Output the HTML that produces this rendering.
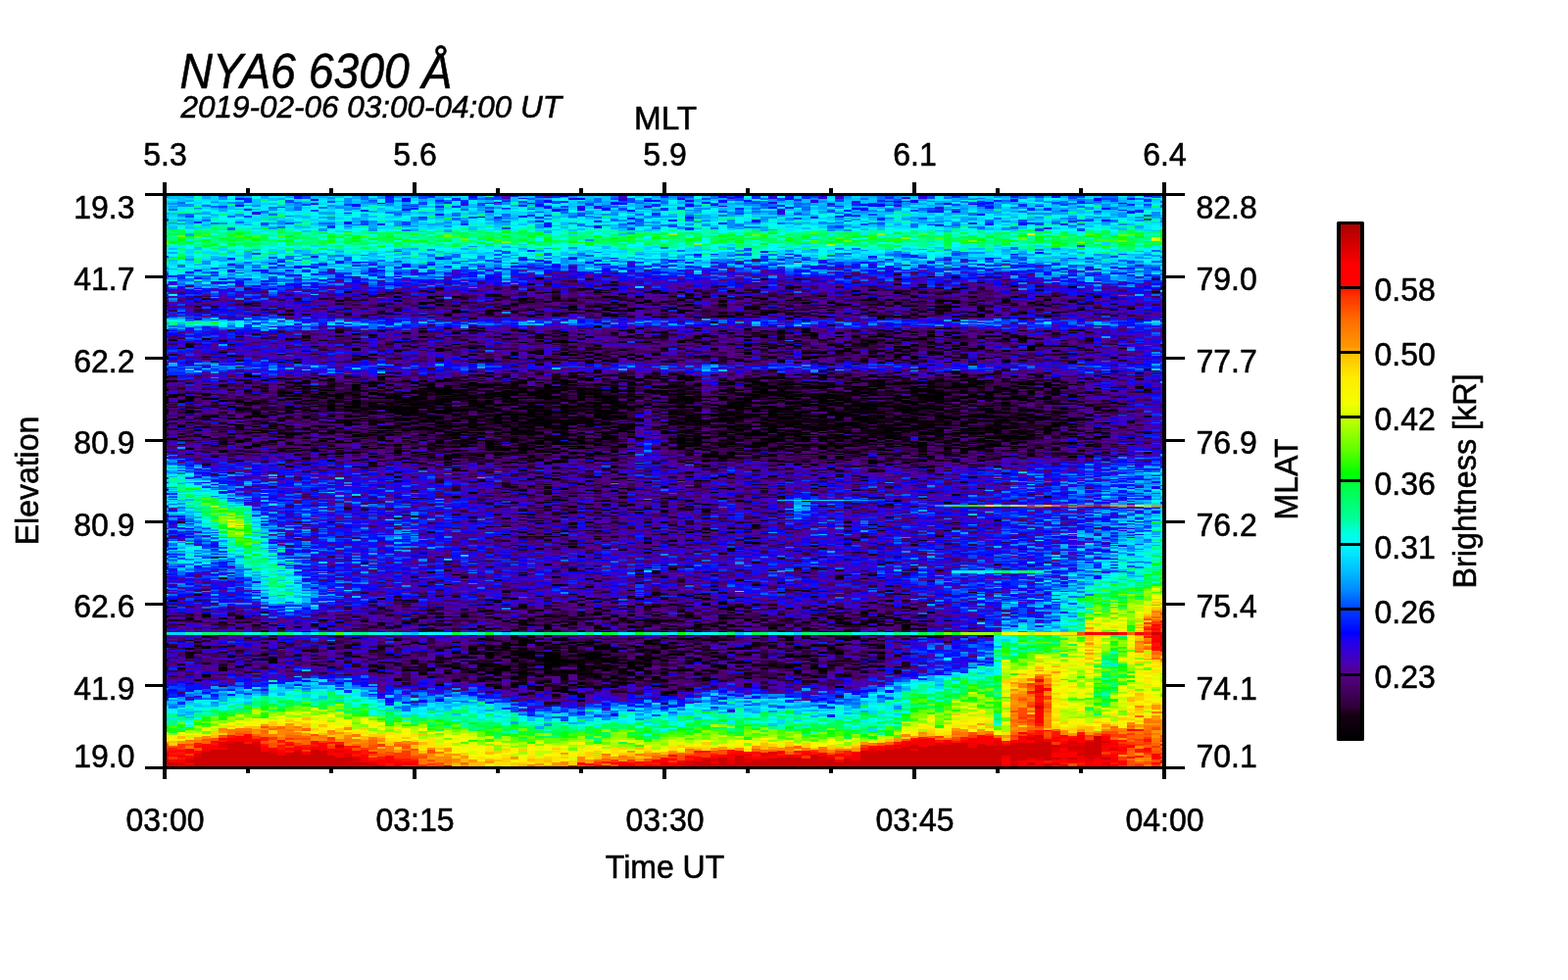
<!DOCTYPE html>
<html lang="en"><head><meta charset="utf-8"><title>NYA6 6300 Å keogram</title>
<style>
html,body{margin:0;padding:0;background:#fff;overflow:hidden}
svg{display:block}
text{font-family:"Liberation Sans",sans-serif;fill:#000;stroke:#000;stroke-width:0.55}
</style></head>
<body>
<svg width="1600" height="1000" viewBox="0 0 1600 1000" font-size="32">
<rect width="1600" height="1000" fill="#fff"/>
<defs><clipPath id="c"><rect x="170" y="200" width="1016" height="582"/></clipPath>
<linearGradient id="g" x1="0" y1="1" x2="0" y2="0"><stop offset="0.000" stop-color="#000"/><stop offset="0.050" stop-color="#180016"/><stop offset="0.060" stop-color="#2c0034"/><stop offset="0.125" stop-color="#560084"/><stop offset="0.150" stop-color="#4600b9"/><stop offset="0.190" stop-color="#20e"/><stop offset="0.205" stop-color="#00f"/><stop offset="0.250" stop-color="#003cff"/><stop offset="0.290" stop-color="#008cff"/><stop offset="0.330" stop-color="#00c4ff"/><stop offset="0.376" stop-color="#00f8ff"/><stop offset="0.400" stop-color="#00ffe1"/><stop offset="0.430" stop-color="#00ff96"/><stop offset="0.490" stop-color="#00ff46"/><stop offset="0.515" stop-color="#0f0"/><stop offset="0.560" stop-color="#60ff00"/><stop offset="0.610" stop-color="#b0ff00"/><stop offset="0.650" stop-color="#f4ff00"/><stop offset="0.700" stop-color="#ffec00"/><stop offset="0.745" stop-color="#ffc000"/><stop offset="0.760" stop-color="#ff9800"/><stop offset="0.810" stop-color="#ff6e00"/><stop offset="0.860" stop-color="#ff3000"/><stop offset="0.882" stop-color="#f00"/><stop offset="0.919" stop-color="#f00"/><stop offset="1.000" stop-color="#a80000"/></linearGradient></defs>
<g clip-path="url(#c)"><rect x="170" y="200" width="1016" height="582" fill="#2200ee"/>
<g transform="translate(167.75 200) scale(8.5 1)" fill="none" stroke-width="1" shape-rendering="crispEdges">
<path stroke="#000" d="M0 165v2m0 21v2m0 7v2m0 6v2m0 7v1m0 5v1m0 11v2m1-31v3m0 21v1m0 184v2m0 18v2m1-232v2m0 5v2m0 15v1m0 7v2m0 6v1m0 3v1m1-43v4m0 7v2m0 1v1m0 1v2m0 35v2m0 172v2m0 12v2m0 18v2m1-229v2m0 20v1m0 193v2m0 10v1m0 26v2m1-294v2m0 21v2m0 48v1m0 151v4m0 29v3m0 14v2m0 10v3m1-285v2m0 5v1m0 9v3m1-67v1m0 48v2m0 3v1m0 26v1m0 224v1m0 15v2m1-321v2m0 50v2m0 7v2m0 8v1m0 240v2m1-267v2m0 4v3m0 12v1m0 2v4m0 5v1m0 6v3m0 227v2m1-372v2m0 72v2m0 12v3m0 24v3m0 7v1m0 20v1m0 178v1m1-216v4m0 12v1m0 5v1m0 11v3m0 181v2m1-252v2m0 10v1m0 23v3m0 24v1m0 184v2m0 3v1m0 19v2m0 5v2m0 3v2m1-251v1m0 4v1m0 244v4m1-285v1m0 7v1m0 6v2m0 12v2m0 6v1m0 3v1m0 8v1m1-54v2m0 9v2m0 4v2m0 6v1m0 20v1m0 6v2m0 2v1m0 22v1m1-71v1m0 2v3m0 1v2m0 8v2m0 25v1m0 13v1m1-100v1m0 29v4m0 2v2m0 15v1m0 5v2m0 5v3m0 9v1m0 9v2m0 5v2m0 26v1m0 162v1m1-292v1m0 31v2m0 9v1m0 5v1m0 5v1m0 5v1m0 31v1m0 11v3m0 175v2m1-241v2m0 1v1m0 12v1m0 3v1m0 1v1m0 6v1m0 7v2m0 13v2m0 9v1m0 2v2m1-79v1m0 11v1m0 4v2m0 3v2m0 3v7m0 10v2m0 2v1m0 3v3m0 6v2m0 9v1m0 197v2m0 2v3m1-357v2m0 93v4m0 1v1m0 10v1m0 10v2m0 1v1m0 4v1m0 13v1m0 6v1m0 4v2m1-75v1m0 17v1m0 6v2m0 7v2m0 4v6m0 5v1m0 10v1m1-107v2m0 8v2m0 35v5m0 5v2m0 4v4m0 1v4m0 1v1m0 5v1m0 7v2m0 9v3m0 4v1m0 7v1m0 2v2m0 187v2m1-248v2m0 10v2m0 6v1m0 2v1m0 14v1m0 12v2m0 176v2m1-294v1m0 47v3m0 1v2m0 5v3m0 2v2m0 7v2m0 1v1m0 1v3m0 7v1m0 2v2m0 9v1m0 21v2m0 173v1m0 4v1m0 37v3m1-375v2m0 4v2m0 57v1m0 7v2m0 9v2m0 4v3m0 2v1m0 3v1m0 2v5m0 2v1m0 9v2m0 4v2m0 2v2m0 4v4m0 7v1m0 152v2m0 23v1m0 24v2m1-326v1m0 55v2m0 11v2m0 4v1m0 6v2m0 6v2m0 8v1m0 2v1m0 3v2m0 17v1m0 204v2m1-367v2m0 2v2m0 88v1m0 5v6m0 1v2m0 3v9m0 4v1m0 13v1m0 11v1m0 5v3m0 2v1m0 63v2m0 108v2m0 36v2m1-339v2m0 47v2m0 10v2m0 1v1m0 4v3m0 1v1m0 3v2m0 3v4m0 1v3m0 2v1m0 1v1m0 5v1m0 6v2m0 19v2m0 2v1m0 53v1m0 86v1m0 22v2m0 31v1m1-280v3m0 2v1m0 3v3m0 3v4m0 3v3m0 1v7m0 4v2m0 3v1m0 4v3m0 5v1m0 5v2m0 4v2m0 3v2m0 168v2m0 12v2m0 26v2m0 8v2m1-372v2m0 22v2m0 4v2m0 7v1m0 35v2m0 2v2m0 2v1m0 4v1m0 4v2m0 3v1m0 3v2m0 2v1m0 1v2m0 5v3m0 5v3m0 4v2m0 4v1m0 22v1m0 157v1m0 25v2m1-356v3m0 33v1m0 52v2m0 2v2m0 14v1m0 5v1m0 1v2m0 5v3m0 1v1m0 2v1m0 2v1m0 11v1m0 3v1m0 21v1m0 147v2m0 1v2m0 56v2m1-380v2m0 81v2m0 7v4m0 6v3m0 2v1m0 2v2m0 2v3m0 2v4m0 2v3m0 1v2m0 3v2m0 3v1m0 5v3m0 2v1m0 169v2m0 2v2m0 2v1m0 41v2m1-357v2m0 66v2m0 3v10m0 1v1m0 2v1m0 1v2m0 4v7m0 7v1m0 4v2m0 4v1m0 2v2m0 11v1m0 3v2m0 2v4m0 6v1m0 185v2m0 24v2m1-377v2m0 3v3m0 20v2m0 10v1m0 41v1m0 4v3m0 3v1m0 1v1m0 8v2m0 1v2m0 2v3m0 3v2m0 2v1m0 1v2m0 2v2m0 1v3m0 2v2m0 11v1m0 3v2m0 8v1m0 112v1m0 77v3m0 9v2m0 2v3m1-346v1m0 53v2m0 1v2m0 1v2m0 3v2m0 21v3m0 4v2m0 6v2m0 6v1m0 1v1m0 1v4m0 6v1m0 17v1m0 147v2m0 44v1m1-339v2m0 16v2m0 31v1m0 2v4m0 9v4m0 1v2m0 4v1m0 9v1m0 2v5m0 3v2m0 4v1m0 2v1m0 1v2m0 2v2m0 50v2m0 137v2m0 2v1m0 2v1m0 12v2m0 4v1m0 2v2m1-335v2m0 52v5m0 9v1m0 5v6m0 1v2m0 5v2m0 5v1m0 4v2m0 2v1m0 7v1m0 8v1m0 9v1m0 3v2m0 177v2m0 23v4m0 7v2m1-373v2m0 1v2m0 45v2m0 24v2m0 7v2m0 3v1m0 1v5m0 2v3m0 5v2m0 2v2m0 7v2m0 4v1m0 7v3m0 1v3m0 165v2m0 2v1m0 14v2m0 2v1m0 16v2m0 1v7m0 5v3m0 5v3m0 10v1m1-307v1m0 4v1m0 4v1m0 1v1m0 7v1m0 4v2m0 3v11m0 10v1m0 6v1m0 4v1m0 7v2m0 1v2m0 144v1m0 1v1m0 15v2m0 30v2m0 9v2m0 7v3m0 2v3m0 10v3m1-392v2m0 1v2m0 24v2m0 56v2m0 2v5m0 2v2m0 1v2m0 5v4m0 3v2m0 5v3m0 4v1m0 11v1m0 4v3m0 2v2m0 7v2m0 20v1m0 34v2m0 15v1m0 87v1m0 22v2m0 2v2m0 7v2m0 8v6m1-376v2m0 48v4m0 23v1m0 12v5m0 2v4m0 6v2m0 2v1m0 1v1m0 2v6m0 1v1m0 3v3m0 8v3m0 7v1m0 11v1m0 1v1m0 84v1m0 64v1m0 13v1m0 6v2m0 4v2m0 7v2m0 5v2m0 2v1m0 4v3m0 7v1m0 1v2m0 3v4m1-390v2m0 30v3m0 10v1m0 38v2m0 5v2m0 2v2m0 2v1m0 5v1m0 1v1m0 1v5m0 4v2m0 2v2m0 2v3m0 2v1m0 3v3m0 11v1m0 2v4m0 12v1m0 26v2m0 18v2m0 3v1m0 5v1m0 88v1m0 12v2m0 2v2m0 2v1m0 9v9m0 2v2m0 3v3m0 8v1m0 2v2m0 3v4m1-367v1m0 42v1m0 19v1m0 8v1m0 4v5m0 9v3m0 2v8m0 1v3m0 5v2m0 6v1m0 10v1m0 2v1m0 6v2m0 171v2m0 13v2m0 10v6m0 1v2m0 5v2m0 2v2m1-297v1m0 10v4m0 1v4m0 3v2m0 1v5m0 1v1m0 2v1m0 3v1m0 1v2m0 1v2m0 8v1m0 5v1m0 1v4m0 2v2m0 2v1m0 8v2m0 16v2m0 72v1m0 61v1m0 6v1m0 22v1m0 5v1m0 6v1m0 4v5m0 3v1m0 3v2m1-319v2m0 25v5m0 4v7m0 7v2m0 1v6m0 4v1m0 1v6m0 8v1m0 2v2m0 12v1m0 11v1m0 70v2m0 4v2m0 87v3m0 6v2m0 15v10m0 3v4m0 4v2m1-348v1m0 49v2m0 2v2m0 2v2m0 4v3m0 3v1m0 3v1m0 4v3m0 3v1m0 3v1m0 4v4m0 2v2m0 2v2m0 5v3m0 3v2m0 2v2m0 6v3m0 13v1m0 2v2m0 9v1m0 9v2m0 77v2m0 6v2m0 23v2m0 20v2m0 6v1m0 8v2m0 4v13m0 5v2m0 18v2m1-393v2m0 4v1m0 18v2m0 1v2m0 4v3m0 9v2m0 28v4m0 4v2m0 8v3m0 4v5m0 2v1m0 4v1m0 4v3m0 1v3m0 3v2m0 5v1m0 2v1m0 8v1m0 9v2m0 38v1m0 16v1m0 106v1m0 2v2m0 11v2m0 4v2m0 14v4m0 3v1m0 3v4m0 5v2m0 11v2m1-395v2m0 35v1m0 35v1m0 11v1m0 1v1m0 10v1m0 10v2m0 2v1m0 3v1m0 1v3m0 8v1m0 5v2m0 2v2m0 1v1m0 1v1m0 3v2m0 3v2m0 37v2m0 10v1m0 4v2m0 9v1m0 3v2m0 18v2m0 81v1m0 5v2m0 4v1m0 2v2m0 1v1m0 5v2m0 2v2m0 3v4m0 8v3m0 10v2m0 5v2m1-347v1m0 4v1m0 17v1m0 9v1m0 1v1m0 2v1m0 2v2m0 2v3m0 4v1m0 5v1m0 6v1m0 2v3m0 1v1m0 1v1m0 6v1m0 7v4m0 2v3m0 4v1m0 3v1m0 26v2m0 33v1m0 87v2m0 10v1m0 2v2m0 22v1m0 1v2m0 8v3m0 8v7m0 2v2m0 7v3m1-356v2m0 42v2m0 7v2m0 3v2m0 11v2m0 4v2m0 6v5m0 9v2m0 18v2m0 3v1m0 27v1m0 4v1m0 13v1m0 17v2m0 65v1m0 35v2m0 18v1m0 9v8m0 6v2m1-329v2m0 7v2m0 20v2m0 6v2m0 5v1m0 2v2m0 1v2m0 5v4m0 2v3m0 1v5m0 7v1m0 7v1m0 8v1m0 1v3m0 5v4m0 6v1m0 15v2m0 15v1m0 34v1m0 38v1m0 46v4m0 19v2m0 5v2m0 2v5m0 1v7m0 5v2m0 3v2m0 7v2m1-390v2m0 9v4m0 2v2m0 66v1m0 4v2m0 3v2m0 5v4m0 2v2m0 6v2m0 1v2m0 2v2m0 3v4m0 2v2m0 2v3m0 2v4m0 13v2m0 14v2m0 34v1m0 5v1m0 31v1m0 69v2m0 6v2m0 8v1m0 3v1m0 14v4m0 4v2m0 2v2m0 1v2m0 6v3m1-398v2m0 1v2m0 16v1m0 4v2m0 7v1m0 59v2m0 5v2m0 2v1m0 1v2m0 2v2m0 2v3m0 2v7m0 2v5m0 2v2m0 2v1m0 3v1m0 2v2m0 1v3m0 19v2m0 2v1m0 3v2m0 18v2m0 7v1m0 2v2m0 21v1m0 103v2m0 31v4m0 6v1m0 4v2m0 12v4m0 6v3m1-403v2m0 36v1m0 18v2m0 31v1m0 8v2m0 9v2m0 2v4m0 3v2m0 2v4m0 4v2m0 2v4m0 10v1m0 2v1m0 9v1m0 20v1m0 31v1m0 113v1m0 42v1m0 2v2m0 4v3m0 11v2m1-382v2m0 24v2m0 21v2m0 22v2m0 4v2m0 1v2m0 8v1m0 5v2m0 16v5m0 3v2m0 3v2m0 14v1m0 37v1m0 102v1m0 15v2m0 3v2m0 14v2m0 17v2m0 15v5m0 1v2m0 5v2m1-376v2m0 18v2m0 28v1m0 23v1m0 16v1m0 7v2m0 13v2m0 3v2m0 11v2m0 51v1m0 20v1m0 89v2m0 31v1m0 15v2m0 8v4m0 7v5m0 5v3m1-387v3m0 11v2m0 61v1m0 14v1m0 13v2m0 2v1m0 78v1m0 22v2m0 33v2m0 71v1m0 26v4m0 5v2m0 9v2m0 2v2m0 5v4m1-392v2m0 25v1m0 20v1m0 5v1m0 42v3m0 2v2m0 5v2m0 13v1m0 206v2m0 4v2m0 17v2m0 2v2m0 5v4m0 3v3m0 17v4m0 5v2m1-394v2m0 11v1m0 17v2m0 28v2m0 14v1m0 1v2m0 5v2m0 15v1m0 11v1m0 18v2m0 183v1m0 14v2m0 1v2m0 4v2m0 9v2m0 19v2m0 21v3m1-319v1m0 3v2m0 7v1m0 4v2m0 2v1m0 7v4m0 2v2m0 5v2m0 6v3m0 4v2m0 7v2m0 19v1m0 73v2m0 94v2m0 15v1m0 18v2m0 20v3m1-403v2m0 11v2m0 28v2m0 33v4m0 15v1m0 1v2m0 6v4m0 10v2m0 4v1m0 2v2m0 6v1m0 3v6m0 2v4m0 81v1m0 17v1m0 68v2m0 22v2m0 30v2m1-386v2m0 3v1m0 5v2m0 4v2m0 68v2m0 7v3m0 8v6m0 2v2m0 2v1m0 4v4m0 1v2m0 2v2m0 4v5m0 1v1m0 4v1m0 4v2m0 3v1m0 9v1m0 27v1m0 44v1m0 75v1m0 9v1m0 22v2m0 17v2m0 5v1m1-365v2m0 8v2m0 17v2m0 4v2m0 13v1m0 21v1m0 5v3m0 5v2m0 4v1m0 10v4m0 2v2m0 3v1m0 1v2m0 5v1m0 1v1m0 3v1m0 2v2m0 1v3m0 1v2m0 8v1m0 27v1m0 118v2m0 26v4m0 3v2m0 4v2m0 4v2m0 13v4m0 12v2m1-326v1m0 58v2m0 18v1m0 3v2m0 3v1m0 6v2m0 3v2m0 11v1m0 44v2m0 15v3m0 2v1m0 3v1m0 35v1m0 32v2m0 69v1m1-346v1m0 13v1m0 56v1m0 2v2m0 1v2m0 1v2m0 11v2m0 24v5m0 21v2m0 13v1m0 38v1m0 59v2m0 60v1m0 1v2m0 6v2m0 9v2m1-385v2m0 61v1m0 23v1m0 1v2m0 6v1m0 6v2m0 6v3m0 1v1m0 3v1m0 1v1m0 2v4m0 3v3m0 6v2m0 8v3m0 15v1m0 14v2m0 133v2m0 5v1m0 7v2m0 7v2m0 24v2m0 6v3m1-385v2m0 24v2m0 15v2m0 9v2m0 39v2m0 3v1m0 14v6m0 2v3m0 1v1m0 2v2m0 1v1m0 1v2m0 1v3m0 4v1m0 3v1m0 1v2m0 2v3m0 7v3m0 78v2m0 15v2m0 60v2m0 25v2m0 11v2m0 12v2m1-357v2m0 46v1m0 32v2m0 3v2m0 1v9m0 7v1m0 1v1m0 5v3m0 1v3m0 2v2m0 4v2m0 159v1m0 50v3m0 13v1m0 2v2m1-346v2m0 6v2m0 1v2m0 2v2m0 8v2m0 2v1m0 3v2m0 23v2m0 2v1m0 4v2m0 2v4m0 3v2m0 1v2m0 4v1m0 3v1m0 6v1m0 1v1m0 7v2m0 9v3m0 83v1m0 13v1m0 77v2m0 10v2m0 12v3m0 6v2m1-346v1m0 62v1m0 3v1m0 5v1m0 2v2m0 1v3m0 5v1m0 4v2m0 1v3m0 1v2m0 11v1m0 2v7m0 7v1m0 3v1m0 2v2m0 3v2m0 1v1m0 67v2m0 16v2m0 79v2m1-332v2m0 14v2m0 15v1m0 5v2m0 6v1m0 33v2m0 3v5m0 1v6m0 9v2m0 1v2m0 3v1m0 5v4m0 2v2m0 8v4m0 2v2m0 2v3m0 11v1m0 41v1m0 119v2m0 2v1m0 6v1m1-321v2m0 34v2m0 37v4m0 2v2m0 2v1m0 2v1m0 8v1m0 2v6m0 2v1m0 7v4m0 1v3m0 6v3m0 6v2m0 1v1m0 3v1m0 117v1m0 57v2m0 16v2m1-323v2m0 7v1m0 22v1m0 15v2m0 4v2m0 5v2m0 2v2m0 2v1m0 1v1m0 7v2m0 1v2m0 4v3m0 2v2m0 3v2m0 1v2m0 1v1m0 1v3m0 2v3m0 7v1m0 3v1m0 174v2m0 48v2m1-383v1m0 12v2m0 3v2m0 25v2m0 36v2m0 1v1m0 3v1m0 2v2m0 3v4m0 1v4m0 3v2m0 4v1m0 2v3m0 4v4m0 3v2m0 1v2m0 3v1m0 4v2m0 5v2m0 10v1m0 168v1m0 8v5m0 2v2m0 9v4m0 8v3m1-379v2m0 17v2m0 18v1m0 9v2m0 28v1m0 19v3m0 1v2m0 2v2m0 2v1m0 1v2m0 1v6m0 1v1m0 2v5m0 1v2m0 2v2m0 1v4m0 7v2m0 6v1m0 197v3m0 24v2m1-380v2m0 25v2m0 1v2m0 25v2m0 22v2m0 18v1m0 2v3m0 4v2m0 2v2m0 2v1m0 1v2m0 4v1m0 1v2m0 2v1m0 1v1m0 1v6m0 3v1m0 15v2m0 4v1m0 107v1m0 56v1m0 18v2m0 11v1m1-363v1m0 6v1m0 22v2m0 22v1m0 23v1m0 3v1m0 1v2m0 4v2m0 2v1m0 3v2m0 1v2m0 11v1m0 2v3m0 4v2m0 1v1m0 4v1m0 2v1m0 5v1m0 45v1m0 71v1m0 51v1m0 4v1m0 2v2m0 6v1m0 29v2m0 7v6m1-372v1m0 46v3m0 21v4m0 4v2m0 2v2m0 5v2m0 3v6m0 4v4m0 4v3m0 9v1m0 1v2m0 1v1m0 3v2m0 1v2m0 5v4m0 2v1m0 3v3m0 28v1m0 19v1m0 51v1m0 96v2m0 2v1m0 13v3m1-378v2m0 6v1m0 6v1m0 27v2m0 39v1m0 1v1m0 4v2m0 1v5m0 1v2m0 1v3m0 6v4m0 3v1m0 1v1m0 3v1m0 2v3m0 7v2m0 2v1m0 2v1m0 5v2m0 8v1m0 7v1m0 151v1m0 30v3m1-353v2m0 27v2m0 2v1m0 10v1m0 2v2m0 25v2m0 17v2m0 2v2m0 1v2m0 8v10m0 1v5m0 4v1m0 2v4m0 2v2m0 3v4m0 2v2m0 1v1m0 2v1m0 12v2m0 147v1m0 6v2m0 20v2m0 6v3m0 6v1m0 25v2m1-347v1m0 2v1m0 23v2m0 6v2m0 8v1m0 7v3m0 2v2m0 2v2m0 3v2m0 6v5m0 1v1m0 4v2m0 1v4m0 7v1m0 5v2m0 6v1m0 62v2m0 96v2m0 2v4m0 5v3m0 7v1m0 28v1m1-341v2m0 41v2m0 3v1m0 3v2m0 2v2m0 1v3m0 8v3m0 2v1m0 1v2m0 2v1m0 2v3m0 2v1m0 2v3m0 8v1m0 3v2m0 9v1m0 24v1m0 13v2m0 148v2m1-346v2m0 43v2m0 36v2m0 4v2m0 4v2m0 1v2m0 1v1m0 4v7m0 2v2m0 2v6m0 3v2m0 1v2m0 8v2m0 3v1m0 2v1m0 8v2m0 159v2m0 42v2m1-357v1m0 7v2m0 20v1m0 4v2m0 13v2m0 17v3m0 9v1m0 1v2m0 4v2m0 2v2m0 1v1m0 2v3m0 1v2m0 11v4m0 2v1m0 2v2m0 4v1m0 4v2m0 2v1m0 4v1m0 11v4m0 1v1m0 59v1m0 102v2m0 7v2m0 8v2m1-344v1m0 26v2m0 13v2m0 3v2m0 21v1m0 1v3m0 2v2m0 1v2m0 6v1m0 6v2m0 5v1m0 1v3m0 2v4m0 1v1m0 1v1m0 1v3m0 6v1m0 1v1m0 2v2m0 2v1m0 7v1m0 3v1m0 77v1m0 86v2m0 6v2m0 21v3m0 3v2m1-362v2m0 4v2m0 9v1m0 14v2m0 10v2m0 16v2m0 15v2m0 1v1m0 7v1m0 2v2m0 3v1m0 2v1m0 3v1m0 26v5m0 1v5m0 11v1m0 2v2m0 47v1m0 125v2m1-350v2m0 7v2m0 8v1m0 13v2m0 20v2m0 10v3m0 2v4m0 25v1m0 12v1m0 4v1m0 6v3m0 6v2m0 5v3m0 2v4m0 1v2m0 1v1m0 2v2m0 6v1m0 9v1m0 44v2m0 118v2m0 13v2m0 21v2m0 10v2m1-371v2m0 34v1m0 5v3m0 5v2m0 4v1m0 22v2m0 4v1m0 2v1m0 5v2m0 1v4m0 1v3m0 1v5m0 1v2m0 4v2m0 2v1m0 2v2m0 2v1m0 5v1m0 1v3m0 2v2m0 16v2m0 159v1m0 4v4m0 25v2m1-357v2m0 2v2m0 3v2m0 23v2m0 4v2m0 3v1m0 6v4m0 14v2m0 7v2m0 2v3m0 1v3m0 10v3m0 1v2m0 1v2m0 1v2m0 4v2m0 5v2m0 8v1m0 9v1m0 10v1m0 170v2m0 11v1m1-360v1m0 16v1m0 9v2m0 26v2m0 40v1m0 1v3m0 6v2m0 2v3m0 2v1m0 2v1m0 3v3m0 5v2m0 2v1m0 4v2m0 7v4m0 3v2m0 2v3m0 9v1m0 4v3m0 5v2m0 73v1m0 75v2m0 9v1m0 10v1m1-335v2m0 24v3m0 4v2m0 3v2m0 3v3m0 19v2m0 12v1m0 2v4m0 3v2m0 8v1m0 18v4m0 4v2m0 3v4m0 4v1m0 13v1m0 6v2m0 2v1m0 135v1m0 8v2m1-320v2m0 4v2m0 21v1m0 22v2m0 28v1m0 11v8m0 1v3m0 5v2m0 2v1m0 2v2m0 10v5m0 2v3m0 5v1m0 17v1m0 178v1m1-343v2m0 4v2m0 25v1m0 1v2m0 1v1m0 4v2m0 5v2m0 21v1m0 22v2m0 5v1m0 5v1m0 7v3m0 3v2m0 3v1m0 1v2m0 4v2m0 2v1m0 4v2m0 3v3m0 1v1m0 1v1m0 170v1m1-340v2m0 10v2m0 4v2m0 29v1m0 8v2m0 1v2m0 23v2m0 2v2m0 5v5m0 11v2m0 8v1m0 1v1m0 5v4m0 5v1m0 6v2m0 4v2m0 4v1m0 191v1m1-353v2m0 56v2m0 1v1m0 10v1m0 17v2m0 2v2m0 2v1m0 2v1m0 3v2m0 5v2m0 2v1m0 11v1m0 2v2m0 5v4m0 2v2m0 2v2m0 2v2m0 4v1m0 5v6m0 28v2m1-175v1m0 69v2m0 2v1m0 1v1m0 7v3m0 5v1m0 6v2m0 5v2m0 1v2m0 2v1m0 2v1m0 1v2m0 1v1m0 1v2m0 7v1m0 1v1m0 1v1m0 1v1m0 1v1m0 17v1m0 9v2m1-175v1m0 6v2m0 66v2m0 9v2m0 2v2m0 1v2m0 6v1m0 2v2m0 3v5m0 9v1m0 4v2m0 2v1m0 3v1m0 4v4m0 7v1m0 4v1m1-129v2m0 44v1m0 10v8m0 7v1m0 3v4m0 1v1m0 1v2m0 2v2m0 4v3m0 7v3m0 1v1m0 4v1m0 3v3m1-140v1m0 26v1m0 15v1m0 34v2m0 12v1m0 5v1m0 4v2m0 2v2m0 3v2m0 3v5m0 3v2m0 2v2m0 1v3m1-171v1m0 38v1m0 20v2m0 21v2m0 25v3m0 7v3m0 2v3m0 7v2m0 7v1m0 6v2m0 7v6m1-108v2m0 38v2m0 4v2m0 2v2m0 2v3m0 5v3m0 18v1m0 5v1m0 2v2m0 2v1m0 4v2m0 1v1m0 3v3m0 5v1m1-173v1m0 57v2m0 44v2m0 1v1m0 4v1m0 4v1m0 1v2m0 3v1m0 5v2m0 3v2m0 3v2m0 9v1m0 1v2m0 3v4m1-97v6m0 23v1m0 10v1m0 3v1m0 2v2m0 4v1m0 3v1m0 7v3m0 3v1m0 1v2m0 17v1m0 3v1m0 9v1m1-157v1m0 7v2m0 3v2m0 74v2m0 2v2m0 8v2m0 18v4m0 8v2m0 7v1m0 9v2m1-153v2m0 4v2m0 67v1m0 6v1m0 2v4m0 1v1m0 3v1m0 6v2m0 1v1m0 17v2m0 5v4m1-120v2m0 37v2m0 33v2m0 2v2m0 3v2m0 8v1m0 19v4m0 3v2m0 16v2m0 4v1m1-113v1m0 2v1m0 7v1m0 39v1m0 10v1m0 2v2m0 3v1m0 41v1m1-171v2m0 74v2m0 22v1m0 33v4m0 2v1m0 2v1m0 6v2m0 1v1m0 10v1m0 5v2m0 1v2m1-78v2m0 36v2m0 25v1m0 4v1m1-94v2m0 31v1m0 23v2m0 2v2m1-126v1m0 79v1m0 12v1m0 24v1m0 23v1m1-31v1m0 15v1m0 5v1m0 3v2m0 2v2m2-36v2m3 29v1m0 9v1m0 8v2"/>
<path stroke="#090008" d="M0 163v2m0 19v2m0 18v1m0 3v4m0 16v2m0 14v1m0 2v2m0 12v1m1-116v2m0 40v2m0 25v1m0 31v2m0 170v1m1-195v1m0 251v2m1-326v2m0 46v1m0 6v2m0 9v1m0 8v1m0 2v1m0 221v1m1-249v1m0 10v1m0 216v2m0 23v2m1-296v1m0 38v1m0 23v2m0 16v2m0 202v2m1-283v2m0 96v1m0 101v2m1-178v2m0 26v1m0 10v1m0 18v2m0 9v1m0 184v1m1-250v2m0 43v2m0 2v1m0 35v1m0 187v1m1-244v1m0 35v1m0 164v4m0 8v2m0 39v1m1-292v2m0 18v2m0 4v2m0 20v1m0 17v1m1-148v1m0 11v1m0 61v2m0 44v2m0 7v2m0 4v1m0 227v2m1-244v3m0 6v1m1-29v1m0 3v1m0 18v2m0 1v1m0 4v1m0 227v3m1-304v1m0 15v2m0 14v2m0 23v1m0 18v2m0 12v2m1-141v2m0 73v1m0 7v2m0 10v1m0 4v2m0 29v1m0 5v1m0 17v2m1-108v2m0 19v2m0 2v1m0 6v1m0 7v3m1-70v2m0 68v1m0 2v1m0 21v2m0 2v1m0 26v1m1-75v1m0 4v1m0 4v2m0 12v2m0 7v2m0 10v1m0 11v1m0 210v2m0 14v1m1-332v1m0 39v2m0 12v2m0 2v2m0 23v1m0 16v1m0 184v2m0 6v3m0 35v2m1-257v2m0 16v2m0 26v2m0 61v1m0 147v2m1-373v2m0 27v2m0 2v2m0 61v1m0 7v2m0 22v1m0 13v1m0 182v2m0 10v1m1-350v2m0 101v2m0 16v2m0 5v1m0 2v1m0 192v1m0 43v2m1-310v1m0 39v2m0 6v1m0 6v1m0 6v2m0 7v1m0 40v1m0 159v1m1-330v1m0 20v2m0 72v1m0 49v1m0 22v2m0 104v2m1-234v1m0 22v1m0 46v2m0 8v1m0 18v1m0 20v2m0 7v1m0 3v1m0 137v2m0 2v1m0 45v1m0 14v3m1-300v1m0 4v2m0 2v2m0 47v1m0 13v1m0 21v1m0 143v2m0 15v2m0 42v3m1-364v2m0 76v2m0 5v1m0 7v1m0 1v4m0 16v2m1-116v1m0 36v2m0 75v2m0 26v1m0 5v2m0 182v2m1-308v1m0 1v1m0 3v2m0 53v1m0 7v1m0 2v3m0 11v1m0 5v1m0 21v1m0 196v1m0 25v2m1-277v1m0 13v1m0 9v1m0 31v1m0 168v2m1-327v3m0 88v2m0 1v2m0 1v1m0 3v2m0 1v2m0 11v1m0 35v1m0 1v1m0 13v2m0 158v2m0 47v3m1-335v1m0 38v2m0 2v3m0 13v2m0 8v3m0 11v2m0 3v1m0 10v2m0 3v1m0 124v2m0 96v2m1-381v1m0 7v2m0 43v4m0 42v2m0 7v2m0 26v1m0 10v1m0 118v1m0 39v1m0 29v1m0 3v2m0 34v2m1-358v1m0 63v2m0 20v1m0 3v2m0 54v2m0 1v2m0 99v2m0 22v1m0 32v1m0 6v2m0 33v2m0 5v3m1-379v2m0 83v1m0 9v1m0 57v2m0 3v1m0 9v1m0 184v1m0 14v2m0 21v3m1-379v2m0 65v2m0 15v1m0 4v2m0 6v1m0 2v3m0 14v1m0 8v1m0 5v1m0 14v1m0 123v2m0 31v2m0 46v1m0 13v1m1-336v2m0 2v1m0 16v1m0 40v3m0 4v2m0 14v2m0 17v1m0 9v2m0 27v1m0 35v2m0 153v1m0 1v3m1-335v2m0 13v2m0 13v2m0 61v2m0 16v3m0 23v1m0 133v2m0 13v1m0 52v5m1-396v1m0 6v1m0 72v2m0 1v2m0 13v2m0 3v3m0 14v1m0 28v1m0 3v1m0 3v2m0 3v1m0 6v1m0 33v1m0 154v3m1-348v1m0 2v2m0 38v1m0 36v1m0 6v2m0 5v1m0 5v2m0 4v1m0 14v1m0 18v1m0 4v2m0 1v1m0 223v2m0 5v3m1-373v1m0 77v2m0 21v1m0 17v1m0 57v1m0 2v1m0 34v1m0 71v2m0 33v2m0 25v1m1-355v2m0 59v1m0 12v6m0 16v1m0 5v1m0 3v2m0 14v5m0 6v2m0 2v1m0 155v2m0 38v1m0 47v4m1-315v1m0 2v2m0 5v2m0 6v2m0 26v2m0 27v1m0 40v2m0 37v2m0 42v1m0 82v3m0 35v2m1-402v2m0 6v2m0 41v3m0 25v2m0 23v2m0 17v3m0 6v2m0 1v1m0 9v1m0 5v1m0 46v1m0 125v1m0 16v3m0 35v2m0 11v2m1-384v2m0 1v2m0 25v2m0 12v1m0 28v1m0 11v1m0 21v2m0 1v1m0 5v2m0 2v1m0 4v1m0 90v2m0 107v1m0 12v3m0 31v2m0 5v2m0 2v5m1-398v2m0 88v4m0 35v1m0 23v1m0 10v2m0 23v3m0 13v1m0 3v2m0 119v2m0 16v2m0 5v1m0 12v3m0 4v4m1-383v2m0 53v1m0 7v2m0 32v2m0 9v1m0 3v1m0 14v1m0 16v4m0 9v1m0 15v1m0 5v2m0 76v1m0 91v2m0 3v1m0 5v1m0 15v2m0 7v2m1-329v2m0 24v2m0 24v1m0 5v2m0 2v2m0 4v2m0 3v1m0 8v1m0 2v2m0 2v1m0 1v2m0 1v1m0 10v2m0 30v2m0 42v1m0 2v2m0 105v2m0 22v3m0 10v3m0 8v5m1-389v1m0 66v2m0 5v1m0 1v2m0 14v1m0 5v2m0 2v2m0 8v1m0 7v1m0 3v1m0 75v1m0 25v1m0 8v2m0 27v2m0 31v2m0 16v2m1-339v1m0 50v2m0 44v1m0 4v2m0 1v2m0 2v2m0 3v1m0 2v1m0 1v2m0 11v2m0 17v2m0 177v1m0 48v5m0 22v2m0 12v2m1-353v2m0 20v2m0 23v2m0 5v2m0 14v3m0 15v2m0 4v1m0 6v2m0 19v1m0 4v2m0 62v1m0 25v1m0 9v2m0 6v1m0 32v1m0 24v2m0 29v2m1-392v2m0 13v1m0 53v1m0 36v1m0 4v1m0 17v1m0 5v1m0 11v1m0 3v2m0 79v1m0 83v2m0 5v2m0 16v4m0 29v2m0 7v1m0 6v3m0 10v3m1-295v2m0 10v1m0 2v2m0 2v1m0 26v1m0 15v1m0 44v1m0 125v2m0 30v1m0 4v3m1-342v2m0 56v2m0 7v2m0 18v1m0 4v1m0 9v2m0 3v3m0 21v1m0 4v2m0 15v1m0 47v1m0 88v1m0 15v1m0 18v2m0 5v4m0 4v3m1-372v2m0 4v1m0 3v1m0 27v2m0 35v2m0 53v1m0 13v2m0 27v1m0 76v2m0 59v1m0 39v2m0 22v3m0 4v2m1-380v2m0 20v2m0 23v2m0 21v4m0 3v2m0 9v2m0 3v1m0 8v1m0 97v2m0 118v2m0 44v1m0 4v3m1-386v2m0 4v2m0 31v1m0 25v1m0 47v1m0 107v1m0 132v1m0 6v3m1-318v1m0 35v2m0 11v1m0 1v2m0 217v1m0 13v2m0 4v2m0 17v1m0 18v1m1-339v2m0 20v3m0 17v2m0 18v2m0 12v2m0 145v1m0 20v2m1-286v2m0 13v1m0 41v2m0 31v2m0 8v4m0 12v3m0 13v2m0 7v2m0 12v2m0 41v2m0 10v1m0 11v2m0 110v3m0 22v2m0 9v2m0 3v2m0 10v3m0 5v3m0 12v2m1-408v1m0 11v2m0 52v2m0 39v2m0 4v1m0 111v1m0 7v2m0 43v2m0 50v2m0 21v2m0 3v2m0 5v2m1-372v2m0 17v2m0 69v1m0 1v2m0 2v2m0 2v1m0 8v3m0 13v2m0 6v2m0 9v1m0 3v2m0 52v1m0 106v2m0 16v1m0 17v1m0 13v1m0 2v2m0 6v2m1-368v1m0 82v2m0 2v1m0 15v2m0 21v1m0 2v1m0 20v1m0 20v1m0 13v1m0 23v2m0 7v2m0 30v1m0 55v2m0 55v2m0 10v1m1-366v1m0 25v1m0 69v2m0 6v1m0 9v2m0 4v2m0 4v1m0 9v1m0 9v2m0 14v1m0 39v2m0 31v1m0 59v1m0 85v1m1-351v2m0 61v1m0 5v2m0 15v4m0 13v1m0 19v2m0 2v2m0 43v1m0 95v2m0 40v2m0 21v3m0 5v2m0 6v4m1-340v1m0 13v2m0 38v1m0 14v1m0 2v2m0 27v2m0 8v1m0 171v2m0 5v2m0 22v2m0 7v3m1-375v2m0 14v2m0 13v2m0 1v1m0 56v1m0 1v1m0 2v1m0 1v1m0 35v2m0 7v1m0 14v5m0 95v2m0 48v3m0 13v2m0 24v2m1-337v1m0 44v1m0 22v2m0 4v1m0 14v1m0 55v2m0 30v2m0 119v2m0 4v1m0 1v1m0 9v2m1-236v1m0 17v1m0 2v1m0 1v1m0 30v1m0 8v2m0 158v2m1-326v2m0 8v2m0 45v1m0 28v2m0 2v1m0 8v1m0 3v1m0 4v2m0 11v3m0 11v2m0 2v2m0 20v1m0 159v2m0 50v2m0 14v2m1-379v2m0 34v1m0 37v2m0 7v1m0 7v1m0 1v1m0 3v1m0 5v1m0 35v3m0 23v2m0 67v2m0 46v2m0 53v1m0 27v1m1-388v2m0 16v1m0 7v2m0 21v2m0 10v1m0 2v2m0 5v1m0 69v2m0 2v2m0 16v1m0 42v1m0 32v1m0 100v2m1-270v2m0 19v2m0 14v2m0 7v2m0 2v1m0 1v2m0 6v2m0 2v2m0 8v1m0 8v1m0 15v1m0 191v1m1-339v2m0 20v2m0 3v2m0 6v2m0 13v2m0 27v2m0 2v2m0 2v1m0 37v1m0 27v2m0 56v1m0 75v1m0 44v2m1-317v1m0 59v2m0 5v1m0 17v2m0 9v2m0 23v2m0 207v1m1-346v2m0 29v1m0 15v1m0 24v2m0 6v2m0 8v1m0 40v1m0 22v2m0 87v1m0 39v1m0 66v2m0 6v3m0 3v3m0 6v2m1-368v1m0 32v2m0 31v1m0 1v2m0 11v2m0 12v1m0 11v1m0 2v1m0 197v2m0 32v3m0 18v1m1-351v2m0 44v2m0 3v1m0 3v1m0 28v2m0 2v1m0 9v1m0 10v1m0 14v1m0 9v2m0 19v1m0 61v2m0 93v2m0 19v1m0 16v3m1-391v2m0 11v1m0 7v2m0 72v1m0 6v3m0 7v2m0 13v3m0 2v1m0 3v1m0 9v1m0 187v1m0 8v2m1-315v2m0 60v1m0 1v1m0 21v1m0 16v1m0 8v2m0 6v2m0 2v1m0 15v2m0 145v2m0 21v1m0 36v2m1-274v1m0 5v3m0 216v2m1-284v1m0 6v2m0 35v1m0 2v2m0 3v1m0 4v2m0 7v2m0 36v1m0 63v2m0 35v2m1-260v2m0 23v1m0 37v2m0 10v1m0 15v2m0 20v3m0 12v1m0 7v2m0 14v1m0 3v1m0 12v1m0 9v2m0 201v1m1-360v2m0 25v2m0 4v2m0 13v2m0 27v2m0 20v2m0 2v1m0 7v1m0 11v1m0 5v1m0 41v1m0 145v2m0 42v2m1-387v2m0 6v2m0 42v1m0 12v1m0 38v3m0 8v2m0 6v4m0 5v2m0 14v1m0 1v2m0 19v1m0 13v2m0 104v2m0 44v4m0 15v2m0 12v2m0 7v2m1-340v1m0 3v2m0 27v2m0 13v1m0 5v2m0 2v1m0 17v2m0 22v1m0 4v1m0 4v1m0 9v3m0 48v2m0 122v1m0 13v2m0 23v3m0 6v2m1-338v2m0 66v1m0 2v1m0 14v2m0 4v2m0 15v2m0 148v2m0 40v1m1-361v2m0 23v2m0 28v2m0 8v1m0 3v2m0 28v2m0 14v2m0 3v4m0 6v1m0 4v1m0 6v3m0 5v1m0 10v2m0 17v1m0 170v2m1-315v1m0 21v1m0 13v2m0 44v1m0 11v1m0 11v1m0 39v2m0 136v1m0 12v2m0 12v1m0 7v2m1-350v1m0 7v2m0 94v1m0 5v2m0 4v2m0 14v2m0 2v3m0 4v2m0 1v1m0 10v2m0 3v2m0 17v1m0 20v1m0 124v2m1-325v2m0 23v2m0 72v2m0 7v2m0 6v1m0 15v1m0 3v6m0 15v2m0 4v1m0 172v2m0 6v2m1-304v1m0 50v2m0 14v4m0 3v1m0 2v2m0 1v2m0 8v2m0 29v1m0 4v2m1-151v1m0 26v1m0 16v2m0 20v2m0 10v2m0 26v1m0 4v4m0 2v1m0 20v1m0 194v2m1-335v2m0 71v1m0 5v2m0 4v1m0 9v2m0 13v2m0 3v3m0 29v1m0 70v1m0 6v1m1-260v2m0 24v2m0 29v2m0 37v2m0 10v1m0 23v1m0 42v1m0 10v2m0 34v2m1-157v2m0 49v2m0 2v1m0 5v2m1-110v2m0 4v1m0 84v1m0 11v1m0 37v1m0 13v1m0 16v1m0 39v1m0 89v1m1-291v2m0 6v2m0 18v2m0 8v3m0 27v2m0 6v2m0 2v2m0 32v2m0 28v1m0 3v1m0 3v1m0 31v1m1-182v1m0 98v2m0 6v1m0 13v2m0 4v1m0 5v1m0 1v2m0 194v2m1-308v2m0 54v1m0 6v2m0 4v1m0 18v2m0 3v1m0 8v1m0 30v2m1-171v1m0 82v1m0 9v1m0 1v2m0 13v2m0 7v2m0 1v1m0 5v2m0 8v1m0 10v1m1-165v2m0 9v2m0 7v1m0 29v2m0 57v2m0 2v1m0 23v1m0 2v1m0 8v2m0 4v1m0 10v1m1-140v2m0 47v1m0 19v1m0 20v1m0 6v2m0 9v1m0 2v1m0 20v2m0 15v1m0 92v1m1-171v2m0 36v2m0 9v2m0 2v1m0 3v1m0 14v4m1-115v2m1 41v1m0 9v2m0 4v1m0 14v2m0 11v4m0 20v1m1-75v2m0 8v2m0 12v1m0 7v2m0 13v1m0 10v1m0 5v2m1-59v2m0 27v2m0 2v1m0 2v4m0 7v2m0 7v1m1-113v1m0 13v1m0 16v1m0 31v4m0 11v1m0 33v2m1-138v2m0 87v1m0 35v1m1-85v2m0 55v2m0 26v1m1-128v1m0 78v1m0 21v4m0 17v2m0 3v1m0 4v2m1-37v1m0 6v2m0 4v1m0 33v1m0 5v1m1-150v2m0 47v2m1 39v1m1-92v2m0 113v1m1-44v2m0 6v2m1 28v2"/>
<path stroke="#110010" d="M0 190v1m0 16v1m0 9v3m0 14v1m0 15v1m0 168v2m0 7v2m0 26v3m1-31v1m1-274v1m0 52v1m0 8v1m0 20v1m0 10v1m0 82v2m0 94v1m0 8v1m0 43v2m1-332v2m0 70v1m0 25v1m0 13v1m0 197v2m0 4v5m1-253v2m0 14v2m0 6v1m0 162v2m1-263v2m0 19v1m0 39v2m0 27v2m1-27v1m0 36v2m0 1v1m0 3v2m1-62v1m0 37v1m0 2v1m0 16v2m0 5v2m0 169v2m0 2v2m0 11v2m0 34v2m1-329v1m0 69v2m0 8v1m0 13v1m0 207v2m1-293v2m0 5v1m0 33v1m0 9v2m0 17v2m0 31v1m1-90v2m0 29v2m0 27v2m0 4v2m0 8v1m0 192v2m0 16v1m0 5v2m1-336v2m0 52v2m0 14v3m0 10v3m0 6v1m0 28v1m1-67v2m0 12v1m0 5v3m0 22v2m0 9v2m0 171v2m0 17v2m1-259v1m0 33v1m0 12v1m0 15v3m0 9v1m0 189v2m1-292v1m0 36v2m0 3v2m0 33v1m0 2v1m0 7v1m0 190v2m0 13v1m0 5v1m1-346v2m0 27v2m0 5v1m0 34v1m0 28v1m0 1v2m0 14v1m0 2v2m0 2v1m0 2v2m0 6v2m1-88v2m0 28v1m0 44v2m0 11v1m0 8v2m0 174v2m0 27v2m1-323v1m0 48v2m0 1v3m0 6v2m0 48v2m0 6v2m0 195v2m1-245v1m0 13v1m1-52v2m0 8v1m0 1v1m0 40v1m0 4v2m0 23v1m1-150v2m0 64v1m0 3v2m0 2v4m0 7v1m0 7v3m0 12v1m0 1v1m0 26v2m0 6v2m0 210v2m1-340v2m0 53v1m0 17v2m0 54v1m1-147v3m0 62v1m0 24v1m0 1v2m0 3v2m0 23v2m0 18v2m0 156v1m0 26v2m0 10v4m0 6v2m0 18v1m1-349v2m0 6v2m0 12v2m0 3v1m0 61v1m0 10v2m0 6v2m0 14v1m0 11v1m0 180v2m0 10v2m1-308v2m0 25v2m0 6v2m0 18v1m0 10v1m0 8v1m0 4v2m0 2v1m1-104v1m0 16v2m0 29v1m0 17v2m0 16v1m0 1v2m0 7v1m0 17v1m0 14v2m1-174v1m0 36v2m0 95v2m0 8v2m0 10v1m0 13v1m0 150v1m0 36v2m0 25v2m1-307v1m0 2v2m0 16v3m0 16v2m0 1v2m0 4v2m0 6v1m0 11v1m0 177v2m0 29v2m1-362v2m0 48v2m0 34v1m0 4v1m0 35v2m0 1v2m0 24v2m0 25v1m0 4v2m0 123v2m0 27v1m0 51v3m1-290v2m0 22v1m0 198v1m0 5v1m1-234v1m0 7v2m0 3v1m0 8v1m0 76v1m0 7v1m0 17v2m0 84v1m0 13v1m0 28v2m0 18v3m0 2v2m1-361v1m0 13v1m0 61v2m0 5v1m0 9v1m0 8v2m0 10v1m0 19v1m0 185v2m1-346v2m0 9v2m0 3v2m0 8v1m0 78v2m0 4v3m0 4v2m0 1v1m0 10v1m0 11v1m0 2v1m0 12v1m0 2v1m0 1v2m0 2v2m0 74v2m0 92v2m0 4v2m0 30v2m0 14v2m1-399v2m0 100v2m0 8v2m0 11v1m0 29v1m0 213v3m0 5v3m0 25v2m1-366v2m0 4v1m0 15v2m0 47v2m0 15v1m0 8v3m0 2v2m0 3v1m0 5v2m0 158v1m1-223v1m0 16v2m0 3v2m0 8v1m0 12v1m0 13v2m0 3v3m0 13v2m0 11v3m0 25v2m1-205v1m0 4v1m0 37v2m0 15v2m0 23v1m0 10v2m0 4v1m0 3v1m0 216v2m0 42v2m1-311v2m0 3v2m0 10v2m0 16v3m0 14v1m0 11v2m0 5v1m0 6v1m0 8v1m0 5v2m0 8v1m0 194v2m0 2v1m0 1v2m0 7v4m1-344v2m0 66v3m0 4v2m0 9v1m0 12v1m0 8v2m0 26v1m0 19v2m0 147v2m0 23v4m0 12v5m1-367v1m0 75v2m0 4v1m0 17v2m0 11v1m0 6v1m0 20v1m0 53v2m0 22v1m0 40v1m0 32v2m0 16v2m0 21v2m0 7v1m0 18v1m0 9v4m1-394v3m0 2v2m0 83v2m0 3v2m0 6v1m0 33v3m0 1v2m0 2v1m0 10v2m0 53v1m0 5v1m0 7v1m0 119v2m0 11v3m0 16v5m1-337v1m0 19v1m0 15v1m0 1v3m0 6v2m0 1v2m0 10v2m0 21v2m0 44v1m0 18v2m0 16v1m0 89v2m0 12v1m0 1v1m0 4v1m0 30v1m0 2v2m0 2v2m1-372v1m0 18v1m0 53v2m0 22v2m0 19v3m0 48v2m0 13v1m0 6v1m0 12v2m0 2v1m0 11v2m0 137v2m0 8v1m0 4v2m0 3v2m0 23v2m1-392v2m0 134v2m0 4v2m0 2v1m0 1v2m0 4v2m0 5v2m0 10v2m0 40v1m0 25v2m0 67v3m0 15v2m0 27v3m0 12v2m0 3v2m0 4v4m0 3v3m1-410v2m0 4v2m0 6v1m0 17v1m0 83v2m0 3v1m0 5v2m0 15v2m0 2v2m0 2v1m0 5v1m0 3v1m0 14v2m0 1v3m0 16v2m0 5v2m0 28v1m0 1v2m0 15v2m0 39v1m0 15v1m0 30v2m0 20v3m0 13v1m1-388v2m0 20v1m0 34v6m0 11v4m0 5v2m0 3v2m0 22v3m0 20v1m0 11v1m0 15v1m0 6v1m0 6v2m0 51v1m0 17v1m0 15v1m0 80v1m1-331v1m0 42v2m0 6v2m0 59v2m0 12v4m0 1v1m0 15v2m0 2v1m0 5v1m0 2v1m0 28v2m0 5v1m0 7v3m0 14v2m0 26v1m0 27v2m0 40v2m0 9v2m0 12v1m0 17v2m0 32v3m1-400v2m0 6v1m0 14v3m0 25v2m0 11v1m0 7v2m0 10v1m0 2v4m0 8v2m0 29v2m0 2v1m0 14v1m0 59v1m0 8v1m0 15v2m0 10v1m0 3v1m0 81v1m0 4v2m0 2v1m0 47v2m0 20v3m1-359v1m0 4v1m0 8v2m0 26v3m0 5v4m0 6v1m0 12v1m0 2v1m0 9v3m0 3v2m0 19v1m0 35v1m0 21v2m0 16v1m0 12v2m0 40v2m0 29v2m0 10v1m0 47v2m1-383v2m0 6v2m0 37v2m0 3v2m0 1v2m0 2v1m0 2v1m0 11v2m0 6v2m0 5v2m0 6v1m0 5v1m0 6v1m0 9v2m0 2v1m0 6v1m0 5v2m0 58v1m0 30v2m0 18v2m0 26v1m0 23v1m0 27v4m0 21v5m0 19v2m0 22v2m1-390v1m0 20v2m0 43v3m0 43v1m0 10v1m0 4v2m0 64v2m0 52v2m0 39v2m0 2v1m0 14v1m0 15v2m0 40v2m0 4v3m0 13v5m1-418v2m0 8v1m0 11v2m0 36v2m0 3v2m0 6v4m0 28v2m0 3v2m0 20v2m0 10v1m0 8v1m0 162v2m0 61v2m0 6v6m0 2v3m1-374v1m0 13v2m0 21v2m0 20v4m0 15v2m0 1v2m0 9v1m0 4v2m0 3v1m0 8v2m0 16v1m0 8v1m0 43v2m0 39v2m0 4v1m0 1v2m0 18v1m0 22v2m0 79v3m1-380v1m0 1v1m0 22v2m0 40v1m0 3v2m0 17v1m0 16v1m0 10v3m0 11v1m0 14v2m0 38v1m0 11v2m0 13v2m0 13v2m0 7v1m0 23v2m0 92v1m0 4v2m0 22v1m0 10v4m1-402v2m0 6v2m0 12v2m0 2v2m0 46v2m0 24v1m0 20v2m0 27v2m0 3v2m0 4v2m0 2v1m0 21v2m0 12v1m0 51v2m0 85v3m0 58v2m1-354v2m0 18v2m0 19v1m0 3v1m0 16v1m0 5v2m0 21v2m0 12v1m0 7v1m0 30v2m0 9v1m0 3v2m0 2v2m0 4v1m0 100v1m0 17v3m1-296v2m0 64v1m0 12v2m0 8v2m0 8v2m0 80v2m0 87v1m0 12v1m0 5v2m0 4v1m0 4v1m0 53v2m0 2v2m1-350v2m0 12v2m0 22v2m0 3v3m0 10v1m0 16v1m0 210v2m0 5v2m0 34v3m1-381v2m0 50v1m0 15v2m0 44v1m0 26v1m0 52v2m0 17v1m0 21v2m0 14v2m0 10v1m0 2v2m0 14v1m0 51v1m0 36v5m0 6v2m1-296v2m0 48v2m0 7v1m0 93v2m0 44v2m0 18v4m0 10v2m0 4v1m0 10v2m1-322v3m0 24v2m0 10v1m0 40v2m0 5v2m0 30v2m0 1v1m0 65v1m0 12v2m0 4v1m0 9v2m0 10v2m0 6v1m0 35v2m0 15v2m0 2v3m0 47v2m0 38v3m1-321v2m0 9v1m0 2v1m0 2v2m0 13v2m0 2v2m0 9v4m0 6v1m0 12v1m0 6v1m0 49v2m0 69v1m0 36v2m0 20v2m0 30v2m1-361v2m0 34v1m0 4v1m0 45v4m0 1v1m0 5v2m0 8v3m0 17v2m0 12v2m0 11v1m0 3v2m0 18v1m0 27v2m0 102v2m0 9v2m0 29v3m1-321v2m0 53v2m0 17v1m0 24v1m0 1v2m0 3v2m0 9v2m0 16v2m0 18v1m0 32v1m0 5v1m0 2v1m0 34v1m0 47v2m0 1v2m0 9v2m0 16v2m0 14v2m0 6v3m0 17v2m1-407v1m0 6v2m0 38v2m0 12v1m0 25v1m0 2v1m0 9v1m0 5v2m0 4v1m0 14v1m0 3v1m0 4v2m0 5v1m0 2v2m0 6v1m0 2v2m0 174v1m0 3v1m1-333v2m0 46v2m0 56v1m0 23v2m0 6v2m0 13v2m0 17v2m0 3v1m0 10v1m0 28v2m0 84v2m0 8v1m0 20v2m0 3v2m0 2v2m0 15v2m1-342v2m0 4v2m0 2v1m0 14v2m0 33v2m0 20v1m0 24v2m0 11v1m0 8v2m0 7v1m0 38v1m0 97v2m0 50v2m0 2v2m0 37v2m1-386v1m0 1v3m0 5v2m0 75v1m0 11v2m0 9v2m0 2v1m0 1v2m0 18v2m0 9v2m0 41v1m0 9v2m0 118v2m0 4v1m0 5v2m0 10v2m0 27v2m1-286v5m0 5v2m0 13v1m0 5v1m0 1v1m0 6v2m0 7v1m0 3v1m0 4v1m0 8v2m0 72v2m0 21v2m0 46v2m0 19v2m0 7v1m0 25v2m0 5v2m1-332v2m0 11v1m0 10v2m0 19v2m0 8v2m0 19v3m0 1v2m0 4v2m0 22v2m0 5v1m0 2v2m0 46v2m0 79v2m0 25v2m0 10v1m0 11v6m0 26v2m0 14v2m1-378v2m0 3v1m0 3v1m0 28v2m0 2v2m0 28v2m0 24v1m0 23v1m0 10v1m0 43v1m0 19v2m0 29v1m0 50v1m0 25v2m0 10v1m0 6v2m0 21v2m0 23v4m0 7v2m1-404v2m0 6v2m0 7v2m0 25v1m0 38v2m0 5v1m0 5v2m0 1v2m0 10v1m0 17v2m0 4v2m0 19v1m0 17v1m0 24v1m0 33v1m0 8v2m0 77v2m0 37v5m0 17v2m1-395v2m0 98v1m0 17v4m0 1v1m0 1v2m0 5v2m0 17v1m0 13v2m0 3v1m0 7v2m0 74v1m0 5v1m0 103v2m0 28v2m0 1v2m1-376v2m0 7v2m0 20v1m0 45v1m0 24v1m0 22v2m0 11v2m0 4v1m0 13v1m0 3v2m0 4v1m0 9v2m0 20v1m0 130v2m0 6v2m0 28v5m0 10v2m1-350v1m0 37v4m0 3v1m0 6v1m0 22v1m0 3v2m0 4v2m0 16v2m0 4v1m0 2v3m0 15v2m0 18v1m0 12v1m0 14v2m0 120v4m0 23v2m0 8v2m1-389v2m0 5v1m0 10v1m0 4v1m0 22v2m0 5v1m0 11v1m0 32v1m0 10v2m0 10v2m0 2v1m0 9v2m0 60v1m0 130v1m0 55v2m1-395v2m0 6v2m0 53v2m0 76v1m0 15v1m0 5v3m0 187v2m1-333v1m0 12v1m0 17v1m0 3v2m0 59v3m0 5v2m0 22v1m0 18v1m0 1v2m0 1v2m0 3v1m0 47v1m0 90v2m0 15v2m0 24v1m0 4v2m0 35v2m1-346v3m0 8v1m0 4v2m0 2v2m0 3v2m0 11v2m0 20v2m0 1v2m0 10v2m0 19v2m0 12v1m0 30v1m0 94v2m0 76v3m0 13v3m0 18v3m1-378v1m0 26v2m0 22v2m0 6v2m0 6v2m0 27v1m0 6v2m0 7v2m0 1v2m0 8v1m0 5v1m0 3v1m0 24v1m0 7v1m0 3v1m0 111v1m0 16v2m0 36v2m0 21v2m0 3v2m1-369v1m0 25v2m0 15v2m0 12v2m0 2v1m0 3v1m0 5v2m0 24v1m0 1v2m0 8v1m0 6v1m0 4v1m0 46v1m0 140v1m0 1v2m0 14v2m0 10v2m1-308v2m0 5v2m0 32v2m0 4v2m0 4v1m0 30v4m0 7v2m0 16v1m0 1v2m0 15v1m0 1v1m0 100v4m0 29v2m0 3v1m0 7v2m0 15v3m0 10v2m0 22v1m1-378v2m0 36v1m0 4v1m0 11v1m0 36v3m0 15v2m0 2v1m0 14v2m0 13v1m0 11v1m0 69v2m0 113v2m0 3v2m0 30v3m1-391v2m0 10v1m0 23v1m0 13v2m0 6v1m0 37v2m0 2v1m0 17v1m0 6v1m0 15v2m0 1v1m0 9v2m0 5v2m0 87v2m0 11v1m0 63v1m0 8v2m0 13v2m0 29v2m1-385v2m0 14v2m0 67v1m0 53v4m0 7v2m0 1v1m0 5v2m0 26v2m0 102v1m0 35v2m0 6v2m0 17v2m0 1v2m0 26v3m1-382v2m0 11v2m0 38v1m0 3v1m0 24v7m0 4v1m0 16v1m0 7v4m0 7v1m0 5v3m0 26v1m0 43v1m0 100v2m0 6v2m0 55v2m1-359v4m0 20v2m0 51v1m0 6v2m0 6v2m0 21v4m0 2v1m0 26v2m0 7v1m0 57v1m0 37v2m0 12v1m0 43v2m0 18v1m1-295v1m0 31v2m0 22v1m0 6v1m0 4v2m0 4v2m0 7v1m0 6v2m0 3v3m0 10v1m0 5v2m0 39v2m0 11v2m0 83v2m0 15v2m0 3v1m1-356v2m0 110v2m0 19v2m0 4v1m0 24v1m0 29v1m0 132v1m0 25v2m0 13v1m0 37v3m1-388v1m0 4v2m0 16v2m0 12v2m0 46v1m0 9v1m0 30v2m0 4v1m0 5v2m0 22v2m0 13v1m0 5v1m0 167v2m1-350v1m0 3v2m0 29v2m0 1v1m0 15v2m0 9v4m0 29v2m0 14v1m0 20v1m0 49v1m0 66v2m0 23v2m0 34v1m0 24v2m1-351v2m0 70v1m0 21v1m0 6v2m0 13v2m0 7v2m0 11v1m0 25v4m0 1v1m0 46v1m0 127v1m1-355v1m0 29v1m0 75v2m0 2v2m0 1v2m0 4v3m0 7v2m0 2v1m0 15v2m0 6v1m0 3v1m0 205v2m1-358v2m0 13v2m0 7v4m0 29v1m0 36v1m0 10v2m0 8v1m0 5v3m0 6v1m0 2v1m0 14v2m0 4v2m0 12v2m0 7v1m0 75v2m1-250v2m0 14v2m0 18v2m0 27v1m0 5v1m0 24v1m0 5v1m0 17v2m0 29v1m0 4v1m0 57v2m1-192v2m0 2v2m0 16v2m0 18v2m0 1v1m0 31v2m0 8v1m0 11v1m0 17v1m0 3v1m0 5v2m0 3v1m0 1v1m0 8v1m0 4v2m0 61v1m1-213v2m0 38v1m0 1v2m0 16v2m0 9v2m0 1v1m0 16v1m0 16v2m0 8v2m0 13v2m1-101v2m0 11v2m0 15v3m0 2v2m0 16v2m0 3v2m0 7v2m0 5v2m0 7v1m0 9v2m1-162v1m0 18v1m0 8v2m0 26v2m0 9v2m0 8v2m0 25v1m0 12v1m0 31v2m0 8v2m0 1v2m0 23v1m0 3v1m0 151v2m1-322v2m0 6v1m0 18v2m0 17v1m0 7v1m0 15v2m0 7v1m0 16v3m0 24v1m0 5v2m0 13v2m1-77v2m0 12v4m0 9v1m0 12v2m0 10v1m0 3v2m0 7v1m0 16v1m0 5v1m0 61v2m1-225v2m0 2v1m0 27v2m0 16v2m0 8v1m0 18v1m0 26v2m0 3v1m0 8v1m0 2v2m0 33v2m1-172v2m0 51v1m0 64v2m0 6v1m0 2v2m0 7v2m0 20v1m0 9v1m0 7v1m1-137v1m0 4v3m0 2v1m0 9v1m0 31v2m0 4v2m0 6v1m0 1v1m0 14v1m0 11v1m0 9v2m0 11v2m1-149v2m0 34v2m0 42v2m0 8v1m0 2v2m0 4v2m0 21v2m0 13v2m0 7v1m0 4v2m0 116v1m1-283v2m0 10v1m0 74v4m0 21v1m0 7v1m0 2v3m0 3v1m0 18v1m1-122v2m0 13v2m0 61v2m0 17v2m0 1v1m0 19v1m1-142v2m0 7v1m0 28v1m0 12v2m0 31v1m0 9v1m0 4v1m0 2v1m0 12v1m0 2v1m0 7v2m0 29v2m1-142v1m0 45v2m0 23v2m0 26v1m0 34v1m1-146v2m0 51v1m0 47v2m0 9v1m0 18v2m1-139v2m0 6v2m0 25v2m0 16v2m0 53v2m0 2v1m0 49v1m1-118v3m0 37v2m0 12v2m0 45v2m0 1v1m0 2v3m0 8v3m1-166v2m0 137v1m0 14v1m0 2v1m0 3v2m1-144v1m0 63v1m1-75v1m0 10v2m0 72v1m0 2v2m0 10v2m0 5v3m0 33v1m0 11v1m1-114v1m0 2v1m0 6v1m0 100v1m1-34v2m0 14v2m0 5v1m1-74v2m0 14v1m1-21v2m0 19v2m1-102v2m1-5v1"/>
<path stroke="#210024" d="M0 107v1m0 28v2m0 83v2m0 215v1m0 20v2m1-300v2m0 20v2m0 17v1m0 25v1m0 2v2m0 4v2m0 220v2m1-316v1m0 49v2m0 24v1m0 11v1m0 6v1m0 2v1m0 1v1m0 7v1m0 178v2m0 20v1m0 6v1m1-312v1m0 39v2m0 52v2m0 180v2m0 2v1m0 66v1m1-386v2m0 1v2m0 84v1m0 24v2m0 4v1m0 11v2m0 166v1m0 51v2m1-362v2m0 86v1m0 4v1m0 16v1m0 11v1m0 34v1m0 191v2m1-343v2m0 1v1m0 5v1m0 80v1m0 11v2m0 48v2m0 149v1m0 21v1m0 3v1m1-295v2m0 39v1m0 27v2m0 8v1m0 11v1m0 7v4m0 139v2m0 45v2m0 21v2m0 16v4m1-330v1m0 56v2m0 2v1m0 32v1m0 6v2m0 14v1m0 1v2m0 153v4m0 8v1m0 30v2m1-330v1m0 2v1m0 18v2m0 23v2m0 18v1m0 51v2m0 173v2m0 27v2m0 4v1m1-283v2m0 11v2m0 16v2m0 10v1m0 18v2m0 9v2m0 215v3m0 5v2m1-376v2m0 89v1m0 5v2m0 7v2m0 45v1m0 163v1m0 3v1m0 35v2m1-355v2m0 27v2m0 45v3m0 3v2m0 8v2m0 1v2m0 6v1m0 2v1m0 4v1m0 9v2m0 32v2m0 175v1m0 7v2m0 24v2m1-333v1m0 58v1m0 2v1m0 3v2m0 13v2m0 3v1m0 2v2m0 4v1m0 7v1m0 4v1m0 178v2m0 9v2m1-345v2m0 13v2m0 95v2m0 8v2m0 10v2m0 16v2m0 14v2m0 163v1m1-272v1m0 18v1m0 6v2m0 4v1m0 17v1m0 6v4m0 32v2m0 194v3m0 11v1m1-367v2m0 39v2m0 39v1m0 5v2m0 26v1m0 16v2m0 20v2m0 12v1m1-167v1m0 12v2m0 22v2m0 47v1m0 4v1m0 4v2m0 11v1m0 2v1m0 22v1m0 30v2m0 60v1m1-175v1m0 41v1m0 6v3m0 9v1m0 12v1m0 4v2m0 12v1m0 1v2m0 180v2m0 7v2m0 15v2m0 2v2m0 2v1m1-369v2m0 9v1m0 40v2m0 36v1m0 8v2m0 5v1m0 3v2m0 8v1m0 13v1m0 18v1m0 228v2m1-299v2m0 4v3m0 53v1m0 24v2m0 160v2m1-246v1m0 12v2m0 9v2m0 10v1m0 9v2m0 2v1m0 4v1m0 9v3m0 187v2m0 20v2m1-370v4m0 7v2m0 86v2m0 6v1m0 34v2m0 1v1m0 69v2m0 147v1m0 6v3m1-371v1m0 58v2m0 17v2m0 4v1m0 8v3m0 2v1m0 1v1m0 18v1m0 206v1m0 8v1m0 35v4m1-376v2m0 58v2m0 42v4m0 2v1m0 3v5m0 28v2m0 7v1m0 14v2m0 41v2m0 83v2m1-305v2m0 18v1m0 21v1m0 53v2m0 17v1m0 10v1m0 8v1m0 7v1m0 6v1m0 22v1m0 38v1m0 111v2m0 11v2m0 24v2m0 6v2m1-365v2m0 8v2m0 77v2m0 21v2m0 5v2m0 24v1m0 11v2m0 170v1m0 23v2m0 11v2m0 1v2m1-382v1m0 10v2m0 39v2m0 57v2m0 2v1m0 27v2m0 7v1m0 3v1m0 28v2m0 49v1m0 87v2m0 15v3m0 33v2m0 9v2m1-374v4m0 47v2m0 13v2m0 17v3m0 6v1m0 2v3m0 17v3m0 2v2m0 5v1m0 13v2m0 31v2m0 116v2m0 40v2m0 17v3m0 6v2m1-335v1m0 10v2m0 53v1m0 1v2m0 21v2m0 11v1m0 3v1m0 159v2m0 1v1m0 63v3m0 13v3m1-352v2m0 4v2m0 69v1m0 5v1m0 4v1m0 29v1m0 3v1m0 1v2m0 115v2m0 23v2m0 27v1m0 4v1m1-352v2m0 41v1m0 51v1m0 16v1m0 17v2m0 18v1m0 26v1m0 34v1m0 55v1m0 32v2m0 9v1m0 19v2m0 13v2m0 32v9m1-297v2m0 9v2m0 10v1m0 8v1m0 17v2m0 14v2m0 7v2m0 127v2m0 45v2m1-335v2m0 35v2m0 6v1m0 14v2m0 18v1m0 15v2m0 8v1m0 14v2m0 3v1m0 2v2m0 5v1m0 1v2m0 7v1m0 1v2m0 2v1m0 7v2m0 20v3m0 126v2m0 15v2m0 35v2m1-323v2m0 60v1m0 15v1m0 11v1m0 2v2m0 4v2m0 2v1m0 21v1m0 103v2m0 100v3m1-343v1m0 44v1m0 12v1m0 3v1m0 5v2m0 13v2m0 24v2m0 8v1m0 4v1m0 20v1m0 9v3m0 23v2m0 81v3m0 23v1m0 7v2m0 2v2m0 12v2m0 17v2m1-376v2m0 47v2m0 38v1m0 10v1m0 3v1m0 6v2m0 3v4m0 13v3m0 4v1m0 6v1m0 7v2m0 5v2m0 91v1m0 121v2m0 1v3m0 4v2m1-369v2m0 7v2m0 4v2m0 12v1m0 28v2m0 10v2m0 4v2m0 5v1m0 7v2m0 20v2m0 4v1m0 5v1m0 16v4m0 61v2m0 28v1m0 11v1m0 59v2m0 29v1m1-307v2m0 26v1m0 1v1m0 9v2m0 6v1m0 14v1m0 1v2m0 3v3m0 3v3m0 2v1m0 26v1m0 13v1m0 18v1m0 13v1m0 24v2m0 77v1m0 2v1m0 22v1m0 13v3m0 13v2m1-374v2m0 18v2m0 15v1m0 22v1m0 6v2m0 21v1m0 37v2m0 1v2m0 13v1m0 22v2m0 9v2m0 8v1m0 13v2m0 47v1m0 61v2m0 32v2m0 22v3m0 5v3m0 14v2m0 4v2m1-413v2m0 47v2m0 23v1m0 16v2m0 29v1m0 31v2m0 1v2m0 9v1m0 10v1m0 10v1m0 2v1m0 10v1m0 51v1m0 15v1m0 24v2m0 20v1m0 26v2m0 11v2m0 9v5m0 29v2m1-398v2m0 42v1m0 16v2m0 29v1m0 37v1m0 12v6m0 4v2m0 35v1m0 1v1m0 2v1m0 53v2m0 49v1m0 31v1m1-340v1m0 9v2m0 12v1m0 16v2m0 7v2m0 50v2m0 22v1m0 12v2m0 9v2m0 16v2m0 20v1m0 8v1m0 10v1m0 36v1m0 52v1m0 36v1m0 30v1m0 15v2m1-383v2m0 8v2m0 10v1m0 89v1m0 9v2m0 2v2m0 10v3m0 25v1m0 62v1m0 29v1m0 2v2m0 22v1m0 2v1m0 15v1m0 16v2m0 19v2m0 3v1m0 27v3m0 5v1m0 10v3m0 13v1m1-406v1m0 18v1m0 15v2m0 2v2m0 21v1m0 28v2m0 47v3m0 3v1m0 4v2m0 2v1m0 16v2m0 37v2m0 7v1m0 6v2m0 14v1m0 74v4m0 4v1m0 45v2m0 10v2m0 11v3m0 2v3m1-411v2m0 80v3m0 26v1m0 10v2m0 1v1m0 16v1m0 2v1m0 26v1m0 6v2m0 4v1m0 7v1m0 20v1m0 5v1m0 19v2m0 8v2m0 9v1m0 48v1m0 14v1m0 13v2m0 4v3m0 5v1m0 14v2m0 7v3m0 9v2m0 5v2m1-407v2m0 117v2m0 2v2m0 3v1m0 19v1m0 4v2m0 8v3m0 4v1m0 3v2m0 35v2m0 8v1m0 47v1m0 50v2m0 2v1m0 12v2m0 3v2m0 26v1m0 28v2m0 8v3m0 15v3m1-418v2m0 3v2m0 29v2m0 3v2m0 2v2m0 34v2m0 4v2m0 17v3m0 2v1m0 10v1m0 2v1m0 11v2m0 26v1m0 10v2m0 24v1m0 18v4m0 56v2m0 43v2m0 29v2m0 4v2m0 33v5m0 12v3m1-413v2m0 12v2m0 33v2m0 26v2m0 8v1m0 7v1m0 4v1m0 15v1m0 36v1m0 8v2m0 7v1m0 5v2m0 2v1m0 19v1m0 8v1m0 2v2m0 112v1m0 27v1m0 7v3m0 22v4m1-412v2m0 16v2m0 12v2m0 28v1m0 33v1m0 17v1m0 10v1m0 5v1m0 2v1m0 26v1m0 15v1m0 28v2m0 135v2m0 46v2m1-384v2m0 18v1m0 52v1m0 10v2m0 34v3m0 1v2m0 2v2m0 10v1m0 17v1m0 11v1m0 31v1m0 21v1m0 62v1m0 17v1m0 24v2m0 20v2m0 14v4m0 3v3m0 16v2m1-407v2m0 25v3m0 42v2m0 33v2m0 5v1m0 13v2m0 36v1m0 2v1m0 14v1m0 3v1m0 7v1m0 5v2m0 15v1m0 14v2m0 17v1m0 3v1m0 84v2m0 4v1m0 4v2m0 14v2m0 3v2m0 15v2m0 19v6m1-407v2m0 12v3m0 1v1m0 20v1m0 25v1m0 4v1m0 27v2m0 11v2m0 26v1m0 1v3m0 30v1m0 24v1m0 16v1m0 10v2m0 10v1m0 50v1m0 24v2m0 18v2m0 11v2m0 6v1m0 26v2m0 12v2m1-404v2m0 18v2m0 46v2m0 11v1m0 10v2m0 17v2m0 32v1m0 14v2m0 22v1m0 128v2m0 6v2m0 13v1m0 5v1m0 54v2m0 9v4m1-398v2m0 3v2m0 30v2m0 18v1m0 3v3m0 19v1m0 3v2m0 29v2m0 3v1m0 23v2m0 4v2m0 18v1m0 2v1m0 38v1m0 6v1m0 5v2m0 76v2m0 1v3m0 3v1m0 34v2m0 26v2m0 13v2m0 5v3m1-404v4m0 5v2m0 3v2m0 3v1m0 57v4m0 10v1m0 2v1m0 3v4m0 17v2m0 6v1m0 45v2m0 30v1m0 6v1m0 9v1m0 7v2m0 112v1m0 21v2m0 8v1m0 8v1m0 2v1m0 2v2m0 2v2m0 5v2m1-401v2m0 14v2m0 20v1m0 48v2m0 2v1m0 2v2m0 3v2m0 2v3m0 7v1m0 6v1m0 16v1m0 9v1m0 4v1m0 3v2m0 26v1m0 7v1m0 40v1m0 14v1m0 54v2m0 32v2m0 6v2m0 11v2m0 7v2m1-331v2m0 56v1m0 3v2m0 18v2m0 20v1m0 6v1m0 15v1m0 15v1m0 34v1m0 58v2m0 2v2m0 1v2m0 4v2m0 20v2m0 32v2m0 9v2m0 10v2m0 18v2m1-356v1m0 4v2m0 35v1m0 4v1m0 1v5m0 15v2m0 24v1m0 45v2m0 68v1m0 1v1m0 55v2m0 9v4m0 11v4m0 26v4m0 7v1m0 18v2m0 7v1m1-406v2m0 10v2m0 30v2m0 38v3m0 22v1m0 1v2m0 13v1m0 2v2m0 8v2m0 18v2m0 13v2m0 83v1m0 58v2m0 13v2m0 14v1m0 6v2m0 38v3m1-375v3m0 15v2m0 2v2m0 11v2m0 59v1m0 45v1m0 4v1m0 7v1m0 34v2m0 73v1m0 30v1m0 58v3m0 8v2m0 27v2m1-409v1m0 30v1m0 38v1m0 4v1m0 4v2m0 9v1m0 1v4m0 16v2m0 24v2m0 1v1m0 33v2m0 5v2m0 47v2m0 11v2m0 44v2m0 38v2m0 22v2m0 31v1m1-344v2m0 10v1m0 14v1m0 8v2m0 2v2m0 14v1m0 4v3m0 9v2m0 3v1m0 10v1m0 17v1m0 74v1m0 54v2m0 23v2m0 22v1m0 1v3m0 34v3m0 18v3m1-402v2m0 3v2m0 29v1m0 13v1m0 5v1m0 24v1m0 9v2m0 4v2m0 11v1m0 8v2m0 8v1m0 28v3m0 53v2m0 13v3m0 81v1m0 8v2m0 20v3m0 55v2m1-411v2m0 9v1m0 27v2m0 28v2m0 28v1m0 6v2m0 3v1m0 6v2m0 80v3m0 21v1m0 21v2m0 19v2m0 25v1m0 11v1m0 21v1m0 4v1m0 2v1m0 9v3m0 17v2m0 3v2m0 17v2m1-389v2m0 17v1m0 6v1m0 15v2m0 6v2m0 12v1m0 1v2m0 38v1m0 20v1m0 9v1m0 26v1m0 15v1m0 36v1m0 12v2m0 118v1m0 10v2m0 6v2m1-377v2m0 49v2m0 54v3m0 10v1m0 20v2m0 4v2m0 4v2m0 6v2m0 14v2m0 7v2m0 75v1m0 30v2m0 47v3m0 13v2m0 33v2m1-368v2m0 28v1m0 14v5m0 16v2m0 4v2m0 22v1m0 3v1m0 9v1m0 8v1m0 8v1m0 1v2m0 17v1m0 6v2m0 66v1m0 31v1m0 27v2m0 7v1m0 25v1m0 2v1m0 7v2m0 16v2m0 2v2m0 20v2m1-393v2m0 14v1m0 68v1m0 20v1m0 14v2m0 13v2m0 2v2m0 4v1m0 33v2m0 2v2m0 14v1m0 7v1m0 13v1m0 116v2m0 2v2m0 4v2m1-356v2m0 4v2m0 12v2m0 39v1m0 31v1m0 8v1m0 7v1m0 21v1m0 5v1m0 3v2m0 4v1m0 3v1m0 3v2m0 12v1m0 36v2m0 25v2m0 16v2m0 64v2m0 5v1m0 14v2m0 27v2m0 14v2m1-390v2m0 86v1m0 20v1m0 29v1m0 10v2m0 12v2m0 5v2m0 50v2m0 28v2m0 2v2m0 111v2m0 15v2m0 15v3m1-405v2m0 21v2m0 18v4m0 11v2m0 30v1m0 5v1m0 4v1m0 2v1m0 32v1m0 12v1m0 10v1m0 7v1m0 17v1m0 22v2m0 18v1m0 11v1m0 33v2m0 90v2m0 18v3m1-372v2m0 77v1m0 26v2m0 5v2m0 28v1m0 10v1m0 17v1m0 5v1m0 5v3m0 51v1m0 7v1m0 34v1m0 38v2m0 18v3m0 8v5m0 18v2m0 3v3m0 2v3m1-402v2m0 10v2m0 35v4m0 5v2m0 2v1m0 13v2m0 10v2m0 16v1m0 22v2m0 11v2m0 11v1m0 2v1m0 18v2m0 43v2m0 91v2m0 2v2m0 14v2m0 22v2m0 12v2m1-335v2m0 15v2m0 29v2m0 2v2m0 14v2m0 4v1m0 8v1m0 7v3m0 18v2m0 24v1m0 8v1m0 9v1m0 8v2m0 49v1m0 10v2m0 23v2m0 30v2m0 4v2m0 13v2m0 3v2m0 7v2m0 14v3m1-389v2m0 19v2m0 42v1m0 3v2m0 2v1m0 20v3m0 5v1m0 27v1m0 1v2m0 13v1m0 2v1m0 2v1m0 5v2m0 11v2m0 2v1m0 9v2m0 3v2m0 117v2m0 17v1m0 9v5m0 59v1m1-390v2m0 2v1m0 5v1m0 27v2m0 9v2m0 13v2m0 15v1m0 7v4m0 14v2m0 1v1m0 11v2m0 5v1m0 11v1m0 8v1m0 1v4m0 111v1m0 6v2m0 50v2m0 29v2m1-349v2m0 3v2m0 28v2m0 5v2m0 4v2m0 28v1m0 2v1m0 4v1m0 23v2m0 1v1m0 13v1m0 14v1m0 10v1m0 171v1m0 1v2m0 4v2m0 14v2m0 10v2m0 16v3m1-390v2m0 12v2m0 32v1m0 58v1m0 16v4m0 10v1m0 8v2m0 35v1m0 12v2m0 102v2m0 8v1m0 14v1m0 7v2m1-280v2m0 27v2m0 3v2m0 13v1m0 14v1m0 25v1m0 34v1m0 70v2m0 20v1m0 31v1m0 9v1m0 1v4m0 28v1m0 31v3m1-380v2m0 57v2m0 24v2m0 11v1m0 19v2m0 9v1m0 3v1m0 8v1m0 7v2m0 14v2m0 13v1m0 35v1m0 77v1m0 14v1m0 2v1m0 10v2m0 6v2m0 2v2m0 13v4m0 7v2m0 4v3m1-391v2m0 15v1m0 40v2m0 9v2m0 4v3m0 31v2m0 15v2m0 21v1m0 10v2m0 27v1m0 9v1m0 89v2m0 46v2m0 7v2m0 4v2m0 31v3m0 8v3m1-372v2m0 73v2m0 9v1m0 13v1m0 5v1m0 2v1m0 8v2m0 11v1m0 7v3m0 3v1m0 11v1m0 64v2m0 6v2m0 70v1m0 3v1m0 12v2m0 2v1m0 6v2m0 20v4m1-387v1m0 48v2m0 5v1m0 7v2m0 53v2m0 6v2m0 4v2m0 6v2m0 20v1m0 1v1m0 9v1m0 49v2m0 123v2m0 2v3m0 2v2m0 25v2m0 5v1m1-334v2m0 13v1m0 1v2m0 2v1m0 28v2m0 7v2m0 22v2m0 2v1m0 8v2m0 7v1m0 15v1m0 4v2m0 68v2m0 1v2m0 33v1m0 32v1m0 2v2m0 8v2m0 2v2m0 38v2m0 2v2m1-368v2m0 38v2m0 4v2m0 1v1m0 96v1m0 21v2m0 20v1m0 6v2m0 30v1m0 14v1m0 10v2m0 30v2m0 2v1m0 27v1m0 1v1m0 28v2m0 2v1m1-358v5m0 25v1m0 16v1m0 45v2m0 20v2m0 6v1m0 22v1m0 7v1m0 18v2m0 33v2m0 38v1m0 4v1m0 42v2m0 4v1m0 16v2m0 10v1m0 4v1m0 3v2m0 8v2m0 8v3m0 5v1m0 7v2m1-384v1m0 15v2m0 41v1m0 20v1m0 18v3m0 4v1m0 4v2m0 4v2m0 1v1m0 1v1m0 2v1m0 41v3m0 25v2m0 34v1m0 40v2m0 22v2m0 18v2m0 6v2m1-331v2m0 22v1m0 14v2m0 28v2m0 12v2m0 4v2m0 2v1m0 19v1m0 13v1m0 26v4m0 8v2m0 3v1m0 100v1m0 36v1m0 21v2m0 33v1m0 20v2m1-389v2m0 47v2m0 36v1m0 2v4m0 2v1m0 7v2m0 29v1m0 9v1m0 3v1m0 1v1m0 134v1m0 1v1m0 27v2m0 9v1m0 10v2m0 7v3m0 29v6m1-387v2m0 57v1m0 34v2m0 16v2m0 12v1m0 2v2m0 27v2m0 14v3m0 5v1m0 51v1m0 93v1m0 6v2m0 14v1m1-347v1m0 3v1m0 39v2m0 22v3m0 5v2m0 43v2m0 23v2m0 2v1m0 14v3m0 34v1m0 150v1m1-316v2m0 11v2m0 9v2m0 9v1m0 49v3m0 13v1m0 1v1m0 26v1m0 12v2m0 20v1m0 89v2m0 39v2m1-345v1m0 8v2m0 4v1m0 8v2m0 35v2m0 2v2m0 28v2m0 2v2m0 1v2m0 37v2m0 13v1m0 8v1m0 19v1m0 7v2m0 75v1m0 20v2m0 34v1m1-308v2m0 52v1m0 22v2m0 10v1m0 6v3m0 11v2m0 18v1m0 9v1m0 4v1m0 3v1m0 1v1m0 2v2m0 1v1m0 9v1m0 2v1m0 73v2m0 91v2m0 5v2m1-358v1m0 39v1m0 19v2m0 28v1m0 7v2m0 6v3m0 5v2m0 4v1m0 1v1m0 1v2m0 9v1m0 2v1m0 7v2m0 17v2m0 73v2m1-251v2m0 26v2m0 6v1m0 16v3m0 17v1m0 22v2m0 9v2m0 17v3m0 17v1m0 16v2m0 11v2m0 5v2m0 176v1m1-354v3m0 10v2m0 10v2m0 33v2m0 12v2m0 26v3m0 18v1m0 19v1m0 3v2m0 13v1m0 184v3m1-353v2m0 10v1m0 4v2m0 36v1m0 46v3m0 16v2m0 13v1m0 3v2m0 3v2m0 2v1m0 15v2m0 8v1m0 179v1m1-332v1m0 27v1m0 65v2m0 14v1m0 3v2m0 17v1m0 9v1m0 1v1m0 4v2m1-187v1m0 62v2m0 30v2m0 13v1m0 32v2m0 15v1m0 8v1m0 13v2m0 20v1m0 86v2m1-273v2m0 3v1m0 37v2m0 12v1m0 14v3m0 8v2m0 9v1m0 9v1m0 33v2m0 15v2m0 21v2m1-175v2m0 9v2m0 31v2m0 47v2m0 18v2m0 13v1m0 4v2m0 4v2m1-130v1m0 3v2m0 22v2m0 2v1m0 9v2m0 55v1m0 4v2m0 7v4m0 2v1m1-75v1m0 16v1m0 2v1m0 9v1m0 7v1m0 18v1m0 1v1m0 7v5m0 4v2m1-152v2m0 28v2m0 22v2m0 6v1m0 8v2m0 23v2m0 8v2m0 34v3m0 11v1m0 6v2m1-104v2m0 57v2m0 30v1m0 4v1m0 9v1m0 47v2m0 65v1m1-253v2m0 17v2m0 19v2m0 23v2m0 20v3m0 11v3m0 19v2m0 17v2m1-124v1m0 5v1m0 45v2m0 4v1m0 11v1m0 6v1m0 2v2m0 6v2m0 9v2m0 2v1m0 18v2m1-160v2m0 10v1m0 18v2m0 23v1m0 49v2m0 20v1m0 19v1m1-141v2m0 51v1m0 19v1m0 13v2m0 14v1m0 4v1m0 3v2m0 4v1m0 1v1m0 4v2m0 2v1m0 2v4m0 11v1m1-152v2m0 27v2m0 4v2m0 14v1m0 24v1m0 17v1m0 8v1m0 9v1m0 28v1m1-132v1m0 38v1m0 19v1m0 9v1m0 9v2m0 11v1m0 18v1m0 16v1m0 3v3m0 1v1m1-76v1m0 26v2m0 51v2m0 5v2m1-167v2m0 46v1m0 26v2m0 5v2m1-20v2m0 26v1m0 39v2m0 9v1m0 1v1m0 1v1m1-130v2m0 86v1m0 9v2m0 17v1m0 11v1m1-52v2m0 32v1m0 6v2m1-43v2m0 39v2m1-158v2m0 109v1m1-73v1m0 27v2"/>
<path stroke="#340044" d="M0 111v2m0 2v1m0 79v2m0 4v1m0 24v1m0 10v2m0 3v2m0 9v1m0 95v1m0 89v2m0 31v3m0 6v4m0 22v3m1-394v2m0 32v2m0 45v1m0 12v1m0 1v2m0 47v1m0 154v1m0 20v1m0 19v2m0 12v1m0 12v2m0 3v2m1-329v1m0 25v2m0 28v3m0 15v1m0 188v1m0 20v2m0 35v2m1-374v1m0 87v2m0 10v2m0 17v1m0 2v1m0 2v2m0 1v3m0 8v1m0 177v2m0 3v2m0 50v1m0 2v1m1-387v2m0 3v2m0 8v2m0 31v2m0 50v1m0 1v1m0 6v1m0 18v2m0 17v1m0 1v1m0 16v1m0 178v1m0 3v2m0 7v2m0 8v2m1-370v1m0 51v1m0 40v2m0 25v1m0 9v3m0 18v2m0 2v1m0 11v1m0 2v2m0 127v2m0 18v2m1-318v2m0 41v1m0 12v1m0 34v2m0 13v2m0 15v2m0 5v3m0 3v1m0 10v1m0 6v1m0 23v2m0 164v4m0 6v2m0 5v2m1-304v2m0 23v1m0 12v2m0 1v2m0 14v2m0 13v1m0 2v1m0 14v2m0 8v1m0 103v1m0 69v2m0 48v1m0 10v2m1-365v2m0 53v2m0 39v1m0 4v2m0 8v1m0 12v1m0 2v3m0 153v2m0 43v1m0 17v2m1-374v2m0 52v1m0 28v2m0 9v2m0 5v2m0 7v2m0 26v1m0 7v1m0 12v1m0 195v2m1-373v2m0 15v2m0 76v1m0 16v2m0 6v2m0 4v1m0 19v1m0 189v2m0 3v1m1-191v1m0 5v2m0 186v2m0 11v2m0 31v2m1-349v1m0 61v2m0 10v2m0 14v1m0 9v1m0 14v2m0 6v1m0 189v2m0 12v2m0 12v2m1-366v1m0 2v2m0 23v2m0 60v3m0 10v2m0 1v2m0 20v2m0 36v1m0 14v2m0 164v3m0 1v2m1-354v2m0 21v3m0 48v1m0 7v2m0 18v1m0 26v1m0 4v1m0 17v1m0 18v2m0 155v2m1-344v2m0 45v1m0 6v1m0 28v1m0 7v1m0 4v3m0 9v1m0 22v1m0 4v1m0 2v2m0 6v1m0 10v2m0 10v2m0 43v1m0 40v2m0 94v1m0 27v2m1-376v2m0 89v1m0 14v1m0 2v1m0 7v1m0 4v2m0 23v1m0 12v1m0 21v2m0 42v2m0 15v2m0 116v1m0 4v3m1-358v1m0 32v1m0 33v2m0 16v1m0 2v1m0 14v2m0 5v1m0 7v1m0 9v1m0 3v1m0 12v3m0 39v1m1-125v2m0 1v1m0 22v2m0 1v1m0 13v4m0 11v1m0 11v1m0 21v1m0 3v1m0 2v1m0 19v2m0 126v2m0 29v2m0 15v3m1-367v2m0 83v1m0 2v1m0 11v2m0 30v2m0 3v1m0 2v4m0 1v1m0 168v2m0 20v2m0 6v2m1-354v3m0 41v1m0 9v1m0 41v2m0 5v2m0 13v2m0 12v1m0 7v1m0 9v1m0 3v1m0 8v1m0 28v1m0 71v2m0 50v2m0 11v1m0 15v2m1-335v2m0 17v2m0 12v1m0 20v1m0 20v1m0 1v2m0 3v4m0 14v1m0 6v2m0 14v2m0 31v1m0 17v1m0 137v2m0 1v2m0 21v4m0 9v2m0 14v2m1-349v2m0 12v4m0 15v2m0 12v2m0 1v2m0 5v2m0 2v4m0 4v1m0 8v1m0 24v2m0 16v1m0 169v2m0 5v1m0 17v2m0 4v1m1-356v1m0 7v2m0 40v1m0 54v1m0 9v1m0 3v2m0 4v1m0 2v2m0 4v2m0 21v2m0 9v1m0 35v2m0 41v1m0 105v2m0 4v2m1-349v2m0 7v2m0 24v2m0 2v1m0 32v2m0 20v1m0 4v2m0 17v1m0 4v1m0 19v2m0 12v1m0 6v1m0 5v1m0 33v1m0 10v1m0 12v1m0 88v2m0 4v1m0 2v4m0 2v2m0 22v2m1-361v1m0 1v1m0 40v2m0 10v2m0 40v2m0 15v2m0 15v1m0 2v3m0 7v1m0 2v1m0 17v1m0 3v1m0 26v2m0 109v2m0 3v2m1-324v2m0 20v1m0 21v2m0 10v2m0 3v2m0 24v2m0 4v1m0 5v1m0 7v2m0 16v2m0 14v2m0 20v2m0 45v2m0 81v1m0 29v3m0 17v2m0 18v9m1-374v2m0 12v2m0 33v2m0 10v2m0 3v2m0 21v2m0 17v2m0 29v1m0 1v1m0 12v1m0 15v1m0 3v2m0 2v1m0 11v1m0 29v2m0 128v1m0 19v3m1-316v1m0 5v2m0 7v2m0 17v1m0 3v2m0 42v2m0 23v1m0 18v1m0 24v2m0 30v1m0 105v1m0 15v3m0 35v2m1-397v1m0 4v2m0 91v1m0 37v2m0 8v2m0 5v1m0 1v1m0 12v1m0 77v1m0 67v2m0 13v1m0 35v1m0 17v8m1-393v1m0 8v2m0 36v2m0 26v1m0 50v2m0 15v2m0 5v2m0 12v1m0 1v1m0 6v1m0 10v2m0 105v1m0 25v1m0 15v1m0 28v3m1-320v2m0 8v1m0 10v1m0 15v2m0 34v1m0 10v4m0 4v4m0 2v1m0 1v2m0 15v3m0 54v1m0 84v1m0 15v2m0 7v1m0 15v2m0 16v5m0 31v3m1-373v2m0 10v2m0 1v1m0 8v1m0 19v2m0 4v2m0 22v3m0 42v2m0 7v1m0 9v2m0 38v1m0 4v2m0 17v2m0 82v1m0 1v3m0 28v7m0 2v2m1-366v2m0 15v1m0 7v1m0 5v1m0 38v2m0 55v2m0 23v1m0 5v1m0 4v2m0 1v2m0 3v2m0 7v2m0 11v2m0 33v1m0 68v2m0 7v2m0 4v1m0 13v2m0 4v2m0 5v2m0 11v2m0 11v2m0 6v2m0 10v2m0 7v3m1-380v1m0 14v1m0 15v1m0 59v1m0 7v1m0 13v2m0 11v2m0 10v1m0 2v2m0 120v2m0 55v2m0 4v1m0 34v3m1-357v1m0 3v2m0 12v2m0 5v3m0 7v2m0 2v2m0 26v1m0 2v4m0 1v2m0 24v2m0 11v1m0 6v1m0 35v2m0 6v1m0 2v1m0 8v2m0 10v1m0 30v1m0 37v2m0 50v1m0 14v1m1-344v2m0 6v2m0 12v1m0 44v1m0 41v3m0 11v1m0 4v1m0 5v2m0 9v2m0 8v1m0 6v1m0 1v1m0 54v3m0 63v2m0 4v1m0 21v1m0 9v2m0 7v1m0 7v2m0 24v2m0 9v2m0 9v2m0 2v2m1-399v2m0 3v2m0 5v2m0 1v2m0 25v1m0 19v2m0 24v2m0 16v1m0 39v1m0 2v1m0 19v1m0 4v2m0 14v1m0 5v1m0 59v1m0 53v1m0 10v1m0 6v2m0 2v2m0 23v2m0 39v3m1-385v2m0 3v1m0 2v3m0 27v1m0 3v2m0 13v1m0 14v1m0 23v1m0 8v1m0 4v1m0 4v1m0 33v2m0 8v1m0 37v2m0 96v2m0 12v2m0 30v2m0 20v1m1-366v2m0 31v2m0 10v2m0 50v1m0 5v2m0 6v2m0 2v2m0 7v2m0 7v2m0 3v1m0 29v3m0 28v1m0 38v2m0 74v2m0 20v4m0 22v2m0 7v1m0 12v2m1-387v2m0 11v2m0 26v1m0 18v1m0 35v2m0 26v1m0 20v1m0 60v2m0 7v1m0 12v1m0 4v1m0 4v1m0 3v2m0 30v1m0 39v3m0 6v1m1-329v2m0 49v2m0 25v1m0 4v1m0 1v1m0 24v2m0 8v2m0 2v2m0 6v4m0 3v2m0 16v1m0 2v2m0 40v2m0 2v1m0 5v2m0 17v2m0 93v1m0 16v1m0 16v4m0 9v2m0 10v4m0 8v3m1-411v2m0 17v2m0 20v2m0 19v2m0 16v2m0 13v1m0 42v1m0 1v1m0 10v1m0 11v1m0 1v1m0 9v1m0 3v1m0 11v1m0 13v1m0 25v1m0 16v1m0 29v1m0 47v2m0 9v2m0 9v1m0 4v2m0 5v3m0 13v2m0 5v3m0 25v2m0 8v2m1-416v2m0 14v2m0 3v2m0 18v1m0 16v1m0 7v2m0 2v2m0 12v1m0 8v2m0 6v2m0 1v1m0 23v2m0 15v3m0 2v2m0 17v2m0 11v3m0 5v1m0 10v1m0 33v1m0 13v2m0 51v1m0 25v2m0 8v2m0 3v1m0 15v2m0 11v2m1-381v2m0 10v2m0 30v2m0 11v2m0 25v2m0 9v1m0 15v1m0 3v2m0 16v1m0 26v1m0 7v2m0 5v1m0 5v2m0 5v2m0 14v1m0 8v2m0 97v1m0 5v1m0 22v2m0 9v3m0 3v1m0 9v3m0 20v2m1-380v2m0 60v3m0 7v2m0 27v2m0 29v2m0 8v1m0 15v4m0 13v2m0 10v2m0 6v3m0 19v1m0 108v2m0 25v5m1-377v2m0 22v3m0 31v2m0 16v1m0 3v2m0 14v1m0 4v1m0 2v1m0 22v1m0 23v2m0 10v2m0 4v2m0 7v2m0 17v2m0 35v1m0 97v3m0 13v2m0 15v1m0 4v2m0 33v2m0 25v2m1-426v2m0 2v2m0 11v2m0 4v2m0 16v1m0 2v1m0 4v1m0 6v1m0 64v2m0 4v1m0 1v1m0 7v2m0 38v1m0 24v1m0 9v2m0 10v1m0 21v1m0 16v1m0 55v2m0 2v1m0 11v2m0 18v1m0 11v1m0 18v3m0 13v2m0 12v2m1-404v2m0 32v4m0 3v2m0 1v1m0 32v1m0 69v1m0 7v1m0 14v1m0 9v4m0 15v2m0 18v1m0 20v2m0 17v2m0 5v2m0 2v1m0 28v2m0 13v3m0 3v4m0 31v5m1-376v4m0 13v2m0 82v1m0 9v4m0 4v2m0 36v2m0 22v1m0 3v1m0 2v3m0 13v1m0 14v1m0 7v2m0 56v2m0 20v1m0 40v2m0 10v2m0 15v3m0 6v2m0 13v2m0 4v3m1-400v1m0 4v2m0 6v1m0 20v1m0 20v2m0 1v2m0 21v1m0 51v4m0 3v2m0 13v1m0 2v1m0 5v1m0 3v1m0 11v4m0 15v2m0 18v2m0 34v2m0 60v1m1-298v2m0 25v2m0 10v1m0 17v2m0 11v1m0 9v1m0 2v4m0 6v1m0 2v1m0 2v1m0 1v2m0 10v2m0 21v2m0 10v1m0 9v4m0 37v1m0 1v2m0 17v2m0 16v1m0 1v2m0 87v1m0 39v2m0 11v3m1-417v2m0 6v2m0 2v2m0 11v2m0 5v2m0 26v1m0 17v2m0 16v1m0 7v1m0 13v1m0 17v2m0 10v2m0 10v1m0 12v2m0 40v2m0 10v3m0 44v1m0 76v1m0 20v1m0 21v2m0 16v2m1-424v2m0 46v2m0 18v1m0 5v1m0 4v3m0 1v1m0 4v1m0 18v2m0 5v1m0 3v2m0 28v1m0 19v1m0 2v2m0 1v2m0 2v1m0 4v2m0 31v1m0 10v1m0 29v1m0 4v2m0 42v1m0 2v2m0 37v1m0 15v2m0 16v4m0 2v2m1-360v1m0 11v2m0 32v2m0 42v2m0 30v2m0 30v1m0 1v1m0 5v1m0 44v1m0 9v2m0 1v1m0 19v1m0 85v2m0 4v2m0 23v2m0 7v2m0 5v5m1-296v1m0 12v1m0 10v2m0 26v1m0 3v1m0 2v1m0 13v3m0 3v1m0 40v2m0 40v1m0 62v1m0 15v2m0 5v2m0 2v2m0 8v1m0 1v2m0 8v2m0 2v2m0 1v2m0 13v2m1-336v2m0 10v1m0 11v3m0 38v6m0 3v2m0 8v1m0 25v1m0 28v1m0 5v1m0 36v2m0 7v2m0 21v1m0 56v1m0 4v2m0 27v2m0 44v2m1-409v1m0 42v2m0 51v5m0 10v1m0 5v4m0 29v2m0 22v1m0 5v1m0 111v1m0 37v2m0 10v2m0 1v2m0 32v2m0 19v2m0 5v3m1-351v1m0 42v4m0 73v1m0 20v2m0 15v2m0 7v1m0 3v2m0 5v2m0 2v1m0 52v1m0 29v2m0 18v2m0 43v4m0 5v3m1-392v2m0 4v1m0 30v1m0 5v1m0 6v2m0 29v2m0 11v1m0 15v2m0 3v1m0 5v1m0 18v1m0 21v2m0 16v2m0 16v1m0 4v2m0 6v1m0 22v1m0 2v1m0 41v2m0 24v1m0 29v2m0 13v2m0 1v2m0 13v3m0 7v2m1-342v2m0 42v1m0 15v2m0 4v2m0 11v2m0 9v1m0 14v2m0 2v1m0 19v2m0 27v1m0 5v2m0 2v2m0 7v1m0 1v2m0 11v1m0 14v2m0 74v2m0 6v4m0 29v3m0 2v2m0 19v3m1-393v4m0 3v1m0 5v1m0 2v2m0 12v2m0 15v2m0 11v2m0 28v2m0 2v1m0 35v2m0 6v3m0 59v2m0 20v1m0 10v1m0 37v2m0 33v2m0 16v2m0 2v2m0 15v2m0 4v3m0 14v1m0 2v3m0 11v3m0 5v1m0 3v2m0 3v2m1-407v2m0 10v1m0 47v2m0 15v2m0 42v2m0 8v1m0 2v2m0 29v2m0 12v2m0 26v1m0 1v1m0 7v1m0 7v1m0 16v1m0 44v2m0 2v1m0 2v1m0 17v2m0 2v3m0 7v2m0 8v2m0 7v1m0 27v2m0 7v3m0 2v3m1-381v1m0 9v2m0 9v2m0 27v4m0 32v1m0 17v2m0 1v1m0 14v4m0 8v1m0 3v1m0 7v1m0 24v1m0 23v1m0 10v1m0 16v1m0 19v2m0 2v1m0 4v2m0 30v1m0 8v1m0 38v2m0 7v3m0 16v2m0 18v2m1-377v2m0 7v1m0 32v2m0 29v1m0 7v1m0 12v1m0 23v1m0 3v1m0 1v1m0 23v1m0 2v1m0 5v3m0 14v4m0 8v1m0 50v1m0 58v1m0 21v2m0 15v4m0 9v1m0 27v3m1-396v2m0 13v2m0 1v6m0 42v2m0 25v1m0 20v3m0 17v1m0 15v1m0 3v1m0 2v1m0 9v2m0 2v1m0 51v3m0 9v1m0 76v1m0 14v1m0 10v2m0 10v2m0 9v1m0 2v3m0 21v3m0 6v2m1-404v2m0 14v2m0 44v2m0 4v2m0 40v1m0 35v1m0 1v2m0 35v2m0 25v2m0 5v2m0 3v2m0 2v1m0 69v2m0 23v2m0 4v3m0 28v2m0 10v2m0 7v2m0 21v3m1-411v2m0 20v2m0 44v2m0 9v2m0 13v1m0 45v1m0 26v1m0 2v2m0 9v2m0 54v2m0 1v2m0 19v1m0 79v2m0 12v2m0 18v2m1-370v2m0 36v1m0 6v2m0 20v1m0 15v2m0 19v5m0 10v1m0 36v1m0 1v5m0 8v2m0 21v1m0 124v2m0 4v1m0 4v2m0 20v2m0 36v2m0 2v3m1-393v2m0 18v2m0 27v2m0 33v1m0 6v1m0 11v1m0 25v2m0 11v2m0 1v1m0 10v1m0 2v1m0 8v2m0 4v2m0 29v1m0 30v2m0 20v1m0 20v2m0 30v1m0 20v2m1-338v1m0 9v2m0 27v4m0 43v2m0 9v2m0 18v1m0 2v2m0 1v1m0 5v2m0 2v2m0 7v1m0 7v2m0 2v2m0 7v2m0 24v2m0 10v1m0 4v1m0 24v1m0 2v2m0 4v2m0 3v1m0 13v1m0 29v1m0 33v1m0 68v1m1-385v2m0 2v2m0 4v2m0 33v2m0 14v2m0 12v2m0 29v1m0 13v3m0 16v2m0 2v2m0 6v1m0 3v2m0 27v2m0 5v2m0 56v1m0 38v2m0 23v1m0 2v1m0 6v4m0 27v2m0 28v2m1-389v1m0 4v1m0 29v2m0 9v2m0 7v2m0 4v4m0 12v2m0 7v1m0 16v1m0 32v2m0 17v1m0 57v2m0 5v1m0 24v1m0 14v2m0 52v1m0 3v2m0 29v2m0 9v4m0 7v4m0 5v7m1-391v2m0 40v2m0 1v2m0 1v1m0 31v2m0 6v2m0 2v2m0 11v2m0 2v1m0 18v1m0 24v1m0 15v1m0 5v1m0 12v1m0 16v2m0 20v2m0 2v1m0 20v1m0 4v2m0 42v1m0 11v1m0 17v2m0 2v2m0 6v2m0 22v2m0 13v2m0 5v3m0 7v2m1-410v1m0 11v2m0 6v2m0 2v2m0 19v2m0 10v4m0 15v1m0 38v1m0 15v1m0 37v2m0 2v1m0 31v2m0 2v1m0 2v2m0 13v1m0 15v2m0 5v1m0 14v1m0 67v2m0 11v1m0 38v2m0 15v3m1-400v1m0 21v2m0 2v1m0 26v1m0 39v1m0 8v2m0 46v2m0 11v1m0 62v1m0 17v2m0 2v1m0 10v1m0 6v1m0 73v2m0 4v4m0 16v3m0 18v3m1-369v1m0 17v2m0 49v1m0 4v1m0 10v1m0 3v1m0 2v1m0 28v2m0 23v3m0 4v4m0 16v1m0 13v1m0 36v1m0 94v2m0 2v1m0 4v2m0 20v3m0 2v2m0 15v2m1-406v2m0 11v1m0 4v2m0 7v2m0 35v2m0 11v1m0 20v5m0 10v1m0 1v2m0 16v2m0 3v1m0 8v2m0 36v1m0 3v1m0 91v2m0 21v2m0 46v2m0 28v2m0 3v2m0 24v2m1-398v2m0 9v4m0 36v1m0 4v2m0 32v2m0 5v2m0 15v2m0 33v1m0 5v1m0 9v2m0 7v1m0 3v2m0 56v1m0 15v2m0 5v2m0 38v2m0 41v2m0 18v2m0 37v1m1-355v2m0 112v1m0 1v1m0 3v2m0 1v1m0 10v1m0 7v1m0 46v1m0 41v2m0 33v2m0 17v2m1-329v2m0 3v1m0 37v2m0 6v2m0 22v2m0 2v1m0 15v1m0 12v2m0 8v1m0 7v1m0 9v1m0 5v2m0 6v3m0 36v1m0 130v1m0 27v2m0 11v1m0 8v2m0 5v2m0 8v2m0 2v3m1-403v2m0 13v1m0 13v1m0 55v2m0 2v1m0 5v1m0 77v2m0 2v2m0 9v1m0 17v2m0 40v2m0 44v1m0 14v1m0 9v1m0 1v2m0 6v2m0 20v2m0 11v2m0 5v6m0 1v2m0 32v3m1-431v2m0 15v2m0 5v3m0 29v1m0 12v1m0 15v2m0 12v2m0 4v3m0 3v1m0 42v1m0 12v2m0 1v2m0 14v2m0 5v2m0 5v1m0 30v2m0 56v2m0 14v2m0 35v2m0 38v2m0 10v3m0 2v2m0 4v2m1-383v2m0 38v2m0 7v2m0 12v2m0 7v2m0 10v1m0 53v1m0 14v2m0 4v1m0 2v1m0 23v1m0 2v1m0 9v2m0 14v1m0 37v1m0 43v2m0 27v1m0 9v1m0 25v2m0 11v1m1-372v3m0 28v2m0 2v2m0 8v2m0 6v1m0 7v1m0 14v1m0 23v2m0 46v1m0 2v2m0 44v2m0 7v1m0 47v2m0 20v2m0 35v2m0 14v2m0 11v2m0 5v2m0 4v3m0 22v3m1-400v2m0 5v2m0 6v2m0 5v1m0 2v1m0 19v1m0 3v2m0 1v3m0 6v3m0 5v1m0 60v1m0 13v2m0 13v2m0 1v2m0 1v1m0 9v2m0 52v2m0 24v2m0 10v1m0 24v2m0 44v1m0 39v2m0 6v1m1-391v1m0 5v1m0 6v2m0 17v2m0 16v2m0 8v2m0 2v2m0 10v3m0 15v1m0 19v1m0 15v1m0 9v1m0 3v1m0 12v1m0 18v1m0 7v1m0 44v1m0 98v2m0 1v1m0 15v1m0 13v2m0 22v2m1-380v2m0 26v2m0 15v3m0 37v1m0 7v3m0 5v2m0 7v1m0 2v2m0 6v2m0 2v1m0 3v2m0 5v2m0 18v1m0 13v1m0 27v1m0 7v2m0 13v2m0 87v3m0 15v2m0 6v1m0 15v1m0 40v1m1-342v2m0 1v2m0 3v1m0 11v1m0 1v2m0 22v3m0 5v2m0 7v2m0 23v1m0 21v1m0 10v2m0 6v1m0 120v2m0 50v2m0 4v1m1-358v2m0 17v2m0 2v1m0 46v2m0 23v2m0 39v2m0 6v3m0 6v2m0 2v2m0 1v4m0 23v1m0 99v2m0 15v2m0 14v1m0 7v2m0 8v1m0 20v1m1-339v1m0 4v2m0 8v1m0 12v2m0 56v1m0 2v1m0 5v1m0 18v1m0 6v4m0 15v2m0 10v2m0 6v1m0 36v2m0 34v2m0 23v1m0 69v2m1-345v1m0 3v2m0 37v3m0 2v3m0 45v2m0 9v2m0 6v1m0 4v2m0 1v2m0 15v1m0 17v1m0 17v1m0 9v2m0 5v1m0 7v1m0 58v2m0 48v2m0 2v1m0 10v2m0 6v1m0 5v2m1-347v2m0 21v2m0 21v2m0 9v2m0 61v1m0 2v1m0 15v1m0 12v1m0 2v1m0 23v1m0 4v2m0 3v2m0 21v1m0 37v2m1-253v2m0 11v2m0 34v1m0 18v2m0 24v1m0 4v2m0 14v2m0 5v2m0 13v2m0 13v2m0 9v1m0 27v1m0 38v2m0 116v1m1-350v2m0 42v1m0 43v2m0 4v4m0 16v1m0 2v2m0 38v1m0 15v2m0 158v1m1-334v2m0 20v2m0 14v2m0 11v2m0 11v2m0 6v1m0 20v1m0 8v1m0 2v1m0 13v2m0 7v1m0 5v2m0 19v1m0 9v2m0 26v1m0 9v1m0 13v1m0 21v1m0 108v1m1-344v2m0 4v1m0 15v2m0 9v1m0 10v2m0 8v4m0 67v2m0 22v1m0 12v1m0 34v1m1-190v1m0 9v2m0 16v2m0 43v2m0 11v2m0 9v2m0 4v1m0 6v1m0 6v1m0 8v1m0 15v1m0 3v1m0 82v2m0 15v2m0 83v2m0 10v2m1-362v2m0 67v2m0 21v2m0 15v1m0 17v1m0 24v1m0 8v1m0 13v2m0 4v2m0 165v1m0 4v2m1-365v2m0 12v2m0 5v2m0 8v1m0 44v2m0 29v1m0 1v4m0 16v1m0 10v1m0 43v2m0 6v1m0 64v1m1-231v2m0 27v1m0 15v1m0 4v1m0 22v1m0 1v2m0 15v2m0 7v1m0 1v1m0 1v5m0 3v2m0 39v2m0 139v1m1-316v2m0 2v1m0 20v2m0 50v1m0 26v1m0 21v1m0 6v3m0 7v2m0 4v4m0 12v1m0 22v1m0 15v2m0 58v1m0 26v1m1-263v2m0 9v1m0 31v2m0 28v2m0 2v2m0 14v2m0 4v2m0 8v1m0 1v2m0 19v1m0 5v1m0 3v2m0 48v2m0 114v1m1-327v4m0 60v1m0 3v2m0 51v1m0 9v1m0 5v1m0 11v1m0 2v1m0 10v1m0 16v1m1-182v1m0 10v2m0 12v2m0 34v2m0 31v2m0 9v1m0 5v1m0 16v1m0 24v2m0 7v1m0 10v1m0 31v1m1-197v2m0 28v1m0 10v2m0 38v1m0 22v3m0 1v1m0 4v1m0 7v1m0 11v1m0 2v2m0 2v1m0 3v2m0 11v2m1-165v3m0 15v2m0 39v2m0 3v2m0 16v1m0 17v2m0 4v1m0 14v2m0 5v2m0 1v1m0 18v4m0 7v2m1-166v2m0 8v1m0 3v2m0 27v2m0 23v1m0 39v1m0 7v1m0 9v2m0 2v2m0 5v2m0 9v1m0 2v2m0 13v2m0 5v2m0 29v1m1-204v2m0 8v2m0 39v2m0 5v2m0 7v2m0 22v2m0 7v1m0 3v5m0 10v1m0 7v1m0 25v3m0 5v1m0 4v1m0 2v1m1-154v1m0 80v3m0 34v1m0 1v2m0 29v1m0 1v1m1-165v2m0 49v2m0 24v1m0 8v3m0 1v2m0 32v1m0 4v2m0 15v1m1-153v2m0 6v2m0 40v2m0 81v1m0 9v1m0 55v1m1-187v2m0 18v1m0 7v1m0 12v2m0 27v1m0 4v2m0 12v3m0 9v2m0 9v1m0 7v1m0 5v2m1-133v1m0 6v2m0 9v1m0 24v2m0 33v1m0 16v2m0 8v3m0 5v2m0 10v2m0 5v1m0 3v2m0 7v1m1-106v2m0 55v2m0 8v2m0 4v2m0 12v1m0 20v2m1-145v2m0 31v1m0 36v2m0 9v2m0 19v1m0 7v1m0 32v1m0 1v1m1-146v2m0 83v1m0 1v2m0 63v1m1-140v2m0 56v2m0 22v1m0 37v1m1-39v2m0 3v1m0 34v1m1-138v2"/>
<path stroke="#40005a" d="M0 103v2m0 110v2m0 6v1m0 1v1m0 5v1m0 3v2m0 21v1m0 91v1m0 37v2m0 42v4m0 27v2m0 14v2m1-368v1m0 28v2m0 50v1m0 23v1m0 4v2m0 21v1m0 2v1m0 5v1m0 91v1m0 88v1m0 1v2m0 21v2m0 2v1m1-368v1m0 98v1m0 3v1m0 2v1m0 2v1m0 6v2m0 8v1m0 2v2m0 30v1m0 150v2m0 40v2m0 13v3m0 36v2m1-417v2m0 11v2m0 62v2m0 43v2m0 19v1m0 183v2m0 53v2m1-292v2m0 1v1m0 12v2m0 8v2m0 3v2m0 8v2m0 175v2m0 37v2m0 14v2m0 4v2m0 10v4m1-368v2m0 3v4m0 33v1m0 10v1m0 40v2m0 17v1m0 23v2m0 10v2m0 133v1m0 16v2m0 17v2m0 2v2m0 9v4m0 17v3m0 22v3m1-336v1m0 79v2m0 3v2m0 11v2m0 13v1m0 144v2m0 13v2m0 2v2m0 31v3m1-325v1m0 10v2m0 36v2m0 7v1m0 9v2m0 7v1m0 13v1m0 3v2m0 197v2m0 24v2m0 5v3m1-360v1m0 6v2m0 58v2m0 1v2m0 5v2m0 5v2m0 4v2m0 10v1m0 29v2m0 8v2m0 1v2m0 168v2m0 19v2m0 6v1m1-355v2m0 38v2m0 2v1m0 27v2m0 11v2m0 3v2m0 8v1m0 19v1m0 12v3m0 13v1m0 167v2m0 1v2m0 28v1m0 15v2m0 9v2m0 3v2m0 5v1m1-392v2m0 9v2m0 85v2m0 24v2m0 2v2m0 3v1m0 5v2m0 18v2m0 31v2m0 134v2m0 11v1m0 6v2m0 8v2m0 5v3m1-365v2m0 1v1m0 38v1m0 6v2m0 5v1m0 25v3m0 11v2m0 8v1m0 14v1m0 2v1m0 1v2m0 2v1m0 18v1m0 2v2m0 35v1m0 144v6m0 2v1m0 31v2m0 5v3m1-394v2m0 2v2m0 45v1m0 36v1m0 8v1m0 8v1m0 2v1m0 7v1m0 14v1m0 13v2m0 2v1m0 8v1m0 8v1m0 203v3m1-368v2m0 6v2m0 2v2m0 22v2m0 3v2m0 20v1m0 27v1m0 4v2m0 1v2m0 19v1m0 27v1m0 6v1m0 22v2m0 6v1m0 140v2m1-224v2m0 2v3m0 16v1m0 1v4m0 23v2m0 77v1m0 118v2m0 4v7m1-354v2m0 4v2m0 29v1m0 4v2m0 40v1m0 7v1m0 2v1m0 8v1m0 27v1m0 65v2m0 28v1m0 83v1m0 28v2m0 4v1m0 18v2m1-344v1m0 10v2m0 34v1m0 23v1m0 12v2m0 3v1m0 12v1m0 1v2m0 21v2m0 15v1m0 14v2m0 9v2m0 121v2m0 11v1m0 8v1m0 2v2m0 15v2m1-341v2m0 47v1m0 18v1m0 6v2m0 7v2m0 6v2m0 18v1m0 4v1m0 4v1m0 8v2m0 9v1m0 25v2m0 42v2m0 101v3m0 4v3m0 22v2m1-373v2m0 21v1m0 2v2m0 7v2m0 4v1m0 26v1m0 10v1m0 6v2m0 27v1m0 2v1m0 4v1m0 14v2m0 1v1m0 11v2m0 39v2m0 5v2m0 22v3m0 28v2m0 59v1m0 23v1m0 4v2m0 9v1m1-339v2m0 18v3m0 6v2m0 5v2m0 36v3m0 10v2m0 7v1m0 1v2m0 4v1m0 23v2m0 4v2m0 10v2m0 111v1m0 41v2m0 27v2m0 4v4m0 1v2m1-383v2m0 5v2m0 19v2m0 13v2m0 4v2m0 5v2m0 50v1m0 50v1m0 54v1m0 70v1m0 4v1m0 58v2m0 3v1m0 6v2m1-337v1m0 3v2m0 20v2m0 2v2m0 2v2m0 26v1m0 34v1m0 17v1m0 17v1m0 13v2m0 4v2m0 3v2m0 3v2m0 1v2m0 25v1m0 23v2m0 9v2m0 110v4m0 17v2m0 6v1m1-380v2m0 11v1m0 14v1m0 4v4m0 48v2m0 9v2m0 14v2m0 3v2m0 24v1m0 4v2m0 1v1m0 25v1m0 29v2m0 2v1m0 50v1m0 19v1m0 15v2m0 6v2m0 3v1m0 9v3m0 10v2m0 9v2m1-349v2m0 5v1m0 22v2m0 25v1m0 22v2m0 37v1m0 19v2m0 3v1m0 13v2m0 136v2m0 22v2m0 8v2m0 3v2m0 23v2m1-380v2m0 7v2m0 37v1m0 1v2m0 51v2m0 2v2m0 4v2m0 36v2m0 4v1m0 2v1m0 9v2m0 52v2m0 73v1m0 31v2m0 8v1m0 7v2m0 9v2m0 23v2m1-364v1m0 11v1m0 63v1m0 10v1m0 7v1m0 10v1m0 15v2m0 1v2m0 1v1m0 7v1m0 3v2m0 82v2m0 4v1m0 38v2m0 63v1m0 12v2m0 5v3m0 8v1m0 3v2m1-332v4m0 49v2m0 1v1m0 3v2m0 83v1m0 31v1m0 19v1m0 49v1m0 4v2m0 17v2m0 16v2m0 12v2m0 31v1m1-336v4m0 43v1m0 28v1m0 18v1m0 7v1m0 2v1m0 13v1m0 45v1m0 73v1m0 5v1m0 22v1m0 4v1m0 8v2m0 9v2m0 4v2m0 26v3m1-387v1m0 62v1m0 63v2m0 5v1m0 11v1m0 1v2m0 10v1m0 9v2m0 17v1m0 9v1m0 40v1m0 76v4m0 10v4m0 6v1m0 20v1m0 5v3m1-369v4m0 16v1m0 30v1m0 36v2m0 2v2m0 1v4m0 37v2m0 6v2m0 19v1m0 2v1m0 44v2m0 10v1m0 93v1m0 3v2m0 6v1m0 2v1m0 11v2m0 1v2m0 2v2m0 17v2m0 1v2m0 2v3m0 5v2m1-366v2m0 32v1m0 6v2m0 3v1m0 12v4m0 11v3m0 27v1m0 7v2m0 4v3m0 5v2m0 5v2m0 25v1m0 19v2m0 56v1m0 8v1m0 18v1m0 4v1m0 11v2m0 30v2m0 15v2m0 60v2m1-412v1m0 59v1m0 17v1m0 2v2m0 2v1m0 3v2m0 58v1m0 1v1m0 10v1m0 1v1m0 4v1m0 4v1m0 2v1m0 44v2m0 16v1m0 14v1m0 23v1m0 19v2m0 13v1m0 6v2m0 46v3m1-362v2m0 3v2m0 19v2m0 15v1m0 19v1m0 4v1m0 2v2m0 16v1m0 26v2m0 1v2m0 10v2m0 20v1m0 101v4m0 3v2m0 16v3m0 31v2m0 3v2m0 10v1m0 14v2m0 1v2m0 21v3m1-352v2m0 9v2m0 34v1m0 4v1m0 23v1m0 57v1m0 4v2m0 5v2m0 18v1m0 1v2m0 83v1m0 24v1m0 70v2m0 7v2m1-408v1m0 10v1m0 3v7m0 3v1m0 2v2m0 56v2m0 13v2m0 30v2m0 2v2m0 30v1m0 3v1m0 6v1m0 2v1m0 1v2m0 4v2m0 4v1m0 18v2m0 30v1m0 13v1m0 26v2m0 31v2m0 27v1m0 5v2m0 9v2m1-356v2m0 19v1m0 35v2m0 4v1m0 12v2m0 1v2m0 11v1m0 28v1m0 10v2m0 16v1m0 3v1m0 12v2m0 10v1m0 11v1m0 36v2m0 18v2m0 18v2m0 31v2m0 5v2m0 12v1m0 4v2m0 1v4m0 5v1m0 23v3m0 17v6m0 8v1m1-403v2m0 42v1m0 11v1m0 33v2m0 37v1m0 40v1m0 2v2m0 5v1m0 3v1m0 6v2m0 57v1m0 10v2m0 22v1m0 5v1m0 39v3m0 4v2m0 8v2m0 31v1m0 6v2m1-386v2m0 8v2m0 3v2m0 8v1m0 14v2m0 43v2m0 9v1m0 19v2m0 32v1m0 29v2m0 10v2m0 51v1m0 4v2m0 23v1m0 20v1m0 13v2m0 17v1m0 2v2m0 20v2m0 24v1m0 3v3m1-403v2m0 21v2m0 51v2m0 1v1m0 29v2m0 3v1m0 5v1m0 32v1m0 3v1m0 5v4m0 1v2m0 22v1m0 25v4m0 17v1m0 45v1m0 14v3m0 11v1m0 9v2m0 16v2m0 10v2m0 17v2m0 27v2m1-329v4m0 23v2m0 48v1m0 20v2m0 1v1m0 21v1m0 26v1m0 5v1m0 10v1m0 30v2m0 1v2m0 6v3m0 25v2m0 32v2m0 2v2m0 15v2m1-364v2m0 9v2m0 6v2m0 1v2m0 10v1m0 12v2m0 10v2m0 28v2m0 4v2m0 5v1m0 3v2m0 8v2m0 5v1m0 4v2m0 13v2m0 7v1m0 20v1m0 4v2m0 2v1m0 1v1m0 15v2m0 8v2m0 68v1m0 8v2m0 46v1m0 5v2m0 10v2m0 2v2m0 8v1m0 7v4m0 22v3m1-385v1m0 6v2m0 20v1m0 4v2m0 17v4m0 8v2m0 10v2m0 5v1m0 13v1m0 5v2m0 23v1m0 17v1m0 7v2m0 10v2m0 50v2m0 23v2m0 10v1m0 6v2m0 17v1m0 2v2m0 6v2m0 3v1m0 13v2m0 8v4m0 14v2m0 13v1m0 16v2m0 12v2m1-401v2m0 38v2m0 6v2m0 1v2m0 15v2m0 9v2m0 6v1m0 30v1m0 33v2m0 1v1m0 3v2m0 14v1m0 1v2m0 7v1m0 19v2m0 8v1m0 16v1m0 12v2m0 11v2m0 8v2m0 3v1m0 25v4m0 21v1m0 12v2m0 16v1m0 5v1m0 18v2m0 1v1m0 2v3m1-380v2m0 2v2m0 41v1m0 22v4m0 8v1m0 14v2m0 9v2m0 24v1m0 18v1m0 1v2m0 9v1m0 21v1m0 41v1m0 11v2m0 72v2m0 17v1m0 1v2m1-340v2m0 2v2m0 47v3m0 4v2m0 26v2m0 49v2m0 10v1m0 17v1m0 6v1m0 4v1m0 7v1m0 4v2m0 3v1m0 1v2m0 9v1m0 14v3m0 2v1m0 6v4m0 28v2m0 32v1m0 3v4m0 6v2m0 6v1m0 3v1m0 32v3m0 4v2m0 10v3m1-410v1m0 22v3m0 2v1m0 9v2m0 24v3m0 3v2m0 34v4m0 40v2m0 7v2m0 11v2m0 29v1m0 7v1m0 1v2m0 6v1m0 13v3m0 5v2m0 13v2m0 5v1m0 5v1m0 10v1m0 32v1m0 20v1m0 12v1m0 49v2m0 5v3m1-403v2m0 8v2m0 15v2m0 17v2m0 48v1m0 79v2m0 23v1m0 15v1m0 9v1m0 9v3m0 2v2m0 4v2m0 11v2m0 57v2m0 20v2m0 8v2m0 62v2m1-416v2m0 19v2m0 43v2m0 1v4m0 93v1m0 30v1m0 39v1m0 22v2m0 4v1m0 47v2m0 16v2m0 5v2m0 7v2m1-357v2m0 1v2m0 13v2m0 16v2m0 16v1m0 13v1m0 18v1m0 11v1m0 13v2m0 53v1m0 6v2m0 9v1m0 24v1m0 4v2m0 7v1m0 1v3m0 5v1m0 13v2m0 1v1m0 18v1m0 6v1m0 13v1m0 36v2m0 9v1m0 16v2m0 9v2m0 2v3m0 37v1m1-402v2m0 41v1m0 2v2m0 10v3m0 5v2m0 26v1m0 6v1m0 2v2m0 42v1m0 10v1m0 1v1m0 5v2m0 11v1m0 17v2m0 5v1m0 15v2m0 33v1m0 2v1m0 2v1m0 14v1m0 58v1m0 4v2m0 8v2m0 16v2m0 46v1m1-408v1m0 27v1m0 13v3m0 5v1m0 5v2m0 1v1m0 5v1m0 19v1m0 1v1m0 14v2m0 10v2m0 31v1m0 18v1m0 67v1m0 11v2m0 2v1m0 15v1m0 2v2m0 37v1m0 2v2m0 9v2m0 2v2m0 5v1m0 4v2m0 4v4m0 4v4m0 31v2m0 23v2m1-423v2m0 2v2m0 5v2m0 3v1m0 3v2m0 1v2m0 11v2m0 16v1m0 20v1m0 8v2m0 10v2m0 52v2m0 5v2m0 1v1m0 15v1m0 1v1m0 22v1m0 6v1m0 9v1m0 45v1m0 23v1m0 9v2m0 16v2m0 2v2m0 8v3m0 17v1m0 1v2m0 11v2m0 12v2m0 15v2m1-391v2m0 35v1m0 4v1m0 15v2m0 66v1m0 10v2m0 11v1m0 1v2m0 14v2m0 14v1m0 7v2m0 3v1m0 6v2m0 13v3m0 8v3m0 5v2m0 10v1m0 25v1m0 19v2m0 1v2m0 16v2m0 13v1m0 18v2m0 25v2m0 11v4m0 5v1m1-405v1m0 2v4m0 4v1m0 28v2m0 13v2m0 7v2m0 23v2m0 20v2m0 3v1m0 16v1m0 22v2m0 7v1m0 13v1m0 12v1m0 7v2m0 4v1m0 8v2m0 29v1m0 70v2m0 15v2m0 10v1m0 2v2m0 3v2m0 19v2m0 11v3m1-414v1m0 17v1m0 2v1m0 55v2m0 7v1m0 23v1m0 64v2m0 11v1m0 5v1m0 31v1m0 1v1m0 3v3m0 9v1m0 4v1m0 11v1m0 3v1m0 2v1m0 10v2m0 46v1m0 12v1m0 27v4m0 1v2m0 13v2m0 25v2m1-394v2m0 33v1m0 18v1m0 5v2m0 65v2m0 11v4m0 12v2m0 11v2m0 23v2m0 26v1m0 11v1m0 2v1m0 38v2m0 6v1m0 52v3m0 10v2m0 6v2m0 4v2m0 35v3m1-407v2m0 4v2m0 18v1m0 25v1m0 6v4m0 16v2m0 3v2m0 4v1m0 23v2m0 17v1m0 10v1m0 1v1m0 24v1m0 8v1m0 4v1m0 3v1m0 8v2m0 8v2m0 8v1m0 17v1m0 28v1m0 27v1m0 61v2m0 11v2m0 26v2m1-407v1m0 5v2m0 7v2m0 52v2m0 43v1m0 7v2m0 17v1m0 51v2m0 7v1m0 12v2m0 4v2m0 16v1m0 29v2m0 75v4m0 8v1m0 39v3m0 7v2m0 5v2m0 6v1m1-438v1m0 15v2m0 17v2m0 2v3m0 16v2m0 2v2m0 7v2m0 2v2m0 7v2m0 6v1m0 27v2m0 8v2m0 3v1m0 3v1m0 9v2m0 21v2m0 34v2m0 3v1m0 55v1m0 14v1m0 8v2m0 3v1m0 28v1m0 44v2m0 9v4m0 34v1m1-351v2m0 6v2m0 9v2m0 11v2m0 17v1m0 13v3m0 2v2m0 3v2m0 8v1m0 18v1m0 4v2m0 37v1m0 6v2m0 6v1m0 10v1m0 3v2m0 1v1m0 23v1m0 40v1m0 4v2m0 1v4m0 4v2m0 27v2m0 28v3m0 3v3m0 7v3m0 25v2m1-411v1m0 15v2m0 17v1m0 24v4m0 5v2m0 38v1m0 7v2m0 6v1m0 5v1m0 12v3m0 126v1m0 18v2m0 20v2m0 25v1m0 2v2m0 4v2m0 12v2m0 16v1m0 6v2m1-395v4m0 1v2m0 13v1m0 21v1m0 1v1m0 20v1m0 19v2m0 1v1m0 40v1m0 6v2m0 19v1m0 8v1m0 1v3m0 14v1m0 48v3m0 48v1m0 26v1m0 10v2m0 39v2m0 31v1m1-403v2m0 12v2m0 18v2m0 24v2m0 4v3m0 97v3m0 5v1m0 33v2m0 2v1m0 3v1m0 4v2m0 5v1m0 34v2m0 11v3m0 5v3m0 16v1m0 38v2m0 12v2m0 2v1m0 20v2m0 23v2m0 3v2m1-415v2m0 27v2m0 22v2m0 2v2m0 6v2m0 2v1m0 30v2m0 50v1m0 12v2m0 7v2m0 22v1m0 6v1m0 15v1m0 25v2m0 30v1m0 43v1m0 16v2m0 2v1m0 2v2m0 22v2m0 23v1m0 11v3m1-402v2m0 10v1m0 6v2m0 25v2m0 5v2m0 15v2m0 14v1m0 8v2m0 13v1m0 9v2m0 34v1m0 9v2m0 14v1m0 6v1m0 10v2m0 4v1m0 18v2m0 7v1m0 20v2m0 12v1m0 1v2m0 10v2m0 3v1m0 3v1m0 2v1m0 4v1m0 20v2m0 6v1m0 59v1m0 8v3m1-405v2m0 7v1m0 53v1m0 53v1m0 34v2m0 41v2m0 5v2m0 18v1m0 13v1m0 16v3m0 21v1m0 33v2m0 11v2m0 2v3m0 5v2m0 9v2m0 2v1m0 21v6m0 10v2m0 8v2m0 5v2m1-407v2m0 7v2m0 6v8m0 29v2m0 61v2m0 2v1m0 6v2m0 31v2m0 7v2m0 6v1m0 1v1m0 28v1m0 26v1m0 6v1m0 20v1m0 21v2m0 26v2m0 28v2m0 4v2m0 32v3m0 18v2m1-400v2m0 3v1m0 29v1m0 6v1m0 4v2m0 9v2m0 45v1m0 26v3m0 18v1m0 1v2m0 2v1m0 10v1m0 5v1m0 14v2m0 4v1m0 23v2m0 15v1m0 2v2m0 37v1m0 3v2m0 4v1m0 27v2m0 19v1m0 4v2m0 12v2m0 28v2m1-353v2m0 50v2m0 38v1m0 40v1m0 22v1m0 9v2m0 22v2m0 4v1m0 17v2m0 10v1m0 16v1m0 1v2m0 17v2m0 9v1m0 53v2m0 9v3m0 6v2m1-404v2m0 20v2m0 37v1m0 13v1m0 10v2m0 13v2m0 65v1m0 12v1m0 2v1m0 12v1m0 10v2m0 5v2m0 7v1m0 5v1m0 43v1m0 65v2m0 1v1m0 4v1m0 14v2m0 16v2m0 6v2m0 8v3m1-397v2m0 21v2m0 3v1m0 9v2m0 25v1m0 31v2m0 8v1m0 38v1m0 10v2m0 16v1m0 5v2m0 2v1m0 14v1m0 3v2m0 14v2m0 9v1m0 1v3m0 21v1m0 31v4m0 31v2m0 8v4m0 38v2m0 6v3m0 4v2m1-422v3m0 21v2m0 11v2m0 15v2m0 13v2m0 12v1m0 12v3m0 6v1m0 44v1m0 14v1m0 52v1m0 21v2m0 9v2m0 29v1m0 78v4m0 10v2m0 2v2m0 25v1m0 2v2m0 5v2m1-383v2m0 5v2m0 1v1m0 1v3m0 26v1m0 4v2m0 14v2m0 9v1m0 5v2m0 3v1m0 24v1m0 11v2m0 14v1m0 8v2m0 9v2m0 6v1m0 8v1m0 29v2m0 7v2m0 4v1m0 3v1m0 13v2m0 78v1m0 28v1m0 4v2m0 3v1m0 3v1m0 2v1m1-365v1m0 10v2m0 11v2m0 9v1m0 2v2m0 1v2m0 41v2m0 69v3m0 5v1m0 4v2m0 3v1m0 8v1m0 7v2m0 99v1m0 8v2m0 18v2m0 8v2m0 18v1m0 7v2m0 28v2m0 15v2m1-419v2m0 8v2m0 2v2m0 2v1m0 2v2m0 7v1m0 39v1m0 3v1m0 1v2m0 43v1m0 32v1m0 25v1m0 2v1m0 42v2m0 21v1m0 20v1m0 54v1m0 13v1m0 4v2m0 2v2m0 3v2m0 25v2m0 14v2m0 5v1m1-383v3m0 25v2m0 6v3m0 3v2m0 3v2m0 3v1m0 5v2m0 15v2m0 29v1m0 34v2m0 7v1m0 7v1m0 3v2m0 8v1m0 5v1m0 2v2m0 11v2m0 21v2m0 77v2m0 4v2m0 43v2m0 17v2m0 20v2m0 3v2m1-406v1m0 10v2m0 3v2m0 35v1m0 37v3m0 8v1m0 66v4m0 28v2m0 36v1m0 21v1m0 23v2m0 4v1m0 12v1m0 4v2m0 45v2m0 26v1m1-386v2m0 13v1m0 2v2m0 25v1m0 2v3m0 6v2m0 26v2m0 9v1m0 47v2m0 10v1m0 13v1m0 73v1m0 17v1m0 2v1m0 2v2m0 28v1m0 27v1m0 16v2m0 6v2m0 10v2m0 2v2m0 16v4m0 6v3m1-407v2m0 3v4m0 4v2m0 2v2m0 48v1m0 54v1m0 12v2m0 36v2m0 3v2m0 19v1m0 27v1m0 67v2m0 2v1m0 2v1m0 15v2m0 5v2m0 15v2m0 2v1m0 37v2m0 11v6m1-390v2m0 3v2m0 18v2m0 11v2m0 13v1m0 2v1m0 5v2m0 100v1m0 8v1m0 1v1m0 26v2m0 6v3m0 11v1m0 75v1m0 38v4m0 6v2m0 1v4m0 19v4m0 10v1m0 6v4m1-382v2m0 37v1m0 50v1m0 59v1m0 21v1m0 9v1m0 16v2m0 2v2m0 74v2m0 10v2m0 28v1m0 56v2m1-395v4m0 7v2m0 9v2m0 1v1m0 35v4m0 12v1m0 8v2m0 8v1m0 10v1m0 5v3m0 12v1m0 27v2m0 9v1m0 50v1m0 65v1m0 20v2m0 28v1m0 8v2m0 7v2m0 36v5m1-396v2m0 8v2m0 45v5m0 11v1m0 8v2m0 25v2m0 50v1m0 1v1m0 64v2m0 31v1m0 36v2m0 2v2m0 26v2m0 67v2m1-424v3m0 31v3m0 25v1m0 5v3m0 31v2m0 21v3m0 32v2m0 5v2m0 18v1m0 21v2m0 6v1m0 19v1m0 5v2m0 20v1m0 3v2m0 14v2m0 25v2m0 2v2m0 17v1m0 14v2m0 1v2m0 6v1m0 16v2m0 17v2m0 11v4m1-402v2m0 14v2m0 8v1m0 17v1m0 50v2m0 14v1m0 2v1m0 37v1m0 21v2m0 4v1m0 27v2m0 17v2m0 26v1m0 46v2m0 4v1m1-309v1m0 2v1m0 40v2m0 1v1m0 13v1m0 24v2m0 68v2m0 10v3m0 36v1m0 3v1m0 7v1m0 33v1m0 12v2m0 85v1m0 8v2m0 4v1m0 25v2m1-402v1m0 9v2m0 8v2m0 7v1m0 35v1m0 8v1m0 44v2m0 43v2m0 1v1m0 9v1m0 13v2m0 9v1m0 4v2m0 10v1m0 67v1m0 19v1m0 19v2m0 28v1m0 11v2m0 40v2m1-406v1m0 15v1m0 11v2m0 17v1m0 7v2m0 8v2m0 2v4m0 17v2m0 9v2m0 9v1m0 52v2m0 1v1m0 3v1m0 6v2m0 13v1m0 3v2m0 6v1m0 38v1m0 8v1m0 7v1m0 2v1m0 2v1m0 47v2m0 4v1m0 4v2m0 24v1m0 5v2m0 13v1m1-372v1m0 5v2m0 2v3m0 89v2m0 21v2m0 7v2m0 9v1m0 15v1m0 3v2m0 24v1m0 7v1m0 2v1m0 34v1m0 5v2m0 17v1m0 62v2m0 12v1m0 7v2m1-337v4m0 45v2m0 2v1m0 16v2m0 18v2m0 13v1m0 9v1m0 2v1m0 31v1m0 18v1m0 45v1m0 2v1m0 25v1m0 62v2m0 32v2m0 31v2m1-406v2m0 17v1m0 20v2m0 3v2m0 11v2m0 5v1m0 11v2m0 4v2m0 14v2m0 5v2m0 7v2m0 38v1m0 24v2m0 3v3m0 10v1m0 1v1m0 64v2m0 63v2m0 18v2m0 5v2m0 10v1m0 19v2m1-373v2m0 13v7m0 20v2m0 11v2m0 4v2m0 3v1m0 17v1m0 15v1m0 43v1m0 31v1m0 1v3m0 18v2m0 44v1m0 67v2m0 66v2m1-383v1m0 6v4m0 2v2m0 24v2m0 4v1m0 5v2m0 9v1m0 6v2m0 19v3m0 37v4m0 22v2m0 4v1m0 4v3m0 4v2m0 3v1m0 62v1m0 74v2m0 17v2m0 6v2m1-338v2m0 16v2m0 39v1m0 21v1m0 71v2m0 5v2m0 7v2m0 27v2m0 20v1m0 20v2m0 22v1m0 58v2m0 10v2m0 5v2m1-362v2m0 12v1m0 2v3m0 12v2m0 1v1m0 16v1m0 7v3m0 3v2m0 43v2m0 5v2m0 10v2m0 10v1m0 6v1m0 8v2m0 1v2m0 43v3m0 19v2m0 11v1m0 23v1m0 28v1m0 25v1m0 30v3m0 3v4m0 2v1m1-347v2m0 45v2m0 2v1m0 47v2m0 25v1m0 2v1m0 4v2m0 16v1m0 18v1m0 9v1m0 12v1m0 3v1m0 7v1m0 30v1m0 6v1m0 7v2m0 7v1m0 5v2m0 1v1m0 33v1m0 25v1m0 12v1m0 3v2m1-344v1m0 30v2m0 6v2m0 11v1m0 46v2m0 13v2m0 47v1m0 29v2m0 59v1m0 83v2m1-344v2m0 39v4m0 35v1m0 12v2m0 12v1m0 20v2m0 29v2m0 2v2m0 10v1m0 43v1m0 2v2m0 14v2m0 4v2m0 8v2m0 53v2m1-333v2m0 12v3m0 4v1m0 5v2m0 7v1m0 74v1m0 16v4m0 6v2m0 9v3m0 18v1m0 49v1m0 1v1m0 5v2m0 69v1m1-292v1m0 8v2m0 4v2m0 29v2m0 9v2m0 20v1m0 17v1m0 7v4m0 16v1m0 11v1m0 29v1m0 4v1m0 1v2m0 6v1m0 38v1m0 46v2m1-282v2m0 24v2m0 1v2m0 27v2m0 22v1m0 22v1m0 5v4m0 55v2m0 8v3m0 4v1m0 6v2m0 26v2m0 33v2m1-221v2m0 23v4m0 4v2m0 39v3m0 1v1m0 14v1m0 9v1m0 93v1m1-235v1m0 32v2m0 37v2m0 32v1m0 23v2m0 4v2m0 2v2m0 71v1m0 54v2m0 37v2m1-281v1m0 4v3m0 1v2m0 66v1m0 3v1m0 11v3m0 6v2m0 2v1m0 30v1m0 12v1m0 3v2m0 3v1m0 63v2m0 12v2m1-234v1m0 49v2m0 22v1m0 10v1m0 17v2m0 3v2m0 15v2m0 10v2m0 4v3m0 8v1m1-150v2m0 37v2m0 8v4m0 10v2m0 19v2m0 5v4m0 5v1m0 5v1m0 6v3m0 3v1m0 2v2m0 8v2m0 10v2m0 1v1m0 31v1m0 41v1m1-198v2m0 11v2m0 25v2m0 5v2m0 7v2m0 16v1m0 16v1m0 26v2m0 32v2m0 18v2m0 19v1m1-237v1m0 79v1m0 15v1m0 10v2m0 10v2m0 21v4m0 30v1m0 89v2m1-260v2m0 17v1m0 37v1m0 19v2m0 2v2m0 20v1m0 27v1m0 7v3m0 12v1m0 6v2m0 60v2m0 4v1m0 2v1m0 29v1m1-224v2m0 7v1m0 28v2m0 15v2m0 18v1m0 4v1m0 5v1m0 9v1m0 2v1m0 1v1m0 17v1m0 3v1m0 3v1m0 2v1m1-130v4m0 11v2m0 2v1m0 5v2m0 24v1m0 7v3m0 3v2m0 9v2m0 33v2m0 2v2m1-147v2m0 6v1m0 64v1m0 18v2m0 19v1m0 9v1m0 3v2m0 12v1m0 1v2m0 7v3m1-152v1m0 114v1m0 15v2m0 7v1m0 78v2m1-219v1m0 40v2m0 25v1m0 7v1m0 25v1m0 25v1m0 10v1m1-152v1m0 32v1m0 23v1m0 55v2m0 11v1m0 3v1m1-145v2m0 22v2m0 40v1m0 25v2m0 14v2m0 16v1m0 12v1m0 2v1m0 5v2m0 14v2m1-119v2m0 4v2m0 65v1m0 23v1m0 3v1m0 18v1m1-153v2m0 10v1m0 95v3m0 6v3m0 4v1m1-119v1m0 2v2m0 74v2m0 53v2m0 17v2m1-176v2m0 5v2m0 74v1m0 1v2m0 6v2m0 10v2m0 39v1m0 15v2m1-106v1m0 59v2m0 1v1m0 2v1m0 6v1m0 7v1m0 5v2m0 3v1m0 14v1"/>
<path stroke="#4c0070" d="M0 108v2m0 8v2m0 31v2m0 2v2m0 36v2m0 7v1m0 36v3m0 7v1m0 1v2m0 2v1m0 145v2m0 19v2m0 6v2m0 45v2m1-334v1m0 21v1m0 17v3m0 7v2m0 14v1m0 2v1m0 1v2m0 1v2m0 12v2m0 8v1m0 12v2m0 138v2m0 27v3m0 18v1m0 3v2m0 1v2m0 15v1m0 4v4m0 12v2m1-388v2m0 5v1m0 26v1m0 23v1m0 28v3m0 3v3m0 21v2m0 6v1m0 1v1m0 31v3m0 4v2m0 141v2m0 2v1m0 7v2m0 22v2m0 6v1m0 6v2m0 23v2m1-380v2m0 34v2m0 37v2m0 5v1m0 32v1m0 14v2m0 3v2m0 2v3m0 2v1m0 7v2m0 142v2m0 31v2m0 6v2m0 12v1m0 8v1m0 13v2m1-324v2m0 31v1m0 8v3m0 14v1m0 4v2m0 3v1m0 8v1m0 21v4m0 1v2m0 116v2m0 28v2m0 8v2m0 6v1m0 6v1m1-283v2m0 20v4m0 22v2m0 2v2m0 3v2m0 1v1m0 9v2m0 17v1m0 5v2m0 1v1m0 6v1m0 132v1m0 18v2m0 20v2m0 30v5m0 7v1m1-333v1m0 39v2m0 25v1m0 14v2m0 23v1m0 165v1m0 22v2m0 12v2m0 10v5m0 9v2m0 2v2m1-388v1m0 74v2m0 42v2m0 3v2m0 12v3m0 10v2m0 151v1m0 1v1m0 57v2m0 5v1m0 15v1m1-387v2m0 2v2m0 45v2m0 5v1m0 31v1m0 6v2m0 35v1m0 182v2m0 8v2m0 4v1m0 4v2m0 15v3m0 12v3m1-371v2m0 32v1m0 22v1m0 77v2m0 1v2m0 10v1m0 2v2m0 25v2m0 121v2m0 7v1m0 11v2m0 5v1m0 4v2m0 15v2m0 4v2m1-331v1m0 12v2m0 41v1m0 9v1m0 3v2m0 11v3m0 3v1m0 11v1m0 5v1m0 13v1m0 5v2m0 1v2m0 2v2m0 5v2m0 138v2m0 4v1m0 12v2m0 6v2m0 12v2m1-365v2m0 21v1m0 23v1m0 19v2m0 26v2m0 2v3m0 2v1m0 4v1m0 7v1m0 27v2m0 18v1m0 3v1m0 1v2m0 30v2m0 118v2m0 4v1m0 3v2m0 1v2m0 12v2m0 15v2m0 10v3m1-340v1m0 82v1m0 11v1m0 34v1m0 14v1m0 5v2m0 3v1m0 121v2m0 9v2m0 8v2m0 5v2m0 29v3m1-318v1m0 27v1m0 1v2m0 5v2m0 10v1m0 15v1m0 27v2m0 225v2m1-370v1m0 33v1m0 2v1m0 42v1m0 17v2m0 12v1m0 4v1m0 24v2m0 10v2m0 26v1m0 40v1m0 119v2m0 5v2m0 10v2m1-339v4m0 11v1m0 27v2m0 5v1m0 3v1m0 36v1m0 2v2m0 14v2m0 4v2m0 12v1m0 3v1m0 52v2m0 11v1m0 5v2m0 102v2m0 18v2m0 18v3m1-397v1m0 42v1m0 23v1m0 23v1m0 19v1m0 12v2m0 4v2m0 8v2m0 15v2m0 8v1m0 48v2m0 117v2m0 22v4m0 18v2m0 9v2m1-392v2m0 12v2m0 28v2m0 4v1m0 14v2m0 23v1m0 20v1m0 2v1m0 17v2m0 3v1m0 5v2m0 2v2m0 16v1m0 168v2m0 13v1m0 21v2m0 6v3m0 9v2m0 1v2m1-385v2m0 7v1m0 27v2m0 12v3m0 3v2m0 23v2m0 4v1m0 1v1m0 17v2m0 16v1m0 10v1m0 4v1m0 14v1m0 12v2m0 67v2m0 136v3m1-389v2m0 40v2m0 4v1m0 17v2m0 20v1m0 2v2m0 25v1m0 1v1m0 6v1m0 7v1m0 24v2m0 5v1m0 42v1m0 29v1m0 88v3m0 23v2m0 2v2m0 17v2m0 10v2m1-384v1m0 4v1m0 28v1m0 7v1m0 5v2m0 6v2m0 20v2m0 19v1m0 26v2m0 3v1m0 11v1m0 6v1m0 3v1m0 26v2m0 31v1m0 107v1m0 21v1m0 25v4m0 5v3m1-403v2m0 24v1m0 35v1m0 26v2m0 12v2m0 21v2m0 11v4m0 4v2m0 11v2m0 8v2m0 1v1m0 91v1m0 10v1m0 8v2m0 18v2m0 26v2m0 4v1m0 11v4m0 11v2m0 4v2m0 6v1m0 4v1m0 7v2m1-373v2m0 2v2m0 10v2m0 21v2m0 6v2m0 6v2m0 2v2m0 40v1m0 11v1m0 22v2m0 26v1m0 18v2m0 11v1m0 9v2m0 13v1m0 41v1m0 24v2m0 28v1m0 2v2m0 4v2m0 5v2m0 7v1m0 2v1m0 18v2m1-392v2m0 12v2m0 14v2m0 8v2m0 45v2m0 15v1m0 2v1m0 1v1m0 31v1m0 14v2m0 23v1m0 15v2m0 96v2m0 5v2m0 58v1m1-342v2m0 6v2m0 7v1m0 20v2m0 2v1m0 2v1m0 10v1m0 24v2m0 8v1m0 5v2m0 23v2m0 1v1m0 1v2m0 1v3m0 14v2m0 12v1m0 16v1m0 23v1m0 11v1m0 104v1m0 5v2m0 14v2m0 2v1m0 17v2m0 11v2m1-378v2m0 5v1m0 7v3m0 64v1m0 37v2m0 24v2m0 8v2m0 6v2m0 9v2m0 9v1m0 19v1m0 38v1m0 20v1m0 13v1m0 22v2m0 26v2m0 5v4m0 4v2m0 20v1m0 4v1m0 9v3m1-403v2m0 9v2m0 16v2m0 38v2m0 25v2m0 39v2m0 30v1m0 28v1m0 42v1m0 24v2m0 77v2m0 6v1m0 6v3m0 1v2m0 4v2m0 30v3m0 2v2m1-394v2m0 38v1m0 2v2m0 21v4m0 4v2m0 10v1m0 2v2m0 2v3m0 54v2m0 4v1m0 1v2m0 2v3m0 4v1m0 20v2m0 12v2m0 6v1m0 13v2m0 44v2m0 8v1m0 34v2m0 4v2m0 51v3m1-375v1m0 4v4m0 28v1m0 27v1m0 8v1m0 7v2m0 4v1m0 46v1m0 5v1m0 4v2m0 21v1m0 108v2m0 25v1m0 15v1m0 4v4m0 7v2m0 15v2m0 21v3m1-391v1m0 10v4m0 4v2m0 26v2m0 7v2m0 10v2m0 2v2m0 3v2m0 10v3m0 6v1m0 6v1m0 25v1m0 28v1m0 9v1m0 19v2m0 157v1m0 14v2m0 2v1m0 12v2m1-382v1m0 9v2m0 2v2m0 8v2m0 22v2m0 23v2m0 32v2m0 39v1m0 14v1m0 4v1m0 6v1m0 7v1m0 37v2m0 14v2m0 28v2m0 37v1m0 8v2m0 10v2m0 5v2m0 17v1m0 2v2m0 14v6m0 9v1m0 9v7m0 10v3m1-422v2m0 12v1m0 10v2m0 23v2m0 7v1m0 3v1m0 9v2m0 1v2m0 1v1m0 2v1m0 44v2m0 31v1m0 2v1m0 8v1m0 12v2m0 16v1m0 19v2m0 44v1m0 6v2m0 67v2m0 12v2m1-358v2m0 24v1m0 19v2m0 4v1m0 97v1m0 1v1m0 29v2m0 4v2m0 9v1m0 29v1m0 30v2m0 59v2m0 2v1m0 5v1m0 6v2m0 11v2m0 11v2m0 17v2m1-378v2m0 12v2m0 5v2m0 56v1m0 2v2m0 7v2m0 72v1m0 13v1m0 22v1m0 14v1m0 4v1m0 7v1m0 72v4m0 10v1m0 26v1m0 9v2m0 2v2m0 17v1m0 16v2m1-412v2m0 27v2m0 8v1m0 22v2m0 1v1m0 4v2m0 2v2m0 21v1m0 75v2m0 3v1m0 35v3m0 16v1m0 37v2m0 3v3m0 2v4m0 14v1m0 32v1m0 5v2m0 18v1m0 6v2m0 5v2m0 18v2m0 3v2m0 5v7m0 6v3m1-408v2m0 8v1m0 2v2m0 2v3m0 31v2m0 4v1m0 2v2m0 99v1m0 3v1m0 7v1m0 49v3m0 14v1m0 6v3m0 8v3m0 18v2m0 19v2m0 19v2m0 5v2m0 4v1m0 7v3m0 11v3m0 1v1m0 15v2m0 11v2m0 13v1m0 3v2m1-400v2m0 6v1m0 11v2m0 13v2m0 1v2m0 4v3m0 33v2m0 8v1m0 33v2m0 10v1m0 18v1m0 8v2m0 4v2m0 8v1m0 18v2m0 27v1m0 4v1m0 5v1m0 2v1m0 14v1m0 59v1m0 21v1m0 4v2m0 6v6m0 38v3m1-388v1m0 2v4m0 11v1m0 14v2m0 69v2m0 17v1m0 18v3m0 20v1m0 2v1m0 18v2m0 4v1m0 1v2m0 8v2m0 21v1m0 5v1m0 18v1m0 6v1m0 19v2m0 19v2m0 6v2m0 2v2m0 19v2m0 15v2m0 21v3m1-398v2m0 10v2m0 26v1m0 11v2m0 6v2m0 3v2m0 13v1m0 1v2m0 9v2m0 63v1m0 2v1m0 1v2m0 6v1m0 6v1m0 3v1m0 4v1m0 1v1m0 14v3m0 20v1m0 4v1m0 2v1m0 21v2m0 10v2m0 36v1m0 11v2m0 10v2m0 4v1m0 37v2m0 12v2m1-396v2m0 21v2m0 26v1m0 39v1m0 4v2m0 7v2m0 68v2m0 15v2m0 10v1m0 24v2m0 18v1m0 18v1m0 9v1m0 18v2m0 11v1m0 13v1m0 15v2m0 23v2m0 38v2m1-380v4m0 3v1m0 6v1m0 13v2m0 5v3m0 3v2m0 2v2m0 7v1m0 37v2m0 28v1m0 5v2m0 12v1m0 7v2m0 9v2m0 13v1m0 5v1m0 3v4m0 10v2m0 3v1m0 3v4m0 1v2m0 19v3m0 43v2m0 17v1m0 9v1m0 8v1m0 4v3m0 4v2m1-358v2m0 5v2m0 14v2m0 19v1m0 13v2m0 17v2m0 94v1m0 3v1m0 2v3m0 1v3m0 8v3m0 7v1m0 24v1m0 7v1m0 42v1m0 18v2m0 1v2m0 41v4m0 6v4m0 21v3m0 33v2m1-405v2m0 6v2m0 3v2m0 20v2m0 9v2m0 2v2m0 45v2m0 8v2m0 83v1m0 4v1m0 6v1m0 2v2m0 20v1m0 26v1m0 1v2m0 66v2m0 5v1m0 18v2m0 33v2m1-352v2m0 28v1m0 37v1m0 60v3m0 9v1m0 1v1m0 6v1m0 1v2m0 13v1m0 50v2m0 30v3m0 18v1m0 96v3m1-404v2m0 19v2m0 1v2m0 8v1m0 2v2m0 5v3m0 23v3m0 79v1m0 8v2m0 43v3m0 22v1m0 10v2m0 5v4m0 3v2m0 13v1m0 11v4m0 111v3m1-420v1m0 2v2m0 14v2m0 1v2m0 18v1m0 17v2m0 29v2m0 3v2m0 72v2m0 10v1m0 14v1m0 2v1m0 2v1m0 11v1m0 7v1m0 1v1m0 6v3m0 26v1m0 1v1m0 5v2m0 2v1m0 7v1m0 21v1m0 3v1m0 24v4m0 2v2m0 3v2m0 2v1m0 6v5m0 13v1m0 21v1m0 18v1m0 5v2m1-434v2m0 14v1m0 7v2m0 15v2m0 17v2m0 23v1m0 11v1m0 1v3m0 5v1m0 2v2m0 49v2m0 28v1m0 28v1m0 7v1m0 3v1m0 12v2m0 11v2m0 10v1m0 10v1m0 1v1m0 25v1m0 8v4m0 29v1m0 22v2m0 46v4m1-423v2m0 57v1m0 3v1m0 7v1m0 17v2m0 4v1m0 24v2m0 59v2m0 31v1m0 29v2m0 5v3m0 12v1m0 7v2m0 3v4m0 6v1m0 5v1m0 6v2m0 6v2m0 22v2m0 5v2m0 11v2m0 7v4m1-372v2m0 2v3m0 1v1m0 8v2m0 12v1m0 8v2m0 45v2m0 10v2m0 3v2m0 44v1m0 54v1m0 21v2m0 11v2m0 28v2m0 2v1m0 21v2m0 13v4m0 18v2m0 5v3m0 1v2m0 12v2m0 8v5m0 12v2m0 46v2m0 2v2m1-432v2m0 2v3m0 8v5m0 4v2m0 28v2m0 5v1m0 6v1m0 14v1m0 8v1m0 9v2m0 35v2m0 9v2m0 2v2m0 1v1m0 4v1m0 13v1m0 29v2m0 6v4m0 2v1m0 19v2m0 1v1m0 11v2m0 25v1m0 40v2m0 3v1m0 6v2m0 2v6m0 15v2m0 11v1m1-368v2m0 9v2m0 1v3m0 3v2m0 8v2m0 31v2m0 12v1m0 13v2m0 5v3m0 72v1m0 6v1m0 9v1m0 10v2m0 12v2m0 1v1m0 12v1m0 28v1m0 46v1m0 9v1m0 15v1m0 11v5m0 16v1m0 59v3m1-433v2m0 17v2m0 8v1m0 4v1m0 18v2m0 12v1m0 4v1m0 6v1m0 57v1m0 15v1m0 5v2m0 19v1m0 26v2m0 1v2m0 17v1m0 10v1m0 2v2m0 4v1m0 13v1m0 3v1m0 2v1m0 19v1m0 8v1m0 36v4m0 34v1m1-375v2m0 52v2m0 8v1m0 3v1m0 2v3m0 21v2m0 62v2m0 30v2m0 11v3m0 2v2m0 7v2m0 7v4m0 39v3m0 2v1m0 87v2m0 43v2m1-407v1m0 27v2m0 16v6m0 40v1m0 2v2m0 8v1m0 43v2m0 29v1m0 16v1m0 5v1m0 44v1m0 12v2m0 44v2m0 9v2m0 11v2m0 2v2m0 7v2m0 3v2m0 13v2m0 30v2m1-351v3m0 4v1m0 2v2m0 1v2m0 8v2m0 18v1m0 49v2m0 12v1m0 18v2m0 14v1m0 7v2m0 6v1m0 39v4m0 33v1m0 18v2m0 30v1m0 9v2m0 19v1m0 53v3m1-421v2m0 18v1m0 35v2m0 7v1m0 4v2m0 29v2m0 54v2m0 11v2m0 17v1m0 10v2m0 8v1m0 4v1m0 5v2m0 27v1m0 6v2m0 10v2m0 29v1m0 7v3m0 4v3m0 3v1m0 6v1m0 9v3m0 20v1m0 2v2m0 23v1m0 1v2m0 27v2m1-417v2m0 12v6m0 7v1m0 24v2m0 3v2m0 10v2m0 111v2m0 3v1m0 10v2m0 17v2m0 9v2m0 2v1m0 9v1m0 4v1m0 6v2m0 7v2m0 14v2m0 14v2m0 1v1m0 2v2m0 1v1m0 2v1m0 1v2m0 31v2m0 9v4m0 17v5m0 10v2m0 18v1m1-416v1m0 17v2m0 42v2m0 4v2m0 10v2m0 24v1m0 25v1m0 37v1m0 18v1m0 29v1m0 6v1m0 3v2m0 21v2m0 10v2m0 1v2m0 4v2m0 3v2m0 3v2m0 40v2m0 7v2m0 21v1m0 5v2m0 41v2m1-404v2m0 14v1m0 8v2m0 16v1m0 20v1m0 4v3m0 3v3m0 2v2m0 7v1m0 43v1m0 4v2m0 3v2m0 5v1m0 19v1m0 10v1m0 12v1m0 17v3m0 23v1m0 9v2m0 13v2m0 13v2m0 21v2m0 14v2m0 4v2m0 7v1m0 2v1m0 13v1m0 38v3m1-382v1m0 16v4m0 10v2m0 33v2m0 17v2m0 7v1m0 33v1m0 47v1m0 18v2m0 27v1m0 5v1m0 10v1m0 6v1m0 15v2m0 52v3m0 2v2m0 2v2m0 10v2m0 2v2m0 3v2m0 8v1m0 40v2m1-400v1m0 5v2m0 10v1m0 26v2m0 2v2m0 28v2m0 24v2m0 13v2m0 13v1m0 4v3m0 11v2m0 2v2m0 4v2m0 10v3m0 24v2m0 1v1m0 31v1m0 4v4m0 11v1m0 2v1m0 2v2m0 16v2m0 15v1m0 4v1m0 4v2m0 5v2m0 3v2m0 1v2m0 2v1m0 31v3m0 14v2m1-339v2m0 2v4m0 13v2m0 10v1m0 35v1m0 46v5m0 24v1m0 29v2m0 1v3m0 7v1m0 17v2m0 6v1m0 7v2m0 24v5m0 10v1m0 4v1m0 6v3m0 8v1m0 13v2m0 27v2m0 11v2m0 2v2m0 3v1m0 5v3m1-419v2m0 24v1m0 11v1m0 17v2m0 3v2m0 15v1m0 5v2m0 8v2m0 8v1m0 53v1m0 31v1m0 17v2m0 9v2m0 1v1m0 9v2m0 70v2m0 13v3m0 5v2m0 18v2m0 21v2m0 13v3m0 16v2m0 3v6m1-386v2m0 27v2m0 9v1m0 12v1m0 3v2m0 17v2m0 22v1m0 53v2m0 1v2m0 1v1m0 10v2m0 7v2m0 5v1m0 5v1m0 2v1m0 11v1m0 26v2m0 2v1m0 34v2m0 10v1m0 3v2m0 11v1m0 4v2m0 33v2m0 2v2m0 4v2m0 20v2m0 4v3m1-356v1m0 8v2m0 31v1m0 75v1m0 9v2m0 27v2m0 4v1m0 5v1m0 16v2m0 4v1m0 23v2m0 49v1m0 17v2m0 18v4m0 9v2m0 18v6m0 11v2m1-394v1m0 8v2m0 31v2m0 20v2m0 21v2m0 6v2m0 1v2m0 2v1m0 17v1m0 11v3m0 13v2m0 30v2m0 10v1m0 3v1m0 1v1m0 34v1m0 3v2m0 5v1m0 6v1m0 2v2m0 5v2m0 2v2m0 14v1m0 54v1m0 8v1m0 4v2m0 1v2m0 22v2m1-404v1m0 14v1m0 6v1m0 2v2m0 4v1m0 2v1m0 23v4m0 4v2m0 2v2m0 8v4m0 23v1m0 7v2m0 1v2m0 3v2m0 2v1m0 3v2m0 19v2m0 4v2m0 8v4m0 4v1m0 15v1m0 2v1m0 1v1m0 5v2m0 32v2m0 10v2m0 14v2m0 3v2m0 2v1m0 10v1m0 43v1m0 13v2m0 6v1m0 2v2m0 36v2m0 15v2m1-405v2m0 12v2m0 2v1m0 11v3m0 6v2m0 4v2m0 3v2m0 8v1m0 15v1m0 17v1m0 14v1m0 1v1m0 3v2m0 1v1m0 6v3m0 19v1m0 13v2m0 42v1m0 27v1m0 1v3m0 7v1m0 6v2m0 24v1m0 4v2m0 25v2m0 10v1m0 9v1m0 6v2m0 57v9m1-419v2m0 30v1m0 4v2m0 1v2m0 2v2m0 13v1m0 14v2m0 3v2m0 2v2m0 9v2m0 2v1m0 4v2m0 2v1m0 2v2m0 57v1m0 25v1m0 3v2m0 1v1m0 9v2m0 3v2m0 20v1m0 31v1m0 3v3m0 14v1m0 14v1m0 27v1m0 6v1m0 8v1m0 7v2m0 2v1m0 3v2m0 17v2m0 2v2m1-381v2m0 22v2m0 16v2m0 2v2m0 5v4m0 7v1m0 7v3m0 5v2m0 19v1m0 10v1m0 7v1m0 55v1m0 17v1m0 9v2m0 57v1m0 7v2m0 32v2m0 13v1m0 48v3m0 9v2m1-378v2m0 27v1m0 3v1m0 18v2m0 2v1m0 8v1m0 8v1m0 2v2m0 3v2m0 7v2m0 16v2m0 20v1m0 8v2m0 27v1m0 10v1m0 9v2m0 20v3m0 67v1m0 50v1m0 2v2m0 13v1m0 5v2m0 5v2m1-374v2m0 8v2m0 6v1m0 5v1m0 31v2m0 31v3m0 7v1m0 2v2m0 28v1m0 18v2m0 14v1m0 19v1m0 5v1m0 14v1m0 21v1m0 7v3m0 10v2m0 6v1m0 74v1m0 31v2m0 13v1m0 21v1m0 3v2m0 2v4m1-415v1m0 19v2m0 44v2m0 3v1m0 2v1m0 14v2m0 46v1m0 5v1m0 41v4m0 6v2m0 15v1m0 1v1m0 10v1m0 17v2m0 4v1m0 10v1m0 3v1m0 6v2m0 1v1m0 2v2m0 14v2m0 9v2m0 25v2m0 15v2m0 8v2m0 2v2m0 1v2m0 24v2m0 6v1m0 11v3m0 3v2m1-354v1m0 19v2m0 29v2m0 13v2m0 58v2m0 7v1m0 8v1m0 2v1m0 4v1m0 2v1m0 42v2m0 34v2m0 8v2m0 5v1m0 11v1m0 54v2m0 6v2m0 19v1m0 11v2m1-353v2m0 5v1m0 49v4m0 36v1m0 12v2m0 1v2m0 8v2m0 4v1m0 25v3m0 2v1m0 21v4m0 68v1m0 9v2m0 8v1m0 12v2m0 11v2m0 2v3m0 2v1m0 4v2m0 14v3m0 3v2m1-410v2m0 3v2m0 9v2m0 2v4m0 4v1m0 17v1m0 79v1m0 27v2m0 28v1m0 61v1m0 2v1m0 15v1m0 5v1m0 1v2m0 13v3m0 10v2m0 14v2m0 14v1m0 8v2m0 32v3m0 4v2m0 20v3m1-423v1m0 20v2m0 4v2m0 3v2m0 13v1m0 3v1m0 17v2m0 80v1m0 32v2m0 3v1m0 23v2m0 4v2m0 53v2m0 28v1m0 11v4m0 7v1m0 22v1m0 5v2m0 2v2m0 19v2m0 5v2m0 16v2m0 22v2m0 3v3m1-414v2m0 11v2m0 16v2m0 74v1m0 6v2m0 8v2m0 27v1m0 7v1m0 11v1m0 1v2m0 14v2m0 3v2m0 10v1m0 3v1m0 26v1m0 47v1m0 16v1m0 9v1m0 11v2m0 5v1m0 6v3m0 20v2m0 22v2m1-396v2m0 49v2m0 9v2m0 19v1m0 58v1m0 17v1m0 6v1m0 9v2m0 5v4m0 23v1m0 4v2m0 27v2m0 35v1m0 11v1m0 4v2m0 28v1m0 12v1m0 7v4m0 27v3m1-371v2m0 13v2m0 6v1m0 13v1m0 18v2m0 11v1m0 32v2m0 41v2m0 7v2m0 6v2m0 14v2m0 8v1m0 14v1m0 94v2m0 32v2m0 11v2m0 2v2m0 12v2m1-363v1m0 2v1m0 11v2m0 31v2m0 4v1m0 6v2m0 6v2m0 17v1m0 51v1m0 21v1m0 2v3m0 7v1m0 23v1m0 88v2m0 5v2m0 5v2m0 14v1m0 5v2m0 7v2m0 9v1m0 6v4m0 18v2m0 26v4m1-397v2m0 6v2m0 3v1m0 2v1m0 13v2m0 5v2m0 34v2m0 5v1m0 7v1m0 55v1m0 56v1m0 27v1m0 39v2m0 22v2m0 12v2m0 26v2m0 15v2m1-366v2m0 25v2m0 3v1m0 7v2m0 1v2m0 2v2m0 2v2m0 6v1m0 34v1m0 36v2m0 43v2m0 6v2m0 17v1m0 16v1m0 73v1m0 3v2m0 7v1m0 23v4m0 10v2m0 20v1m0 2v4m0 14v3m1-409v2m0 23v3m0 2v2m0 15v4m0 11v2m0 15v2m0 3v7m0 15v2m0 6v3m0 43v2m0 17v2m0 26v1m0 1v2m0 2v1m0 62v1m0 67v3m0 2v1m0 35v1m0 2v2m0 5v2m0 10v5m1-402v1m0 9v2m0 4v2m0 9v1m0 10v2m0 52v2m0 1v2m0 6v4m0 61v2m0 5v1m0 4v2m0 1v1m0 1v2m0 6v3m0 10v2m0 19v1m0 5v2m0 1v1m0 6v1m0 8v1m0 34v2m0 13v1m0 12v2m0 36v2m0 20v2m0 3v1m0 2v2m0 6v2m1-398v3m0 27v1m0 7v1m0 74v1m0 8v2m0 27v1m0 80v2m0 74v2m0 4v1m0 2v1m0 16v2m0 2v2m0 2v2m0 19v2m0 8v2m0 12v1m0 6v2m0 5v2m1-367v2m0 13v1m0 11v1m0 5v1m0 15v2m0 11v1m0 16v2m0 9v2m0 6v1m0 48v2m0 1v2m0 26v2m0 38v1m0 6v1m0 20v2m0 44v1m0 9v2m0 2v2m0 6v1m0 7v2m0 14v1m0 5v3m0 13v1m0 12v3m1-396v1m0 10v2m0 8v1m0 32v2m0 11v2m0 19v1m0 61v1m0 17v1m0 22v1m0 23v1m0 4v1m0 47v2m0 15v1m0 37v2m0 4v2m0 10v3m0 22v2m0 4v4m1-388v3m0 24v1m0 2v2m0 24v2m0 2v1m0 12v2m0 26v2m0 7v1m0 25v1m0 26v1m0 25v1m0 8v2m0 18v1m0 3v2m0 63v2m0 12v2m0 10v2m0 21v2m0 13v5m0 10v1m0 14v1m0 2v2m1-371v2m0 16v2m0 18v4m0 5v1m0 58v1m0 62v1m0 2v2m0 4v2m0 8v2m0 18v2m0 17v4m0 1v1m0 7v1m0 2v1m0 4v2m0 14v1m0 55v2m0 23v2m1-369v2m0 2v2m0 12v2m0 5v1m0 4v2m0 2v2m0 22v1m0 21v1m0 101v1m0 11v1m0 19v1m0 3v2m0 47v2m0 9v1m0 4v2m0 7v1m0 6v2m0 2v2m0 49v1m0 16v2m0 27v3m1-400v2m0 21v2m0 14v1m0 13v2m0 2v2m0 14v1m0 9v2m0 11v1m0 102v3m0 31v1m0 27v1m0 31v2m0 39v2m0 1v2m0 1v3m0 14v2m0 4v2m0 22v2m0 12v3m1-390v2m0 20v3m0 15v1m0 73v1m0 33v1m0 11v1m0 1v2m0 1v1m0 10v2m0 4v1m0 39v2m0 45v1m0 4v1m0 7v1m0 42v1m0 5v2m0 8v2m0 3v1m1-342v2m0 30v2m0 14v1m0 29v1m0 72v1m0 5v2m0 25v1m0 47v1m0 4v1m0 1v4m0 39v2m0 5v1m0 27v2m0 2v1m0 28v2m1-308v1m0 5v1m0 8v2m0 4v1m0 19v1m0 35v1m0 18v1m0 47v2m0 25v1m0 14v2m0 25v2m0 56v2m0 5v1m0 3v2m1-313v2m0 18v2m0 48v2m0 47v1m0 4v1m0 11v1m0 5v1m0 29v1m0 2v2m0 28v1m0 7v2m0 23v1m0 14v1m0 2v1m0 5v1m0 35v1m0 8v1m1-315v4m0 64v1m0 1v2m0 32v2m0 3v2m0 23v2m0 3v2m0 14v1m0 31v2m0 5v1m0 2v2m0 30v2m0 26v1m0 5v1m0 1v2m0 2v1m0 4v1m0 74v1m1-371v1m0 3v2m0 12v2m0 4v2m0 21v1m0 13v2m0 2v2m0 9v2m0 55v1m0 24v2m0 13v2m0 2v1m0 3v1m0 1v1m0 11v1m0 35v1m0 50v4m0 8v2m0 53v2m0 30v2m0 4v1m1-377v4m0 1v2m0 30v6m0 15v2m0 4v2m0 2v2m0 12v1m0 103v1m0 8v2m0 26v1m0 12v2m0 3v1m0 77v1m1-321v1m0 2v2m0 13v1m0 34v2m0 3v1m0 3v1m0 1v2m0 46v1m0 20v1m0 10v2m0 32v1m0 9v1m0 38v1m0 51v1m0 28v2m1-310v3m0 12v1m0 5v2m0 1v2m0 33v2m0 3v2m0 22v3m0 14v2m0 3v2m0 59v3m0 21v2m0 73v1m0 10v1m0 40v1m1-335v2m0 11v1m0 2v2m0 17v2m0 10v1m0 17v2m0 6v2m0 2v3m0 15v3m0 16v1m0 2v2m0 46v3m0 7v2m0 15v1m0 13v1m0 118v1m0 10v2m0 2v2m1-330v2m0 6v3m0 48v3m0 7v3m0 2v2m0 4v3m0 5v3m0 19v1m0 29v1m0 19v1m0 3v1m0 7v3m0 4v2m0 15v1m1-162v2m0 31v1m0 10v5m0 11v1m0 3v2m0 59v2m0 4v2m0 2v2m0 1v1m0 1v1m0 1v1m0 17v1m0 35v1m0 39v1m0 11v2m0 26v1m1-331v2m0 6v3m0 23v3m0 2v1m0 19v2m0 24v1m0 3v2m0 8v1m0 4v2m0 21v1m0 44v1m0 47v1m0 19v1m0 17v1m0 13v2m1-250v4m0 5v1m0 1v1m0 21v2m0 16v2m0 30v1m0 3v1m0 67v2m0 3v1m0 40v1m0 2v2m0 12v1m1-230v2m0 13v4m0 5v2m0 6v1m0 43v1m0 27v1m0 19v1m0 4v1m0 22v2m0 3v3m0 4v2m0 9v1m0 11v2m0 1v2m1-193v2m0 18v2m0 10v2m0 11v2m0 21v1m0 11v1m0 2v2m0 28v1m0 8v2m0 33v2m0 10v2m1-163v1m0 4v2m0 7v5m0 3v2m0 1v1m0 23v2m0 10v1m0 1v1m0 6v2m0 26v2m0 27v1m1-112v1m0 2v1m0 32v2m0 4v2m0 7v2m0 18v2m0 2v2m0 18v1m0 4v2m0 1v1m0 2v4m0 35v1m0 16v1m1-182v2m0 6v1m0 15v1m0 29v2m0 46v2m0 19v2m0 9v1m0 21v1m1-148v1m0 16v2m0 16v2m0 16v2m0 4v2m0 24v1m0 24v2m0 13v1m0 3v2m0 27v1m0 3v1m1-164v2m0 4v2m0 9v2m0 1v2m0 9v2m0 13v1m0 14v1m0 31v2m0 6v1m0 2v4m0 7v2m0 28v1m0 120v1m1-278v2m0 4v1m0 37v4m0 14v1m0 10v2m0 42v1m0 5v2m0 7v1m0 27v3m0 3v1m0 3v1m1-172v2m0 55v2m0 17v1m0 2v1m0 10v1m0 11v1m0 11v2m0 4v2m0 15v1m0 3v1m0 15v2m0 3v1m0 5v1m0 9v2m1-138v4m0 4v2m0 12v2m0 50v2m0 3v1m0 5v2m0 17v2m0 1v2m0 10v1m0 72v1m1-228v2m0 45v2m0 10v1m0 2v2m0 6v2m0 12v2m0 17v2m0 6v2m0 1v2m0 8v2m0 7v4m0 12v2m1-129v1m0 1v2m0 33v2m0 32v2m0 14v2m0 15v1m0 9v4m0 13v2m0 8v2m0 5v1m1-104v1m0 14v2m0 22v2m0 14v2m0 5v1m0 4v1m0 12v1m0 16v2m1-108v2m0 7v1m0 44v2m0 12v1m0 22v2m1-155v1m0 10v2m0 7v2m0 19v2m0 73v2m0 20v1m0 4v2m0 3v1m0 2v2m0 3v1"/>
<path stroke="#550089" d="M0 105v2m0 42v2m0 18v2m0 15v2m0 15v1m0 8v2m0 32v1m0 92v1m0 63v2m0 4v1m0 33v2m0 1v4m1-353v2m0 9v2m0 2v1m0 77v2m0 14v2m0 17v2m0 12v2m0 9v1m0 67v2m0 109v3m1-329v2m0 17v1m0 15v1m0 26v2m0 38v2m0 24v1m0 7v1m0 1v1m0 2v1m0 2v2m0 1v1m0 80v1m0 18v2m0 47v2m0 34v2m0 2v4m0 29v3m0 12v3m1-376v2m0 47v1m0 18v2m0 33v1m0 6v3m0 8v1m0 199v1m0 45v2m0 9v2m1-380v1m0 41v4m0 27v3m0 2v3m0 8v1m0 13v2m0 38v3m0 125v2m0 7v1m0 29v3m0 2v4m0 10v1m0 9v1m0 13v3m0 18v2m1-390v2m0 6v2m0 12v2m0 41v1m0 1v2m0 11v1m0 9v2m0 7v2m0 9v2m0 25v1m0 3v3m0 6v1m0 149v1m0 22v1m0 12v2m0 40v5m1-329v2m0 9v1m0 20v1m0 13v2m0 17v4m0 3v1m0 5v1m0 7v1m0 4v1m0 14v4m0 15v1m0 162v2m0 11v2m0 23v5m0 4v2m1-387v1m0 1v2m0 14v2m0 83v1m0 10v2m0 8v1m0 4v2m0 23v1m0 6v1m0 2v1m0 112v1m0 20v2m0 15v2m0 11v1m0 16v4m0 4v2m0 30v3m1-345v1m0 6v2m0 25v2m0 19v1m0 7v2m0 7v4m0 2v1m0 2v2m0 4v2m0 8v1m0 6v1m0 15v1m0 4v1m0 119v1m0 13v2m0 27v2m0 5v2m0 2v3m0 16v1m0 6v2m0 5v3m0 10v6m1-407v2m0 26v2m0 45v1m0 17v2m0 14v2m0 11v2m0 7v4m0 5v2m0 19v3m0 13v1m0 10v3m0 13v1m0 111v1m0 13v2m0 19v2m0 3v3m0 9v2m0 24v3m1-395v1m0 137v1m0 14v1m0 4v2m0 5v1m0 8v1m0 7v2m0 11v2m0 9v2m0 1v1m0 10v2m0 121v2m0 34v2m0 8v3m1-369v2m0 33v1m0 10v1m0 52v2m0 9v2m0 8v1m0 3v1m0 5v1m0 2v2m0 6v2m0 6v1m0 4v2m0 14v2m0 147v2m0 22v1m0 6v2m0 11v2m0 12v3m1-400v1m0 14v2m0 41v2m0 6v2m0 40v1m0 14v2m0 6v1m0 14v1m0 2v2m0 1v2m0 5v1m0 3v2m0 1v1m0 18v1m0 6v1m0 141v1m0 10v2m0 14v3m0 2v3m0 19v2m1-380v1m0 13v1m0 32v2m0 9v1m0 28v2m0 1v2m0 4v1m0 24v1m0 10v1m0 9v1m0 7v2m0 6v4m0 8v1m0 53v1m0 14v1m0 88v2m0 8v4m0 2v1m0 2v2m0 37v2m1-394v2m0 14v1m0 23v1m0 5v1m0 5v1m0 12v1m0 17v2m0 4v2m0 3v2m0 23v2m0 2v2m0 22v1m0 2v2m0 24v2m0 57v1m0 16v2m0 76v6m0 8v2m0 12v1m0 18v2m0 4v4m1-392v2m0 8v1m0 8v2m0 6v2m0 18v1m0 28v2m0 11v2m0 23v1m0 18v1m0 27v1m0 20v2m0 87v1m0 65v1m0 5v4m0 31v2m0 3v2m0 2v2m0 2v2m0 3v1m1-374v1m0 19v2m0 18v3m0 7v1m0 5v2m0 19v1m0 2v1m0 9v1m0 12v2m0 7v1m0 5v1m0 8v1m0 2v3m0 4v2m0 1v1m0 31v1m0 7v2m0 28v2m0 115v1m0 42v2m1-353v1m0 13v2m0 27v2m0 50v1m0 15v1m0 2v2m0 3v2m0 7v1m0 42v1m0 30v1m0 8v2m0 8v1m0 9v2m0 56v1m0 10v2m0 9v1m0 16v2m0 7v1m0 3v3m1-384v1m0 7v2m0 2v2m0 6v2m0 19v2m0 7v2m0 19v2m0 18v1m0 28v1m0 12v2m0 4v1m0 8v1m0 35v2m0 3v1m0 3v2m0 20v2m0 15v1m0 103v2m0 14v2m0 19v1m0 8v3m1-376v2m0 5v2m0 1v2m0 18v1m0 7v2m0 39v1m0 5v2m0 46v2m0 35v1m0 9v1m0 8v1m0 3v1m0 4v2m0 50v1m0 12v1m0 35v1m0 9v2m0 27v1m0 16v2m0 2v4m0 13v1m1-407v2m0 29v4m0 45v1m0 10v1m0 4v2m0 62v1m0 8v1m0 4v1m0 8v1m0 13v1m0 4v1m0 7v1m0 21v1m0 3v2m0 4v2m0 23v1m0 11v2m0 13v1m0 4v2m0 25v1m0 24v1m0 2v1m0 2v1m0 34v3m1-363v1m0 8v2m0 2v2m0 17v2m0 2v1m0 10v2m0 6v2m0 2v1m0 16v2m0 9v2m0 24v1m0 20v2m0 9v2m0 9v1m0 3v2m0 58v2m0 1v1m0 3v1m0 49v1m0 26v1m0 12v2m0 17v2m0 17v2m1-373v2m0 85v2m0 6v2m0 1v1m0 44v1m0 11v1m0 1v2m0 2v3m0 9v2m0 1v2m0 24v1m0 13v3m0 4v1m0 31v2m0 6v2m0 65v2m0 14v2m0 46v2m1-393v1m0 7v1m0 12v2m0 24v3m0 8v2m0 13v1m0 98v2m0 3v1m0 4v2m0 48v1m0 30v1m0 74v2m0 19v1m0 16v2m0 8v2m0 3v3m1-397v2m0 16v1m0 7v2m0 31v2m0 9v1m0 17v2m0 24v2m0 28v1m0 2v1m0 22v2m0 23v2m0 15v1m0 6v2m0 9v1m0 23v1m0 72v1m0 5v2m0 8v2m0 17v3m0 4v2m0 5v2m0 2v2m0 11v3m1-383v5m0 6v2m0 18v2m0 25v2m0 3v2m0 16v2m0 15v2m0 80v2m0 38v2m0 45v2m0 10v2m0 8v2m0 8v1m0 31v2m0 9v2m0 20v2m0 24v3m1-399v1m0 4v1m0 2v1m0 39v4m0 13v2m0 92v6m0 4v2m0 1v4m0 43v2m0 18v1m0 15v2m0 5v1m0 14v1m0 30v1m0 20v2m0 22v2m0 44v3m0 1v3m1-402v1m0 3v2m0 6v2m0 5v2m0 22v2m0 33v2m0 2v2m0 13v1m0 21v1m0 8v3m0 14v1m0 12v1m0 5v2m0 35v1m0 5v1m0 47v1m0 31v2m0 1v1m0 2v2m0 16v2m0 15v2m0 9v2m0 13v1m0 30v2m1-396v2m0 41v3m0 3v2m0 5v1m0 9v2m0 5v2m0 8v1m0 7v2m0 60v2m0 16v1m0 4v1m0 12v1m0 17v2m0 6v1m0 12v1m0 14v2m0 60v2m0 16v7m0 30v2m0 18v2m0 11v5m1-355v2m0 4v1m0 10v2m0 17v1m0 74v1m0 6v2m0 8v1m0 7v4m0 6v1m0 42v2m0 31v2m0 13v2m0 19v2m0 2v1m0 3v2m0 15v1m0 3v2m0 13v2m0 14v2m0 9v2m0 27v1m1-405v2m0 4v2m0 8v2m0 18v2m0 7v2m0 2v2m0 16v1m0 19v2m0 4v3m0 62v1m0 34v2m0 5v2m0 2v1m0 75v4m0 1v2m0 49v2m0 11v2m0 15v3m0 18v2m0 7v3m0 11v2m1-405v2m0 2v2m0 18v2m0 12v1m0 5v1m0 2v2m0 3v2m0 2v1m0 3v5m0 94v2m0 11v2m0 13v1m0 12v1m0 38v1m0 50v1m0 3v2m0 8v2m0 30v1m0 35v2m0 17v5m1-389v2m0 3v2m0 40v2m0 10v4m0 81v1m0 11v1m0 10v2m0 23v1m0 29v1m0 34v2m0 3v3m0 20v1m0 36v2m0 9v2m0 7v2m0 21v2m0 1v1m1-377v2m0 24v2m0 16v2m0 8v1m0 1v2m0 4v2m0 32v2m0 46v2m0 27v2m0 14v2m0 10v1m0 6v1m0 25v2m0 33v2m0 2v2m0 42v2m0 8v1m0 14v3m0 14v2m1-361v2m0 37v2m0 24v2m0 16v1m0 9v1m0 58v1m0 35v2m0 16v1m0 4v1m0 1v3m0 26v1m0 5v2m0 16v2m0 22v1m0 10v2m0 18v3m0 4v4m0 10v2m0 13v2m0 6v2m0 4v3m1-379v1m0 5v4m0 18v2m0 12v1m0 33v2m0 12v1m0 30v2m0 16v1m0 49v2m0 2v1m0 15v1m0 9v1m0 39v1m0 30v4m0 1v2m0 9v1m0 23v2m0 23v1m0 2v1m1-361v2m0 19v3m0 46v3m0 3v2m0 14v2m0 29v1m0 54v1m0 9v1m0 9v1m0 6v2m0 26v2m0 8v1m0 2v1m0 10v1m0 9v2m0 35v3m0 4v1m0 7v1m0 3v1m0 20v3m0 9v1m0 7v4m0 17v3m0 17v5m1-400v1m0 46v1m0 75v1m0 34v1m0 20v3m0 5v2m0 12v1m0 5v1m0 32v1m0 3v1m0 40v2m0 33v4m0 54v2m1-406v1m0 19v2m0 4v2m0 1v1m0 14v2m0 22v2m0 2v2m0 29v1m0 2v2m0 3v1m0 1v1m0 12v1m0 30v1m0 37v1m0 5v2m0 9v1m0 1v1m0 4v1m0 20v2m0 27v1m0 25v1m0 4v1m0 1v2m0 5v1m0 8v2m0 12v1m0 2v2m0 20v2m0 3v2m0 6v2m0 22v3m1-382v1m0 3v2m0 13v2m0 13v1m0 12v2m0 3v1m0 98v2m0 3v2m0 17v2m0 2v1m0 6v1m0 25v2m0 4v2m0 27v1m0 4v1m0 13v2m0 29v2m0 7v2m0 23v2m0 5v2m0 35v1m1-384v1m0 14v2m0 9v2m0 28v2m0 6v1m0 15v2m0 26v1m0 82v1m0 9v2m0 1v1m0 13v1m0 8v1m0 11v2m0 4v1m0 11v2m0 8v2m0 17v1m0 9v1m0 6v1m0 48v2m0 20v3m0 32v2m1-400v1m0 2v2m0 1v2m0 6v4m0 13v1m0 9v2m0 22v2m0 2v2m0 17v1m0 35v1m0 36v2m0 12v1m0 18v1m0 16v3m0 8v1m0 3v1m0 2v1m0 3v2m0 12v2m0 8v2m0 8v1m0 52v2m0 8v2m0 3v3m0 13v1m0 28v2m0 13v2m0 7v3m0 8v3m1-429v1m0 8v2m0 22v1m0 7v1m0 1v2m0 12v2m0 7v1m0 19v1m0 15v1m0 83v1m0 2v1m0 32v1m0 16v1m0 4v3m0 6v2m0 1v1m0 12v1m0 2v1m0 8v1m0 1v1m0 13v2m0 7v2m0 7v1m0 9v1m0 17v1m0 11v2m0 64v2m1-421v1m0 8v2m0 18v2m0 4v2m0 4v2m0 24v2m0 2v1m0 8v2m0 20v2m0 99v1m0 8v1m0 11v2m0 1v1m0 14v2m0 1v2m0 1v4m0 1v1m0 40v1m0 21v1m0 4v2m0 4v2m0 10v2m0 6v2m0 12v1m1-344v2m0 43v2m0 31v2m0 26v1m0 72v1m0 2v2m0 16v1m0 18v1m0 13v2m0 16v1m0 2v1m0 50v1m0 5v2m0 27v1m0 17v2m0 51v2m1-414v2m0 2v1m0 11v1m0 5v1m0 13v1m0 25v2m0 22v1m0 67v1m0 30v1m0 14v1m0 7v4m0 2v1m0 1v1m0 10v1m0 4v1m0 8v2m0 2v2m0 21v2m0 8v2m0 11v2m0 8v3m0 15v2m0 85v2m1-425v2m0 20v2m0 3v1m0 4v1m0 6v2m0 2v1m0 6v4m0 6v2m0 8v2m0 114v1m0 8v2m0 13v1m0 1v1m0 9v2m0 2v1m0 5v1m0 20v1m0 20v1m0 6v2m0 12v1m0 28v2m0 13v2m0 21v2m0 43v2m0 5v1m1-421v2m0 7v2m0 20v4m0 20v2m0 16v1m0 17v1m0 9v3m0 73v2m0 9v1m0 8v1m0 5v2m0 2v1m0 1v2m0 6v1m0 5v1m0 3v2m0 10v1m0 11v2m0 8v3m0 1v1m0 22v1m0 7v2m0 15v2m0 2v2m0 23v2m0 69v4m0 12v2m0 5v3m1-428v1m0 10v2m0 1v2m0 11v2m0 10v1m0 40v2m0 8v1m0 31v2m0 45v2m0 41v1m0 64v2m0 13v3m0 17v2m0 5v1m0 33v2m0 37v3m0 16v1m1-430v2m0 3v1m0 60v2m0 12v2m0 23v1m0 3v1m0 100v1m0 4v2m0 22v3m0 2v2m0 12v1m0 3v1m0 10v2m0 2v2m0 26v1m0 14v2m0 1v1m0 21v4m0 2v2m0 20v1m0 37v2m0 5v6m1-397v2m0 13v2m0 3v2m0 3v1m0 13v1m0 5v2m0 29v1m0 59v1m0 6v1m0 18v2m0 3v1m0 3v2m0 2v1m0 22v2m0 2v1m0 7v1m0 21v2m0 13v1m0 2v3m0 10v2m0 24v2m0 5v2m0 1v1m0 2v1m0 10v2m0 93v2m1-426v2m0 13v2m0 49v3m0 11v1m0 27v2m0 84v1m0 13v1m0 14v2m0 2v1m0 4v1m0 3v1m0 27v1m0 4v2m0 5v1m0 1v2m0 5v4m0 2v1m0 14v1m0 1v1m0 10v1m0 8v1m0 3v1m0 2v2m0 2v2m0 17v5m0 5v1m0 58v2m0 3v2m1-414v2m0 16v4m0 2v2m0 9v4m0 3v1m0 23v2m0 19v3m0 76v2m0 3v1m0 35v1m0 3v1m0 8v1m0 8v2m0 13v2m0 4v2m0 1v1m0 4v2m0 13v2m0 12v3m0 12v1m0 2v2m0 20v2m0 4v3m0 8v2m0 5v1m1-354v2m0 46v2m0 4v2m0 17v3m0 92v2m0 15v1m0 2v5m0 2v1m0 5v1m0 31v2m0 11v2m0 1v2m0 3v1m0 21v2m0 2v2m0 7v2m0 10v3m0 10v2m0 1v2m0 10v1m1-343v1m0 25v1m0 14v2m0 5v2m0 17v2m0 7v2m0 13v2m0 1v1m0 3v1m0 52v1m0 33v1m0 2v1m0 4v1m0 3v3m0 5v1m0 13v1m0 24v1m0 10v2m0 6v2m0 14v2m0 36v1m0 12v2m0 5v2m0 5v2m0 18v1m1-363v1m0 25v2m0 25v2m0 4v1m0 10v1m0 8v2m0 2v1m0 35v2m0 10v1m0 31v1m0 17v1m0 3v1m0 11v2m0 5v2m0 6v2m0 17v2m0 7v2m0 1v1m0 4v1m0 7v2m0 26v2m0 50v2m0 10v2m0 5v1m0 63v2m0 4v3m1-426v1m0 27v3m0 12v3m0 4v2m0 3v1m0 101v2m0 2v2m0 2v2m0 9v3m0 3v1m0 13v1m0 14v1m0 3v1m0 3v1m0 11v1m0 8v2m0 8v1m0 1v2m0 17v2m0 4v2m0 3v1m0 4v2m0 34v2m0 1v2m0 2v1m0 4v1m0 29v3m0 4v2m1-354v2m0 9v2m0 31v2m0 4v2m0 3v2m0 13v2m0 7v2m0 17v2m0 31v1m0 12v1m0 4v1m0 2v1m0 25v2m0 4v3m0 3v1m0 2v1m0 31v2m0 11v1m0 29v2m0 29v1m0 11v2m0 4v1m0 26v2m0 12v1m1-368v3m0 13v1m0 5v2m0 17v2m0 10v3m0 20v1m0 9v1m0 19v1m0 11v1m0 3v1m0 3v2m0 41v1m0 14v1m0 10v1m0 11v1m0 5v2m0 10v1m0 18v2m0 8v1m0 6v1m0 2v2m0 7v1m0 24v1m0 51v2m0 39v2m1-404v2m0 11v2m0 1v2m0 7v2m0 31v2m0 2v2m0 2v2m0 5v2m0 5v1m0 4v2m0 14v2m0 10v2m0 27v2m0 5v1m0 21v1m0 25v1m0 47v3m0 6v1m0 10v2m0 14v1m0 18v2m0 31v1m0 15v2m0 38v4m0 5v2m1-385v2m0 43v2m0 7v2m0 30v2m0 4v1m0 52v1m0 8v2m0 2v1m0 2v1m0 6v2m0 10v2m0 135v2m0 11v2m0 11v2m0 40v1m0 11v3m1-414v3m0 26v2m0 36v1m0 57v1m0 53v4m0 4v1m0 23v1m0 2v1m0 5v2m0 1v2m0 8v3m0 2v2m0 30v1m0 10v1m0 9v1m0 3v2m0 15v3m0 3v1m0 4v2m0 7v2m0 2v2m0 7v2m0 7v2m0 2v2m0 2v2m0 14v1m0 5v2m0 3v3m0 13v2m1-406v1m0 20v2m0 35v2m0 13v2m0 3v4m0 98v2m0 2v2m0 6v1m0 1v4m0 4v1m0 16v1m0 29v2m0 4v3m0 2v1m0 12v2m0 18v2m0 11v4m0 8v1m0 14v2m0 10v2m0 22v3m0 14v2m0 28v2m1-421v2m0 24v1m0 2v2m0 4v2m0 24v2m0 7v1m0 15v2m0 4v2m0 115v1m0 16v1m0 6v1m0 2v1m0 15v1m0 20v2m0 4v1m0 4v1m0 11v1m0 16v1m0 8v3m0 71v2m1-394v2m0 4v1m0 25v1m0 14v1m0 25v2m0 11v2m0 7v2m0 73v2m0 13v2m0 4v2m0 21v3m0 13v2m0 4v1m0 18v2m0 47v2m0 19v1m0 5v2m0 42v3m0 34v2m1-427v1m0 25v2m0 1v1m0 2v1m0 20v4m0 20v2m0 1v1m0 22v2m0 2v2m0 5v1m0 1v1m0 4v1m0 5v1m0 1v2m0 6v2m0 7v2m0 11v1m0 3v2m0 15v2m0 10v2m0 23v1m0 3v1m0 5v1m0 3v3m0 19v2m0 9v2m0 17v2m0 9v1m0 7v1m0 9v3m0 5v3m0 10v2m0 13v2m0 4v2m1-328v2m0 25v2m0 16v2m0 36v1m0 15v2m0 80v2m0 5v1m0 39v1m0 5v2m0 14v1m0 57v2m0 2v2m0 6v2m0 10v1m0 2v2m0 19v1m1-392v1m0 69v2m0 4v1m0 5v1m0 1v2m0 17v1m0 4v2m0 6v1m0 107v1m0 85v1m0 13v2m0 2v1m0 35v2m0 15v2m0 5v1m1-387v2m0 7v2m0 8v2m0 24v1m0 12v2m0 10v1m0 3v1m0 4v2m0 2v7m0 4v2m0 8v1m0 5v3m0 30v1m0 74v2m0 5v2m0 28v1m0 50v1m0 6v1m0 37v1m0 7v2m0 18v2m0 21v1m1-396v2m0 10v2m0 10v2m0 4v2m0 47v2m0 8v1m0 4v2m0 4v3m0 9v2m0 55v1m0 12v2m0 8v1m0 8v2m0 10v1m0 4v2m0 6v2m0 3v4m0 27v1m0 8v2m0 21v2m0 29v2m0 5v2m0 4v2m0 10v2m0 3v1m0 2v2m0 21v2m0 6v3m0 7v2m0 9v3m0 3v3m1-423v4m0 9v2m0 4v1m0 3v1m0 2v2m0 14v1m0 41v1m0 2v1m0 12v2m0 2v1m0 81v2m0 10v2m0 11v2m0 5v1m0 3v1m0 5v2m0 22v1m0 77v1m0 25v2m0 7v1m0 7v2m0 18v2m0 22v2m1-389v2m0 25v2m0 16v2m0 3v1m0 4v1m0 44v2m0 11v1m0 14v2m0 25v1m0 6v1m0 6v2m0 22v1m0 7v2m0 18v3m0 9v2m0 1v2m0 4v1m0 37v1m0 4v1m0 11v2m0 3v2m0 11v2m0 8v1m0 3v2m0 2v2m0 9v3m0 16v2m0 2v2m0 5v2m1-409v4m0 7v2m0 47v2m0 23v1m0 7v2m0 17v2m0 24v1m0 57v1m0 12v2m0 3v2m0 5v2m0 23v1m0 10v1m0 2v1m0 11v1m0 12v2m0 8v1m0 5v1m0 10v2m0 21v2m0 8v1m0 13v2m0 24v2m1-383v2m0 24v2m0 54v2m0 5v2m0 106v2m0 16v1m0 2v1m0 22v1m0 11v1m0 1v2m0 19v1m0 39v2m0 16v2m0 17v2m0 28v1m1-351v2m0 5v4m0 4v2m0 2v1m0 55v1m0 49v1m0 34v1m0 8v2m0 6v2m0 24v2m0 6v2m0 4v2m0 15v4m0 4v1m0 4v1m0 17v1m0 1v1m0 1v1m0 23v1m0 45v1m0 52v3m1-381v2m0 13v2m0 10v1m0 27v1m0 86v1m0 11v2m0 9v1m0 5v2m0 4v2m0 9v3m0 29v1m0 3v2m0 24v2m0 20v1m0 23v2m0 13v2m0 36v2m0 8v2m1-377v2m0 9v1m0 18v2m0 3v2m0 11v1m0 8v2m0 9v2m0 163v3m0 2v5m0 5v1m0 6v3m0 5v1m0 18v2m0 48v2m0 2v2m0 51v3m1-402v2m0 44v2m0 7v2m0 10v1m0 92v3m0 9v1m0 1v2m0 1v3m0 5v2m0 7v1m0 43v1m0 9v1m0 5v1m0 7v1m0 64v2m0 27v2m0 16v2m0 8v3m0 6v1m0 5v1m0 12v3m1-399v2m0 5v2m0 12v2m0 9v2m0 16v1m0 13v1m0 16v1m0 19v1m0 23v2m0 4v1m0 1v1m0 7v2m0 13v1m0 9v2m0 59v1m0 5v2m0 13v2m0 20v2m0 1v3m0 27v1m0 19v2m0 4v2m0 6v2m0 37v2m0 12v3m1-421v1m0 14v1m0 3v4m0 4v2m0 22v1m0 5v1m0 4v2m0 4v2m0 7v1m0 1v2m0 51v2m0 18v1m0 29v1m0 26v2m0 8v1m0 36v1m0 1v1m0 2v1m0 7v2m0 17v1m0 8v1m0 6v1m0 12v1m0 56v3m0 5v2m1-387v2m0 5v2m0 30v1m0 8v2m0 4v2m0 2v2m0 9v1m0 9v2m0 8v2m0 10v1m0 9v1m0 71v1m0 1v1m0 9v2m0 4v1m0 1v1m0 34v1m0 14v2m0 6v1m0 11v3m0 14v3m0 32v2m0 8v2m0 5v1m0 57v3m1-415v3m0 14v2m0 2v1m0 6v1m0 16v2m0 15v2m0 5v1m0 3v2m0 7v2m0 15v2m0 4v1m0 17v2m0 44v1m0 19v1m0 10v1m0 2v3m0 13v1m0 28v1m0 52v2m0 28v1m0 8v1m0 3v1m0 62v4m1-406v2m0 41v1m0 76v2m0 29v1m0 26v2m0 12v1m0 11v1m0 10v2m0 9v1m0 16v2m0 2v1m0 34v1m0 3v2m0 40v1m0 2v5m0 40v2m0 2v2m0 18v2m0 19v2m1-416v2m0 6v2m0 24v2m0 58v2m0 88v2m0 1v3m0 20v1m0 7v1m0 13v1m0 1v1m0 1v1m0 3v1m0 3v1m0 15v2m0 5v1m0 9v1m0 34v1m0 17v1m0 8v1m0 3v1m0 24v2m0 24v1m0 13v2m0 5v2m1-423v2m0 12v2m0 26v2m0 5v2m0 6v2m0 4v2m0 16v2m0 2v1m0 16v1m0 94v1m0 75v8m0 6v3m0 22v2m0 21v1m0 1v2m0 74v4m1-381v2m0 48v2m0 18v2m0 87v1m0 2v1m0 42v1m0 5v1m0 4v2m0 16v2m0 9v1m0 6v3m0 22v2m0 14v1m0 1v2m0 16v1m0 20v2m0 36v3m0 5v4m1-410v1m0 7v4m0 15v2m0 11v2m0 13v1m0 10v2m0 26v1m0 2v1m0 67v2m0 22v1m0 3v4m0 42v4m0 10v1m0 9v2m0 37v1m0 10v1m0 19v2m0 15v1m0 4v1m0 6v2m0 23v2m0 10v3m1-404v1m0 11v2m0 2v2m0 8v2m0 36v1m0 24v2m0 83v1m0 16v2m0 4v1m0 2v2m0 46v2m0 8v1m0 5v2m0 5v2m0 50v2m0 4v1m0 18v2m0 13v1m0 4v2m0 20v4m1-403v1m0 4v1m0 9v2m0 8v2m0 6v1m0 12v2m0 15v1m0 112v1m0 16v2m0 14v3m0 3v1m0 6v1m0 20v2m0 3v2m0 2v2m0 3v1m0 67v2m0 12v1m0 26v1m0 6v1m0 4v6m0 10v1m0 5v2m1-348v2m0 9v1m0 21v2m0 13v3m0 81v4m0 10v1m0 22v3m0 52v2m0 6v1m0 7v2m0 19v1m0 5v2m0 6v4m0 17v2m0 24v1m0 6v2m1-374v1m0 9v2m0 42v2m0 17v1m0 22v1m0 59v2m0 2v1m0 16v2m0 14v3m0 14v1m0 32v3m0 29v1m0 32v2m0 5v2m0 8v2m0 2v2m0 3v2m0 14v2m0 2v2m0 37v2m1-365v2m0 20v2m0 34v1m0 72v1m0 21v1m0 25v1m0 5v1m0 29v1m0 11v2m0 15v1m0 2v2m0 4v2m0 3v1m0 14v1m0 5v2m1-322v1m0 14v2m0 15v2m0 11v1m0 8v1m0 19v1m0 30v2m0 60v1m0 9v1m0 15v1m0 13v1m0 12v2m0 6v1m0 2v1m0 28v1m0 14v2m0 50v2m0 1v2m0 9v2m0 14v2m0 8v2m1-352v2m0 44v2m0 14v1m0 95v1m0 11v4m0 2v1m0 2v1m0 1v1m0 12v1m0 6v1m0 13v2m0 19v1m0 2v1m0 15v1m0 3v2m0 43v1m0 25v2m0 6v2m0 1v2m0 20v2m1-386v2m0 4v1m0 2v1m0 38v2m0 48v2m0 8v2m0 54v2m0 31v2m0 1v1m0 3v2m0 4v3m0 4v1m0 7v1m0 4v1m0 16v1m0 13v2m0 7v1m0 19v2m0 1v2m0 4v1m0 9v3m0 33v1m0 22v1m0 7v4m0 2v2m1-366v2m0 5v1m0 1v2m0 2v1m0 56v2m0 2v1m0 15v2m0 26v2m0 34v1m0 12v2m0 11v2m0 7v1m0 21v1m0 13v1m0 2v1m0 5v1m0 9v2m0 8v1m0 95v2m0 3v1m1-382v2m0 31v2m0 4v2m0 30v2m0 2v1m0 11v1m0 13v4m0 18v2m0 11v2m0 16v1m0 35v1m0 12v2m0 4v3m0 37v1m0 20v1m0 17v1m0 13v2m0 22v2m0 4v2m0 12v1m0 20v2m0 13v2m1-361v3m0 8v2m0 14v2m0 6v2m0 7v2m0 4v6m0 6v2m0 27v2m0 71v1m0 6v1m0 9v1m0 2v1m0 26v1m0 1v1m0 25v1m0 3v1m0 48v1m0 39v1m0 4v2m0 19v2m1-323v1m0 21v1m0 20v2m0 31v1m0 60v2m0 21v1m0 3v1m0 26v3m0 10v1m0 13v1m0 2v2m0 21v1m0 52v1m0 9v2m1-342v2m0 13v2m0 4v2m0 4v4m0 20v2m0 9v1m0 11v2m0 3v2m0 3v1m0 70v1m0 24v1m0 6v1m0 8v1m0 3v2m0 9v1m0 3v2m0 6v2m0 12v1m0 2v2m0 7v2m0 10v2m0 90v2m1-345v1m0 40v2m0 5v2m0 13v2m0 88v2m0 81v2m0 2v1m0 45v2m0 53v2m1-358v1m0 5v2m0 14v1m0 7v1m0 34v2m0 102v2m0 4v2m0 7v1m0 3v1m0 21v2m0 12v1m0 6v2m0 8v1m1-237v2m0 5v2m0 43v2m0 121v1m0 30v1m0 9v1m0 2v1m0 45v2m0 7v1m1-272v2m0 7v2m0 1v4m0 23v2m0 1v4m0 23v1m0 19v2m0 25v1m0 1v1m0 15v1m0 22v1m0 24v2m0 28v1m0 125v1m1-309v2m0 14v2m0 4v1m0 9v2m0 11v2m0 14v1m0 23v4m0 56v1m0 15v2m0 33v2m0 8v2m0 59v2m0 29v2m1-339v2m0 46v1m0 4v1m0 1v3m0 2v2m0 15v2m0 10v4m0 19v2m0 50v1m0 15v1m0 77v1m0 60v2m1-308v2m0 12v2m0 27v1m0 12v1m0 6v1m0 15v1m0 37v2m0 53v2m0 16v1m0 92v1m1-287v1m0 5v4m0 8v3m0 37v2m0 6v4m0 23v2m0 62v2m0 43v1m0 20v2m0 20v2m0 7v1m0 11v1m0 7v2m1-219v2m0 23v2m0 29v1m0 45v4m0 5v1m0 66v1m1-232v2m0 21v1m0 13v1m0 5v1m0 2v4m0 23v1m0 2v1m0 10v2m0 3v2m0 45v1m0 16v1m0 3v1m0 11v1m0 6v1m0 41v1m0 12v2m0 31v2m1-281v1m0 13v1m0 13v1m0 56v1m0 19v1m0 13v1m0 27v2m0 3v1m0 7v2m0 4v1m0 8v1m0 5v2m0 23v1m0 25v1m0 1v1m1-213v1m0 14v2m0 7v1m0 18v2m0 6v2m0 27v1m0 10v1m0 1v2m0 4v2m0 6v2m0 6v1m0 9v3m0 1v1m0 4v2m0 5v1m0 3v1m0 74v2m1-259v2m0 12v2m0 16v2m0 7v2m0 25v2m0 13v2m0 3v2m0 13v2m0 6v2m0 35v2m0 3v4m0 29v1m0 5v1m0 3v1m1-181v2m0 27v1m0 25v1m0 1v3m0 36v2m0 12v2m0 20v1m0 3v2m0 10v1m0 17v2m0 7v1m0 6v2m0 9v1m1-188v2m0 2v2m0 51v2m0 46v3m0 12v1m0 21v1m0 1v2m0 1v2m0 1v3m0 2v2m0 5v2m0 2v2m0 15v1m0 58v1m0 31v1m1-272v2m0 1v2m0 2v1m0 8v2m0 7v2m0 54v1m0 9v3m0 6v2m0 9v1m0 6v2m0 30v1m0 8v1m0 2v2m1-160v1m0 19v1m0 11v2m0 22v2m0 2v1m0 15v2m0 13v3m0 1v1m0 19v1m0 17v2m0 2v1m0 11v1m0 21v1m1-124v1m0 8v2m0 2v2m0 3v2m0 14v1m0 2v2m0 7v1m0 3v2m0 3v1m0 3v1m0 5v2m0 3v1m0 1v2m0 5v3m0 15v1m1-104v1m0 42v2m0 33v1m0 2v1m0 2v1m0 19v1m0 5v2m1-137v2m0 3v2m0 8v2m0 19v1m0 37v1m0 21v1m0 46v1m1-164v2m0 36v1m0 2v2m0 22v2m0 24v2m0 31v1m0 28v1"/>
<path stroke="#4900af" d="M0 122v2m0 23v2m0 9v1m0 21v2m0 9v2m0 6v2m0 23v1m0 20v1m0 11v1m0 5v2m0 59v1m0 50v2m0 16v2m0 41v1m0 17v2m0 14v2m0 17v2m0 8v1m1-398v2m0 16v2m0 30v1m0 11v1m0 33v2m0 21v1m0 7v2m0 10v2m0 10v1m0 11v2m0 68v2m0 44v1m0 9v1m0 12v2m0 36v2m0 5v1m0 46v2m1-402v2m0 42v1m0 12v2m0 5v2m0 28v2m0 19v1m0 17v1m0 30v4m0 125v2m0 38v3m0 6v1m0 9v2m0 25v2m0 8v2m0 5v3m1-379v2m0 3v2m0 15v2m0 18v2m0 37v2m0 39v1m0 15v2m0 3v1m0 10v1m0 134v1m0 37v2m0 10v2m0 20v2m0 32v3m1-390v1m0 37v2m0 31v2m0 1v1m0 22v2m0 11v1m0 5v2m0 4v1m0 5v1m0 1v3m0 4v1m0 1v1m0 91v1m0 35v2m0 27v2m0 23v2m0 34v2m0 3v2m0 2v3m0 2v3m1-403v1m0 43v2m0 1v1m0 29v2m0 7v1m0 16v1m0 20v1m0 20v1m0 3v1m0 7v1m0 24v1m0 126v1m0 27v2m0 9v2m0 6v2m0 2v4m0 10v2m0 13v1m0 12v3m1-406v2m0 12v2m0 25v2m0 15v2m0 27v2m0 20v1m0 12v2m0 28v1m0 2v1m0 1v1m0 18v1m0 2v2m0 6v1m0 100v2m0 38v2m0 5v2m0 2v2m0 18v2m0 16v2m0 22v1m0 2v2m1-399v3m0 34v2m0 4v2m0 16v1m0 5v2m0 20v2m0 6v2m0 11v2m0 49v2m0 5v2m0 3v2m0 149v1m0 37v2m0 20v3m0 6v3m1-393v2m0 36v1m0 5v1m0 46v1m0 9v1m0 24v2m0 22v1m0 24v2m0 12v1m0 124v1m0 10v2m0 18v3m0 32v3m1-388v2m0 13v1m0 8v1m0 33v2m0 17v2m0 8v1m0 15v2m0 24v2m0 15v1m0 11v1m0 7v2m0 152v1m0 5v1m0 25v2m1-355v2m0 21v3m0 19v3m0 1v2m0 7v2m0 2v2m0 1v2m0 7v2m0 3v2m0 13v2m0 41v2m0 16v1m0 30v2m0 116v2m0 13v1m0 22v2m0 2v1m0 3v2m0 40v2m1-345v2m0 9v2m0 27v2m0 18v1m0 55v1m0 48v1m0 109v2m0 36v2m1-363v2m0 2v1m0 16v2m0 24v2m0 4v1m0 49v1m0 2v1m0 27v1m0 29v2m0 14v1m0 44v1m0 109v1m0 2v1m0 12v1m0 2v2m0 28v1m1-336v2m0 1v1m0 3v2m0 2v2m0 4v2m0 17v1m0 23v1m0 4v2m0 14v2m0 29v1m0 10v1m0 14v1m0 1v2m0 30v1m0 104v2m0 12v2m0 1v2m0 24v2m0 10v1m0 7v2m1-381v2m0 6v2m0 3v1m0 4v1m0 20v2m0 13v2m0 7v1m0 18v1m0 13v2m0 24v1m0 12v1m0 7v3m0 8v1m0 26v4m0 4v2m0 3v2m0 4v1m0 12v1m0 32v2m0 97v1m0 17v3m0 6v2m1-380v1m0 2v4m0 40v2m0 6v2m0 3v4m0 10v2m0 26v1m0 56v1m0 24v2m0 12v1m0 41v1m0 89v2m0 1v2m0 25v2m0 1v2m1-384v1m0 17v2m0 8v2m0 9v3m0 17v2m0 5v1m0 29v2m0 1v2m0 47v2m0 31v1m0 5v2m0 1v1m0 3v1m0 3v2m0 40v1m0 14v1m0 29v1m0 76v2m1-353v1m0 4v3m0 13v1m0 57v2m0 16v1m0 41v1m0 44v1m0 21v2m0 6v1m0 27v1m0 96v1m0 5v1m0 8v2m0 18v5m1-349v2m0 15v2m0 18v2m0 20v1m0 28v1m0 33v2m0 13v2m0 1v2m0 2v2m0 21v1m0 33v2m0 7v2m0 1v1m0 33v1m0 7v1m0 92v2m0 13v2m1-390v2m0 7v2m0 11v1m0 12v1m0 6v2m0 6v2m0 6v2m0 6v3m0 59v1m0 16v2m0 28v1m0 1v2m0 9v1m0 2v1m0 39v1m0 10v1m0 41v1m0 6v1m0 39v1m0 11v1m0 29v1m0 6v2m0 1v2m1-383v1m0 9v2m0 5v2m0 6v1m0 10v2m0 1v1m0 4v1m0 79v1m0 1v2m0 31v1m0 21v1m0 26v1m0 3v1m0 7v1m0 6v2m0 42v2m0 12v1m0 36v3m0 2v1m0 4v1m0 30v3m0 26v1m1-391v2m0 55v2m0 2v2m0 3v4m0 12v2m0 32v1m0 14v1m0 12v1m0 35v1m0 11v2m0 27v3m0 34v2m0 33v1m0 11v1m0 19v1m0 12v2m0 29v5m1-388v2m0 9v2m0 15v1m0 7v2m0 13v1m0 15v2m0 2v1m0 29v1m0 67v1m0 3v2m0 2v1m0 4v1m0 15v1m0 15v1m0 18v1m0 16v1m0 48v2m0 8v2m0 44v1m0 16v3m0 16v2m1-385v2m0 9v1m0 8v2m0 27v1m0 32v2m0 52v2m0 18v4m0 13v1m0 14v2m0 34v1m0 5v2m0 35v2m0 19v2m0 17v1m0 13v3m0 3v2m0 8v2m0 2v2m0 6v1m0 4v2m0 19v1m0 9v1m0 10v2m1-405v1m0 2v2m0 11v1m0 5v1m0 20v1m0 3v1m0 15v5m0 23v2m0 64v1m0 16v1m0 6v2m0 11v1m0 6v1m0 10v1m0 24v1m0 8v1m0 13v2m0 5v2m0 19v1m0 7v1m0 19v2m0 74v2m1-371v2m0 44v1m0 34v2m0 59v1m0 30v1m0 10v2m0 30v2m0 3v1m0 8v1m0 23v1m0 1v1m0 5v1m0 2v1m0 25v1m0 23v2m0 2v1m0 17v2m0 2v2m1-349v1m0 30v2m0 19v2m0 35v1m0 20v2m0 5v1m0 52v1m0 2v3m0 3v1m0 4v1m0 6v1m0 10v1m0 2v1m0 27v2m0 45v1m0 16v2m0 1v1m0 3v3m0 2v2m0 8v1m0 2v1m0 2v2m0 7v2m0 29v2m0 16v2m0 2v3m1-394v1m0 12v2m0 5v1m0 9v2m0 3v2m0 1v2m0 12v1m0 68v1m0 19v2m0 9v1m0 19v1m0 4v1m0 17v1m0 3v1m0 4v1m0 15v1m0 15v1m0 14v1m0 73v2m0 13v2m0 10v1m0 4v2m0 27v2m0 4v3m1-399v2m0 17v1m0 2v2m0 21v1m0 6v2m0 15v1m0 21v2m0 56v2m0 70v1m0 40v2m0 71v2m0 4v1m0 4v1m0 1v2m0 6v2m0 22v2m0 15v2m1-414v2m0 24v2m0 6v2m0 39v2m0 6v3m0 33v1m0 25v1m0 13v2m0 15v2m0 15v1m0 36v1m0 2v1m0 9v1m0 9v2m0 38v1m0 3v2m0 4v2m0 4v1m0 5v1m0 40v2m0 3v1m0 2v2m0 2v2m0 17v1m0 28v2m1-390v4m0 6v2m0 9v2m0 2v2m0 16v2m0 18v1m0 15v2m0 48v1m0 16v1m0 7v1m0 20v1m0 1v1m0 29v1m0 40v1m0 19v2m0 11v6m0 15v4m0 1v2m0 16v2m1-334v2m0 9v2m0 13v2m0 39v2m0 119v2m0 11v1m0 4v1m0 45v1m0 18v2m0 3v2m0 17v1m0 15v2m0 5v1m0 7v2m0 11v2m0 5v2m0 4v4m0 10v2m1-367v1m0 16v2m0 7v1m0 14v2m0 23v1m0 10v2m0 36v1m0 48v1m0 6v1m0 6v1m0 25v1m0 4v1m0 2v1m0 3v3m0 5v2m0 13v3m0 12v1m0 14v1m0 15v1m0 14v1m0 2v1m0 52v1m0 3v3m0 2v1m0 12v2m1-400v2m0 14v2m0 11v2m0 7v1m0 48v1m0 105v4m0 13v1m0 26v2m0 2v2m0 6v1m0 18v2m0 6v2m0 58v1m0 29v1m0 28v5m0 5v2m1-392v1m0 13v2m0 26v2m0 2v1m0 11v2m0 2v2m0 18v2m0 98v1m0 24v1m0 9v2m0 65v1m0 14v1m0 6v2m0 4v2m0 8v1m0 5v2m0 2v2m1-314v1m0 3v2m0 7v2m0 4v2m0 9v1m0 11v1m0 14v1m0 29v2m0 82v1m0 52v2m0 1v1m0 20v2m0 27v2m0 2v2m0 9v2m0 32v2m0 24v2m0 20v2m1-413v2m0 34v2m0 12v2m0 1v1m0 9v2m0 8v2m0 9v1m0 2v2m0 7v1m0 75v2m0 15v2m0 21v1m0 2v1m0 17v2m0 11v2m0 4v2m0 25v1m0 9v2m0 6v2m0 1v1m0 11v1m0 4v1m0 1v2m0 1v1m0 7v2m0 1v2m0 23v2m0 19v1m1-373v1m0 12v1m0 4v1m0 34v2m0 16v1m0 6v1m0 15v1m0 89v3m0 15v1m0 41v1m0 9v2m0 7v1m0 2v2m0 8v2m0 9v2m0 6v2m0 1v2m0 4v1m0 15v1m0 26v2m0 14v2m0 15v2m0 16v1m1-375v1m0 22v1m0 11v1m0 8v1m0 4v1m0 132v1m0 20v2m0 3v2m0 18v2m0 9v2m0 10v2m0 13v1m0 13v2m0 6v2m0 40v2m0 2v1m0 11v2m0 32v4m1-367v1m0 5v2m0 4v2m0 1v4m0 7v2m0 24v1m0 112v3m0 34v1m0 14v2m0 24v2m0 3v1m0 8v2m0 15v2m0 9v2m0 15v2m0 2v2m1-276v2m0 10v1m0 2v1m0 2v2m0 90v1m0 1v2m0 16v1m0 13v2m0 25v1m0 3v2m0 2v1m0 1v1m0 13v2m0 13v1m0 45v2m0 52v2m0 26v2m1-505v3m0 107v1m0 24v2m0 6v2m0 5v1m0 2v2m0 127v1m0 18v1m0 6v2m0 14v1m0 5v1m0 13v1m0 8v4m0 5v1m0 16v2m0 4v2m0 13v2m0 16v1m0 27v1m0 1v1m0 55v3m1-425v1m0 13v4m0 2v2m0 46v1m0 19v1m0 4v1m0 5v2m0 90v2m0 12v1m0 2v1m0 2v1m0 7v1m0 6v3m0 7v2m0 1v1m0 9v1m0 7v1m0 9v1m0 1v2m0 2v1m0 1v2m0 9v1m0 13v2m0 2v1m0 27v2m0 10v1m0 17v2m0 60v3m1-434v2m0 46v1m0 22v3m0 6v2m0 2v4m0 9v2m0 2v2m0 114v2m0 22v3m0 22v1m0 2v2m0 21v1m0 15v1m0 6v2m0 20v1m0 11v2m0 23v1m0 51v6m0 16v3m1-454v2m0 4v5m0 14v4m0 60v1m0 22v1m0 4v5m0 85v1m0 13v2m0 4v2m0 1v1m0 26v2m0 12v1m0 2v1m0 26v1m0 9v2m0 1v3m0 21v1m0 15v2m0 29v2m0 31v2m0 3v2m0 7v2m1-420v2m0 9v1m0 4v2m0 21v1m0 11v1m0 16v1m0 19v2m0 36v1m0 71v1m0 5v1m0 6v1m0 6v2m0 13v1m0 10v1m0 5v2m0 42v1m0 33v1m0 25v2m0 11v2m0 43v2m0 13v2m1-515v2m0 91v2m0 4v2m0 8v1m0 45v2m0 12v2m0 6v1m0 6v2m0 76v1m0 13v1m0 3v2m0 40v2m0 2v2m0 15v1m0 12v1m0 2v1m0 1v1m0 10v2m0 9v1m0 5v2m0 1v2m0 7v1m0 4v1m0 43v2m0 62v2m1-428v1m0 38v2m0 6v1m0 16v1m0 1v1m0 1v2m0 109v2m0 4v1m0 5v1m0 11v2m0 2v1m0 17v2m0 2v2m0 25v1m0 1v1m0 2v1m0 18v1m0 6v2m0 1v2m0 59v2m0 8v1m0 4v3m0 37v3m1-365v2m0 24v1m0 16v1m0 87v1m0 11v2m0 3v2m0 6v1m0 17v1m0 5v1m0 40v1m0 8v2m0 6v1m0 12v1m0 8v2m0 20v1m0 25v1m0 66v3m0 2v2m1-436v2m0 37v1m0 6v2m0 6v2m0 7v2m0 17v1m0 5v1m0 92v1m0 11v3m0 15v1m0 17v2m0 17v1m0 3v2m0 28v4m0 3v2m0 4v1m0 2v1m0 12v1m0 6v2m0 3v3m1-312v2m0 31v1m0 12v2m0 4v1m0 24v2m0 103v2m0 5v2m0 15v1m0 1v2m0 2v1m0 12v1m0 24v2m0 36v2m0 21v2m0 8v2m0 34v2m1-372v2m0 19v2m0 5v2m0 27v1m0 8v2m0 27v2m0 64v2m0 2v1m0 9v1m0 18v1m0 3v3m0 31v2m0 10v1m0 7v1m0 10v1m0 5v1m0 3v1m0 2v1m0 17v2m0 28v2m0 7v1m0 97v3m0 2v3m1-429v2m0 16v2m0 5v2m0 143v1m0 11v1m0 3v2m0 11v1m0 4v1m0 23v1m0 14v2m0 5v2m0 37v2m0 6v2m0 6v2m0 4v1m0 7v1m0 6v2m0 99v2m1-421v1m0 10v2m0 24v1m0 8v4m0 30v4m0 79v2m0 36v2m0 3v2m0 1v1m0 2v1m0 2v1m0 8v2m0 4v3m0 1v1m0 3v2m0 2v1m0 14v1m0 14v2m0 2v1m0 18v1m0 16v2m0 16v1m0 15v1m0 4v2m0 54v2m1-425v4m0 15v2m0 16v2m0 24v2m0 24v1m0 14v2m0 103v1m0 7v1m0 9v2m0 7v1m0 6v2m0 12v1m0 5v2m0 8v2m0 3v1m0 3v2m0 13v1m0 5v2m0 1v2m0 10v1m0 102v2m1-417v1m0 19v2m0 12v1m0 16v3m0 11v2m0 11v2m0 11v2m0 15v2m0 3v1m0 30v1m0 29v2m0 11v2m0 15v1m0 2v1m0 14v1m0 16v2m0 12v2m0 6v3m0 11v1m0 1v1m0 3v2m0 4v1m0 4v1m0 6v2m0 3v1m0 9v2m0 4v1m0 11v2m0 5v1m0 17v1m0 11v1m0 54v2m1-425v2m0 6v2m0 4v2m0 21v2m0 4v2m0 20v2m0 13v3m0 83v1m0 18v1m0 8v1m0 5v1m0 28v2m0 8v1m0 22v3m0 2v1m0 25v2m0 23v2m0 21v2m0 59v2m1-376v4m0 3v2m0 49v2m0 3v1m0 2v4m0 14v2m0 34v5m0 1v2m0 13v1m0 22v2m0 10v2m0 8v1m0 3v1m0 2v1m0 2v2m0 1v1m0 11v1m0 5v1m0 21v1m0 31v1m0 2v1m0 27v1m0 1v1m0 4v2m0 1v1m0 5v1m0 13v2m0 7v2m0 7v2m0 34v2m1-418v1m0 12v2m0 3v2m0 29v1m0 4v2m0 10v2m0 25v2m0 36v2m0 3v1m0 23v1m0 3v1m0 24v1m0 3v1m0 18v1m0 2v2m0 8v3m0 8v1m0 15v2m0 3v1m0 3v1m0 10v1m0 30v2m0 5v1m0 30v1m0 1v1m0 10v2m1-357v1m0 2v1m0 11v2m0 10v2m0 21v3m0 29v1m0 66v1m0 5v1m0 1v2m0 1v3m0 5v2m0 37v1m0 14v2m0 8v2m0 3v2m0 4v2m0 22v2m0 4v2m0 4v2m0 2v2m0 9v1m0 126v2m1-436v1m0 14v2m0 15v1m0 9v1m0 14v1m0 4v3m0 29v2m0 2v1m0 6v1m0 26v2m0 26v1m0 51v1m0 13v1m0 2v2m0 2v1m0 12v2m0 16v1m0 37v1m0 8v2m0 29v2m1-333v2m0 4v2m0 3v2m0 9v1m0 29v1m0 2v2m0 17v1m0 3v2m0 15v2m0 7v2m0 54v1m0 9v2m0 14v1m0 4v1m0 6v1m0 2v1m0 7v1m0 3v1m0 7v1m0 8v1m0 23v2m0 1v2m0 5v2m0 4v2m0 29v2m0 12v2m0 40v1m1-359v2m0 4v2m0 6v1m0 2v2m0 8v1m0 25v2m0 20v2m0 104v3m0 19v1m0 9v2m0 3v1m0 12v1m0 8v2m0 2v1m0 3v2m0 2v3m0 9v1m0 3v2m0 1v1m0 5v2m0 3v1m0 2v1m0 5v2m0 9v1m0 17v1m0 43v2m0 9v2m0 51v3m1-436v2m0 8v2m0 4v2m0 2v2m0 6v2m0 2v1m0 25v1m0 5v1m0 25v3m0 33v1m0 71v6m0 9v3m0 51v1m0 12v2m0 24v2m0 4v2m0 45v2m0 30v2m0 20v2m0 5v2m1-401v1m0 16v2m0 10v1m0 10v2m0 12v1m0 2v2m0 4v2m0 6v1m0 3v1m0 38v1m0 47v2m0 49v2m0 3v1m0 3v1m0 9v1m0 1v1m0 2v2m0 2v2m0 4v1m0 1v1m0 12v2m0 8v1m0 14v1m0 4v2m0 4v1m0 2v1m0 5v1m0 1v1m0 11v2m0 42v2m0 12v2m0 30v3m1-426v4m0 37v2m0 27v1m0 38v1m0 23v3m0 58v4m0 21v2m0 1v2m0 36v1m0 39v2m0 21v1m0 68v3m1-340v1m0 23v2m0 13v2m0 2v1m0 2v2m0 7v1m0 24v1m0 69v1m0 1v2m0 6v1m0 7v1m0 3v1m0 7v2m0 12v1m0 10v1m0 9v2m0 10v1m0 2v2m0 36v2m0 2v1m0 17v2m0 24v2m0 2v2m1-385v3m0 66v2m0 4v2m0 126v2m0 5v1m0 4v1m0 6v1m0 1v2m0 2v2m0 8v1m0 2v1m0 15v2m0 4v1m0 15v1m0 8v2m0 2v4m0 5v2m0 45v1m0 37v2m0 8v4m0 20v4m1-402v2m0 6v2m0 2v1m0 2v2m0 18v1m0 42v1m0 92v1m0 17v1m0 16v1m0 3v1m0 2v1m0 26v2m0 3v1m0 25v1m0 2v3m0 1v2m0 5v1m0 4v2m0 7v6m0 39v2m0 10v1m0 21v3m0 3v2m0 9v2m0 5v3m1-439v2m0 12v1m0 54v1m0 5v1m0 2v4m0 2v1m0 18v2m0 108v1m0 12v3m0 22v1m0 2v2m0 14v2m0 7v2m0 5v1m0 10v1m0 7v2m0 5v1m0 27v1m0 17v2m0 30v2m0 37v3m1-392v2m0 18v1m0 43v1m0 113v1m0 20v1m0 2v2m0 5v2m0 8v1m0 18v2m0 12v2m0 2v2m0 1v1m0 3v2m0 3v2m0 10v1m0 3v1m0 12v1m0 2v2m0 5v1m0 2v1m0 19v2m0 25v2m0 40v2m1-436v2m0 10v1m0 6v1m0 31v1m0 1v2m0 31v1m0 8v1m0 106v1m0 9v1m0 4v1m0 4v1m0 5v2m0 16v2m0 24v1m0 3v1m0 11v1m0 20v2m0 8v1m0 30v1m0 14v1m0 30v3m0 26v2m1-410v2m0 5v2m0 17v2m0 8v1m0 154v1m0 11v2m0 6v1m0 10v1m0 3v2m0 12v1m0 10v2m0 5v1m0 47v2m0 5v3m0 14v2m0 3v2m0 16v2m1-347v2m0 17v1m0 4v1m0 13v2m0 20v3m0 22v1m0 80v1m0 21v1m0 6v2m0 6v2m0 5v1m0 1v2m0 1v3m0 3v1m0 4v1m0 8v1m0 8v1m0 27v4m0 32v2m0 9v1m0 9v1m0 25v2m0 10v1m0 6v2m0 11v3m0 14v3m1-424v5m0 4v2m0 2v4m0 13v1m0 41v1m0 5v1m0 6v2m0 95v1m0 24v2m0 9v1m0 20v1m0 31v2m0 16v1m0 6v2m0 7v1m0 1v1m0 1v1m0 32v2m0 49v3m0 20v6m1-379v2m0 53v2m0 82v2m0 9v1m0 13v1m0 6v2m0 4v2m0 40v2m0 25v1m0 36v2m0 32v1m0 5v2m0 24v2m1-383v2m0 9v2m0 14v1m0 15v1m0 22v2m0 17v1m0 7v2m0 97v1m0 5v1m0 3v1m0 2v2m0 2v1m0 1v2m0 4v1m0 24v1m0 13v2m0 20v2m0 45v2m0 3v3m0 10v2m0 19v1m0 9v2m0 24v2m0 22v1m1-432v1m0 14v1m0 8v1m0 9v2m0 35v1m0 7v1m0 5v2m0 4v1m0 2v1m0 119v2m0 1v2m0 38v2m0 1v3m0 13v1m0 8v1m0 16v1m0 10v2m0 6v1m0 6v2m0 2v2m0 27v1m0 60v2m1-388v2m0 10v4m0 15v2m0 20v1m0 10v2m0 2v2m0 11v1m0 19v1m0 55v3m0 7v2m0 4v2m0 3v1m0 43v1m0 2v1m0 13v2m0 7v1m0 52v2m0 27v2m0 5v1m0 5v1m0 13v1m0 26v2m1-420v1m0 7v4m0 9v1m0 10v2m0 2v1m0 13v2m0 4v4m0 24v1m0 113v2m0 8v1m0 12v1m0 5v2m0 6v1m0 15v1m0 17v1m0 42v2m0 5v1m0 4v4m0 5v2m0 16v2m0 34v2m1-402v1m0 1v2m0 1v2m0 18v2m0 4v1m0 6v1m0 55v2m0 2v1m0 17v2m0 35v2m0 55v1m0 8v2m0 12v2m0 4v1m0 20v2m0 7v1m0 1v1m0 5v1m0 7v1m0 20v1m0 2v2m0 3v1m0 3v2m0 6v1m0 6v2m0 8v2m0 51v1m0 19v5m0 12v3m1-402v1m0 10v1m0 23v1m0 122v1m0 22v1m0 9v1m0 11v1m0 27v1m0 21v1m0 4v2m0 18v2m0 6v3m0 8v1m0 36v2m1-371v2m0 27v2m0 6v2m0 4v3m0 23v2m0 9v2m0 11v1m0 78v1m0 45v2m0 4v3m0 25v2m0 1v2m0 6v2m0 10v2m0 26v2m0 6v2m0 6v2m0 25v4m0 25v2m0 12v2m0 31v1m1-399v1m0 13v1m0 12v2m0 154v1m0 1v2m0 16v1m0 28v2m0 1v2m0 3v1m0 11v1m0 20v2m0 9v2m0 8v1m0 10v2m0 2v1m0 8v1m0 11v1m0 29v2m0 4v1m0 1v2m0 4v3m0 23v2m1-416v1m0 1v2m0 3v1m0 6v2m0 4v2m0 9v2m0 45v1m0 13v1m0 103v3m0 5v1m0 9v1m0 5v2m0 23v3m0 54v2m0 2v2m0 8v2m0 1v1m0 7v2m0 3v1m0 30v3m0 13v2m0 25v2m0 9v3m1-416v1m0 11v2m0 24v2m0 8v2m0 4v2m0 26v2m0 11v2m0 26v1m0 73v4m0 5v1m0 1v1m0 57v1m0 25v1m0 26v1m0 13v2m0 20v4m0 18v2m0 3v2m0 12v2m1-371v2m0 46v2m0 11v2m0 92v1m0 5v3m0 10v1m0 7v2m0 5v1m0 21v2m0 2v1m0 6v1m0 10v2m0 7v1m0 14v2m0 25v2m0 13v1m0 2v2m0 2v1m0 66v3m1-483v1m0 91v1m0 4v1m0 4v1m0 46v1m0 18v2m0 108v1m0 16v1m0 18v2m0 1v3m0 8v2m0 26v2m0 26v1m0 3v1m0 7v1m0 40v2m0 4v2m0 12v2m0 29v2m1-404v2m0 19v1m0 5v2m0 48v1m0 13v1m0 83v1m0 3v1m0 8v2m0 9v3m0 6v1m0 1v3m0 12v2m0 1v1m0 76v1m0 4v2m0 9v2m0 15v1m0 46v2m0 10v3m1-421v1m0 23v2m0 7v2m0 10v2m0 18v2m0 14v2m0 11v1m0 10v2m0 25v2m0 71v1m0 5v2m0 8v1m0 6v3m0 7v1m0 2v2m0 3v1m0 3v2m0 14v1m0 9v1m0 13v2m0 4v1m0 9v2m0 33v1m0 41v1m0 9v2m0 20v2m1-400v2m0 16v2m0 42v2m0 16v1m0 18v2m0 93v1m0 3v3m0 6v1m0 1v1m0 11v1m0 17v2m0 10v1m0 9v1m0 5v1m0 57v2m1-339v2m0 23v1m0 23v2m0 2v1m0 29v2m0 20v2m0 2v2m0 6v1m0 94v1m0 21v2m0 11v2m0 7v1m0 6v2m0 50v2m0 40v1m0 14v2m0 8v2m0 27v1m1-407v2m0 18v2m0 61v1m0 150v1m0 15v1m0 8v1m0 22v2m0 62v1m0 40v5m1-390v2m0 40v3m0 10v1m0 25v2m0 4v2m0 4v2m0 100v6m0 4v1m0 7v1m0 10v1m0 7v2m0 3v1m0 41v2m0 9v1m0 1v2m0 21v2m0 1v2m0 8v2m0 31v2m0 15v3m1-374v3m0 16v2m0 14v1m0 11v2m0 5v1m0 10v2m0 2v2m0 2v1m0 7v2m0 8v2m0 86v1m0 6v2m0 31v2m0 7v2m0 9v1m0 33v1m0 13v4m0 54v3m0 3v1m1-331v2m0 20v2m0 23v1m0 11v1m0 106v1m0 1v1m0 6v2m0 9v1m0 5v1m0 28v2m0 18v2m0 6v2m0 5v1m0 10v1m0 11v1m0 8v3m0 25v4m0 8v2m1-353v2m0 8v2m0 4v2m0 10v2m0 16v1m0 32v1m0 61v1m0 7v1m0 10v1m0 19v2m0 5v1m0 14v1m0 33v1m0 2v2m0 3v2m0 7v1m0 45v2m0 39v1m0 14v2m0 18v2m1-370v3m0 17v2m0 20v1m0 78v2m0 49v1m0 8v1m0 13v1m0 3v1m0 13v1m0 38v1m0 41v2m0 2v2m0 34v2m0 37v2m1-361v1m0 15v2m0 53v2m0 5v2m0 20v2m0 17v1m0 18v1m0 24v2m0 3v3m0 12v1m0 4v1m0 23v1m0 10v2m0 1v1m0 7v2m0 7v1m0 48v1m0 37v2m0 1v2m1-367v1m0 11v2m0 1v2m0 2v1m0 14v1m0 13v2m0 8v2m0 4v2m0 7v2m0 10v1m0 2v1m0 1v1m0 12v2m0 4v2m0 83v1m0 26v2m0 13v3m0 4v3m0 1v2m0 26v2m0 9v1m0 13v1m0 10v1m0 1v2m0 14v1m0 2v1m0 9v2m0 3v2m1-341v2m0 7v2m0 6v2m0 36v3m0 7v2m0 4v2m0 4v1m0 8v3m0 3v2m0 83v1m0 15v1m0 4v1m0 14v3m0 8v2m0 54v1m0 12v1m0 41v1m0 17v2m0 1v2m0 1v1m1-375v2m0 10v4m0 15v2m0 10v2m0 5v2m0 17v1m0 23v1m0 9v2m0 10v2m0 81v2m0 5v2m0 9v1m0 1v2m0 7v1m0 18v2m0 11v1m0 25v1m0 29v4m0 1v2m0 11v3m0 19v1m0 3v1m1-344v2m0 62v2m0 4v1m0 4v1m0 4v2m0 87v1m0 38v1m0 9v1m0 27v1m0 32v2m0 2v1m0 53v1m1-343v2m0 10v2m0 21v1m0 5v1m0 33v2m0 1v2m0 22v2m0 70v1m0 5v1m0 11v1m0 1v1m0 8v4m0 14v1m0 32v1m0 70v2m0 7v2m1-321v1m0 5v1m0 4v2m0 15v1m0 12v2m0 8v2m0 1v2m0 15v2m0 8v2m0 1v2m0 86v1m0 2v1m0 4v2m0 12v2m0 37v2m0 8v1m0 7v3m0 11v1m0 27v1m1-318v2m0 26v2m0 18v2m0 53v2m0 17v2m0 8v2m0 17v1m0 45v1m0 2v1m0 19v1m0 10v1m0 36v2m0 14v1m0 4v2m1-273v2m0 45v1m0 2v2m0 3v2m0 13v2m0 10v1m0 13v2m0 26v2m0 14v1m0 16v2m0 17v1m0 4v2m0 16v1m0 3v1m0 2v1m0 19v2m0 1v2m1-230v1m0 39v2m0 2v1m0 12v3m0 26v2m0 1v2m0 86v4m0 19v2m0 3v1m0 57v1m0 21v1m0 12v2m1-299v2m0 15v2m0 29v2m0 15v2m0 14v1m0 8v2m0 2v2m0 36v1m0 11v2m0 1v2m0 8v3m0 19v1m0 10v2m0 5v3m0 29v2m0 3v2m0 6v1m0 9v1m0 44v1m1-280v2m0 8v2m0 13v2m0 6v2m0 20v2m0 12v4m0 13v2m0 16v2m0 115v2m0 6v1m0 6v1m0 3v1m0 15v2m1-291v2m0 43v4m0 8v2m0 5v2m0 16v3m0 2v2m0 37v2m0 10v2m0 8v1m0 7v1m0 46v1m0 10v1m0 2v1m0 26v1m0 34v1m1-281v1m0 36v2m0 7v1m0 14v2m0 13v3m0 21v2m0 4v2m0 1v1m0 3v1m0 3v5m0 9v2m0 9v1m0 2v2m0 11v1m0 27v2m0 33v1m0 9v2m0 2v2m0 37v2m0 2v1m1-206v2m0 14v1m0 29v2m0 48v1m0 27v1m0 5v1m0 9v1m0 56v2m1-243v3m0 5v2m0 2v3m0 7v2m0 18v1m0 9v1m0 2v2m0 22v1m0 4v1m0 2v1m0 1v1m0 4v2m0 6v2m0 21v2m0 5v1m0 10v1m0 2v2m0 49v1m0 35v1m0 15v1m0 3v1m1-241v4m0 16v2m0 1v2m0 3v2m0 8v4m0 2v1m0 5v1m0 7v2m0 6v2m0 5v2m0 8v1m0 23v2m0 10v1m1-144v2m0 28v1m0 9v1m0 14v2m0 3v1m0 4v2m0 3v2m0 1v1m0 9v2m0 11v1m0 8v1m0 25v1m0 3v1m0 11v1m0 13v1m0 1v1m1-141v2m0 2v1m0 65v1m0 14v1m0 39v2m0 11v1m0 10v2m0 53v1m0 13v1m1-253v2m0 7v2m0 12v2m0 5v2m0 1v2m0 2v2m0 19v4m0 78v1m0 3v1m0 12v1m0 9v1m0 5v2m0 22v1m0 16v2m0 18v1m0 15v1m1-246v4m0 11v1m0 4v2m0 12v2m0 1v2m0 15v2m0 7v2m0 27v2m0 3v2m0 30v3m0 13v1m0 1v4m0 15v2m1-137v2m0 17v2m0 6v2m0 3v2m0 55v2m0 10v2m0 5v2m0 6v2m0 1v2m0 3v1m1-153v2m0 16v3m0 2v2m0 5v2m0 17v2m0 2v4m0 7v1m0 12v2m0 13v2m0 38v1m0 2v1m0 9v2m0 18v3"/>
<path stroke="#3a00cb" d="M0 110v1m0 2v2m0 24v2m0 42v1m0 43v1m0 26v1m0 1v1m0 2v2m0 6v1m0 83v1m0 1v2m0 19v1m0 46v1m0 15v1m0 3v2m0 2v1m0 19v3m0 23v2m0 3v3m1-410v2m0 4v2m0 62v2m0 7v2m0 22v2m0 14v2m0 12v1m0 12v2m0 7v2m0 12v2m0 86v1m0 45v2m0 26v2m0 12v2m0 27v2m0 3v2m0 2v3m0 4v2m0 5v3m0 4v3m0 15v1m1-417v1m0 12v2m0 33v1m0 3v2m0 2v2m0 31v2m0 30v1m0 37v2m0 92v2m0 84v1m0 21v2m0 12v2m0 7v2m1-374v2m0 9v1m0 17v2m0 35v1m0 15v1m0 5v2m0 32v1m0 16v1m0 13v1m0 5v1m0 134v2m0 19v2m0 12v1m0 2v2m0 6v2m0 15v1m1-356v3m0 37v1m0 2v2m0 6v2m0 4v2m0 4v1m0 39v2m0 33v2m0 1v1m0 2v1m0 8v1m0 8v2m0 5v2m0 6v1m0 55v2m0 64v2m0 9v1m0 2v2m0 12v2m0 12v1m0 32v3m1-331v1m0 6v1m0 58v1m0 7v1m0 8v2m0 22v2m0 4v1m0 114v4m0 18v1m0 35v2m0 19v4m0 28v3m1-409v2m0 6v1m0 10v1m0 2v2m0 32v2m0 3v2m0 11v1m0 32v1m0 46v1m0 32v2m0 12v1m0 102v2m0 44v1m0 5v3m1-348v2m0 7v2m0 9v1m0 17v1m0 25v1m0 20v4m0 12v2m0 25v1m0 168v2m0 6v2m0 17v2m0 4v1m0 3v1m0 8v4m0 25v2m1-379v2m0 63v1m0 6v2m0 9v2m0 10v1m0 9v1m0 39v1m0 17v1m0 28v1m0 90v2m0 5v2m0 70v2m0 40v2m1-398v2m0 8v2m0 39v4m0 3v2m0 27v2m0 7v2m0 77v1m0 12v1m0 2v2m0 5v1m0 2v2m0 88v2m0 4v2m0 1v2m0 32v3m0 11v1m0 19v2m0 5v2m0 3v1m1-370v2m0 34v2m0 2v1m0 4v2m0 2v1m0 42v1m0 76v1m0 140v2m0 2v1m0 14v2m0 10v2m0 20v1m0 12v1m1-391v1m0 18v2m0 18v2m0 5v2m0 3v1m0 3v2m0 4v2m0 4v2m0 9v4m0 86v1m0 17v1m0 27v4m0 85v1m0 11v4m0 11v1m0 24v5m0 3v2m0 6v2m0 2v2m1-370v2m0 2v1m0 6v1m0 22v1m0 2v1m0 5v3m0 9v1m0 2v1m0 11v1m0 4v4m0 4v2m0 81v2m0 3v1m0 2v1m0 27v1m0 122v3m0 40v2m0 12v2m1-382v4m0 21v1m0 24v1m0 3v1m0 27v1m0 34v1m0 43v2m0 45v2m0 8v1m0 95v1m0 18v1m0 13v3m0 32v2m1-390v3m0 2v2m0 42v1m0 1v3m0 23v2m0 103v1m0 36v1m0 19v2m0 86v1m0 16v2m0 2v2m0 35v2m0 2v2m1-383v1m0 112v1m0 6v1m0 32v4m0 6v2m0 14v1m0 8v2m0 28v1m0 3v2m0 7v2m0 15v1m0 4v2m0 70v1m0 6v1m0 2v1m0 4v1m0 10v2m0 29v1m1-398v2m0 3v2m0 8v2m0 2v2m0 39v3m0 18v2m0 10v1m0 25v1m0 24v1m0 27v1m0 47v1m0 60v1m0 48v1m0 11v2m0 4v2m0 4v2m0 7v2m1-342v2m0 28v2m0 5v2m0 6v5m0 2v2m0 6v1m0 3v2m0 92v3m0 65v1m0 15v2m0 73v2m0 4v3m0 3v1m0 10v2m0 29v1m1-392v2m0 2v1m0 8v1m0 9v2m0 23v1m0 4v2m0 34v1m0 10v1m0 22v1m0 20v2m0 51v1m0 35v1m0 17v1m0 2v2m0 4v1m0 10v1m0 7v2m0 36v2m0 6v4m0 13v2m0 14v1m0 9v2m1-374v2m0 6v2m0 14v2m0 18v2m0 8v2m0 2v1m0 69v2m0 3v1m0 44v1m0 30v1m0 2v2m0 17v1m0 26v1m0 5v1m0 6v2m0 21v1m0 17v1m0 15v2m0 12v2m0 7v2m0 2v4m1-362v2m0 3v2m0 53v3m0 66v1m0 23v1m0 1v1m0 17v2m0 1v2m0 11v1m0 8v1m0 2v1m0 7v2m0 4v1m0 64v2m0 11v1m0 14v2m0 30v1m0 8v2m0 2v2m0 12v2m0 3v2m1-378v2m0 3v4m0 3v1m0 2v2m0 8v1m0 7v1m0 36v2m0 17v2m0 4v2m0 63v1m0 33v1m0 9v2m0 9v1m0 1v1m0 49v2m0 11v2m0 13v1m0 6v1m0 14v2m0 9v2m0 3v2m0 46v2m0 19v3m1-393v2m0 37v2m0 8v1m0 15v2m0 11v2m0 57v2m0 39v1m0 2v1m0 58v1m0 20v1m0 5v2m0 29v2m0 6v2m0 2v1m0 1v2m0 27v1m0 7v2m1-335v1m0 4v2m0 4v2m0 7v2m0 13v2m0 6v2m0 92v2m0 36v2m0 3v2m0 4v1m0 9v1m0 4v1m0 2v2m0 9v1m0 4v2m0 6v3m0 10v2m0 5v1m0 42v2m0 4v1m0 9v1m0 7v2m0 31v4m0 7v3m1-393v2m0 16v1m0 43v2m0 30v2m0 86v2m0 2v1m0 24v1m0 5v2m0 3v2m0 24v1m0 45v1m0 17v2m0 4v2m0 5v2m0 16v1m0 25v1m0 9v1m0 12v3m1-405v2m0 23v1m0 22v2m0 24v2m0 33v2m0 76v1m0 2v1m0 27v1m0 19v1m0 4v2m0 15v1m0 5v2m0 46v3m0 1v2m0 14v1m0 6v2m0 3v1m0 6v2m0 2v2m0 24v2m0 15v2m0 13v6m1-405v2m0 3v2m0 16v2m0 6v2m0 18v2m0 89v2m0 4v1m0 11v2m0 24v2m0 1v2m0 4v2m0 4v1m0 10v1m0 22v2m0 2v4m0 4v1m0 1v2m0 16v1m0 4v2m0 6v2m0 7v3m0 3v3m0 2v1m0 8v4m0 46v1m0 27v1m0 27v3m1-346v3m0 130v4m0 16v2m0 12v1m0 5v1m0 7v2m0 21v1m0 1v3m0 6v1m0 2v2m0 3v2m0 13v1m0 2v2m0 15v1m0 12v2m0 2v2m0 9v1m0 14v2m0 7v3m0 17v2m1-386v2m0 16v1m0 24v1m0 2v2m0 18v2m0 2v1m0 18v2m0 76v2m0 114v2m0 4v1m0 87v2m0 8v2m0 4v1m1-413v2m0 11v2m0 17v2m0 35v1m0 19v4m0 15v2m0 53v1m0 16v2m0 8v1m0 6v3m0 12v2m0 16v2m0 13v3m0 26v3m0 1v1m0 18v2m0 2v4m0 29v1m0 40v2m1-391v5m0 21v1m0 1v2m0 37v1m0 2v2m0 4v2m0 8v1m0 2v3m0 93v1m0 15v2m0 1v2m0 17v2m0 9v1m0 4v2m0 22v2m0 15v2m0 12v2m0 29v1m0 1v2m0 81v2m0 3v2m1-366v2m0 123v2m0 6v2m0 7v1m0 14v2m0 4v1m0 1v2m0 22v2m0 12v1m0 10v2m0 1v1m0 2v2m0 1v1m0 11v1m0 11v2m0 10v2m0 12v2m0 12v1m0 37v1m0 10v1m1-374v2m0 8v3m0 15v2m0 37v2m0 1v5m0 4v4m0 16v1m0 88v1m0 1v2m0 8v3m0 3v2m0 24v1m0 13v2m0 27v2m0 19v2m0 14v2m0 3v1m0 9v1m0 49v1m0 12v2m0 13v8m0 2v3m1-408v1m0 34v2m0 4v1m0 2v1m0 42v1m0 30v1m0 55v2m0 40v1m0 5v1m0 43v1m0 10v1m0 12v1m0 4v2m0 49v2m0 4v2m0 52v3m1-426v2m0 9v2m0 29v3m0 11v2m0 2v1m0 8v1m0 14v2m0 111v2m0 7v1m0 52v2m0 7v1m0 18v1m0 14v1m0 9v2m0 14v2m0 9v1m0 29v3m0 12v2m0 27v2m1-422v5m0 90v2m0 5v2m0 69v1m0 19v1m0 5v1m0 11v1m0 2v2m0 1v1m0 29v2m0 2v1m0 21v1m0 8v1m0 21v3m0 19v2m0 7v1m0 5v1m0 2v3m0 5v2m0 22v1m0 31v2m1-477v2m0 87v2m0 31v1m0 8v2m0 15v2m0 12v2m0 109v2m0 4v1m0 1v1m0 2v1m0 5v2m0 1v2m0 27v1m0 13v1m0 1v1m0 30v1m0 15v1m0 4v2m0 10v2m0 5v1m0 2v1m0 31v2m0 18v2m0 26v2m1-361v2m0 17v1m0 3v2m0 2v1m0 11v2m0 74v2m0 14v2m0 32v1m0 4v1m0 2v3m0 7v1m0 1v1m0 14v1m0 18v1m0 10v2m0 27v4m0 3v1m0 38v2m0 1v2m0 29v2m0 17v2m1-480v1m0 70v1m0 9v1m0 1v2m0 9v1m0 7v4m0 5v2m0 10v2m0 24v1m0 113v1m0 7v1m0 3v2m0 20v1m0 13v1m0 3v2m0 2v3m0 4v2m0 1v1m0 13v1m0 8v1m0 4v4m0 4v1m0 11v1m0 26v2m0 21v2m0 54v3m1-417v1m0 5v2m0 7v2m0 17v2m0 60v1m0 85v3m0 2v1m0 10v1m0 3v1m0 11v1m0 5v2m0 18v2m0 6v2m0 12v2m0 8v1m0 22v1m0 7v2m0 9v3m0 36v2m0 43v2m0 13v2m1-499v1m0 117v1m0 10v2m0 4v2m0 14v2m0 8v1m0 10v2m0 108v2m0 44v1m0 23v2m0 4v2m0 2v2m0 3v2m0 4v2m0 20v4m0 2v1m0 7v3m0 1v2m0 5v2m0 10v2m1-352v1m0 42v2m0 5v2m0 9v1m0 9v2m0 15v2m0 8v1m0 100v1m0 12v1m0 33v1m0 13v1m0 15v2m0 24v2m0 16v1m0 22v2m0 60v3m1-428v1m0 35v1m0 18v1m0 8v1m0 51v2m0 79v2m0 12v2m0 10v2m0 29v2m0 5v2m0 7v1m0 4v1m0 1v1m0 31v1m0 13v4m0 2v2m0 5v2m0 2v2m0 6v3m0 3v2m1-343v2m0 13v2m0 28v2m0 7v1m0 3v2m0 1v2m0 21v1m0 2v2m0 5v1m0 2v2m0 91v1m0 30v1m0 6v1m0 2v2m0 9v1m0 13v2m0 7v1m0 9v1m0 7v2m0 4v1m0 2v2m0 7v1m0 23v1m0 103v2m1-427v4m0 2v2m0 24v4m0 3v3m0 14v2m0 10v2m0 13v1m0 117v1m0 5v1m0 16v1m0 2v3m0 11v1m0 12v2m0 30v2m0 3v2m0 12v4m0 5v2m0 1v3m0 3v2m0 7v1m0 25v2m0 75v3m1-435v2m0 42v2m0 4v2m0 24v2m0 19v1m0 85v3m0 1v2m0 58v1m0 4v1m0 10v2m0 1v1m0 2v2m0 7v1m0 7v1m0 1v2m0 31v2m0 4v4m0 101v3m1-407v2m0 6v2m0 25v2m0 6v4m0 8v1m0 102v2m0 13v3m0 54v1m0 1v1m0 14v1m0 2v2m0 11v2m0 5v2m0 14v4m0 18v2m0 37v2m0 44v3m1-383v1m0 62v2m0 19v1m0 4v1m0 23v2m0 12v1m0 18v1m0 17v1m0 26v2m0 29v2m0 2v1m0 30v1m0 16v4m0 2v4m1-334v2m0 12v1m0 36v2m0 2v2m0 27v1m0 6v1m0 8v2m0 92v2m0 3v1m0 7v1m0 6v2m0 30v2m0 4v3m0 26v2m0 32v2m0 2v1m0 13v2m0 6v1m0 97v4m1-448v1m0 45v2m0 12v2m0 10v2m0 106v1m0 13v3m0 8v1m0 4v1m0 28v1m0 22v1m0 4v1m0 7v2m0 19v2m0 13v4m0 9v2m0 11v1m0 38v2m0 44v2m0 5v2m1-424v1m0 4v2m0 11v2m0 13v1m0 32v2m0 6v2m0 14v1m0 4v3m0 109v3m0 20v2m0 11v2m0 5v2m0 7v1m0 38v1m0 8v2m0 15v2m0 34v2m0 56v1m1-363v2m0 2v2m0 23v1m0 17v1m0 76v1m0 26v1m0 9v1m0 2v2m0 24v1m0 6v1m0 3v3m0 5v2m0 10v1m0 18v2m0 13v4m0 11v2m0 24v2m0 9v4m0 13v2m0 39v3m1-361v1m0 3v2m0 116v1m0 15v1m0 2v1m0 87v1m0 2v1m0 14v1m0 4v4m0 9v1m0 22v2m0 19v1m0 52v3m0 5v2m1-430v1m0 36v2m0 25v3m0 120v1m0 2v1m0 4v2m0 40v2m0 5v1m0 29v2m0 5v2m0 127v2m0 8v5m0 11v3m1-433v2m0 4v1m0 32v1m0 42v2m0 120v1m0 16v2m0 5v2m0 39v2m0 16v2m0 11v2m0 7v1m0 6v2m0 29v2m0 15v2m0 52v3m1-513v3m0 94v2m0 20v1m0 7v2m0 21v2m0 17v2m0 4v1m0 11v1m0 4v1m0 71v2m0 13v4m0 14v1m0 7v1m0 11v2m0 11v1m0 20v3m0 9v1m0 1v3m0 2v1m0 4v2m0 3v2m0 1v1m0 6v1m0 3v1m0 5v1m0 13v2m0 6v2m0 24v2m0 13v2m0 35v2m1-433v2m0 6v3m0 4v2m0 14v2m0 25v2m0 46v2m0 80v1m0 1v1m0 10v2m0 2v2m0 26v2m0 24v1m0 27v1m0 7v1m0 5v2m0 16v1m0 4v2m0 4v2m0 10v2m0 2v1m0 25v2m0 2v2m0 51v5m0 1v2m1-426v1m0 3v2m0 11v2m0 13v2m0 6v1m0 15v5m0 5v2m0 5v1m0 18v2m0 58v1m0 2v1m0 15v2m0 8v1m0 3v6m0 19v1m0 17v1m0 20v1m0 1v1m0 2v1m0 4v2m0 10v2m0 132v2m0 14v1m1-419v2m0 2v1m0 2v1m0 21v2m0 15v1m0 45v2m0 38v1m0 4v1m0 12v1m0 5v2m0 21v1m0 26v2m0 12v2m0 16v1m0 1v2m0 50v4m0 7v1m0 10v1m0 47v2m0 63v2m1-430v1m0 34v2m0 52v2m0 4v1m0 30v1m0 32v1m0 17v2m0 1v1m0 4v3m0 21v1m0 1v1m0 5v2m0 3v2m0 7v2m0 15v2m0 1v2m0 11v4m0 4v1m0 15v1m0 1v2m0 12v1m0 6v2m0 19v2m0 32v2m1-365v2m0 2v1m0 2v2m0 6v2m0 9v2m0 12v2m0 3v2m0 53v1m0 31v1m0 10v2m0 19v1m0 6v1m0 21v1m0 9v4m0 1v1m0 33v3m0 1v1m0 2v2m0 14v2m0 7v1m0 40v2m0 1v2m0 16v1m1-326v2m0 13v2m0 32v2m0 4v1m0 7v2m0 14v1m0 63v1m0 25v1m0 9v2m0 18v1m0 24v1m0 37v2m0 9v1m0 18v3m0 9v1m0 6v1m1-318v2m0 28v2m0 1v2m0 49v2m0 99v1m0 4v1m0 16v2m0 25v2m0 1v1m0 15v2m0 9v2m0 6v1m0 5v1m0 103v2m1-399v2m0 77v2m0 146v4m0 2v1m0 14v2m0 4v2m0 5v2m0 23v1m0 17v1m0 11v5m0 4v1m0 16v1m0 5v1m0 9v2m0 7v2m0 5v2m0 27v4m0 24v1m0 9v2m1-431v2m0 20v2m0 22v1m0 2v1m0 37v1m0 96v2m0 15v1m0 13v1m0 14v2m0 18v2m0 13v1m0 6v1m0 7v2m0 13v1m0 3v1m0 6v2m0 7v3m0 6v2m0 1v2m0 74v2m0 23v2m1-442v1m0 2v2m0 12v4m0 14v2m0 26v2m0 4v2m0 15v1m0 35v2m0 78v1m0 11v1m0 3v2m0 9v1m0 31v1m0 15v1m0 3v2m0 9v2m0 7v1m0 11v1m0 33v2m0 6v2m1-361v2m0 9v2m0 40v2m0 160v1m0 13v1m0 4v1m0 4v1m0 13v2m0 6v1m0 18v2m0 7v1m0 8v2m0 2v1m0 31v3m0 19v1m0 31v2m0 29v2m1-482v1m0 59v2m0 16v2m0 3v1m0 3v2m0 42v2m0 13v1m0 23v1m0 2v2m0 86v1m0 6v2m0 9v1m0 1v2m0 19v2m0 13v1m0 19v5m0 6v2m0 2v1m0 12v1m0 14v3m0 13v1m0 52v2m0 35v2m1-419v2m0 56v2m0 7v1m0 26v1m0 102v1m0 18v2m0 12v1m0 7v1m0 3v4m0 1v1m0 6v2m0 79v1m0 42v2m0 15v1m1-397v2m0 16v2m0 2v2m0 12v2m0 44v1m0 38v1m0 73v1m0 1v1m0 4v3m0 7v2m0 6v2m0 19v1m0 8v1m0 1v2m0 3v1m0 21v1m0 6v2m0 13v1m0 3v2m0 8v2m0 5v1m1-291v2m0 15v2m0 4v2m0 20v1m0 18v2m0 81v1m0 14v2m0 48v2m0 7v1m0 5v1m0 17v1m0 40v2m0 43v2m0 5v3m0 4v2m0 23v2m0 25v2m1-416v2m0 5v1m0 43v2m0 2v2m0 9v1m0 16v2m0 93v2m0 2v2m0 47v3m0 30v2m0 1v1m0 2v2m0 4v2m0 5v2m0 35v2m0 34v2m0 12v2m1-386v2m0 9v2m0 30v2m0 9v2m0 47v1m0 95v1m0 1v4m0 21v1m0 2v2m0 1v1m0 14v1m0 45v1m0 8v4m0 15v1m0 7v1m0 5v2m0 89v3m1-422v2m0 15v2m0 19v2m0 116v1m0 52v1m0 6v2m0 25v1m0 6v1m0 12v2m0 1v2m0 8v1m0 21v2m0 6v3m0 6v2m0 8v1m0 10v1m0 3v2m0 66v4m0 9v1m1-436v2m0 2v1m0 14v1m0 13v2m0 63v2m0 6v1m0 96v2m0 3v1m0 10v2m0 33v2m0 32v4m0 1v2m0 11v1m0 10v1m0 6v2m0 15v1m0 2v2m0 11v1m0 26v2m0 43v3m1-418v1m0 27v2m0 41v1m0 4v2m0 5v1m0 9v2m0 3v1m0 69v1m0 18v2m0 1v1m0 7v1m0 10v2m0 15v2m0 38v1m0 9v3m0 25v1m0 21v3m0 11v2m0 74v2m0 2v2m1-426v2m0 79v3m0 5v2m0 3v1m0 16v1m0 82v4m0 3v1m0 10v1m0 10v1m0 30v3m0 17v1m0 31v2m0 5v1m0 18v1m0 3v2m0 20v2m0 8v2m1-380v1m0 15v1m0 81v2m0 117v1m0 1v3m0 2v1m0 10v1m0 27v1m0 6v1m0 3v2m0 33v1m0 1v1m0 2v2m0 10v1m0 14v2m0 37v2m1-365v2m0 14v2m0 18v2m0 29v1m0 4v2m0 12v1m0 35v1m0 76v2m0 12v2m0 8v1m0 9v1m0 9v5m0 5v1m0 8v2m0 94v2m0 6v1m0 41v2m1-416v2m0 4v4m0 35v1m0 59v2m0 83v1m0 3v2m0 1v2m0 7v1m0 9v1m0 3v2m0 3v1m0 20v4m0 6v1m0 1v2m0 23v2m0 1v1m0 13v2m0 5v1m0 9v1m0 49v1m0 27v3m0 11v3m0 4v4m1-414v3m0 2v1m0 5v2m0 2v2m0 15v2m0 2v2m0 32v1m0 113v1m0 11v1m0 4v1m0 11v2m0 4v1m0 13v1m0 2v2m0 13v1m0 1v1m0 1v2m0 8v1m0 6v1m0 7v2m0 12v2m0 7v2m0 5v2m0 38v2m0 15v2m0 11v3m1-472v3m0 79v2m0 37v2m0 7v2m0 16v2m0 122v1m0 20v2m0 3v2m0 15v1m0 2v1m0 6v1m0 1v1m0 5v1m0 6v2m0 5v3m0 3v2m0 2v2m0 3v2m0 34v2m0 22v3m0 59v3m0 11v2m1-396v1m0 21v1m0 17v2m0 32v2m0 105v4m0 13v2m0 12v1m0 2v1m0 8v2m0 8v2m0 21v2m0 10v1m0 4v2m0 1v1m0 16v2m0 15v2m0 52v2m1-384v1m0 3v2m0 17v2m0 4v3m0 149v1m0 2v1m0 7v1m0 12v2m0 8v1m0 51v2m0 22v1m0 2v2m0 5v1m0 16v1m0 2v1m0 9v2m0 14v2m0 23v2m0 36v3m0 2v3m1-387v1m0 12v2m0 23v1m0 14v2m0 5v1m0 44v1m0 59v2m0 18v1m0 5v2m0 54v1m0 6v2m0 2v4m0 27v1m0 4v1m0 29v2m0 5v2m0 31v2m0 12v2m1-410v1m0 80v2m0 2v1m0 5v1m0 106v3m0 5v2m0 5v1m0 1v1m0 5v1m0 6v4m0 3v3m0 20v1m0 25v2m0 31v2m0 5v2m0 22v2m0 52v2m1-415v2m0 11v1m0 12v2m0 29v2m0 124v1m0 28v1m0 8v2m0 2v2m0 1v2m0 12v1m0 41v2m0 30v3m0 2v4m0 28v1m1-357v2m0 12v2m0 25v2m0 16v2m0 10v2m0 31v2m0 97v1m0 3v2m0 11v2m0 3v1m0 6v3m0 16v1m0 16v1m0 25v1m0 8v4m0 6v2m0 43v2m0 26v2m0 5v3m0 4v3m0 10v1m0 3v2m1-484v2m0 70v2m0 17v1m0 13v2m0 36v1m0 28v1m0 92v1m0 2v2m0 66v1m0 4v1m0 28v2m0 26v2m0 39v1m1-371v1m0 46v2m0 36v1m0 20v1m0 108v5m0 29v1m0 17v1m0 1v1m0 7v1m0 35v2m0 8v1m0 22v2m0 4v2m0 33v1m0 7v2m1-385v3m0 39v2m0 6v1m0 39v1m0 97v1m0 1v1m0 21v3m0 4v2m0 14v1m0 3v3m0 8v2m0 9v1m0 16v1m0 3v2m0 32v1m0 18v2m0 4v2m0 5v1m0 15v2m0 15v1m1-388v6m0 43v2m0 25v1m0 9v1m0 1v1m0 94v1m0 16v3m0 5v1m0 23v1m0 2v1m0 12v1m0 15v2m0 2v1m0 4v2m0 44v2m0 6v1m0 9v1m0 13v1m0 19v2m0 11v1m1-363v2m0 5v2m0 2v1m0 52v2m0 2v6m0 109v2m0 2v2m0 9v2m0 1v1m0 3v1m0 8v1m0 5v2m0 48v2m0 2v2m0 8v2m0 7v4m0 26v2m0 22v3m0 20v3m1-468v2m0 110v1m0 15v2m0 3v2m0 1v2m0 18v2m0 117v1m0 18v1m0 1v3m0 10v2m0 3v2m0 52v2m0 4v2m0 36v2m0 4v2m0 7v1m0 36v3m0 2v2m0 2v2m1-422v2m0 35v2m0 25v1m0 36v1m0 1v2m0 5v2m0 111v1m0 18v2m0 18v1m0 3v1m0 11v2m0 3v1m0 8v2m0 13v2m0 8v1m0 36v1m0 2v2m0 2v2m1-341v2m0 12v1m0 13v2m0 33v1m0 116v2m0 9v1m0 2v1m0 12v3m0 2v1m0 11v3m0 9v2m0 3v1m0 6v1m0 32v2m0 12v1m0 8v1m0 43v3m0 3v2m0 6v2m0 26v1m1-400v2m0 6v2m0 26v2m0 13v1m0 30v1m0 15v2m0 101v5m0 28v2m0 57v1m0 73v2m0 9v2m1-379v2m0 41v1m0 6v1m0 30v3m0 16v2m0 92v1m0 8v1m0 8v2m0 4v2m0 31v2m0 14v1m0 6v1m0 48v2m0 8v1m0 5v2m0 5v2m0 4v1m0 11v2m0 7v1m1-368v2m0 3v3m0 37v1m0 4v2m0 10v2m0 11v2m0 100v1m0 37v3m0 1v1m0 1v1m0 31v1m0 11v2m0 5v2m0 9v2m0 6v2m0 53v1m0 16v2m1-296v2m0 19v1m0 96v1m0 7v1m0 7v2m0 3v1m0 38v2m0 3v1m0 10v1m0 22v5m0 13v1m0 3v1m0 27v1m0 29v4m0 17v2m1-382v2m0 2v2m0 9v1m0 4v2m0 3v3m0 9v1m0 5v2m0 29v1m0 2v2m0 104v1m0 4v1m0 5v2m0 8v2m0 5v2m0 21v1m0 11v2m0 10v1m0 9v2m0 17v1m0 30v2m0 24v2m1-360v2m0 52v2m0 3v2m0 41v2m0 88v3m0 19v1m0 11v1m0 44v1m0 9v2m1-246v2m0 1v1m0 19v2m0 1v1m0 6v1m0 8v1m0 106v1m0 5v1m0 5v2m0 8v1m0 49v2m0 8v2m0 26v1m1-284v2m0 30v2m0 7v2m0 17v2m0 8v2m0 115v1m0 20v1m0 10v1m0 18v1m0 10v1m0 6v1m0 14v1m1-281v2m0 17v1m0 50v1m0 18v1m0 97v1m0 11v1m0 35v1m0 26v2m0 10v2m0 8v1m0 3v3m0 27v2m1-318v4m0 155v1m0 17v1m0 11v2m0 5v2m0 8v1m0 28v1m0 35v1m0 1v1m0 22v2m0 48v1m0 3v3m1-337v1m0 46v2m0 2v2m0 5v2m0 10v2m0 4v2m0 84v1m0 6v2m0 11v1m0 7v1m0 7v1m0 19v1m0 6v2m0 6v2m0 90v2m1-343v4m0 8v1m0 11v2m0 23v2m0 4v1m0 132v1m0 15v1m0 20v2m0 16v1m0 12v1m0 8v1m0 8v1m1-256v2m0 15v2m0 7v2m0 6v1m0 7v3m0 31v1m0 34v2m0 81v2m0 3v2m0 39v1m0 17v2m0 27v2m1-316v3m0 25v2m0 8v2m0 67v1m0 64v2m0 9v2m0 10v1m0 7v2m0 14v2m0 5v1m0 21v1m0 30v2m0 24v2m1-292v2m0 8v1m0 6v1m0 10v2m0 8v2m0 8v2m0 12v2m0 22v2m0 9v2m0 28v2m0 24v2m0 11v1m0 10v3m0 2v1m0 14v2m0 35v1m0 1v2m0 25v2m1-264v6m0 21v3m0 4v1m0 7v2m0 7v2m0 39v1m0 13v2m0 26v1m0 5v1m0 17v1m0 8v1m0 27v2m0 32v1m0 43v2m1-269v2m0 38v3m0 1v1m0 13v2m0 9v4m0 20v1m0 13v1m0 1v2m0 25v1m0 8v2m0 56v1m0 22v1m0 4v1m0 27v1m0 22v1m1-288v1m0 2v4m0 9v2m0 14v1m0 8v2m0 19v1m0 2v2m0 5v2m0 3v1m0 8v1m0 25v2m0 28v2m0 12v1m0 30v1m0 9v2m1-197v2m0 11v2m0 2v2m0 10v1m0 38v2m0 24v2m0 55v1m0 20v2m0 43v2m0 14v1m0 22v1m1-344v1m0 79v2m0 18v3m0 7v2m0 2v2m0 3v1m0 13v2m0 18v1m0 8v3m0 1v1m0 10v3m0 29v1m0 9v2m0 3v3m0 13v1m0 20v1m0 14v1m0 17v1m0 39v1m1-245v2m0 9v2m0 30v2m0 2v2m0 7v1m0 12v2m0 19v1m0 16v1m0 16v2m0 2v3m0 23v1m0 6v3m0 2v1m0 3v1m0 1v1m0 19v1m0 28v1m1-249v2m0 35v2m0 41v1m0 5v2m0 9v2m0 6v1m0 67v2m0 2v1m0 13v1m0 4v1m0 5v2m0 2v1m0 32v1m1-212v1m0 38v2m0 8v2m0 8v2m0 5v2m0 37v2m0 5v2m0 1v1m0 25v1m0 4v1m0 12v2m0 7v1m0 22v1m1-191v1m0 4v2m0 1v2m0 13v2m0 19v2m0 45v4m0 4v2m0 13v1m0 14v3m0 13v1m0 5v1m0 2v1m0 2v1m0 4v2m0 16v1m1-169v2m0 14v2m0 3v1m0 1v2m0 57v2m0 3v2m0 2v6m0 1v2m0 6v2m0 9v1m0 3v1m0 19v1m0 16v1m0 2v1"/>
<path stroke="#2900e3" d="M0 90v2m0 2v4m0 40v1m0 22v1m0 168v2m0 12v2m0 18v2m0 17v1m0 21v1m0 10v2m0 34v2m0 14v2m0 5v2m0 16v3m1-409v2m0 21v2m0 2v2m0 32v2m0 3v2m0 45v2m0 49v2m0 1v1m0 71v2m0 9v2m0 4v2m0 43v2m0 12v1m0 12v1m0 1v1m0 4v3m0 22v2m0 17v2m1-375v2m0 54v2m0 20v1m0 86v1m0 132v4m0 17v2m0 45v2m1-364v2m0 10v2m0 61v1m0 2v1m0 26v2m0 18v1m0 9v1m0 28v2m0 84v2m0 41v1m0 22v3m0 4v2m0 2v2m0 11v2m0 20v2m0 18v2m0 2v2m0 9v3m0 1v2m0 3v3m1-410v2m0 22v1m0 21v3m0 31v2m0 7v1m0 4v2m0 192v1m0 12v2m0 6v1m0 7v1m0 2v1m0 21v2m0 8v2m0 28v3m0 29v2m1-400v1m0 34v2m0 4v1m0 4v2m0 19v1m0 6v2m0 5v2m0 71v2m0 2v2m0 12v2m0 6v1m0 53v2m0 44v2m0 14v2m0 90v3m1-416v1m0 31v2m0 20v1m0 14v2m0 8v1m0 16v2m0 4v2m0 7v2m0 4v2m0 2v2m0 17v1m0 25v1m0 13v2m0 3v1m0 4v2m0 1v1m0 13v1m0 62v2m0 22v1m0 12v4m0 7v1m0 2v2m0 1v2m0 8v1m0 5v2m0 10v2m0 16v2m0 4v3m0 12v2m0 5v2m1-392v4m0 11v4m0 26v4m0 11v1m0 10v2m0 4v1m0 24v1m0 12v1m0 55v2m0 11v2m0 104v2m0 6v2m0 3v1m0 13v1m0 14v2m0 24v2m0 13v1m0 24v1m1-425v2m0 4v3m0 18v2m0 14v1m0 12v2m0 45v1m0 6v2m0 7v1m0 24v1m0 27v1m0 13v2m0 9v1m0 2v1m0 6v3m0 2v1m0 1v1m0 3v2m0 3v1m0 9v1m0 76v1m0 15v2m0 14v4m0 25v2m1-352v1m0 6v2m0 25v2m0 10v2m0 3v1m0 7v1m0 9v1m0 10v2m0 10v2m0 11v1m0 68v1m0 2v1m0 3v5m0 7v1m0 14v2m0 113v2m0 2v2m0 27v1m0 10v2m0 15v3m0 13v2m1-385v2m0 30v3m0 4v1m0 38v2m0 8v2m0 57v1m0 7v1m0 18v1m0 131v2m0 11v1m0 37v3m0 13v2m0 5v2m0 6v5m1-484v3m0 84v2m0 9v2m0 36v1m0 15v1m0 36v1m0 41v2m0 27v2m0 10v1m0 6v1m0 12v2m0 16v1m0 97v2m1-337v2m0 17v2m0 3v2m0 43v3m0 8v1m0 2v1m0 4v2m0 56v1m0 39v2m0 1v1m0 7v2m0 8v3m0 122v3m0 62v2m0 4v3m0 8v2m1-353v1m0 10v1m0 21v1m0 55v1m0 4v2m0 20v1m0 10v2m0 24v2m0 5v1m0 37v2m0 75v2m0 29v4m0 15v3m1-369v2m0 20v2m0 7v4m0 10v2m0 19v2m0 2v2m0 81v2m0 3v2m0 7v2m0 25v2m0 11v1m0 4v1m0 23v1m0 100v2m0 29v2m1-401v2m0 16v2m0 2v1m0 9v2m0 29v2m0 3v2m0 23v2m0 92v1m0 27v2m0 3v1m0 1v1m0 3v2m0 15v1m0 10v2m0 12v2m0 1v2m0 26v1m0 51v1m0 19v1m0 19v2m0 20v3m1-380v2m0 1v4m0 10v2m0 12v1m0 14v4m0 34v1m0 39v1m0 21v1m0 18v1m0 2v1m0 22v2m0 47v2m0 10v1m0 8v2m0 52v2m0 8v2m0 8v2m0 12v2m0 12v3m1-390v1m0 21v2m0 6v2m0 4v2m0 29v2m0 7v2m0 113v2m0 6v2m0 6v1m0 3v1m0 1v1m0 50v1m0 24v2m0 9v2m0 38v2m0 5v1m1-433v2m0 52v2m0 27v2m0 3v2m0 22v2m0 6v2m0 4v1m0 33v1m0 2v2m0 5v1m0 96v2m0 8v2m0 2v2m0 24v1m0 27v2m0 4v1m0 1v2m0 13v2m0 17v2m0 4v2m0 37v2m0 13v1m0 12v1m0 24v2m1-392v2m0 14v1m0 11v2m0 1v2m0 6v2m0 4v1m0 33v1m0 4v5m0 1v1m0 72v1m0 27v3m0 1v1m0 6v1m0 2v2m0 14v1m0 4v2m0 15v3m0 12v1m0 2v1m0 3v1m0 4v3m0 5v1m0 1v1m0 2v2m0 26v1m0 8v1m0 6v3m0 2v1m0 60v1m1-412v2m0 2v2m0 4v2m0 1v2m0 9v2m0 14v3m0 15v2m0 10v2m0 19v2m0 14v2m0 99v1m0 13v2m0 5v1m0 11v1m0 7v2m0 1v1m0 4v1m0 6v2m0 18v2m0 29v2m0 26v2m0 2v2m0 48v3m1-394v2m0 50v2m0 34v1m0 101v1m0 8v2m0 14v1m0 7v1m0 34v3m0 23v2m0 6v2m0 12v1m0 45v2m0 6v2m0 5v2m0 35v2m1-373v1m0 56v4m0 104v2m0 1v3m0 12v1m0 34v2m0 8v2m0 8v2m0 9v1m0 12v7m0 5v2m0 3v1m0 17v1m0 72v3m1-397v2m0 1v2m0 10v2m0 71v1m0 95v2m0 6v2m0 16v2m0 8v2m0 7v1m0 42v2m0 6v1m0 5v2m0 14v2m0 52v2m0 37v2m0 3v1m1-394v2m0 3v1m0 6v2m0 6v2m0 14v1m0 27v2m0 15v1m0 104v2m0 14v1m0 22v1m0 9v1m0 11v2m0 5v1m0 4v1m0 7v2m0 2v2m0 11v3m0 34v2m0 38v4m0 3v2m1-397v2m0 54v2m0 11v3m0 4v2m0 3v4m0 2v2m0 12v3m0 1v2m0 5v2m0 71v1m0 14v2m0 6v1m0 10v1m0 7v1m0 23v1m0 11v2m0 4v2m0 3v1m0 13v2m0 4v1m0 32v2m0 4v2m0 17v2m0 30v2m0 6v2m1-370v2m0 48v2m0 23v1m0 4v2m0 17v2m0 99v1m0 14v2m0 24v3m0 21v1m0 142v1m0 8v3m1-402v2m0 14v1m0 9v2m0 19v2m0 18v2m0 86v1m0 15v1m0 3v2m0 26v1m0 7v2m0 17v2m0 21v1m0 6v2m0 2v1m0 8v1m0 2v2m0 5v2m0 12v2m0 73v3m0 8v2m1-378v1m0 2v1m0 12v1m0 29v1m0 11v1m0 5v2m0 87v3m0 3v4m0 12v2m0 1v2m0 20v2m0 25v1m0 18v4m0 7v1m0 2v2m0 13v1m0 1v2m0 1v1m0 4v1m0 20v2m0 46v2m1-381v1m0 1v2m0 26v1m0 9v2m0 9v1m0 31v2m0 4v1m0 75v1m0 23v1m0 9v1m0 6v2m0 6v2m0 4v1m0 15v2m0 21v1m0 13v1m0 5v2m0 36v2m0 48v2m0 43v4m1-416v2m0 22v2m0 68v2m0 84v2m0 14v1m0 6v1m0 7v3m0 11v2m0 21v1m0 4v1m0 31v1m0 1v1m0 4v2m0 56v2m0 4v2m0 9v4m0 39v3m1-412v2m0 59v2m0 13v2m0 6v2m0 110v1m0 5v1m0 2v1m0 2v1m0 1v1m0 31v1m0 11v1m0 4v1m0 3v1m0 36v2m0 11v1m0 6v2m0 9v1m0 28v2m0 43v2m1-416v2m0 25v1m0 24v1m0 12v2m0 20v1m0 6v2m0 112v1m0 8v1m0 4v2m0 28v3m0 4v2m0 5v2m0 13v1m0 32v2m0 7v2m0 1v3m0 19v1m0 15v1m0 28v1m1-388v2m0 16v1m0 3v1m0 4v2m0 41v2m0 21v1m0 78v2m0 28v2m0 13v1m0 2v1m0 8v1m0 24v1m0 5v2m0 7v3m0 14v2m0 7v1m0 22v2m0 1v2m0 17v2m0 32v3m0 35v2m1-427v2m0 15v2m0 2v2m0 49v1m0 24v1m0 6v2m0 105v2m0 6v1m0 16v1m0 6v2m0 2v1m0 5v1m0 1v1m0 9v2m0 8v2m0 19v1m0 2v1m0 10v2m0 12v5m0 38v2m0 17v2m0 43v2m1-431v4m0 4v2m0 3v1m0 38v2m0 15v2m0 12v1m0 127v1m0 12v2m0 3v1m0 3v2m0 23v1m0 11v1m0 13v1m0 25v3m0 64v2m0 39v2m1-421v2m0 12v2m0 24v2m0 124v1m0 38v2m0 17v2m0 2v1m0 1v2m0 24v1m0 5v1m0 8v1m0 2v4m0 11v2m0 10v2m0 18v1m0 11v1m0 52v2m1-373v2m0 2v2m0 6v2m0 7v2m0 9v2m0 47v2m0 112v2m0 2v1m0 3v2m0 20v2m0 4v1m0 3v2m0 2v1m0 1v1m0 26v4m0 23v1m0 15v1m0 37v2m1-359v1m0 3v2m0 1v1m0 4v2m0 40v2m0 105v2m0 32v1m0 12v2m0 7v2m0 16v2m0 4v1m0 18v1m0 4v2m0 10v1m0 11v1m0 18v2m0 22v2m0 14v2m1-429v1m0 67v2m0 10v2m0 9v2m0 34v2m0 16v1m0 24v1m0 111v2m0 5v2m0 17v2m0 6v1m0 18v1m0 3v2m0 27v1m0 21v2m0 3v2m0 97v2m0 4v3m1-431v2m0 4v2m0 11v2m0 27v3m0 4v1m0 35v2m0 124v2m0 14v2m0 8v1m0 8v1m0 30v2m0 23v2m0 4v2m0 13v1m0 1v2m0 99v2m1-439v1m0 50v2m0 124v1m0 70v1m0 4v1m0 13v2m0 40v2m0 4v1m1-303v2m0 40v1m0 151v2m0 12v1m0 32v1m0 15v1m0 22v1m0 12v1m0 8v2m0 8v1m0 7v1m0 4v2m0 13v1m0 81v2m0 7v2m1-418v2m0 28v1m0 19v2m0 127v1m0 84v1m0 12v2m0 7v2m0 2v2m0 3v2m0 8v2m0 4v2m0 100v1m0 3v2m1-369v1m0 18v2m0 118v1m0 41v1m0 32v1m0 2v1m0 28v1m0 8v1m0 31v1m0 2v1m1-369v1m0 18v2m0 24v1m0 15v1m0 10v1m0 26v1m0 2v2m0 186v1m0 10v1m0 5v2m0 4v2m0 7v3m0 6v2m0 4v3m0 54v2m0 9v3m1-414v1m0 27v2m0 16v1m0 32v2m0 8v2m0 13v2m0 7v2m0 99v1m0 48v2m0 2v1m0 32v1m0 1v2m0 2v1m0 21v1m0 19v1m0 95v2m1-435v2m0 35v2m0 5v2m0 5v2m0 2v1m0 166v2m0 42v1m0 4v1m0 15v1m0 2v2m0 16v1m1-292v2m0 13v2m0 58v2m0 122v2m0 25v1m0 14v1m0 20v2m0 24v2m0 20v1m0 109v2m1-516v2m0 87v2m0 29v2m0 47v2m0 4v2m0 96v2m0 10v2m0 226v4m0 2v2m1-513v2m0 1v2m0 67v2m0 68v1m0 123v2m0 37v2m0 9v1m0 10v1m0 7v1m0 16v4m0 3v3m0 18v3m0 8v2m0 99v3m1-417v2m0 88v2m0 112v1m0 27v2m0 57v1m0 1v2m0 5v1m0 17v1m1-397v3m0 66v2m0 1v4m0 59v2m0 28v2m0 8v2m0 48v1m0 43v2m0 46v2m0 33v2m0 6v1m0 9v1m0 1v2m0 35v1m0 89v2m1-442v1m0 7v4m0 6v2m0 3v4m0 181v1m0 7v1m0 19v1m0 51v1m0 16v1m0 8v2m0 8v3m0 9v2m0 104v4m1-426v1m0 7v1m0 34v1m0 15v1m0 2v2m0 28v1m0 117v1m0 2v2m0 11v2m0 39v1m0 12v2m0 3v2m0 7v1m0 2v1m0 2v1m0 5v2m0 3v1m0 3v1m0 1v2m0 4v1m0 12v2m0 14v2m0 15v2m0 53v3m1-434v2m0 11v2m0 26v2m0 6v2m0 2v1m0 206v2m0 40v1m0 7v2m1-327v2m0 17v2m0 3v3m0 155v2m0 13v1m0 14v2m0 4v1m0 9v1m0 17v1m0 10v2m0 6v2m0 10v2m0 13v2m0 61v1m0 90v4m1-439v2m0 10v2m0 40v2m0 18v1m0 17v2m0 4v3m0 45v2m0 5v1m0 12v2m0 55v1m0 14v2m0 8v1m0 3v1m0 1v1m0 10v2m0 15v2m0 2v3m0 7v1m0 17v2m0 6v2m0 2v1m0 3v1m0 22v1m1-422v2m0 59v2m0 3v2m0 17v2m0 25v1m0 38v1m0 9v2m0 5v1m0 50v2m0 4v1m0 8v2m0 3v1m0 6v1m0 9v4m0 12v1m0 10v2m0 2v1m0 29v2m0 38v1m0 30v1m0 1v2m0 2v2m0 94v3m0 1v3m1-421v2m0 6v2m0 9v1m0 18v2m0 14v2m0 83v2m0 36v1m0 1v2m0 8v1m0 6v4m0 24v1m0 51v2m0 10v2m0 23v1m0 10v1m0 1v1m0 90v3m0 2v3m0 4v2m1-356v1m0 18v2m0 39v1m0 43v1m0 6v1m0 14v1m0 42v1m0 11v2m0 18v2m0 5v1m0 1v2m0 6v2m0 9v2m0 1v1m0 2v2m0 56v3m0 54v1m1-425v2m0 35v1m0 2v1m0 24v1m0 17v3m0 106v2m0 8v1m0 8v2m0 16v2m0 27v2m0 13v1m0 2v2m0 5v2m0 1v2m1-373v2m0 91v1m0 29v2m0 6v2m0 2v3m0 4v1m0 133v2m0 1v1m0 50v2m0 29v1m0 49v2m0 91v2m1-504v2m0 79v2m0 44v2m0 3v2m0 1v2m0 172v1m0 12v1m0 18v3m0 5v2m0 5v1m0 5v2m0 3v2m0 1v2m0 30v1m0 100v2m1-437v2m0 6v1m0 5v1m0 15v2m0 17v2m0 34v1m0 14v1m0 8v2m0 97v2m0 4v2m0 17v1m0 37v2m0 5v2m0 14v1m0 7v2m0 5v1m0 5v1m0 28v2m0 14v2m0 24v1m0 44v2m1-422v3m0 4v2m0 16v1m0 43v4m0 33v2m0 112v1m0 6v1m0 5v2m0 12v2m0 59v1m0 3v1m0 22v2m0 36v1m0 47v2m1-439v2m0 17v4m0 9v2m0 32v2m0 32v2m0 16v1m0 86v2m0 21v1m0 7v2m0 6v2m0 5v1m0 15v1m0 2v2m0 23v2m0 15v2m0 7v1m0 10v2m0 13v2m0 59v1m0 21v2m1-327v1m0 102v1m0 11v1m0 11v1m0 4v2m0 8v2m0 7v2m0 14v2m0 12v1m0 2v1m0 3v2m0 15v2m0 6v3m0 11v2m0 9v1m0 47v1m1-458v2m0 78v2m0 23v2m0 18v2m0 2v2m0 40v1m0 105v1m0 23v1m0 15v1m0 32v2m0 10v1m0 5v1m0 7v1m0 11v1m0 77v3m0 16v2m0 11v3m0 22v3m1-441v2m0 28v2m0 14v1m0 20v2m0 25v2m0 104v2m0 14v1m0 19v1m0 45v1m0 18v2m0 12v2m0 19v1m0 25v1m0 55v3m0 2v2m1-440v2m0 12v2m0 37v2m0 50v2m0 104v2m0 26v1m0 6v1m0 2v2m0 50v2m0 4v2m0 8v2m0 1v1m0 2v2m0 15v2m0 44v1m0 35v2m0 7v3m1-359v1m0 140v1m0 7v2m0 5v2m0 10v1m0 19v1m0 16v2m0 14v2m0 3v1m0 2v1m0 10v2m0 10v2m0 2v2m0 41v2m0 51v3m1-347v1m0 21v2m0 94v1m0 13v2m0 31v2m0 6v1m0 21v3m0 13v2m0 6v1m0 3v3m0 9v2m0 7v2m0 9v1m0 15v2m0 27v1m1-455v3m0 3v2m0 67v4m0 13v2m0 49v1m0 4v2m0 26v1m0 133v1m0 3v1m0 6v1m0 15v1m0 4v1m0 11v1m0 3v3m0 2v3m0 44v1m0 33v2m0 3v2m0 2v2m1-442v6m0 58v2m0 5v2m0 214v2m0 3v1m0 13v2m0 10v2m0 11v2m0 11v1m0 6v1m0 6v2m0 36v1m0 2v1m0 7v1m0 86v1m1-337v2m0 102v1m0 59v2m0 20v1m0 1v2m0 4v2m0 8v1m0 17v2m0 21v2m0 29v2m0 43v2m0 5v1m1-376v2m0 33v2m0 19v2m0 93v1m0 14v2m0 14v1m0 23v1m0 2v1m0 19v3m0 5v1m0 1v2m0 5v1m0 4v1m0 22v2m0 1v1m0 1v2m0 3v2m0 15v2m0 2v2m1-342v2m0 8v1m0 25v1m0 7v1m0 53v2m0 91v2m0 67v1m0 1v1m0 15v1m0 4v2m0 20v1m0 6v1m0 8v1m0 11v2m0 5v2m0 70v1m0 5v3m1-506v3m0 75v2m0 4v1m0 6v2m0 12v2m0 170v1m0 8v1m0 8v1m0 16v1m0 4v1m0 4v2m0 43v1m0 42v4m1-418v3m0 65v1m0 1v4m0 7v2m0 47v2m0 48v2m0 132v2m0 1v2m0 5v3m0 1v1m0 19v1m0 3v2m0 9v1m0 8v4m0 12v2m0 1v1m0 1v2m0 29v1m0 6v2m0 34v2m0 34v2m0 2v2m1-502v2m0 64v1m0 9v2m0 10v2m0 40v2m0 2v2m0 12v1m0 22v2m0 3v1m0 99v2m0 27v2m0 1v1m0 11v2m0 18v2m0 1v4m0 11v1m0 1v2m0 20v1m0 14v1m0 7v1m0 21v2m0 6v1m0 61v1m1-416v1m0 5v2m0 35v1m0 37v2m0 110v2m0 5v1m0 12v1m0 2v2m0 16v1m0 6v1m0 12v1m0 26v4m0 4v1m0 4v1m0 11v1m1-272v2m0 2v1m0 41v1m0 102v1m0 3v2m0 27v1m0 13v1m0 19v1m0 25v1m0 9v2m0 2v1m0 41v1m0 25v1m0 42v2m0 3v3m0 6v2m1-502v2m0 65v2m0 60v2m0 38v3m0 129v2m0 25v1m0 2v2m0 4v2m0 15v1m0 16v2m0 8v2m0 2v1m0 15v2m0 8v2m0 2v1m1-294v1m0 29v2m0 17v2m0 113v2m0 18v1m0 4v2m0 4v1m0 14v1m0 2v1m0 2v1m0 16v3m0 17v2m0 13v2m0 4v1m0 4v1m0 13v2m0 8v2m0 23v1m1-387v2m0 15v2m0 88v1m0 85v2m0 12v1m0 22v1m0 4v2m0 5v2m0 32v1m0 6v2m0 1v2m0 17v3m0 1v1m0 1v4m0 23v1m0 1v1m1-326v1m0 41v1m0 5v1m0 45v2m0 1v1m0 106v1m0 2v1m0 26v1m0 1v2m0 3v2m0 6v1m0 5v1m0 7v2m0 30v2m0 24v1m0 2v1m0 89v3m1-429v2m0 7v2m0 52v2m0 32v2m0 104v2m0 32v2m0 18v2m0 10v1m0 7v2m0 2v1m0 27v2m0 3v1m0 3v1m0 3v1m0 4v2m0 45v1m0 12v1m1-326v1m0 2v2m0 39v1m0 162v2m0 9v1m0 5v1m0 2v2m0 2v2m0 8v2m0 32v1m0 4v1m0 9v3m0 26v2m0 18v2m1-474v2m0 87v2m0 21v2m0 34v2m0 19v4m0 110v1m0 1v1m0 39v1m0 7v2m0 4v1m0 1v2m0 50v2m0 20v2m0 50v3m1-386v2m0 85v2m0 5v1m0 109v1m0 17v1m0 6v2m0 8v1m0 10v1m0 3v1m0 4v1m0 15v2m0 4v1m0 42v1m0 7v1m0 38v6m0 12v3m0 13v3m1-493v3m0 67v4m0 20v1m0 6v2m0 23v2m0 1v1m0 2v1m0 38v1m0 10v2m0 4v1m0 99v2m0 22v1m0 16v2m0 5v2m0 15v2m0 19v1m0 37v2m0 45v2m0 19v3m1-358v3m0 38v2m0 5v1m0 8v1m0 101v1m0 1v1m0 21v1m0 3v1m0 18v3m0 6v2m0 5v1m0 3v1m0 14v1m0 5v3m0 7v2m0 2v2m0 53v1m0 5v2m0 30v2m0 6v2m1-403v2m0 4v1m0 60v2m0 18v2m0 5v2m0 111v2m0 2v4m0 2v2m0 12v1m0 11v1m0 18v2m0 16v2m0 5v1m0 30v2m0 25v2m0 22v1m1-361v1m0 33v4m0 133v1m0 6v1m0 26v1m0 1v2m0 7v1m0 27v2m0 25v1m0 19v2m0 2v2m0 2v1m0 1v1m0 15v2m0 6v1m0 3v1m0 38v2m0 11v2m1-404v2m0 44v2m0 2v2m0 4v2m0 9v2m0 27v2m0 103v1m0 6v2m0 3v1m0 12v1m0 7v1m0 7v1m0 28v1m0 4v1m0 31v2m0 12v2m0 22v3m0 7v1m0 25v3m0 12v2m0 5v3m1-410v2m0 22v2m0 22v2m0 169v1m0 2v2m0 5v1m0 7v1m0 19v1m0 6v1m0 1v1m0 3v2m0 4v3m0 8v4m0 9v1m0 17v1m0 4v1m0 16v1m0 13v2m0 1v1m0 6v3m0 34v9m1-473v1m0 271v1m0 3v1m0 46v1m0 52v1m0 22v1m0 2v1m0 4v2m0 14v2m0 30v2m0 16v1m1-413v2m0 48v1m0 30v2m0 20v1m0 114v3m0 7v1m0 10v1m0 5v3m0 12v1m0 30v1m0 8v1m0 7v1m0 2v1m0 3v1m0 7v2m0 30v1m0 4v1m0 7v1m0 12v2m0 2v1m1-369v2m0 19v1m0 18v1m0 5v2m0 144v1m0 24v1m0 11v1m0 10v3m0 8v2m0 9v2m0 19v1m0 13v1m0 10v1m0 3v1m0 4v2m0 11v2m0 8v1m1-330v1m0 16v2m0 8v1m0 155v2m0 1v1m0 57v2m0 5v1m0 12v2m0 10v1m0 10v2m0 9v2m0 17v2m0 7v1m0 4v2m0 3v2m0 7v1m1-364v2m0 10v2m0 3v1m0 26v1m0 50v2m0 80v1m0 16v1m0 30v1m0 16v1m0 13v1m0 20v2m0 4v3m0 5v1m0 1v1m0 8v1m0 18v2m1-399v3m0 91v1m0 18v1m0 13v3m0 2v2m0 2v1m0 41v2m0 84v1m0 6v1m0 4v1m0 9v1m0 30v2m0 31v1m0 21v2m0 4v1m0 1v1m0 15v2m1-303v2m0 70v2m0 2v3m0 115v1m0 1v1m0 8v1m0 12v1m0 55v1m0 3v1m0 2v2m0 2v1m0 1v2m0 2v2m0 11v1m1-320v4m0 10v2m0 3v2m0 12v2m0 11v1m0 3v1m0 135v1m0 25v2m0 12v2m0 1v1m0 11v2m0 24v1m0 24v2m0 12v2m0 4v1m0 12v2m0 2v4m0 3v4m1-330v2m0 6v1m0 25v2m0 12v1m0 16v2m0 10v4m0 102v1m0 4v1m0 17v3m0 17v2m0 4v3m0 6v1m0 8v2m0 1v1m0 29v2m0 13v2m0 34v2m1-397v2m0 60v2m0 31v1m0 20v2m0 22v2m0 101v1m0 24v2m0 10v1m0 22v2m0 20v2m0 9v1m0 5v1m0 13v1m0 15v1m0 14v2m1-328v2m0 1v1m0 23v1m0 14v1m0 14v2m0 2v1m0 15v1m0 10v2m0 95v1m0 28v1m0 5v2m0 8v1m0 52v2m1-283v4m0 39v1m0 3v2m0 27v1m0 3v2m0 25v2m0 72v2m0 1v2m0 17v2m0 6v1m0 5v1m0 3v2m0 59v2m0 12v1m0 1v1m1-369v2m0 57v4m0 8v1m0 14v2m0 10v1m0 1v1m0 50v1m0 8v1m0 85v1m0 43v1m0 2v1m0 6v1m0 6v1m0 6v3m0 9v3m0 9v2m0 12v1m1-267v2m0 17v1m0 11v4m0 21v2m0 11v2m0 1v3m0 67v1m0 27v2m0 36v1m0 16v3m0 9v1m0 3v1m1-281v3m0 86v1m0 7v2m0 104v1m0 5v1m0 43v2m1-248v2m0 79v2m0 8v1m0 4v1m0 15v2m0 64v1m0 3v1m0 11v2m0 4v2m0 9v2m0 14v1m0 2v1m0 51v2m1-228v2m0 33v2m0 10v1m0 11v2m0 32v1m0 11v1m0 33v1m0 35v1m0 13v1m0 24v1m0 33v2m1-261v2m0 3v1m0 9v1m0 4v1m0 14v2m0 8v2m0 3v1m0 12v1m0 4v2m0 34v1m0 3v1m0 4v1m0 19v1m0 6v1m0 16v4m0 25v1m0 8v1m0 4v2m0 37v1m1-291v2m0 15v1m0 19v2m0 2v1m0 23v2m0 4v1m0 9v1m0 10v1m0 15v1m0 19v2m0 3v2m0 17v1m0 3v2m0 34v1m0 16v1m0 22v1m0 3v2m1-207v2m0 4v2m0 6v2m0 8v1m0 22v2m0 20v2m0 13v2m0 2v2m0 12v2m0 20v1m0 26v3m0 56v2m0 23v1m1-251v2m0 7v2m0 4v1m0 30v2m0 1v2m0 12v2m0 8v1m0 19v1m0 7v2m0 11v3m0 5v1m0 2v2m0 26v1m0 11v1m0 4v1m0 10v1m0 32v1m0 14v1m0 3v2m1-225v2m0 9v3m0 2v1m0 16v2m0 15v1m0 3v4m0 2v1m0 7v1m0 22v1m0 18v1m0 20v2m0 33v1m0 2v1m0 4v2m0 31v2m1-196v2m0 34v2m0 2v2m0 14v3m0 13v3m0 27v2m0 1v2m0 2v1m0 10v2m0 6v1m0 6v1m0 3v1m0 2v2m0 8v2m0 12v1m0 17v1m1-180v2m0 3v1m0 3v1m0 30v2m0 22v1m0 4v1m0 9v2m0 22v2m0 5v1m0 9v1m0 4v1m0 1v1m0 4v1m0 4v1m0 12v2m0 1v2m0 1v1"/>
<path stroke="#0b00f9" d="M0 143v2m0 8v2m0 161v2m0 8v2m0 4v1m0 23v2m0 20v3m0 4v2m0 11v1m0 11v2m0 2v2m0 2v1m0 5v2m0 59v2m0 13v2m1-365v1m0 2v2m0 2v1m0 20v2m0 7v1m0 85v1m0 1v2m0 69v2m0 55v1m0 7v2m0 10v2m0 28v2m0 2v2m0 57v3m1-407v2m0 6v1m0 10v2m0 21v2m0 1v1m0 19v1m0 72v1m0 29v1m0 58v1m0 2v1m0 8v2m0 5v3m0 55v1m0 2v4m0 6v2m0 25v3m0 9v1m0 39v2m0 11v3m1-434v2m0 16v2m0 2v1m0 2v2m0 20v1m0 17v2m0 20v2m0 4v2m0 12v1m0 25v1m0 57v2m0 69v1m0 2v1m0 1v1m0 41v2m0 7v2m0 9v2m0 81v3m1-409v2m0 9v1m0 3v2m0 6v1m0 14v2m0 24v2m0 5v2m0 26v1m0 54v1m0 35v1m0 8v2m0 93v2m0 24v1m0 10v1m0 29v1m0 27v2m0 29v1m1-385v1m0 31v1m0 22v1m0 13v2m0 25v2m0 34v1m0 23v2m0 2v1m0 2v2m0 122v2m0 5v4m0 7v2m0 59v3m1-374v1m0 1v1m0 22v2m0 18v2m0 2v2m0 28v2m0 90v1m0 4v2m0 64v1m0 3v1m0 25v1m0 13v1m0 92v2m1-380v4m0 5v2m0 23v2m0 9v2m0 131v1m0 7v2m0 96v2m0 12v2m0 6v2m0 32v2m0 4v2m1-311v2m0 11v1m0 2v2m0 46v2m0 73v1m0 95v1m0 5v2m0 2v2m0 9v2m0 11v2m0 15v1m0 32v1m0 15v3m1-402v2m0 11v1m0 36v2m0 4v2m0 5v2m0 19v1m0 113v2m0 165v2m1-336v2m0 33v2m0 11v2m0 11v1m0 105v2m0 10v1m0 108v1m0 20v2m0 26v4m0 32v3m1-404v2m0 1v1m0 1v1m0 39v2m0 15v1m0 19v1m0 8v1m0 2v2m0 12v2m0 73v2m0 2v2m0 1v4m0 7v1m0 100v2m0 9v1m0 14v1m0 7v1m0 22v2m0 31v2m1-410v2m0 41v2m0 2v1m0 18v2m0 22v2m0 6v1m0 92v3m0 13v1m0 11v1m0 22v2m0 1v1m0 4v1m0 6v1m0 157v2m1-398v2m0 40v4m0 28v2m0 17v2m0 73v2m0 10v2m0 17v1m0 13v2m0 12v1m0 9v1m0 9v1m0 11v1m0 65v2m0 44v1m0 17v3m1-420v2m0 30v2m0 58v2m0 6v2m0 5v2m0 12v1m0 95v1m0 4v2m0 4v1m0 6v2m0 7v2m0 15v2m0 15v1m0 6v1m0 12v2m0 52v2m0 2v1m0 2v2m0 25v2m1-365v2m0 13v1m0 27v2m0 34v2m0 9v2m0 30v2m0 66v2m0 1v1m0 1v1m0 7v2m0 9v1m0 6v1m0 10v2m0 1v1m0 2v1m0 19v1m0 12v2m0 6v2m0 85v1m0 19v3m1-398v2m0 7v5m0 14v2m0 21v1m0 16v2m0 28v2m0 2v1m0 85v1m0 6v3m0 9v1m0 49v2m0 3v1m0 3v2m0 69v2m0 14v2m0 27v3m0 19v2m1-378v2m0 2v1m0 12v1m0 27v2m0 2v1m0 113v2m0 14v1m0 5v1m0 21v2m0 4v1m0 10v2m0 28v2m0 13v1m0 12v2m0 28v2m0 5v1m0 66v2m1-404v2m0 7v1m0 21v2m0 29v1m0 11v1m0 94v1m0 11v1m0 24v1m0 7v2m0 12v1m0 33v1m0 4v1m0 21v2m0 5v1m0 6v1m0 3v2m0 86v1m1-328v2m0 107v1m0 4v1m0 6v2m0 6v1m0 20v2m0 105v2m1-296v2m0 33v2m0 8v2m0 109v1m0 45v1m0 7v3m0 17v2m0 5v1m0 16v1m0 1v1m0 2v1m0 5v1m0 2v3m0 41v3m0 44v3m0 3v4m1-392v2m0 76v2m0 94v3m0 13v1m0 16v2m0 2v1m0 22v1m0 23v1m0 16v3m0 17v2m0 10v1m0 3v1m0 1v2m0 2v1m0 78v2m1-416v2m0 33v1m0 22v1m0 12v1m0 2v1m0 19v1m0 93v1m0 16v1m0 33v2m0 12v4m0 4v1m0 2v1m0 6v2m0 13v2m0 54v1m0 11v2m0 32v2m0 7v2m1-411v2m0 14v3m0 5v1m0 5v2m0 22v2m0 34v2m0 9v1m0 2v1m0 3v2m0 2v2m0 58v1m0 45v1m0 4v2m0 22v1m0 6v2m0 7v1m0 14v1m0 3v2m0 36v1m0 2v1m0 2v2m0 12v2m0 11v2m0 23v2m0 9v2m1-373v1m0 44v1m0 35v4m0 15v2m0 89v2m0 16v1m0 28v2m0 5v1m0 15v1m0 10v1m0 1v1m0 9v2m0 24v2m0 15v2m0 6v2m0 26v2m0 28v2m0 5v1m0 3v2m0 2v5m1-425v2m0 19v2m0 1v1m0 46v1m0 134v3m0 9v2m0 4v4m0 2v1m0 3v2m0 10v2m0 43v1m0 32v2m0 9v2m0 87v1m1-494v1m0 74v2m0 21v2m0 17v2m0 2v1m0 4v2m0 1v1m0 22v1m0 9v2m0 81v1m0 35v3m0 3v2m0 4v2m0 1v1m0 1v1m0 14v1m0 2v2m0 20v1m0 3v3m0 7v2m0 3v1m0 26v1m0 91v2m0 23v2m1-420v1m0 4v3m0 7v2m0 14v1m0 3v2m0 1v2m0 27v1m0 15v2m0 96v1m0 7v1m0 22v1m0 22v2m0 6v1m0 3v1m0 7v1m0 6v3m0 4v5m0 14v2m0 25v2m0 53v1m0 4v2m0 47v3m1-439v2m0 10v2m0 12v1m0 22v2m0 11v2m0 31v1m0 118v1m0 5v1m0 4v4m0 4v2m0 10v3m0 6v1m0 23v1m0 14v2m0 3v2m0 10v1m0 15v4m0 36v1m0 2v1m0 19v2m1-467v4m0 63v4m0 10v2m0 3v1m0 8v1m0 17v2m0 47v2m0 114v2m0 8v2m0 2v1m0 2v2m0 22v2m0 19v1m0 1v1m0 10v2m0 13v2m0 4v1m0 2v3m0 2v2m0 15v2m0 4v3m0 5v1m0 10v2m0 9v2m0 60v2m1-421v1m0 4v2m0 9v1m0 73v2m0 125v1m0 12v1m0 1v2m0 7v1m0 8v2m0 28v1m0 5v2m0 7v1m0 32v2m0 14v2m0 73v2m1-429v2m0 13v2m0 86v3m0 4v1m0 122v2m0 18v2m0 8v1m0 8v1m0 7v1m0 9v2m0 1v1m0 3v1m0 9v2m0 9v2m0 17v2m0 9v2m0 41v2m0 31v3m0 15v3m1-430v2m0 6v2m0 31v1m0 5v1m0 12v1m0 29v1m0 116v1m0 31v1m0 28v1m0 4v1m0 18v2m0 6v1m0 10v1m0 6v1m1-273v1m0 2v2m0 8v1m0 17v1m0 4v2m0 6v2m0 116v2m0 4v1m0 1v1m0 14v2m0 7v1m0 5v2m0 2v2m0 4v2m0 1v5m0 8v1m0 19v2m0 16v2m0 50v2m0 49v3m0 10v3m1-430v4m0 42v2m0 7v1m0 26v7m0 129v2m0 24v1m0 18v1m0 9v1m0 18v1m0 6v1m0 14v1m0 16v1m0 25v2m1-338v2m0 20v1m0 30v1m0 4v2m0 5v2m0 120v1m0 22v2m0 8v2m0 31v2m0 5v1m0 6v1m0 14v1m1-302v2m0 5v2m0 216v1m0 1v2m0 10v1m0 14v2m0 7v1m0 13v1m0 12v2m0 26v1m0 42v1m1-450v2m0 84v2m0 43v2m0 23v2m0 13v4m0 99v2m0 32v2m0 7v2m0 15v1m0 8v1m0 32v1m0 15v3m0 9v1m0 3v2m0 96v2m1-419v1m0 24v1m0 12v1m0 149v1m0 4v1m0 28v2m0 20v2m0 22v4m0 23v2m0 16v1m0 52v2m0 43v2m0 7v3m1-432v6m0 17v2m0 21v2m0 19v1m0 5v2m0 15v3m0 2v2m0 99v1m0 16v2m0 27v1m0 1v2m0 7v2m0 32v2m0 10v2m0 32v2m0 101v2m1-497v2m0 50v2m0 7v2m0 4v4m0 83v2m0 109v1m0 14v1m0 43v1m0 10v2m0 18v1m0 8v2m0 2v1m0 7v2m0 10v1m0 95v3m1-411v1m0 74v4m0 109v1m0 5v1m0 27v2m0 22v1m0 19v1m0 2v3m0 6v1m0 16v1m0 22v2m1-346v1m0 54v2m0 5v1m0 10v1m0 26v2m0 115v2m0 12v1m0 45v1m0 5v1m0 6v1m0 22v2m0 42v2m1-351v2m0 3v2m0 4v2m0 185v2m0 12v1m0 13v2m0 7v2m0 35v1m0 6v2m0 8v2m0 1v2m0 2v2m0 1v1m0 2v1m0 3v1m0 14v2m1-395v1m0 75v2m0 49v1m0 32v1m0 154v2m0 32v4m0 5v1m0 23v1m0 25v2m0 80v2m0 15v3m0 6v3m1-453v1m0 8v1m0 300v2m0 8v2m0 12v1m0 100v3m1-507v3m0 68v4m0 6v2m0 87v2m0 101v1m0 5v1m0 2v1m0 54v2m0 26v1m0 7v1m0 6v2m0 8v2m0 18v2m0 31v1m0 57v2m1-494v3m0 53v4m0 8v1m0 2v2m0 3v4m0 62v1m0 142v1m0 12v2m0 23v2m0 29v1m0 4v1m0 7v2m0 16v2m1-400v1m0 90v2m0 5v1m0 26v2m0 9v2m0 147v1m0 48v1m0 4v2m0 36v1m0 8v2m0 14v2m1-342v3m0 7v2m0 2v2m0 2v4m0 85v2m0 123v1m0 34v1m0 53v2m0 127v2m1-512v2m0 8v1m0 64v4m0 7v2m0 36v4m0 3v2m0 40v1m0 102v2m0 7v1m0 21v2m0 7v1m0 15v1m0 3v2m0 6v1m0 4v2m0 13v1m0 5v1m0 2v1m0 7v3m0 9v1m0 2v1m0 113v2m1-447v2m0 21v4m0 77v2m0 96v2m0 65v1m0 33v2m0 11v2m0 16v2m0 2v1m1-376v3m0 32v2m0 9v1m0 4v1m0 45v2m0 170v1m0 48v1m0 17v3m0 15v1m0 32v2m1-345v3m0 119v1m0 74v2m0 40v1m0 5v1m0 21v2m0 23v1m0 4v2m0 25v2m0 37v1m0 64v2m0 13v3m1-514v3m0 106v1m0 17v1m0 38v2m0 208v1m0 11v1m0 2v2m0 3v1m0 17v2m0 106v3m1-528v2m0 73v1m0 7v1m0 4v4m0 30v2m0 6v2m0 186v2m0 1v1m0 12v1m1-311v2m0 46v2m0 231v1m0 1v1m0 18v1m0 35v1m0 39v1m0 102v5m0 6v2m1-435v2m0 6v1m0 5v2m0 23v1m0 4v1m0 91v2m0 29v1m0 2v1m0 3v1m0 15v1m0 9v1m0 10v2m0 25v2m0 19v1m0 30v2m0 2v1m0 2v2m0 27v2m0 5v1m1-416v2m0 75v2m0 42v2m0 66v2m0 46v2m0 21v2m0 85v1m0 32v2m0 1v2m0 17v2m0 4v2m0 16v1m0 18v2m1-374v3m0 1v1m0 1v2m0 4v1m0 159v1m0 14v1m0 11v2m0 1v2m0 96v1m0 18v1m0 14v1m0 101v2m1-438v2m0 17v2m0 172v2m0 10v2m0 8v1m0 1v2m0 28v1m0 32v2m0 11v1m0 2v1m0 2v2m0 20v2m1-335v1m0 4v2m0 53v1m0 164v2m0 5v1m0 2v2m0 8v1m0 176v2m0 21v2m1-437v2m0 2v1m0 6v2m0 41v2m0 11v2m0 163v1m0 21v1m0 8v2m0 21v1m0 10v1m0 9v2m0 24v2m0 103v2m1-507v3m0 10v2m0 48v2m0 22v2m0 29v1m0 34v1m0 17v2m0 106v2m0 25v1m0 12v2m0 21v1m0 25v2m0 31v2m0 8v2m0 88v3m1-429v3m0 5v2m0 38v2m0 144v1m0 75v1m0 24v3m0 94v2m1-346v2m0 154v2m0 6v1m0 57v2m0 22v2m0 5v1m0 4v2m0 7v2m1-324v1m0 1v1m0 11v2m0 83v1m0 13v2m0 1v2m0 103v2m0 31v2m0 15v2m0 5v1m0 12v1m0 6v1m0 6v2m0 8v2m0 2v2m0 97v3m1-497v2m0 92v2m0 187v2m0 58v1m0 10v2m0 18v1m0 18v1m0 14v2m0 1v2m0 5v2m0 84v3m0 4v3m1-437v2m0 49v2m0 174v2m0 13v2m0 14v2m0 31v1m0 1v1m0 21v2m0 13v1m0 100v2m1-510v2m0 88v4m0 30v2m0 7v2m0 43v2m0 12v1m0 141v1m0 7v2m0 14v2m0 36v1m0 52v2m0 50v3m1-417v2m0 10v2m0 47v2m0 120v2m0 13v2m0 5v1m0 1v2m0 40v1m0 4v1m0 4v2m0 8v1m0 3v2m0 2v1m0 3v1m0 12v1m0 27v2m0 3v2m0 57v2m0 37v3m1-491v3m0 46v2m0 10v2m0 194v1m0 3v2m0 5v1m0 13v1m0 6v1m0 8v2m0 32v1m0 4v2m0 2v2m0 22v1m0 14v1m0 7v1m0 5v1m0 82v2m1-447v2m0 36v1m0 33v1m0 46v1m0 84v2m0 12v2m0 53v1m0 3v1m0 8v2m0 27v1m0 19v1m0 4v1m0 106v2m1-421v2m0 2v2m0 41v2m0 163v1m0 18v2m0 1v2m0 21v1m0 24v2m0 55v2m0 43v2m1-395v1m0 22v2m0 23v4m0 157v2m0 39v1m0 15v2m0 9v2m0 26v1m0 9v4m0 4v2m0 10v1m1-409v2m0 81v1m0 10v2m0 3v1m0 30v2m0 3v2m0 36v2m0 110v1m0 17v1m0 1v2m0 8v2m0 1v1m0 16v2m0 28v1m0 17v3m0 8v2m0 30v2m0 60v2m0 5v2m0 5v2m1-430v2m0 2v2m0 4v2m0 38v1m0 11v2m0 21v2m0 10v1m0 110v2m0 14v1m0 33v1m0 24v2m0 13v1m0 21v1m0 15v2m0 43v2m0 22v2m0 11v3m1-421v2m0 46v1m0 9v1m0 43v2m0 115v1m0 12v2m0 18v1m0 2v1m0 1v2m0 15v1m0 1v2m0 7v1m0 20v1m0 8v2m0 6v2m0 5v4m0 15v2m0 73v1m1-480v2m0 48v2m0 97v2m0 146v1m0 5v2m0 5v1m0 15v2m0 13v2m0 8v1m0 2v2m0 15v3m0 7v2m0 6v1m0 12v3m0 88v2m1-430v2m0 41v1m0 2v2m0 6v1m0 31v3m0 2v1m0 108v1m0 5v1m0 12v1m0 28v2m0 7v1m0 11v2m0 7v1m0 43v1m0 13v1m0 89v3m1-380v2m0 159v1m0 37v4m0 18v1m0 14v4m0 4v2m0 22v1m0 117v2m1-453v3m0 14v2m0 10v2m0 89v2m0 98v1m0 4v2m0 10v1m0 3v2m0 16v1m0 20v2m0 3v1m0 4v2m0 6v2m0 32v1m0 8v2m0 78v2m1-410v2m0 4v2m0 2v2m0 2v1m0 70v2m0 3v2m0 116v2m0 12v1m0 8v1m0 28v2m0 3v1m0 2v3m0 2v2m0 45v1m0 3v2m0 85v2m1-484v2m0 84v2m0 28v1m0 1v2m0 38v1m0 111v2m0 13v1m0 20v1m0 7v1m0 7v1m0 6v1m0 18v2m0 4v2m0 3v2m0 10v2m0 8v2m0 17v1m0 32v2m0 58v4m1-501v2m0 57v2m0 13v1m0 47v1m0 7v2m0 148v2m0 6v1m0 7v2m0 6v2m0 10v1m0 44v2m0 33v2m0 4v2m0 35v2m0 25v2m0 28v3m1-446v2m0 12v2m0 24v2m0 6v1m0 16v2m0 214v1m0 51v2m0 30v2m0 44v2m1-466v3m0 62v2m0 16v3m0 82v2m0 112v1m0 20v2m0 36v1m0 6v4m0 3v1m0 2v3m0 2v1m0 1v2m0 11v1m0 3v1m0 90v2m1-407v2m0 51v4m0 22v2m0 123v1m0 40v1m0 16v3m0 2v1m0 3v1m0 7v2m0 18v1m0 8v1m0 6v2m0 91v1m0 19v3m1-433v2m0 99v3m0 80v2m0 21v1m0 13v2m0 9v2m0 4v2m0 6v1m0 2v1m0 16v1m0 2v2m0 14v2m0 6v1m0 1v2m0 20v2m0 2v1m0 19v2m0 1v2m1-336v2m0 41v1m0 2v2m0 160v1m0 20v3m0 1v3m0 3v1m0 8v1m0 19v1m0 18v1m0 3v1m0 5v1m0 5v3m0 6v1m0 58v2m0 14v2m0 14v3m1-486v3m0 283v3m0 7v2m0 34v1m0 12v2m0 33v2m0 10v1m0 2v2m0 9v1m0 41v2m0 18v2m0 12v4m1-399v1m0 81v2m0 121v1m0 5v2m0 29v1m0 1v1m0 20v1m0 5v1m0 7v2m0 10v1m0 17v2m0 29v1m1-366v3m0 16v1m0 42v2m0 38v2m0 121v2m0 7v2m0 1v1m0 12v2m0 3v2m0 5v2m0 4v2m0 6v1m0 2v2m0 8v2m0 2v2m0 24v1m0 2v1m0 7v1m0 13v2m0 31v2m0 19v2m1-437v2m0 57v2m0 1v1m0 35v4m0 7v1m0 173v2m0 2v1m0 5v1m0 1v1m0 7v1m0 2v1m0 1v1m0 13v3m0 16v2m0 34v2m0 6v1m0 26v2m0 10v2m0 31v3m1-482v2m0 79v1m0 31v1m0 4v1m0 7v1m0 185v2m0 2v2m0 8v1m0 35v2m0 3v1m0 7v1m0 9v1m0 2v1m0 11v2m0 5v2m0 15v2m0 55v1m1-474v2m0 56v1m0 6v2m0 2v2m0 60v1m0 25v2m0 2v1m0 102v1m0 26v2m0 20v1m0 28v2m0 3v2m0 31v1m0 12v2m0 9v1m0 4v2m0 11v1m0 14v2m0 5v3m1-371v2m0 42v2m0 35v3m0 3v1m0 106v3m0 11v1m0 4v2m0 3v2m0 7v5m0 1v2m0 3v2m0 2v2m0 15v1m0 13v2m0 1v1m0 14v1m0 1v2m0 4v2m0 3v1m0 11v2m0 6v4m0 10v2m0 9v2m0 28v2m1-399v2m0 8v2m0 81v2m0 2v1m0 6v1m0 99v2m0 3v1m0 5v1m0 3v1m0 8v1m0 1v2m0 5v1m0 6v2m0 2v2m0 10v2m0 29v2m0 9v1m0 59v2m0 2v1m0 15v2m0 16v2m1-389v2m0 83v1m0 1v2m0 2v1m0 147v2m0 6v1m0 7v1m0 54v2m0 7v1m0 7v2m0 7v1m0 4v2m0 14v2m0 33v1m1-473v2m0 20v2m0 146v1m0 6v2m0 105v2m0 9v2m0 15v1m0 10v1m0 5v1m0 29v3m0 33v2m0 11v2m0 16v1m0 9v2m1-362v1m0 3v5m0 42v1m0 19v1m0 20v2m0 114v1m0 16v1m0 2v1m0 1v1m0 4v2m0 10v1m0 3v2m0 16v4m0 8v1m0 57v2m1-357v1m0 30v2m0 71v2m0 125v1m0 8v1m0 3v2m0 2v1m0 2v2m0 13v1m0 16v1m0 5v1m0 39v2m0 10v1m1-336v2m0 2v3m0 1v1m0 6v4m0 33v2m0 48v2m0 88v1m0 1v1m0 16v2m0 17v1m0 13v2m0 5v1m0 5v2m0 6v2m0 10v1m0 2v1m0 1v1m0 51v3m0 16v1m0 2v2m0 8v2m1-364v2m0 4v2m0 20v1m0 21v3m0 159v3m0 14v1m0 6v3m0 10v1m0 12v1m0 8v2m0 1v2m0 5v3m0 13v3m0 24v2m0 8v1m0 1v1m0 4v1m0 1v1m1-316v2m0 13v2m0 152v1m0 3v3m0 13v1m0 6v1m0 1v2m0 1v2m0 4v1m0 52v1m0 2v2m0 33v3m0 18v1m1-335v2m0 69v2m0 112v2m0 6v1m0 47v3m0 19v2m0 3v1m0 16v2m0 7v2m0 39v2m1-347v2m0 32v1m0 152v1m0 17v3m0 11v1m0 9v1m0 17v2m0 13v3m0 6v2m0 17v1m0 35v2m0 10v2m1-331v2m0 35v2m0 17v2m0 22v2m0 13v2m0 90v2m0 2v1m0 3v1m0 4v2m0 2v3m0 23v2m0 8v1m0 18v1m0 4v1m0 1v1m0 19v1m0 7v3m0 2v1m0 23v1m1-330v2m0 2v2m0 5v2m0 17v1m0 24v1m0 133v2m0 1v2m0 10v1m0 16v3m0 21v2m0 18v2m0 4v2m0 39v2m0 28v2m1-332v2m0 25v2m0 9v2m0 21v2m0 5v2m0 42v2m0 22v1m0 18v2m0 3v2m0 25v2m0 13v1m0 13v1m0 18v1m0 3v2m0 12v2m0 8v2m0 17v1m0 2v1m1-293v2m0 5v2m0 2v2m0 25v3m0 7v1m0 129v2m0 9v2m0 7v1m0 29v2m0 13v2m0 26v1m0 5v1m0 5v2m1-284v2m0 11v4m0 63v1m0 8v2m0 92v2m0 4v1m0 13v1m0 10v1m0 19v1m0 5v3m0 6v1m0 22v2m1-360v3m0 94v2m0 7v2m0 7v2m0 4v1m0 2v2m0 16v4m0 23v2m0 11v1m0 40v2m0 8v1m0 33v1m0 7v1m0 7v2m0 8v2m0 8v1m0 6v2m0 2v3m0 41v1m0 7v2m0 19v2m1-367v2m0 74v2m0 30v1m0 8v2m0 18v1m0 30v1m0 77v1m0 11v1m0 29v2m0 2v2m0 10v3m0 8v2m0 13v2m0 5v2m0 6v2m1-299v2m0 28v1m0 2v2m0 7v1m0 28v1m0 28v2m0 6v2m0 26v2m0 16v2m0 2v2m0 46v1m0 10v1m0 36v1m0 49v1m0 2v1m1-302v2m0 9v1m0 7v2m0 5v2m0 26v1m0 13v2m0 30v2m0 16v2m0 17v1m0 35v1m0 12v1m0 4v3m0 16v1m0 1v2m0 4v2m0 9v2m0 9v1m0 15v2m0 2v1m0 17v2m1-265v2m0 29v2m0 5v2m0 6v1m0 28v1m0 2v2m0 3v2m0 7v1m0 19v1m0 2v1m0 3v1m0 31v2m0 15v1m0 26v1m0 5v2m0 7v1m1-195v1m0 38v1m0 5v2m0 7v1m0 2v1m0 4v1m0 7v1m0 70v2m0 13v1m0 8v2m0 69v1m1-260v1m0 4v4m0 2v1m0 11v1m0 13v1m0 2v2m0 34v2m0 4v1m0 2v2m0 5v1m0 12v4m0 6v2m0 24v1m0 31v1m0 11v1m0 6v2m0 38v1m1-230v2m0 2v2m0 19v4m0 14v2m0 29v3m0 17v1m0 3v1m0 8v2m0 4v1m0 6v2m0 25v1m0 31v2m0 27v2m0 23v2m1-236v2m0 2v2m0 65v1m0 3v2m0 7v1m0 27v1m0 14v1m0 32v1m0 1v1m0 10v2m0 3v1m0 8v3"/>
<path stroke="#0012ff" d="M0 141v2m0 19v1m0 8v2m0 2v4m0 51v1m0 68v2m0 2v2m0 20v1m0 3v1m0 25v1m0 10v1m0 25v1m0 33v2m0 22v2m0 35v2m0 15v3m0 3v3m1-432v2m0 56v1m0 15v2m0 110v1m0 52v2m0 9v2m0 8v2m0 5v2m0 15v1m0 14v1m0 1v1m0 2v2m0 21v2m0 4v1m0 83v2m0 6v2m1-416v1m0 20v2m0 43v2m0 9v2m0 5v1m0 3v1m0 1v2m0 85v2m0 3v1m0 52v1m0 2v1m0 90v4m0 37v3m1-359v1m0 12v2m0 13v2m0 21v1m0 8v2m0 99v1m0 6v2m0 58v1m0 49v2m0 5v2m0 6v2m0 15v2m0 33v2m0 4v2m0 41v3m1-428v2m0 27v2m0 13v1m0 5v2m0 13v2m0 26v2m0 182v1m0 3v1m0 53v2m0 86v5m1-409v1m0 1v2m0 8v2m0 25v2m0 3v1m0 2v1m0 14v2m0 106v1m0 111v1m0 13v2m0 3v1m0 110v2m1-406v1m0 1v1m0 12v2m0 18v2m0 7v2m0 28v1m0 53v2m0 37v1m0 83v3m0 19v1m0 22v2m0 108v3m1-427v1m0 2v3m0 24v1m0 67v2m0 89v1m0 2v2m0 4v1m0 1v2m0 4v3m0 80v3m0 1v2m0 16v1m0 5v1m0 4v2m0 89v2m1-412v2m0 13v2m0 4v2m0 7v6m0 15v2m0 5v2m0 2v2m0 39v1m0 84v1m0 25v1m0 6v1m0 63v2m0 30v2m0 10v2m0 48v2m0 35v2m0 3v2m1-508v2m0 5v2m0 75v2m0 27v4m0 62v1m0 109v2m0 96v2m0 6v1m0 3v1m0 2v3m0 3v1m0 81v3m1-411v2m0 10v2m0 37v3m0 31v3m0 7v1m0 94v1m0 28v3m0 4v1m0 1v1m0 93v1m0 4v2m0 5v1m0 48v1m0 32v3m1-428v2m0 18v1m0 6v1m0 26v2m0 3v1m0 7v1m0 33v1m0 114v1m0 2v1m0 3v2m0 10v2m0 7v2m0 86v1m0 3v1m0 6v1m0 80v2m1-415v2m0 7v1m0 60v2m0 12v2m0 14v1m0 70v2m0 30v1m0 10v3m0 1v2m0 3v1m0 2v2m0 9v1m0 85v2m0 86v2m1-431v2m0 2v2m0 28v2m0 53v1m0 20v3m0 96v2m0 19v1m0 1v2m0 7v2m0 14v1m0 28v1m0 63v1m0 4v2m0 8v1m0 62v2m1-428v2m0 6v1m0 12v2m0 26v1m0 21v1m0 20v1m0 5v1m0 1v2m0 108v3m0 4v1m0 12v1m0 6v1m0 21v1m0 2v3m0 101v2m0 51v2m0 2v5m1-407v1m0 64v2m0 12v1m0 119v2m0 2v1m0 19v1m0 3v1m0 12v1m0 30v1m0 2v1m0 11v1m0 50v2m0 16v2m0 5v2m1-455v3m0 68v3m0 56v1m0 56v1m0 112v1m0 4v1m0 10v1m0 4v1m0 5v1m0 13v1m0 3v1m0 5v1m0 6v1m0 2v3m0 8v1m0 10v2m0 38v2m0 45v2m0 19v4m0 3v2m1-429v2m0 40v1m0 12v2m0 51v1m0 95v1m0 6v1m0 5v2m0 7v1m0 12v1m0 17v2m0 17v1m0 30v1m0 7v2m0 63v2m0 3v2m1-455v2m0 67v2m0 5v2m0 7v2m0 13v2m0 7v2m0 64v2m0 91v1m0 8v1m0 16v1m0 3v4m0 17v2m0 8v1m0 4v1m0 6v2m0 11v1m0 3v2m0 4v2m0 53v1m0 9v1m1-364v2m0 14v2m0 2v1m0 39v2m0 139v2m0 1v1m0 27v1m0 12v3m0 5v1m0 1v1m0 5v1m0 2v2m0 10v3m0 6v2m0 15v1m0 6v1m0 2v2m0 3v1m0 6v4m0 41v2m0 19v2m0 29v3m1-368v2m0 37v1m0 5v2m0 2v2m0 95v2m0 8v1m0 11v1m0 10v2m0 5v1m0 28v3m0 1v3m0 16v3m0 3v1m0 10v2m0 15v2m0 5v2m0 5v2m0 38v2m1-387v3m0 13v1m0 30v2m0 178v2m0 3v2m0 21v2m0 9v1m0 8v2m0 10v1m0 2v2m0 23v1m0 5v1m0 18v1m1-381v3m0 59v2m0 5v2m0 19v1m0 16v2m0 24v2m0 112v2m0 9v2m0 3v1m0 7v3m0 7v1m0 36v2m0 4v1m0 10v1m0 2v2m0 6v1m0 9v1m0 1v3m0 14v1m0 12v1m0 41v1m0 20v2m0 10v3m0 2v2m1-488v3m0 73v2m0 5v1m0 80v2m0 101v1m0 8v2m0 3v1m0 2v1m0 4v2m0 3v2m0 4v1m0 12v1m0 1v1m0 7v2m0 4v2m0 15v2m0 3v2m0 7v1m0 12v3m0 14v2m0 13v3m0 2v1m0 71v4m0 2v3m1-485v2m0 51v1m0 99v2m0 85v1m0 19v2m0 13v3m0 7v2m0 8v2m0 12v3m0 9v2m0 17v1m0 6v1m0 3v2m0 2v1m0 30v2m0 4v1m0 6v2m0 79v2m1-416v2m0 11v2m0 81v5m0 116v1m0 21v1m0 25v3m0 1v1m0 3v4m0 30v1m0 10v2m0 108v1m1-481v2m0 45v2m0 11v2m0 85v1m0 121v1m0 6v1m0 16v2m0 10v1m0 22v1m0 8v1m0 8v2m0 1v2m0 4v2m0 4v1m0 5v3m1-398v2m0 128v2m0 39v1m0 5v1m0 100v1m0 6v1m0 7v2m0 22v1m0 13v2m0 3v1m0 45v1m0 18v2m0 7v4m0 2v2m0 81v7m0 1v2m0 3v2m1-442v2m0 8v1m0 1v2m0 2v2m0 7v1m0 37v2m0 9v2m0 151v2m0 13v1m0 5v1m0 29v3m0 27v2m0 5v1m0 1v2m0 10v2m1-390v2m0 76v2m0 24v1m0 13v2m0 14v1m0 11v1m0 14v1m0 102v1m0 11v1m0 3v1m0 12v1m0 2v2m0 20v1m0 131v1m0 52v2m1-429v2m0 34v2m0 32v2m0 11v1m0 110v1m0 9v1m0 43v1m0 15v2m0 9v2m0 24v2m1-314v2m0 5v2m0 13v2m0 9v2m0 21v1m0 151v3m0 8v1m0 2v2m0 7v2m0 31v1m0 8v1m0 2v1m0 13v1m0 6v1m0 5v1m0 5v1m0 8v1m0 19v1m0 22v2m0 53v2m1-427v2m0 7v2m0 203v2m0 16v1m0 1v4m0 13v1m0 7v1m0 27v2m0 16v1m0 16v1m0 100v2m1-476v2m0 42v3m0 20v2m0 60v2m0 14v1m0 11v2m0 3v2m0 117v1m0 10v1m0 2v2m0 20v1m0 3v2m0 28v1m0 2v2m0 9v1m0 6v1m0 8v2m0 10v1m0 6v1m1-289v2m0 46v2m0 115v2m0 18v2m0 6v1m0 10v4m0 52v2m0 1v1m0 105v2m1-415v2m0 6v2m0 32v1m0 47v1m0 133v1m0 4v2m0 13v2m0 2v2m0 22v2m0 5v2m0 1v2m0 24v2m0 15v1m0 49v3m1-458v2m0 116v2m0 39v1m0 13v2m0 127v1m0 5v1m0 2v1m0 7v2m0 1v2m0 10v1m0 11v1m0 86v2m1-366v1m0 1v6m0 94v1m0 121v2m0 36v3m0 2v1m0 23v2m0 15v1m0 31v2m0 20v2m0 58v2m0 9v2m1-194v2m0 44v1m0 7v2m0 18v2m0 21v2m0 87v2m1-489v2m0 69v1m0 8v1m0 16v2m0 65v1m0 139v1m0 6v2m0 16v2m0 164v3m1-429v1m0 2v1m0 45v1m0 14v2m0 185v1m0 42v1m0 26v2m1-318v1m0 34v1m0 63v1m0 94v2m0 30v1m0 30v2m0 12v2m0 16v1m0 26v1m1-334v1m0 2v6m0 49v2m0 31v2m0 11v2m0 154v1m0 48v1m0 129v3m1-512v1m0 17v2m0 40v4m0 5v2m0 15v2m0 198v2m0 49v1m0 14v2m0 143v2m0 16v2m1-346v4m0 110v1m0 76v1m0 164v2m1-523v3m0 10v2m0 42v2m0 303v2m0 17v2m0 13v1m1-395v3m0 14v4m0 35v2m0 62v3m0 180v2m1-239v1m0 96v2m0 344v2m1-437v1m0 16v1m0 147v1m0 102v1m0 3v1m1 15v1m0 4v1m0 26v2m0 3v2m0 98v3m0 7v2m1-389v1m0 194v1m0 5v1m0 1v2m0 18v2m0 21v1m0 147v2m1-451v2m0 4v1m0 47v3m0 42v2m0 131v2m0 54v1m1-341v2m0 42v2m0 17v1m0 40v1m0 153v2m0 68v1m0 10v1m0 6v2m0 39v1m0 98v3m1-502v3m0 155v1m0 4v2m0 141v1m0 21v1m0 15v1m0 8v1m0 19v2m0 28v1m1-337v2m0 25v2m0 63v1m0 135v1m0 59v2m0 7v2m0 3v1m0 134v1m1-510v2m0 64v2m0 4v3m0 2v2m0 43v2m0 43v1m0 157v1m0 23v2m0 24v1m0 20v1m0 4v2m1-396v2m0 6v2m0 47v2m0 9v2m0 251v1m0 17v1m1-273v1m0 192v1m0 62v2m0 10v2m0 20v1m0 34v1m0 106v5m0 2v2m1-443v2m0 4v1m0 45v2m0 88v1m0 29v1m0 2v2m0 1v2m0 14v1m0 2v2m0 42v1m0 13v2m0 25v1m0 41v1m0 108v2m1-510v2m0 167v1m0 77v2m0 28v1m0 21v1m0 11v2m0 23v2m0 47v1m0 107v2m1-428v1m0 9v4m0 5v2m0 2v2m0 82v2m0 175v2m0 3v1m0 20v2m0 9v1m0 117v1m0 1v3m0 6v3m1-500v2m0 55v2m0 45v2m0 3v2m0 147v1m0 2v1m0 58v1m0 17v1m0 33v2m0 114v2m0 5v3m1-346v1m0 131v1m0 66v2m0 18v1m0 119v6m1-442v4m0 94v2m0 120v1m0 69v1m0 16v1m1-328v2m0 20v2m0 6v2m0 16v2m0 69v1m0 142v2m0 50v1m1-298v2m0 51v2m0 6v1m0 32v2m0 114v1m0 39v2m0 34v1m0 16v3m0 117v3m1-494v2m0 64v2m0 26v2m0 188v1m0 66v1m0 17v1m0 132v1m1-507v3m0 20v2m0 103v3m0 39v2m0 157v2m0 67v2m1-318v6m0 32v2m0 155v2m0 32v2m0 10v3m0 16v2m0 16v1m0 7v2m0 8v2m0 10v2m1-328v2m0 66v1m0 188v1m0 14v2m0 24v2m0 12v1m0 4v2m0 8v1m0 1v3m0 10v3m0 45v2m0 25v2m1-483v2m0 78v1m0 44v2m0 42v1m0 160v2m0 30v2m0 33v2m0 1v2m0 113v1m1-441v2m0 45v2m0 36v2m0 7v2m0 137v1m0 65v2m0 2v4m0 21v2m0 97v2m0 2v3m1-442v2m0 56v3m0 41v2m0 159v1m0 45v1m0 26v1m1-397v2m0 57v1m0 23v2m0 15v2m0 8v1m0 50v2m0 108v2m0 41v1m0 12v2m0 6v1m0 25v2m0 3v2m0 29v1m1-345v2m0 110v2m0 2v1m0 123v1m0 38v1m0 29v2m0 39v2m0 48v2m1-466v2m0 9v2m0 46v1m0 29v2m0 38v2m0 175v1m0 3v2m0 18v1m0 13v2m0 2v2m0 23v2m0 3v2m0 27v2m0 2v1m0 6v2m0 90v2m1-452v2m0 66v1m0 22v1m0 141v1m0 10v1m0 17v1m0 8v1m0 45v2m0 18v1m0 9v1m0 2v2m0 63v2m1-402v1m0 6v1m0 10v2m0 32v2m0 2v1m0 152v1m0 19v3m0 15v2m0 8v1m0 3v2m0 17v2m0 1v1m0 11v2m0 18v1m0 119v2m1-439v2m0 5v2m0 15v2m0 74v2m0 144v2m0 7v1m0 39v2m0 25v5m0 6v2m0 52v2m0 37v3m1-436v2m0 226v2m0 25v2m0 24v1m0 2v2m0 13v1m0 20v2m0 13v2m0 3v2m0 8v2m0 101v2m1-452v1m0 11v2m0 37v1m0 154v2m0 17v1m0 5v2m0 7v2m0 74v1m0 129v3m0 11v3m1-455v5m0 93v2m0 133v1m0 2v1m0 10v1m0 17v1m0 9v1m0 14v1m0 85v2m0 47v3m1-430v2m0 14v2m0 24v2m0 13v2m0 37v2m0 110v2m0 15v2m0 7v1m0 48v2m0 7v3m0 2v1m0 11v2m0 6v1m0 21v1m0 88v2m1-436v3m0 17v2m0 217v1m0 6v1m0 8v1m0 7v1m0 5v3m0 29v1m0 3v2m0 33v1m1-398v3m0 74v2m0 42v2m0 40v1m0 149v1m0 9v1m0 2v1m0 10v1m0 21v1m1-364v3m0 60v3m0 3v3m0 9v2m0 34v1m0 138v2m0 23v2m0 15v1m0 22v2m0 2v2m0 44v1m0 8v2m0 113v3m1-427v1m0 6v2m0 43v1m0 181v2m0 7v1m0 12v1m0 4v1m0 9v2m0 29v1m1-304v3m0 9v2m0 1v2m0 30v2m0 48v1m0 127v1m0 40v1m0 18v3m0 3v1m0 25v2m0 56v2m0 2v2m0 22v3m0 1v2m0 8v1m1-491v2m0 66v1m0 56v2m0 39v2m0 109v2m0 14v1m0 16v1m0 17v2m0 1v2m0 8v1m0 8v2m0 6v2m0 7v1m0 10v2m0 4v2m0 2v2m0 15v2m0 51v4m1-462v1m0 80v2m0 4v2m0 80v1m0 4v1m0 126v2m0 59v2m0 10v2m0 16v2m0 5v1m0 45v1m0 39v1m1-431v3m0 63v2m0 119v2m0 56v2m0 38v1m0 19v1m0 1v1m0 6v2m0 10v2m0 13v2m0 81v2m1-409v2m0 83v2m0 114v2m0 13v1m0 5v2m0 24v4m0 21v1m0 17v2m0 15v1m0 75v3m0 7v5m1-397v1m0 53v1m0 179v1m0 10v1m0 25v1m0 6v2m0 25v1m0 4v1m0 4v2m0 2v1m0 15v1m0 7v2m0 27v2m0 10v1m1-448v1m0 67v2m0 85v2m0 145v1m0 17v1m0 26v1m0 12v2m0 10v2m0 12v2m0 4v2m0 25v1m0 27v2m0 5v2m1-391v2m0 94v2m0 104v1m0 11v4m0 2v1m0 8v1m0 11v1m0 2v1m0 11v2m0 6v1m0 2v2m0 2v2m0 6v2m0 35v1m0 5v3m0 5v1m0 18v1m0 36v3m0 12v3m1-395v2m0 82v2m0 138v2m0 2v2m0 4v2m0 17v2m0 20v1m0 9v2m0 2v2m0 3v1m0 46v2m0 21v2m0 9v5m0 3v3m0 5v2m1-419v2m0 17v2m0 267v2m0 3v1m0 47v2m0 47v1m0 5v2m0 2v1m1-385v2m0 80v2m0 134v2m0 8v2m0 34v1m0 5v2m0 8v2m0 36v2m0 33v2m0 19v1m0 6v2m1-456v2m0 9v2m0 53v2m0 4v2m0 50v1m0 46v1m0 101v1m0 1v2m0 8v2m0 15v1m0 13v2m0 13v2m0 5v2m0 16v4m0 19v2m0 2v2m0 9v3m0 70v2m1-466v3m0 50v2m0 9v2m0 3v3m0 88v2m0 103v1m0 9v1m0 9v2m0 8v1m0 39v2m0 6v1m0 2v1m0 3v2m0 1v2m0 19v2m0 36v1m0 6v1m0 10v2m0 2v2m0 11v2m0 16v2m1-304v1m0 118v1m0 18v1m0 3v1m0 3v1m0 7v2m0 3v1m0 22v2m0 25v2m0 3v2m0 11v2m0 14v3m1-135v1m0 1v1m0 2v1m0 10v1m0 4v1m0 27v2m0 1v1m0 4v1m0 4v2m0 27v2m0 16v2m0 2v3m0 32v1m1-374v1m0 10v2m0 32v2m0 16v2m0 39v2m0 115v3m0 4v2m0 24v2m0 3v2m0 21v1m0 9v1m0 5v1m0 19v2m0 5v1m0 3v4m0 6v1m0 21v2m1-395v3m0 38v1m0 1v3m0 12v2m0 189v1m0 10v1m0 16v1m0 14v5m0 12v2m0 4v2m0 12v1m0 5v2m0 1v2m0 60v1m1-353v2m0 19v1m0 24v2m0 17v2m0 132v1m0 10v2m0 47v1m0 7v1m0 6v1m0 22v1m0 23v2m0 28v4m1-373v2m0 38v2m0 14v1m0 9v2m0 14v1m0 129v2m0 14v1m0 2v1m0 5v2m0 2v1m0 4v1m0 5v3m0 1v1m0 8v2m0 17v2m0 6v1m0 14v3m0 3v2m0 18v1m0 10v2m0 7v1m0 27v2m1-370v2m0 5v2m0 6v2m0 4v1m0 4v1m0 37v2m0 28v2m0 8v1m0 2v2m0 97v2m0 9v1m0 21v3m0 33v1m0 7v3m0 3v2m0 3v1m1-365v2m0 127v1m0 30v1m0 11v2m0 106v2m0 2v2m0 18v1m0 30v2m0 19v1m1-329v2m0 47v1m0 45v1m0 6v4m0 32v1m0 6v2m0 2v1m0 107v1m0 7v1m0 13v1m0 5v1m0 20v1m0 4v1m0 6v1m0 2v2m0 25v1m0 6v1m0 13v2m1-319v2m0 8v2m0 5v4m0 39v2m0 29v2m0 103v1m0 8v1m0 4v2m0 10v2m0 7v3m0 2v1m0 9v1m0 34v1m0 30v1m1-285v1m0 66v1m0 3v1m0 93v3m0 7v2m0 7v1m0 29v1m0 9v2m0 1v1m0 3v2m0 25v1m1-287v2m0 15v2m0 7v1m0 7v2m0 15v2m0 38v2m0 117v1m0 3v2m0 1v1m0 2v2m0 15v2m0 23v1m0 28v1m1-221v2m0 27v2m0 82v2m0 9v2m0 5v2m0 5v1m0 11v1m0 6v1m0 20v2m0 13v1m0 7v2m0 22v1m0 6v1m0 3v2m1-377v2m0 88v2m0 6v2m0 60v2m0 2v1m0 89v2m0 16v2m0 10v1m0 29v1m0 4v2m0 5v1m1-261v2m0 18v2m0 13v1m0 21v2m0 40v1m0 18v2m0 44v1m0 34v1m0 17v2m0 20v1m0 2v1m0 2v1m0 4v1m0 10v2m0 5v2m1-220v3m0 114v1m0 48v2m0 4v1m0 1v1m1-301v2m0 11v3m0 62v2m0 6v2m0 5v2m0 9v2m0 18v2m0 1v2m0 6v2m0 26v1m0 12v1m0 11v2m0 24v2m0 53v2m0 6v1m0 18v1m0 12v1m0 12v1m0 18v1m0 4v1m1-256v5m0 4v2m0 10v1m0 2v2m0 8v2m0 4v2m0 9v2m0 26v2m0 24v1m0 47v1m0 10v2m0 12v1m0 16v2m0 31v1m1-322v1m0 79v2m0 19v1m0 15v2m0 17v1m0 2v2m0 5v1m0 13v2m0 7v2m0 2v2m0 8v1m0 2v2m0 26v2m0 22v1m0 9v1m0 23v1m0 46v1m0 21v1m1-260v2m0 25v1m0 14v1m0 22v1m0 55v2m0 38v1m0 15v2m0 13v1m0 10v1m0 5v2m0 25v1m0 2v1m1-175v1m0 25v2m0 1v1m0 2v2m0 6v2m0 12v1m0 28v2m0 26v2"/>
<path stroke="#002aff" d="M0 79v2m0 11v2m0 6v3m0 13v2m0 27v2m0 10v1m0 1v2m0 21v1m0 83v1m0 25v1m0 35v1m0 19v1m0 41v2m0 4v2m0 63v2m0 50v2m1-416v1m0 18v2m0 2v2m0 39v1m0 11v1m0 3v4m0 120v2m0 2v1m0 51v2m0 7v1m0 2v1m0 11v2m0 2v1m0 6v1m0 57v1m0 2v2m0 24v3m0 24v3m1-430v4m0 16v2m0 43v1m0 9v2m0 9v2m0 3v2m0 12v2m0 24v2m0 128v3m0 32v2m0 8v2m0 15v2m0 91v5m0 2v2m0 10v3m1-373v2m0 7v2m0 3v2m0 23v2m0 5v2m0 78v2m0 13v1m0 57v1m0 8v1m0 33v1m0 4v2m0 59v1m0 20v2m0 37v1m1-489v2m0 72v2m0 35v3m0 40v2m0 99v1m0 5v1m0 63v1m0 1v2m0 12v1m0 11v2m0 8v2m0 2v1m0 1v2m0 2v2m1-303v2m0 3v1m0 16v1m0 14v3m0 11v2m0 130v1m0 14v2m0 54v1m0 3v2m0 21v2m0 18v1m0 10v1m0 27v1m1-362v2m0 2v1m0 40v2m0 2v1m0 40v1m0 19v2m0 97v1m0 10v1m0 54v1m0 12v1m0 13v2m0 6v1m0 13v1m0 1v2m0 15v1m0 4v2m0 69v2m0 5v3m1-421v1m0 6v1m0 27v2m0 31v2m0 1v1m0 13v2m0 6v2m0 91v2m0 5v1m0 2v1m0 5v3m0 13v1m0 58v2m0 12v1m0 7v1m0 23v1m0 1v1m0 15v1m1-364v2m0 35v2m0 11v3m0 24v2m0 1v2m0 25v2m0 13v1m0 87v2m0 14v2m0 3v2m0 4v1m0 69v1m0 30v1m0 88v2m1-371v2m0 3v1m0 21v1m0 129v1m0 112v2m0 2v2m0 11v2m0 45v1m0 43v2m1-499v5m0 6v2m0 87v2m0 2v1m0 10v2m0 7v1m0 4v4m0 30v2m0 103v2m0 18v1m0 10v1m0 6v1m0 6v1m0 75v2m0 15v1m0 12v2m0 85v1m1-396v1m0 8v4m0 45v2m0 107v1m0 16v1m0 6v4m0 183v2m0 3v3m1-422v2m0 46v2m0 26v1m0 20v2m0 3v2m0 93v1m0 8v1m0 35v1m0 14v2m0 112v2m0 45v2m0 2v2m1-423v2m0 4v4m0 1v1m0 17v1m0 15v2m0 17v1m0 4v1m0 22v1m0 12v1m0 88v2m0 28v3m0 13v2m0 4v1m0 7v2m0 25v1m0 76v1m0 49v2m1-392v2m0 25v2m0 10v2m0 38v2m0 98v1m0 20v2m0 15v1m0 5v1m0 17v1m0 89v2m0 10v1m0 22v1m1-388v2m0 15v3m0 2v1m0 13v1m0 24v2m0 143v1m0 1v1m0 27v3m0 5v2m0 8v2m0 6v1m0 12v1m0 2v1m0 18v1m0 44v2m0 5v1m0 18v2m1-360v2m0 11v2m0 26v2m0 7v2m0 14v2m0 126v2m0 4v1m0 5v2m0 3v2m0 8v1m0 10v3m0 5v2m0 3v2m0 2v2m0 7v1m0 8v4m0 23v2m0 45v3m1-354v3m0 10v2m0 13v4m0 69v1m0 108v2m0 7v2m0 2v1m0 1v1m0 10v4m0 2v2m0 3v2m0 12v1m0 34v4m0 8v3m0 36v4m0 55v2m1-349v2m0 20v2m0 17v2m0 128v1m0 4v2m0 12v2m0 47v4m0 2v1m0 6v2m0 1v1m0 2v1m0 17v4m0 31v2m0 6v2m1-378v2m0 46v4m0 43v1m0 1v2m0 114v1m0 5v1m0 29v2m0 12v1m0 10v1m0 15v2m0 10v2m0 6v1m0 13v2m0 7v2m0 18v1m1-401v3m0 127v2m0 16v1m0 95v2m0 8v2m0 23v1m0 6v2m0 9v2m0 37v1m0 27v3m0 11v1m0 5v3m0 75v2m1-416v2m0 3v2m0 44v2m0 20v2m0 6v2m0 156v2m0 4v2m0 5v1m0 12v4m0 4v2m0 25v3m0 19v4m0 18v2m0 62v2m1-471v1m0 60v2m0 14v1m0 30v1m0 48v2m0 129v2m0 18v2m0 2v2m0 28v1m0 13v2m0 29v1m0 8v1m0 3v2m0 85v3m1-440v2m0 64v2m0 4v1m0 174v2m0 10v1m0 7v1m0 4v2m0 5v1m0 24v2m0 6v2m0 7v2m0 26v2m1-340v2m0 45v4m0 46v2m0 116v2m0 13v1m0 21v1m0 9v2m0 11v1m0 2v2m0 12v2m0 13v2m0 2v3m1-297v2m0 32v1m0 28v2m0 133v1m0 56v1m0 15v1m0 10v2m0 7v1m0 4v1m0 17v2m1-282v2m0 4v1m0 30v2m0 146v1m0 28v1m0 22v2m0 4v2m0 18v2m0 21v2m1-415v5m0 81v2m0 185v1m0 4v1m0 7v1m0 18v1m0 1v1m0 29v1m0 36v1m0 12v1m0 17v1m0 42v2m0 54v1m0 10v3m1-434v2m0 36v2m0 158v1m0 3v2m0 20v1m0 2v1m0 17v1m0 23v1m0 3v2m0 21v1m0 2v2m0 115v2m1-495v1m0 114v4m0 175v2m0 27v1m0 14v2m0 2v1m0 25v1m0 52v2m1-422v1m0 1v2m0 73v2m0 10v2m0 28v5m0 40v2m0 106v1m0 28v1m0 24v1m0 5v1m0 40v2m0 21v2m1-387v2m0 57v1m0 38v2m0 3v2m0 4v2m0 48v2m0 121v1m0 7v1m0 5v4m0 2v2m0 5v5m0 3v2m0 15v2m0 147v2m1-506v2m0 75v1m0 57v2m0 37v1m0 135v1m0 1v2m0 3v2m0 21v2m0 8v1m0 24v1m0 5v2m0 5v2m0 13v2m0 102v3m1-506v2m0 4v2m0 115v2m0 171v1m0 52v2m0 19v2m0 8v2m0 1v2m1-383v2m0 63v2m0 18v2m0 198v2m0 8v2m0 21v1m0 1v3m0 3v1m0 7v1m0 10v1m0 5v2m0 33v1m0 4v1m1-396v3m0 5v2m0 56v1m0 61v2m0 42v2m0 99v1m0 26v2m0 25v1m0 7v1m0 24v2m1-360v2m0 22v2m0 42v1m0 2v3m0 3v2m0 9v1m0 22v2m0 61v1m0 114v2m0 16v2m0 49v1m0 7v2m0 4v1m0 14v1m0 11v1m0 4v1m0 97v3m1-507v2m0 80v2m0 4v2m0 229v1m0 35v1m0 52v2m1-341v2m0 4v3m0 26v2m0 227v1m0 13v1m0 11v1m1-234v2m0 2v1m0 184v1m0 14v1m0 24v2m0 6v2m0 7v1m0 34v2m1-411v1m0 65v2m0 9v2m0 235v1m0 28v1m0 26v2m0 18v1m0 4v2m0 111v3m0 4v2m1-512v1m0 6v1m0 72v1m0 4v2m0 37v2m0 239v4m0 7v2m0 4v2m0 25v1m0 97v5m0 5v2m1-524v1m0 82v4m0 253v1m0 31v2m1-365v2m0 122v2m0 187v1m0 193v1m1-498v2m0 34v2m0 12v3m0 306v2m0 146v3m1-529v2m0 23v2m0 53v2m0 8v2m0 34v4m0 149v2m0 82v1m0 8v1m0 142v5m1-489v1m0 39v3m0 280v2m0 25v2m0 138v4m1-525v2m0 71v3m0 324v2m0 11v1m1-409v2m0 6v2m0 314v2m0 193v3m1-354v2m0 170v2m0 17v2m0 3v1m0 22v1m0 1v2m1-76v1m0 53v1m0 46v2m0 98v3m0 4v2m1-405v4m0 178v1m0 20v1m0 46v1m0 142v2m1-427v2m0 40v1m0 35v4m0 345v2m1-449v1m0 9v3m0 39v2m0 235v3m0 155v2m1-459v1m0 2v1m0 4v3m0 2v2m0 7v1m0 39v2m0 225v2m1 0v1m0 33v1m0 6v2m0 119v3m1-348v2m0 87v1m0 23v1m0 4v1m0 1v1m0 12v1m0 61v1m0 12v2m0 2v1m0 2v2m0 9v1m0 119v2m0 5v2m1-459v1m0 58v2m0 147v1m0 45v1m0 24v2m0 27v1m0 133v3m1-434v1m0 9v2m0 40v1m0 140v2m0 97v1m0 136v3m0 7v3m1-512v3m0 6v3m0 49v1m0 4v3m0 49v1m0 5v1m0 141v1m0 11v1m0 8v2m0 24v1m0 38v1m1-361v2m0 10v3m0 117v2m0 203v1m0 1v2m0 37v1m0 136v2m1-451v2m0 10v3m0 35v2m0 8v1m0 28v2m0 16v1m0 234v1m0 16v2m1-416v3m0 51v1m0 314v2m0 5v1m1-356v3m0 32v2m0 14v2m0 42v2m0 43v1m0 208v2m0 18v1m1-274v3m0 37v1m0 6v1m0 107v1m0 31v1m0 15v1m0 169v2m1-497v2m0 65v2m0 6v2m0 96v4m0 2v2m0 173v2m0 13v1m0 20v2m0 5v2m1-346v1m0 66v2m0 43v1m0 4v2m0 106v2m0 89v2m0 1v1m0 6v1m0 3v2m0 12v2m0 116v2m1-455v2m0 2v1m0 10v2m0 2v1m0 2v1m0 203v1m0 87v1m0 119v2m1-330v2m0 101v1m0 75v2m0 11v1m0 44v3m1-402v2m0 59v2m0 97v2m0 149v2m0 1v2m0 1v1m0 18v2m0 11v1m0 43v1m1-55v1m0 28v1m0 17v3m1-401v3m0 388v2m0 16v1m0 93v3m1-445v2m0 1v3m0 6v2m0 7v2m0 41v2m0 5v1m0 223v2m0 9v1m0 1v1m0 22v1m0 11v1m1-279v1m0 1v1m0 41v2m0 161v1m0 13v2m0 12v1m0 12v1m0 4v1m0 8v1m0 17v2m1-399v2m0 63v1m0 54v2m0 2v2m0 37v2m0 120v1m0 90v1m0 1v1m0 13v3m1-342v2m0 16v2m0 2v1m0 46v1m0 35v2m0 153v2m0 2v2m0 4v2m0 54v2m0 5v1m0 112v2m0 4v3m1-514v2m0 69v2m0 2v2m0 97v1m0 132v1m0 28v1m0 167v5m1-512v3m0 61v2m0 14v2m0 4v2m0 227v2m0 4v1m0 4v2m0 1v1m0 44v4m0 1v2m1-304v3m0 47v1m0 48v1m0 119v1m0 9v2m0 2v2m0 5v1m0 20v1m0 166v1m0 4v4m1-449v1m0 8v1m0 51v2m0 47v2m0 142v1m0 20v1m0 20v2m0 7v2m0 5v2m0 76v2m1-389v1m0 18v2m0 38v4m0 42v1m0 123v1m0 6v1m0 13v2m0 4v1m0 30v1m0 8v1m0 48v2m0 93v3m0 1v1m1-503v1m0 9v2m0 46v2m0 16v1m0 87v1m0 113v1m0 11v2m0 12v1m0 1v2m0 1v1m0 6v1m0 1v1m0 2v2m0 23v1m0 39v2m0 109v2m1-495v2m0 2v3m0 4v1m0 54v1m0 6v2m0 45v1m0 41v2m0 132v2m0 76v1m0 6v3m1-391v3m0 9v2m0 61v3m0 44v1m0 42v2m0 127v1m0 9v2m0 60v1m0 24v2m1-325v2m0 97v1m0 122v2m0 30v1m0 180v2m1-505v1m0 59v2m0 11v2m0 50v1m0 159v1m0 34v2m0 7v3m0 1v2m0 1v1m0 17v4m0 5v2m0 120v3m1-491v2m0 16v3m0 55v2m0 89v2m0 2v1m0 124v1m0 31v1m0 5v1m0 5v1m0 42v2m0 17v2m1-407v2m0 6v1m0 54v2m0 5v1m0 213v1m0 26v1m0 13v1m0 21v1m0 21v3m0 12v1m0 29v1m0 81v2m1-367v2m0 184v1m0 5v2m0 21v1m0 23v1m0 13v2m0 88v1m0 6v1m0 8v2m1-434v2m0 14v1m0 6v2m0 44v2m0 4v1m0 203v2m0 13v2m0 3v2m0 9v2m0 7v1m0 26v1m0 52v3m1-387v2m0 5v2m0 45v4m0 181v1m0 4v4m0 15v1m0 20v2m0 28v2m0 4v2m0 7v1m0 58v2m0 4v3m0 6v2m1-400v3m0 229v1m0 5v2m0 25v1m0 10v1m0 3v2m0 19v2m0 4v2m0 1v1m0 7v1m0 4v1m0 63v2m0 20v2m0 2v2m1-479v2m0 55v6m0 5v2m0 1v5m0 33v1m0 172v1m0 77v1m0 3v1m0 17v1m0 5v2m0 61v1m0 5v2m0 7v2m1-470v3m0 49v1m0 8v4m0 58v1m0 40v2m0 111v3m0 37v1m0 8v1m0 16v4m0 55v2m0 48v2m0 7v1m1-413v2m0 14v2m0 4v2m0 6v1m0 188v2m0 5v1m0 16v1m0 40v1m0 3v1m0 12v1m0 11v1m0 24v3m0 62v2m0 3v1m0 3v2m0 2v2m1-480v2m0 288v1m0 70v1m0 12v1m0 18v1m0 21v4m0 43v3m0 12v1m1-405v2m0 56v2m0 38v1m0 111v1m0 4v1m0 6v1m0 20v2m0 27v2m0 4v1m0 3v2m0 16v1m0 39v2m0 6v4m0 6v2m0 20v1m0 5v1m0 24v3m1-460v2m0 53v1m0 202v1m0 8v2m0 16v2m0 22v2m0 2v2m0 5v1m0 9v1m0 16v1m0 4v2m0 9v2m0 2v1m0 8v1m0 1v2m0 12v2m0 44v2m0 4v2m1-468v2m0 2v2m0 66v1m0 54v2m0 41v2m0 104v1m0 2v1m0 21v2m0 4v2m0 7v1m0 31v1m0 4v2m0 2v1m0 19v2m0 4v2m0 8v2m0 8v1m0 3v1m0 12v2m0 25v2m0 3v1m0 7v2m1-397v2m0 6v1m0 5v2m0 195v4m0 14v1m0 6v2m0 2v1m0 29v2m0 2v1m0 23v1m0 9v1m0 7v1m0 6v1m0 1v1m0 13v2m0 10v1m0 3v1m0 4v2m0 1v4m0 22v2m1-457v2m0 64v2m0 5v1m0 2v2m0 223v2m0 6v1m0 6v3m0 3v1m0 17v4m0 17v1m0 25v2m0 9v2m0 27v2m1-308v2m0 28v2m0 133v1m0 4v1m0 11v1m0 14v6m0 9v2m0 6v1m0 4v1m0 9v2m0 6v2m0 3v2m0 2v1m0 27v1m0 3v1m0 21v1m1-432v2m0 82v1m0 48v2m0 35v2m0 126v1m0 1v2m0 2v2m0 21v2m0 11v1m0 1v2m0 27v2m0 6v2m0 1v1m0 9v6m0 4v1m0 7v2m0 11v2m1-417v3m0 67v2m0 73v2m0 115v1m0 24v2m0 3v1m0 5v2m0 9v2m0 5v1m0 42v2m0 1v2m0 12v1m0 2v2m0 4v2m0 12v2m0 7v1m0 1v1m0 13v2m1-422v3m0 12v2m0 40v4m0 4v2m0 11v5m0 33v1m0 1v2m0 149v2m0 30v3m0 10v2m0 2v2m0 8v2m0 3v1m0 7v1m0 5v1m0 3v1m0 14v3m0 4v1m0 12v1m0 7v2m1-398v1m0 59v1m0 4v3m0 53v4m0 142v1m0 15v1m0 12v1m0 5v1m0 1v2m0 34v1m0 16v3m0 2v2m0 13v1m0 7v2m0 3v1m0 7v2m0 2v2m0 6v2m0 4v1m0 3v1m0 1v1m1-421v3m0 82v2m0 19v2m0 63v1m0 90v1m0 3v1m0 17v1m0 2v1m0 5v1m0 14v1m0 7v2m0 14v1m0 2v2m0 3v1m0 8v1m0 17v2m0 19v2m0 1v1m0 7v1m0 21v1m1-366v3m0 4v2m0 50v2m0 17v1m0 130v1m0 8v1m0 15v1m0 2v2m0 4v2m0 3v2m0 4v1m0 1v2m0 14v2m0 18v3m0 29v2m0 20v1m0 17v2m1-361v3m0 58v2m0 151v1m0 12v1m0 7v2m0 8v2m0 2v2m0 7v1m0 4v1m0 14v2m0 13v2m0 5v1m0 8v1m0 1v2m0 17v1m1-341v1m0 14v2m0 8v2m0 69v1m0 114v1m0 12v3m0 15v1m0 3v1m0 11v1m0 20v2m0 26v2m0 10v2m1-379v3m0 170v1m0 101v1m0 25v2m0 3v2m0 4v2m0 9v1m0 38v1m1-290v2m0 204v1m0 27v1m0 6v1m0 14v1m0 5v2m0 31v1m1-290v3m0 6v2m0 81v1m0 94v1m0 9v1m0 2v1m0 12v2m0 5v1m0 60v1m0 11v2m1-290v1m0 62v2m0 20v2m0 3v2m0 9v1m0 5v1m0 78v2m0 1v1m0 1v1m0 37v2m0 7v1m0 20v1m0 14v1m1-275v3m0 34v1m0 6v2m0 17v1m0 108v1m0 6v2m0 2v3m0 1v1m0 14v2m0 1v1m0 9v2m0 10v1m0 26v2m0 9v1m0 1v1m0 16v1m1-360v1m0 116v1m0 18v2m0 22v2m0 76v1m0 19v4m1-268v2m0 56v1m0 6v2m0 26v2m0 47v1m0 13v1m0 16v2m0 93v2m0 26v1m0 1v1m0 9v2m0 28v1m1-333v3m0 114v2m0 4v1m0 8v2m0 1v1m0 24v1m0 37v2m0 54v1m0 8v2m0 2v1m0 3v3m0 7v1m0 32v2m1-327v3m0 97v4m0 6v2m0 28v2m0 30v1m0 67v1m0 1v1m0 54v2m0 6v2m0 26v1m1-263v2m0 10v3m0 17v1m0 47v2m0 5v1m0 5v1m0 7v1m0 3v1m0 2v1m0 22v2m0 16v2m0 14v1m0 5v2m0 5v1m1-191v1m0 35v2m0 4v2m0 13v1m0 35v1m0 19v1m0 8v2m0 9v1m0 12v1m0 90v1m0 12v2"/>
<path stroke="#0045ff" d="M0 23v3m0 35v2m0 18v2m0 37v2m0 2v1m0 42v2m0 93v1m0 24v2m0 32v1m0 30v1m0 5v1m0 1v2m0 7v2m0 10v1m0 5v1m0 7v1m0 16v2m1-321v2m0 40v2m0 1v1m0 18v2m0 17v3m0 89v1m0 3v2m0 35v1m0 35v1m0 5v1m0 15v1m0 9v1m0 25v1m0 14v1m0 81v3m1-423v1m0 29v2m0 3v2m0 3v2m0 14v2m0 36v2m0 1v3m0 1v1m0 69v2m0 27v1m0 47v1m0 36v2m0 2v2m0 30v2m0 16v2m0 81v2m1-484v2m0 68v1m0 9v2m0 24v1m0 13v2m0 20v1m0 15v1m0 1v2m0 89v1m0 4v3m0 1v2m0 6v1m0 42v2m0 10v1m0 59v2m0 5v3m1-326v1m0 35v1m0 21v2m0 28v1m0 104v1m0 4v1m0 6v1m0 53v2m0 2v1m0 30v3m0 31v1m0 96v2m1-430v1m0 28v2m0 6v1m0 21v2m0 30v1m0 1v2m0 101v1m0 58v1m0 15v1m0 2v2m0 8v2m0 11v2m0 4v3m0 6v2m0 105v3m1-433v2m0 5v1m0 18v3m0 31v2m0 7v2m0 33v2m0 103v1m0 60v1m0 4v2m0 11v2m0 10v2m0 2v2m0 6v1m0 3v2m0 120v3m1-514v1m0 9v2m0 124v1m0 158v5m0 58v2m0 19v2m0 10v2m0 110v2m1-422v2m0 13v2m0 60v2m0 213v1m0 14v2m0 8v1m0 9v1m0 43v2m1-386v4m0 4v1m0 5v2m0 48v2m0 44v1m0 95v1m0 28v1m0 3v2m0 70v1m1-362v2m0 69v2m0 49v1m0 31v2m0 213v2m0 5v3m0 10v2m0 96v1m1-450v2m0 33v1m0 6v2m0 3v2m0 19v1m0 16v1m0 25v2m0 3v1m0 97v2m0 15v2m0 11v2m0 21v1m0 86v2m0 73v1m0 15v2m1-478v3m0 61v4m0 219v2m0 5v2m0 13v1m0 1v1m1-277v2m0 18v2m0 8v2m0 6v2m0 12v1m0 6v2m0 48v2m0 8v2m0 111v2m0 3v1m0 27v2m0 5v2m0 4v1m0 5v1m0 5v1m1-342v1m0 52v2m0 13v2m0 12v3m0 64v1m0 110v2m0 35v1m0 7v2m0 2v1m0 3v3m0 3v2m0 17v2m0 15v1m0 8v2m0 43v2m1-418v3m0 20v2m0 56v1m0 48v2m0 26v1m0 134v1m0 10v2m0 104v1m0 6v1m0 3v1m1-361v1m0 21v2m0 51v2m0 153v1m0 24v1m0 1v2m0 16v1m0 44v2m0 35v1m0 59v2m1-484v3m0 5v2m0 75v1m0 7v2m0 3v2m0 32v2m0 38v2m0 116v1m0 47v1m0 3v1m0 2v2m0 32v2m0 15v2m0 1v1m0 2v1m0 16v1m0 8v2m1-416v2m0 53v3m0 12v2m0 86v1m0 18v2m0 90v1m0 9v2m0 1v1m0 20v3m0 1v1m0 8v1m0 24v2m0 36v2m0 40v1m0 6v2m0 7v2m0 37v2m0 3v1m1-428v1m0 10v2m0 9v2m0 4v2m0 202v1m0 8v1m0 13v1m0 4v2m0 11v1m0 17v2m0 28v2m0 6v2m0 5v1m0 3v2m0 86v3m1-494v2m0 21v1m0 261v2m0 44v2m0 9v2m0 8v1m0 3v2m0 22v2m0 22v2m0 12v1m0 71v4m1-408v1m0 4v3m0 81v1m0 119v1m0 12v2m0 1v1m0 2v2m0 28v1m0 16v1m0 16v2m0 13v1m0 11v1m0 83v2m0 2v3m0 1v2m1-496v2m0 52v4m0 64v2m0 49v1m0 94v1m0 23v3m0 21v1m0 24v1m0 13v1m0 19v1m0 19v1m1-63v2m0 4v1m1-323v5m0 56v2m0 55v2m0 28v2m0 111v1m0 9v1m0 48v1m0 46v2m1-390v1m0 62v2m0 4v1m0 4v2m0 5v2m0 4v2m0 34v2m0 152v1m0 8v2m0 12v2m0 15v1m0 2v1m0 2v3m0 30v3m0 141v2m1-435v3m0 3v2m0 2v1m0 10v1m0 10v1m0 22v2m0 49v2m0 136v1m0 28v1m0 2v1m0 20v2m0 39v1m1-328v2m0 206v1m0 60v1m0 15v1m0 31v1m0 54v2m1-400v1m0 9v2m0 8v2m0 14v2m0 38v2m0 181v2m0 16v2m0 5v1m0 27v2m0 138v6m1-488v4m0 47v2m0 8v1m0 47v2m0 187v1m0 20v2m0 2v1m0 18v2m0 35v2m0 96v2m1-211v1m0 12v1m0 35v2m0 172v3m1-520v3m0 3v3m0 61v2m0 17v1m0 2v2m0 228v1m0 66v1m0 21v2m1-346v2m0 6v2m0 15v1m0 29v1m0 6v2m0 156v2m0 10v2m0 48v1m0 152v2m1-427v1m0 4v2m0 5v2m0 40v2m0 208v2m0 165v1m0 2v2m1-450v2m0 15v2m0 211v2m0 18v1m0 183v2m0 5v3m1-417v2m0 220v1m0 27v2m1-269v2m0 3v1m0 49v2m0 44v2m0 196v2m0 131v1m1-485v2m0 65v2m0 259v2m0 5v1m0 17v2m0 5v2m0 120v3m1-499v3m0 74v2m0 42v2m0 382v3m1-514v3m0 7v2m0 52v2m0 106v2m0 3v1m0 107v2m0 40v1m0 41v1m0 11v3m1-384v3m0 3v2m0 50v2m0 2v1m0 66v2m0 41v2m0 115v2m1-289v2m0 27v2m0 22v3m0 68v2m0 182v2m0 25v1m1-211v1m0 188v1m0 57v2m0 144v6m1-522v2m0 79v2m0 6v2m0 433v1m1-517v1m0 60v2m0 53v1m0 240v1m0 3v2m0 141v3m1-516v4m0 8v1m0 53v3m0 312v2m0 136v3m1-507v2m0 37v3m0 2v1m0 17v2m0 44v1m0 263v1m0 133v1m1-521v3m0 117v2m0 275v1m0 123v2m0 3v2m1-523v2m0 64v1m0 47v1m0 49v1m0 168v2m0 22v1m0 31v1m0 122v2m0 7v5m1-9v2m1-512v4m0 49v1m0 13v2m0 37v2m0 5v2m0 42v1m1-168v3m0 50v2m0 67v2m0 389v2m1-392v2m0 149v1m0 247v3m1-462v3m0 58v3m0 221v1m0 21v2m0 2v2m0 132v2m1-515v2m0 172v1m0 195v1m1-368v2m0 5v3m0 157v2m0 197v1m0 44v1m1-415v5m0 25v3m0 31v1m0 6v2m0 5v2m0 66v2m0 225v2m1-354v3m0 45v4m0 7v2m0 194v1m0 5v2m0 83v2m0 25v4m0 2v2m0 1v1m0 1v1m1-406v2m0 257v1m0 24v1m0 93v2m0 9v2m0 21v2m0 104v2m1-452v2m0 20v2m0 33v3m0 160v1m0 85v1m0 18v1m0 133v2m1-467v2m0 2v1m0 105v1m0 233v1m1-380v3m0 53v2m0 45v1m0 41v1m0 2v1m0 125v1m0 63v2m1-369v2m0 75v2m0 22v2m0 28v2m0 44v1m0 113v1m1-292v2m0 21v2m0 270v1m0 218v2m1-441v1m0 100v2m0 186v2m0 141v2m1-507v2m0 504v3m1-504v1m0 76v2m0 92v2m0 146v2m0 37v2m0 147v2m1-501v2m0 59v2m0 18v1m0 76v1m0 136v2m0 69v1m0 125v2m0 7v3m1-519v1m0 65v3m0 14v1m0 8v2m0 8v1m0 176v2m0 33v1m0 42v2m0 37v1m0 100v2m1-497v3m0 12v2m0 40v2m0 14v3m0 291v2m0 136v2m1-456v3m0 2v3m0 4v2m0 2v2m0 5v2m0 4v2m0 197v1m0 94v1m0 15v1m1-388v3m0 69v2m0 321v2m0 18v1m1-413v2m0 53v1m0 33v2m0 28v1m0 265v1m1-330v1m0 3v2m0 20v2m0 37v2m0 197v1m0 46v2m0 26v1m0 107v3m1-512v3m0 63v2m0 104v2m0 224v1m0 5v2m0 112v3m1-446v3m0 90v1m0 2v2m0 117v1m0 16v1m0 59v1m1-353v2m0 3v2m0 103v1m0 1v2m0 193v4m0 48v1m0 13v2m0 113v2m1-445v2m0 6v2m0 60v1m0 42v2m0 113v1m0 19v1m1-311v2m0 306v2m0 4v2m0 7v1m0 31v1m0 160v1m1-438v2m0 246v1m0 54v1m0 126v3m0 9v2m1-514v2m0 3v3m0 290v1m0 58v1m0 144v1m0 1v2m1-512v3m0 11v1m0 12v3m0 34v1m0 65v2m0 187v1m0 11v2m0 8v1m0 21v1m0 38v1m0 99v2m0 5v2m0 2v3m1-461v2m0 13v2m0 2v1m0 7v2m0 212v1m0 7v2m0 204v2m1-448v2m0 63v2m0 143v1m0 78v2m0 52v2m1-384v2m0 93v2m0 211v1m0 13v2m0 149v3m0 3v3m1-492v2m0 108v2m0 41v2m0 1v2m0 224v1m0 100v2m1-476v1m0 38v2m0 14v2m0 225v2m0 71v2m0 110v2m0 13v3m1-512v1m0 12v3m0 67v2m0 86v2m0 131v2m0 25v1m0 44v1m0 27v1m0 84v2m0 5v1m0 14v3m1-511v2m0 2v2m0 68v1m0 43v1m0 4v2m0 45v2m0 130v1m0 8v1m0 13v2m0 21v1m0 141v3m1-435v2m0 13v2m0 209v2m0 35v1m0 49v1m0 8v1m0 6v1m0 92v2m0 6v2m1-479v2m0 295v2m0 79v2m0 70v2m1-444v2m0 38v2m0 66v2m0 181v2m0 26v2m0 2v1m0 47v4m0 8v3m0 42v2m0 1v2m0 9v2m0 21v1m1-488v3m0 9v3m0 14v1m0 41v1m0 19v2m0 37v2m0 183v1m0 9v1m0 45v1m0 35v1m0 10v1m0 37v2m0 16v2m0 7v4m1-123v2m0 30v1m0 23v2m0 56v2m1-412v2m0 2v1m0 20v2m0 81v1m0 211v2m0 19v2m0 30v1m0 38v2m1-474v2m0 3v2m0 43v3m0 27v2m0 38v2m0 218v2m0 3v1m0 33v2m0 2v2m0 1v1m0 8v4m0 3v4m0 69v3m1-411v2m0 2v4m0 201v1m0 28v2m0 48v1m0 17v1m0 18v3m0 35v2m0 17v1m0 23v3m1-478v2m0 57v2m0 2v1m0 5v3m0 7v3m0 43v2m0 178v1m0 3v2m0 45v2m0 2v4m0 6v3m0 6v3m0 7v3m0 2v1m0 48v2m1-97v2m0 5v1m0 11v2m0 34v1m0 5v1m0 3v3m0 33v2m0 1v5m0 4v3m1-462v2m0 16v2m0 37v3m0 61v2m0 47v1m0 98v1m0 72v1m0 6v1m0 17v1m0 3v1m0 11v1m0 4v2m0 13v2m0 14v2m0 8v2m0 22v3m0 2v2m0 5v2m1-412v1m0 9v2m0 54v2m0 158v1m0 1v1m0 12v1m0 18v2m0 25v1m0 18v4m0 1v1m0 5v2m0 15v2m0 13v2m0 10v4m0 2v1m1-358v1m0 53v4m0 3v2m0 143v3m0 26v2m0 29v1m0 11v2m0 13v2m0 10v2m0 8v1m0 2v2m0 13v1m0 3v1m0 1v2m0 1v1m0 21v2m1-377v2m0 63v2m0 166v2m0 10v2m0 6v1m0 8v2m0 8v1m0 4v1m0 20v4m0 5v2m0 14v1m0 33v1m0 10v2m1-408v3m0 35v4m0 18v1m0 87v2m0 123v1m0 1v1m0 2v1m0 7v2m0 3v1m0 16v2m0 6v2m0 7v1m0 2v2m0 23v2m0 13v1m0 2v2m0 23v7m0 1v2m1-298v1m0 1v2m0 155v2m0 24v2m0 16v1m0 25v1m0 19v3m0 7v1m1-392v2m0 25v3m0 3v3m0 37v2m0 212v1m0 9v1m0 26v1m0 3v2m0 5v1m0 1v1m0 24v2m0 17v2m0 10v1m0 5v1m1-275v2m0 4v3m0 168v3m0 26v1m0 7v2m0 15v1m0 13v3m0 4v2m0 7v2m0 3v1m0 2v2m0 2v2m0 7v1m0 1v2m0 1v2m0 12v1m0 2v2m0 3v2m1-430v2m0 66v1m0 207v1m0 14v2m0 16v1m0 15v1m0 12v2m0 3v2m0 7v2m0 8v1m0 9v2m0 5v2m0 9v2m0 3v1m0 5v1m0 8v2m0 2v2m1-414v2m0 4v2m0 64v2m0 7v2m0 35v2m0 145v1m0 4v1m0 35v1m0 22v1m0 33v2m1-373v3m0 20v1m0 6v1m0 39v3m0 53v2m0 3v1m0 41v1m0 132v1m0 52v2m0 6v1m0 6v2m0 39v2m1-417v2m0 22v2m0 7v3m0 14v2m0 31v2m0 84v2m0 107v1m0 10v1m0 20v1m0 2v2m0 42v1m0 4v2m0 17v2m0 3v1m0 2v1m1-383v1m0 16v2m0 37v2m0 25v1m0 39v1m0 42v2m0 101v1m0 3v1m0 1v2m0 9v1m0 10v2m0 2v1m0 26v2m0 1v2m0 3v1m0 7v2m0 9v2m0 10v1m0 11v2m1-373v2m0 60v2m0 2v2m0 9v1m0 174v2m0 24v2m0 4v1m0 14v1m0 20v2m0 22v1m0 14v2m1-374v2m0 77v7m0 34v2m0 173v3m0 4v2m0 35v1m0 14v1m0 3v1m1-359v4m0 55v2m0 23v2m0 39v2m0 179v1m0 22v3m0 1v1m0 15v2m0 29v2m1-325v1m0 67v1m0 44v1m0 50v1m0 55v3m0 4v1m0 19v1m0 13v1m0 6v2m0 10v1m0 43v1m1-317v2m0 9v1m0 189v1m0 1v1m0 10v2m0 3v2m0 3v2m0 15v2m0 21v2m0 32v2m0 10v2m1-293v1m0 90v2m0 85v1m0 40v2m0 1v1m0 8v1m0 23v2m0 12v1m0 17v1m1-366v2m0 9v2m0 2v2m0 48v1m0 21v2m0 33v2m0 2v2m0 16v1m0 66v2m0 59v2m0 11v1m0 30v1m0 6v2m0 4v2m1-339v2m0 70v2m0 6v2m0 52v1m0 6v2m0 30v2m0 47v1m0 8v1m0 34v2m0 2v2m0 1v1m0 29v1m1-237v1m0 18v2m0 14v2m0 20v2m0 4v2m0 1v1m0 14v2m0 6v1m0 3v3m0 6v3m0 102v1m0 20v1"/>
<path stroke="#0069ff" d="M0 77v2m0 4v2m0 13v2m0 73v2m0 4v1m0 90v4m0 6v1m0 16v2m0 36v4m0 38v1m0 29v2m0 93v2m1-491v2m0 91v2m0 24v2m0 172v1m0 7v1m0 35v1m0 3v3m0 9v1m0 8v1m0 2v2m0 15v1m0 4v2m0 4v2m0 112v3m1-517v2m0 20v1m0 41v3m0 12v2m0 2v2m0 42v1m0 139v1m0 3v1m0 4v2m0 33v2m0 43v1m0 12v2m0 6v4m0 10v2m1-381v2m0 60v2m0 2v3m0 36v1m0 1v1m0 18v2m0 183v2m0 9v2m0 4v1m0 4v2m0 2v1m0 14v1m0 4v2m0 3v2m0 7v1m0 7v2m0 109v3m1-430v2m0 9v2m0 39v2m0 38v2m0 109v1m0 8v2m0 38v1m0 3v2m0 9v2m0 14v1m0 8v2m0 132v1m1-499v2m0 13v2m0 51v2m0 2v3m0 6v2m0 32v2m0 43v2m0 117v2m0 53v1m0 6v2m0 15v1m0 51v2m0 87v1m0 3v2m1-504v2m0 15v2m0 50v1m0 93v2m0 112v2m0 10v1m0 6v1m0 64v1m0 16v1m0 13v1m0 7v1m0 7v2m1-347v1m0 19v2m0 39v2m0 38v4m0 187v1m0 5v2m0 9v2m0 33v2m1-399v2m0 10v3m0 56v3m0 38v2m0 162v3m0 6v1m0 4v2m0 68v1m0 7v2m0 12v2m0 96v3m1-497v3m0 17v2m0 65v4m0 72v1m0 5v1m0 108v2m0 15v2m0 3v1m0 4v1m0 70v2m0 1v4m0 9v1m0 97v3m0 6v3m1-441v2m0 31v2m0 74v1m0 100v2m0 4v1m0 22v1m0 4v1m0 68v2m0 13v1m0 4v2m0 2v2m1-336v4m0 61v1m0 157v1m0 23v2m0 84v1m0 4v1m1-394v2m0 71v1m0 15v2m0 17v2m0 3v2m0 37v2m0 116v1m0 13v1m0 16v1m0 11v2m0 1v1m0 15v2m0 65v2m0 85v2m0 2v3m1-497v2m0 5v2m0 70v1m0 7v2m0 74v2m0 135v1m0 1v1m0 24v1m0 3v1m0 14v1m0 3v1m0 67v2m1-400v2m0 40v1m0 10v4m0 224v1m0 1v2m0 32v1m0 5v1m0 14v2m0 45v2m0 5v2m1-405v1m0 40v4m0 7v2m0 8v1m0 3v1m0 198v2m0 17v2m0 53v1m0 66v2m0 73v2m1-497v2m0 3v4m0 67v2m0 48v1m0 38v3m0 129v2m0 4v1m0 34v1m0 19v1m0 29v2m1-100v1m0 29v2m0 6v1m0 19v1m0 4v1m0 4v2m0 32v1m0 16v4m0 27v1m0 52v2m0 1v2m1-410v1m0 36v2m0 3v1m0 191v1m0 4v2m0 48v1m0 13v2m0 2v2m0 2v1m0 8v1m1-404v2m0 14v2m0 144v1m0 7v1m0 110v2m0 18v1m0 19v1m0 6v1m0 3v2m0 3v2m0 27v1m0 21v2m1-312v2m0 4v1m0 38v2m0 158v1m0 3v2m0 101v1m0 1v1m1-344v2m0 63v2m0 182v2m0 4v1m0 17v1m0 35v1m0 18v1m0 3v2m0 98v2m1-410v2m0 189v1m0 17v1m0 17v2m0 20v2m0 22v2m0 34v2m1-366v1m0 253v1m0 80v1m0 29v2m0 4v2m0 97v2m1-501v4m0 56v1m0 9v2m0 4v2m0 51v1m0 5v2m0 197v1m0 12v2m0 62v2m0 76v3m1-487v2m0 82v2m0 39v6m0 37v1m0 141v2m0 42v1m0 11v1m0 2v2m0 133v2m1-446v2m0 12v2m0 217v1m0 7v2m0 8v2m0 28v1m0 35v1m1-367v2m0 66v2m0 5v2m0 228v1m0 16v1m0 7v3m0 7v2m1-341v3m0 60v2m0 248v1m0 26v2m0 11v1m0 2v2m0 19v1m0 119v2m0 5v2m1-513v3m0 21v2m0 39v2m0 2v2m0 48v2m0 164v2m0 17v1m0 1v2m0 15v1m0 3v1m0 15v2m0 154v2m0 9v6m1-518v2m0 73v2m0 88v1m0 129v1m0 30v2m0 12v3m0 1v1m0 4v2m0 20v1m0 126v3m1-486v2m0 56v2m0 1v1m0 195v2m0 94v1m0 129v1m0 3v2m1-458v2m0 4v2m0 19v4m0 41v2m0 158v1m1-281v2m0 122v1m0 42v1m0 183v2m0 22v2m0 13v1m1-393v2m0 55v2m0 10v1m0 54v2m0 148v1m0 4v1m0 45v1m0 177v2m1-492v4m0 1v3m0 34v4m0 21v2m0 256v1m0 50v1m0 114v3m0 4v1m1-503v2m0 10v3m0 38v1m0 16v2m0 91v2m0 337v2m1-448v2m0 5v1m0 6v1m0 417v2m0 7v1m1-509v2m0 57v3m0 5v2m0 59v2m0 39v3m0 155v2m0 68v2m0 106v2m1-436v2m0 56v1m0 25v2m0 233v1m1-370v2m0 30v2m0 13v3m0 208v1m0 231v2m1-502v1m0 4v3m0 4v2m1 46v2m0 441v2m1-449v2m0 6v2m0 330v1m1-408v2m0 60v2m0 2v1m1-1v2m0 5v2m0 452v3m1-509v1m0 50v1m1 449v2m1-511v3m0 53v3m0 297v2m1-353v2m0 108v2m0 397v2m1-503v3m0 27v3m0 463v2m2-524v5m0 14v2m0 34v1m0 460v2m1-511v3m0 115v2m0 400v3m1-532v2m0 8v2m0 11v3m0 334v1m0 156v4m0 4v3m1-500v2m0 381v2m1-284v2m1-125v2m0 10v2m0 6v5m0 37v1m0 6v3m0 53v1m0 131v2m0 7v1m0 252v1m1-274v2m1-233v1m0 10v2m0 46v1m0 49v2m0 42v1m0 203v1m0 1v2m0 140v2m1-519v3m0 21v2m0 21v2m0 12v2m0 5v4m0 50v2m0 170v2m0 218v2m0 3v2m1-452v4m0 297v2m0 137v2m0 10v2m1-473v2m0 23v2m0 441v2m1-506v2m0 4v1m0 47v2m0 98v2m0 99v1m0 105v1m0 16v2m0 113v2m1-505v2m0 15v1m0 34v2m0 11v1m0 301v2m1-353v1m0 146v2m0 197v2m0 133v2m1-508v3m0 29v2m0 30v2m0 7v1m0 3v1m0 2v2m0 257v1m0 164v3m0 4v3m0 2v3m1-500v2m0 44v3m0 13v2m0 43v4m0 187v1m1-315v2m0 55v2m0 2v2m0 5v2m0 324v2m0 106v3m1-494v3m0 12v2m0 50v1m1-76v2m0 23v2m0 41v2m0 301v1m0 137v2m1-505v2m0 1v2m0 14v2m0 34v1m0 107v1m0 195v1m0 141v2m0 2v3m1-518v2m0 1v3m0 2v3m0 56v2m0 334v2m0 101v3m1-503v3m0 48v2m0 12v2m0 99v2m0 207v1m0 2v2m0 131v3m1-495v2m0 150v1m0 330v2m1-437v2m0 70v1m0 181v1m0 4v1m0 45v2m0 9v2m1-386v5m0 85v2m0 209v2m1-303v2m0 2v4m0 287v1m0 21v2m0 43v1m1-242v3m0 208v2m0 4v2m0 30v1m0 131v1m0 9v2m1-183v1m0 176v2m1-487v3m0 27v2m0 2v2m0 13v2m0 249v2m1-279v2m0 3v2m0 24v2m0 42v2m0 249v2m0 28v2m1-344v4m0 274v1m0 169v3m1-465v2m0 19v1m0 234v2m0 74v1m0 127v2m0 2v2m1-517v2m0 68v3m0 2v2m0 6v2m0 221v1m0 22v4m1-308v2m0 34v2m0 231v2m0 104v2m0 95v2m1-501v4m0 2v2m0 20v2m0 97v2m0 248v2m0 5v2m1-364v1m0 36v2m0 24v2m0 40v2m1-73v6m0 6v4m0 56v2m0 218v2m0 3v2m0 22v2m0 121v3m1-424v3m0 6v2m0 214v2m0 31v1m0 155v3m1-468v4m0 36v1m0 4v1m0 2v1m0 97v2m0 146v2m0 66v2m1-380v3m0 291v2m0 16v1m0 36v1m0 26v1m0 21v1m0 14v2m0 51v2m1-475v1m0 330v1m0 6v2m0 7v1m0 16v1m0 88v3m1-454v2m0 54v2m0 5v2m0 1v1m0 295v1m0 8v1m0 12v2m0 2v1m0 60v2m0 14v2m0 9v1m1-483v2m0 63v2m0 5v1m0 384v5m0 22v3m1-460v3m0 25v2m0 13v1m0 313v2m0 14v2m0 67v1m1-471v2m0 3v2m0 50v3m0 316v2m0 1v2m0 7v1m0 7v2m0 5v2m0 4v2m0 8v2m0 30v2m0 14v3m1-467v1m0 13v3m0 52v1m0 53v2m0 1v2m0 44v2m0 143v1m0 32v2m0 53v2m0 2v1m0 44v4m1-459v1m0 28v3m0 47v1m0 245v2m0 23v1m0 18v2m0 5v2m0 14v2m0 80v2m1-454v2m0 51v1m0 97v1m0 206v1m0 16v2m0 53v3m0 20v3m1-458v2m0 44v2m0 5v2m0 207v1m0 29v1m0 51v2m0 37v2m1-403v2m0 324v2m0 8v1m0 1v3m0 26v1m0 69v1m1-431v2m0 18v3m0 18v3m0 5v2m0 5v1m0 108v2m0 108v1m0 19v1m0 15v1m0 3v1m0 5v2m0 75v1m0 2v2m0 20v2m1-436v3m0 12v2m0 52v1m0 257v1m0 71v1m0 11v1m0 1v1m0 30v2m1-273v3m0 131v2m0 11v2m0 14v1m0 17v1m0 11v1m0 17v1m0 7v1m0 8v1m0 3v1m0 10v2m0 27v2m1-393v2m0 12v2m0 55v2m0 151v1m0 4v2m0 5v1m0 1v1m0 12v1m0 10v2m0 18v1m0 41v1m0 9v2m0 7v2m0 4v3m1-334v5m0 214v1m0 29v3m0 22v1m0 2v1m0 12v2m0 1v1m0 23v2m0 17v1m0 12v2m1-397v3m0 267v1m0 3v1m0 9v1m0 18v2m0 6v2m0 16v1m0 17v1m0 24v2m0 18v2m0 8v2m1-425v3m0 57v1m0 18v2m0 2v1m0 194v2m0 55v2m0 22v1m0 9v2m0 20v1m1-390v2m0 119v3m0 44v1m0 107v1m0 2v1m0 20v2m0 37v1m0 9v1m0 5v1m0 9v2m0 4v1m0 14v2m0 2v1m0 10v2m1-407v2m0 5v2m0 16v2m0 40v2m0 9v2m0 2v2m0 44v2m0 40v1m0 112v1m0 7v1m0 1v4m0 4v2m0 2v2m0 15v1m0 23v3m0 16v2m0 3v1m0 21v2m0 2v2m0 2v2m0 4v1m1-387v1m0 42v2m0 60v2m0 49v2m0 118v1m0 3v1m0 17v1m0 1v1m0 45v2m0 11v2m0 22v2m1-403v2m0 76v1m0 49v2m0 38v2m0 112v1m0 14v2m0 3v1m0 11v2m0 5v1m0 4v2m0 9v2m0 10v2m1-356v2m0 77v2m0 7v1m0 39v2m0 38v1m0 118v2m0 2v1m0 3v1m0 13v1m0 1v1m0 2v1m0 35v2m0 29v2m1-383v2m0 9v3m0 10v3m0 41v2m0 6v2m0 10v1m0 41v1m0 144v1m0 9v2m0 3v1m0 11v2m0 14v1m0 3v1m0 11v1m0 10v1m0 2v2m0 12v1m1-298v2m0 24v2m0 8v1m0 187v1m0 13v2m0 14v1m0 1v2m0 2v1m0 20v1m1-276v2m0 2v3m0 4v6m0 45v2m0 19v2m0 117v1m0 6v1m0 2v1m0 6v1m0 10v2m0 2v1m0 7v1m0 11v2m0 15v1m0 2v1m0 13v1m0 13v1m1-372v2m0 68v2m0 2v2m0 9v2m0 40v2m0 129v1m0 32v2m0 4v1m0 13v1m0 21v1m0 2v3m0 19v1m0 17v2m1-310v3m0 1v6m0 4v2m0 174v1m0 6v1m0 20v1m0 36v1m0 24v2m1-297v2m0 9v2m0 32v2m0 37v2m0 131v1m0 2v1m0 4v2m0 5v2m0 41v1m1-326v2m0 2v3m0 13v2m0 48v2m0 2v2m0 69v1m0 26v2m0 44v1m0 5v1m0 35v1m0 18v1"/>
<path stroke="#008dff" d="M0 0v2m0 71v2m0 193v1m0 12v2m0 32v1m0 2v2m0 13v2m0 7v2m0 2v2m0 11v1m0 22v1m0 16v2m1-394v2m0 18v1m0 76v2m0 158v1m0 4v3m0 2v1m0 2v1m0 3v2m0 14v1m0 3v1m0 20v1m0 6v2m0 8v2m0 21v3m0 8v1m0 140v1m0 3v2m1-512v3m0 7v3m0 3v2m0 61v2m0 2v1m0 25v1m0 5v2m0 6v2m0 135v1m0 44v2m0 6v1m0 12v1m0 18v1m0 28v1m0 12v2m0 114v2m1-505v3m0 53v2m0 27v2m0 32v1m0 151v1m0 12v1m0 42v2m0 34v1m1-360v1m0 75v4m0 3v1m0 74v1m0 103v2m0 55v2m0 8v1m0 19v2m0 41v1m0 103v2m1-444v4m0 15v2m0 45v1m0 38v1m0 166v1m0 5v1m0 3v1m0 4v2m0 7v2m0 2v1m0 11v1m0 24v1m1-398v1m0 83v4m0 3v2m0 71v2m0 3v1m0 9v1m0 112v1m0 46v2m0 12v1m0 3v2m0 11v1m0 14v1m0 21v2m0 91v2m0 8v2m1-517v3m0 8v1m0 14v2m0 144v1m0 109v1m0 2v1m0 64v2m0 62v2m0 84v2m0 4v3m1-504v2m0 57v1m0 5v2m0 6v2m0 53v2m0 37v4m0 122v1m0 6v1m0 2v1m0 71v2m0 16v1m0 15v1m1-416v2m0 16v3m0 83v2m0 176v1m0 30v1m0 53v2m0 7v1m0 1v3m0 3v1m0 30v2m0 84v2m1-494v1m0 76v3m0 38v2m0 165v2m0 13v1m0 83v2m0 20v2m1-408v2m0 76v2m0 42v1m0 43v1m0 229v2m1-390v1m0 49v1m0 64v4m0 1v1m0 154v2m0 12v1m0 37v1m0 57v1m0 13v1m0 9v2m0 80v2m1-497v2m0 17v2m0 40v1m0 2v1m0 10v1m0 40v2m0 42v1m0 117v2m0 36v1m0 9v1m0 22v2m0 3v1m0 48v2m0 3v1m1-397v4m0 43v1m0 55v2m0 1v2m0 205v2m0 5v2m0 10v2m0 1v1m0 6v2m0 38v1m0 91v2m1-424v3m0 7v2m0 37v1m0 227v1m0 20v2m0 38v2m0 81v3m1-493v3m0 50v1m0 231v2m0 19v1m0 21v1m0 11v1m0 10v2m0 5v2m0 2v2m0 1v2m0 12v1m0 4v1m0 27v2m1-363v2m0 63v1m0 9v3m0 182v2m0 9v2m0 11v1m0 8v2m0 1v1m0 1v1m0 12v1m0 4v2m0 11v1m0 16v1m0 2v2m1-281v2m0 156v1m1-255v3m0 35v1m0 2v3m0 10v2m0 213v1m0 17v2m0 39v1m0 21v1m1-383v2m0 6v2m0 10v2m0 3v2m0 32v3m0 1v2m0 3v1m0 10v4m0 2v1m0 89v2m0 1v2m0 140v1m0 27v4m0 93v1m0 6v1m1-444v3m0 43v1m0 32v2m0 210v1m0 57v2m0 47v1m1-407v6m0 4v3m0 15v2m0 34v2m0 12v2m0 4v2m0 40v1m0 198v1m1-316v2m0 114v2m0 1v2m0 179v2m0 88v1m0 98v2m1-497v2m0 66v2m0 262v2m0 54v2m0 105v3m0 2v5m1-486v3m0 5v3m0 51v2m0 225v1m0 36v2m0 148v3m1-504v3m0 129v1m0 38v2m1-166v3m0 57v1m0 2v2m0 14v2m0 5v2m0 37v2m0 38v1m0 127v2m0 9v2m0 36v2m1-351v2m0 2v2m0 9v2m0 8v6m0 23v2m0 18v2m0 53v1m0 187v1m0 23v2m0 3v2m0 156v4m1-502v3m0 6v2m0 42v1m0 115v1m0 129v1m0 34v2m0 15v2m0 38v2m0 112v5m1-516v2m0 9v1m0 9v5m0 45v2m0 249v4m0 2v2m0 10v1m0 4v1m0 5v1m0 168v2m1-439v1m0 266v1m0 19v3m0 134v3m0 2v2m0 3v4m1-462v1m0 31v1m0 206v1m0 30v2m0 179v2m0 2v3m1-515v2m0 8v3m0 57v1m0 5v2m0 232v1m0 3v1m0 9v1m1-301v2m0 2v2m0 44v2m0 25v2m0 213v1m0 28v2m0 166v3m1-452v2m0 434v2m1-417v1m0 43v2m1-82v1m0 12v3m0 26v1m0 35v2m0 253v1m0 10v1m1-386v2m0 2v1m0 49v2m0 7v1m0 8v2m0 431v1m1-503v2m0 8v2m0 52v3m0 50v1m0 212v1m0 169v3m1-505v2m0 12v2m0 37v2m1-60v3m0 12v3m0 37v2m0 12v2m0 1v3m0 2v2m0 33v2m0 300v2m1-362v1m1-54v2m0 64v2m0 451v3m1-504v1m1-24v2m0 7v1m0 18v3m1 95v2m0 396v2m0 3v3m0 4v3m1-20v3m1-461v6m0 5v2m0 328v2m1-406v2m0 15v3m0 7v2m0 23v2m0 15v1m0 453v4m1-522v3m0 63v6m1-72v2m0 8v4m0 1v2m0 8v2m0 12v2m0 29v2m0 445v2m0 2v3m0 2v2m1-462v3m0 3v2m0 443v2m1-506v2m0 42v3m0 210v1m0 249v3m0 4v3m1-518v3m0 109v2m0 162v1m0 79v1m1-350v2m0 4v3m0 33v2m0 2v3m0 2v1m0 445v2m1-350v2m0 209v2m1-382v2m0 6v2m0 45v1m0 68v2m0 388v2m0 8v2m0 3v2m1-528v3m0 10v3m0 104v2m0 130v2m0 48v1m0 212v3m1-512v3m0 4v1m0 5v2m0 2v2m0 487v3m1-520v3m0 64v2m0 8v2m0 92v1m0 1v2m0 188v2m1-367v2m1 29v3m0 27v2m0 3v2m0 4v2m1-72v2m0 2v2m0 6v1m0 13v2m0 29v2m0 68v2m1-119v4m0 6v1m0 42v2m0 4v1m0 440v3m1-503v2m0 15v2m0 143v3m0 337v3m1-451v1m0 2v2m0 59v2m0 391v2m1-461v1m1-49v3m0 5v9m0 477v4m0 8v2m1-517v2m0 19v1m0 26v2m0 71v2m0 243v3m0 135v3m1-506v2m0 7v1m0 8v1m0 46v1m0 449v2m1-517v2m0 17v2m0 39v2m0 5v2m0 7v1m0 2v1m0 43v2m1-118v2m0 4v4m0 343v1m0 142v2m1-510v3m0 9v4m0 2v2m0 33v1m0 10v1m0 13v3m0 43v1m0 380v3m0 14v2m1-508v2m0 40v3m0 68v1m0 234v1m0 14v2m0 124v2m1-488v3m0 30v2m0 7v6m0 3v2m0 283v1m1-354v2m0 12v1m0 43v1m0 1v2m0 107v1m0 136v4m0 4v1m0 3v1m0 4v2m0 182v2m1-505v2m0 7v2m0 53v2m0 97v2m0 138v2m0 205v3m1-520v2m0 50v2m0 7v1m0 1v2m0 110v3m0 193v2m1-370v2m0 19v3m0 46v2m0 256v1m0 171v2m1-480v2m0 4v3m0 30v2m0 2v2m0 242v1m1-304v2m0 9v3m0 1v2m0 32v2m0 14v1m0 261v2m1-340v2m0 27v1m0 4v2m0 29v2m0 451v2m1-510v2m0 4v2m0 3v1m0 1v2m0 39v3m0 8v2m0 434v2m0 2v2m0 2v4m1-508v2m0 38v1m0 9v2m1-53v3m0 57v1m0 55v2m1-64v3m0 4v2m0 424v3m0 8v5m1-514v2m0 1v3m0 3v1m0 53v2m0 224v1m0 206v2m1-501v3m0 8v4m0 57v1m0 430v3m0 14v4m1-518v3m0 55v2m0 5v1m0 276v1m0 13v2m1-343v2m0 43v2m0 301v2m1-368v2m0 49v1m0 5v2m0 316v2m0 3v2m1-90v2m0 26v1m0 37v1m0 99v2m1-438v2m0 52v3m0 49v2m0 254v1m0 5v2m0 17v2m0 53v3m0 12v1m1-483v1m0 12v2m0 10v1m0 4v2m0 22v2m0 273v1m0 68v2m1-395v1m0 20v2m0 35v2m0 2v4m0 5v4m0 261v2m1-341v2m0 8v2m0 46v2m0 7v2m0 394v2m1-445v3m0 6v2m0 24v2m0 114v2m0 130v2m0 28v1m0 143v2m1-470v2m0 44v2m0 19v1m0 48v2m0 275v1m0 58v2m0 7v2m1-461v2m0 112v2m0 2v1m0 248v2m0 31v1m0 25v1m0 29v2m1-471v2m0 6v5m0 112v3m0 3v2m0 154v1m0 123v1m1-406v2m0 17v2m0 5v3m0 40v2m0 224v2m0 62v1m0 54v2m1-420v1m0 61v3m0 59v1m0 163v2m0 63v2m0 17v1m0 26v1m0 1v2m0 11v2m0 14v2m0 2v2m1-427v2m0 45v2m0 13v2m0 13v2m0 4v2m0 33v2m0 160v1m0 34v1m0 27v2m0 8v1m0 38v2m1-405v2m0 15v2m0 54v2m0 208v2m0 12v2m0 2v1m0 60v1m0 71v3m0 4v2m1-439v2m0 2v2m0 3v2m0 2v2m0 2v2m0 56v4m0 46v2m0 202v1m0 13v2m0 9v2m0 25v2m0 27v2m1-411v2m0 10v2m0 39v2m0 7v1m0 13v4m0 2v2m0 277v2m0 63v2m0 5v1m1-431v1m0 6v2m0 8v1m0 27v2m0 26v2m0 218v1m0 25v1m0 4v2m0 46v2m0 8v2m0 10v2m0 18v4m0 4v2m0 7v2m1-419v2m0 39v2m0 226v2m0 1v2m0 14v1m0 13v1m0 37v2m0 6v1m0 10v1m0 17v2m0 13v1m1-412v2m0 15v3m0 50v2m0 209v1m0 12v2m0 5v1m0 19v1m0 2v2m0 8v1m0 12v1m0 37v3m0 11v2m0 24v2m1-366v1m0 27v2m0 197v1m0 37v1m0 14v1m0 11v1m0 8v1m0 9v4m0 8v2m0 4v2m1-392v4m0 4v3m0 48v1m0 210v2m0 3v2m0 5v1m0 2v2m0 2v1m0 16v1m0 14v1m0 31v4m0 12v1m0 3v1m0 7v1m0 10v2m1-376v2m0 36v2m0 3v2m0 2v2m0 25v2m0 214v1m0 9v2m0 17v2m0 8v2m0 5v2m0 7v2m0 5v1m1-370v2m0 2v4m0 14v2m0 41v2m0 106v1m0 93v1m0 9v1m0 10v3m0 13v1m0 16v1m0 8v3m0 5v2m0 20v3m1-236v2m0 166v2m0 5v2m0 1v1m0 43v1m0 4v2m0 6v2m1-360v3m0 6v5m0 6v2m0 40v1m0 9v5m0 181v2m0 8v2m0 7v1m0 1v1m0 4v2m0 19v3m0 34v2m0 12v1m1-365v2m0 88v2m0 64v2m0 17v1m0 102v1m0 5v2m0 10v2m0 24v1m0 33v3m0 1v3m0 20v3m0 1v1m1-367v2m0 1v2m0 36v2m0 2v2m0 16v2m0 90v1m0 90v1m0 15v1m0 20v1m0 15v1m0 3v1m0 2v1m0 2v1m1-321v2m0 47v2m0 2v1m0 18v2m0 201v1m0 4v3m0 3v2m0 6v2m0 17v1m0 3v1m0 5v2m0 17v2m0 19v2m1-359v5m0 39v2m0 8v2m0 19v2m0 66v2m0 1v1m0 121v1m0 4v1m0 3v2m0 14v1m0 7v1m0 13v1m0 15v1m1-348v2m0 20v2m0 32v2m0 7v2m0 3v1m0 11v2m0 230v1"/>
<path stroke="#00a7ff" d="M0 17v2m0 53v1m0 15v2m0 39v2m0 134v1m0 8v1m0 32v2m0 2v2m0 7v1m0 1v2m0 16v2m0 25v2m0 2v2m0 11v1m0 130v5m1-510v2m0 45v2m0 15v1m0 9v1m0 39v2m0 46v2m0 112v1m0 12v1m0 24v2m0 2v1m0 28v2m0 10v2m0 1v1m0 3v1m1-243v2m0 120v2m0 17v2m0 2v1m0 13v1m0 25v2m0 3v2m0 9v2m0 3v2m0 16v2m0 3v2m0 148v3m0 3v3m0 7v2m1-531v2m0 2v2m0 18v5m0 9v3m0 38v1m0 99v1m0 102v1m0 3v1m0 22v2m0 7v1m0 4v1m0 1v4m0 20v2m0 31v2m0 122v2m0 18v2m1-511v2m0 116v2m0 151v2m0 32v1m0 4v2m0 10v2m0 3v2m0 158v3m1-507v3m0 13v3m0 2v3m0 5v1m0 44v2m0 50v2m0 150v1m0 7v2m0 7v1m0 44v1m0 31v1m0 4v1m1-359v1m0 43v3m0 37v1m0 28v1m0 46v2m0 159v2m0 24v2m0 38v2m0 92v3m0 15v3m1-512v1m0 3v3m0 46v5m0 84v2m0 155v1m0 39v1m0 7v1m0 9v1m0 143v6m1-448v1m0 12v2m0 44v1m0 2v2m0 152v2m0 79v1m1-353v1m0 54v2m0 5v2m0 4v1m0 214v2m0 9v1m0 4v1m0 190v2m1-505v2m0 27v1m0 26v7m0 6v2m0 5v2m0 2v2m0 7v2m0 33v2m0 165v2m0 95v1m0 116v2m1-423v3m0 2v2m0 90v1m0 139v2m0 20v1m0 42v2m0 1v2m0 7v1m0 106v3m1-508v3m0 65v1m0 10v5m0 43v1m0 179v1m0 35v1m0 9v2m0 4v1m0 28v1m0 16v2m0 12v2m1-394v2m0 2v1m0 34v2m0 7v2m0 14v1m0 4v2m0 27v2m0 49v2m0 109v1m0 34v2m0 12v2m0 9v3m0 8v1m0 11v1m1-369v2m0 72v2m0 11v2m0 272v1m0 9v1m0 8v1m0 115v1m0 8v3m1-510v2m0 5v3m0 2v3m0 52v3m0 105v2m0 159v1m0 18v1m0 11v1m1-342v2m0 27v2m0 40v1m0 30v2m0 235v1m0 43v1m0 85v3m0 3v2m1-497v2m0 55v2m0 17v2m0 2v2m0 2v2m0 232v2m0 14v2m0 24v2m0 21v1m0 10v2m0 90v2m0 10v2m1-447v2m0 2v1m0 22v2m0 272v1m0 35v1m0 6v2m0 1v4m0 9v3m0 79v2m1-503v2m0 14v3m0 2v2m0 6v2m0 27v2m0 21v2m0 330v2m0 86v2m1-487v3m0 4v2m0 4v1m0 98v2m0 276v2m1-403v1m0 66v1m0 2v3m0 53v1m0 262v1m1-385v2m0 56v2m0 2v6m0 214v1m0 2v1m0 200v2m0 2v3m1-503v3m0 8v1m0 10v5m0 42v1m0 3v2m0 1v2m0 272v2m0 15v1m0 5v2m1-371v2m0 12v3m0 47v2m0 2v2m0 8v2m0 231v2m0 59v2m0 5v2m1-383v2m0 3v2m0 6v2m0 11v5m0 25v2m0 5v2m0 297v2m0 132v2m1-492v2m0 59v2m0 13v2m0 45v1m1-106v1m0 41v2m0 6v2m0 287v1m1-298v2m0 256v2m0 15v2m1-345v2m0 28v2m0 25v2m0 3v2m0 297v2m1-337v2m0 2v2m0 1v3m0 17v2m0 14v2m0 3v1m0 272v1m1-345v3m0 3v3m0 4v2m0 40v2m1-32v2m0 328v2m0 152v2m1-514v2m0 6v2m0 10v3m0 4v3m0 39v1m0 3v2m0 54v1m0 41v2m0 336v2m1-511v2m0 32v3m0 21v1m0 454v2m0 5v2m1-16v2m0 3v2m1-503v3m0 9v3m0 28v2m0 454v3m1-501v1m0 5v2m0 52v2m0 438v3m0 2v2m1-518v2m0 10v2m0 61v2m0 97v2m1-172v3m0 10v3m0 49v4m0 451v2m1-499v2m0 39v2m1-43v3m0 21v2m0 15v1m0 448v2m1-510v2m0 11v2m0 39v1m0 5v2m0 18v1m0 430v1m0 15v3m1-539v1m0 52v2m0 11v3m0 59v4m1-124v2m0 1v2m0 3v3m0 7v2m0 48v2m0 52v2m1-104v2m0 25v2m0 10v1m0 473v3m1-542v2m0 5v1m0 25v3m0 15v1m0 15v2m1-60v2m1-12v1m0 10v1m0 56v2m1-49v1m0 36v2m0 4v4m0 57v4m0 407v2m1-478v3m0 3v3m0 460v4m1-531v2m0 60v2m0 2v4m2-68v4m0 17v1m0 2v2m0 35v1m1-53v3m0 16v1m0 30v2m0 8v2m0 445v2m1-513v2m0 164v2m1-162v2m0 2v2m0 15v2m0 23v2m0 457v3m1-516v4m0 51v2m1-53v2m0 12v2m0 1v2m0 33v3m0 3v1m0 443v3m0 8v3m1-528v2m0 62v2m0 2v1m1-61v2m0 10v2m0 36v4m1-60v2m0 16v2m0 40v1m0 67v2m0 384v3m0 9v2m1-524v2m0 52v1m0 2v2m0 5v2m0 449v2m1-512v1m0 5v2m1-16v3m0 10v2m0 1v3m0 11v1m1-15v3m0 6v1m0 38v2m0 56v2m0 397v2m1-516v2m0 48v2m0 110v2m1-172v2m0 3v3m0 3v2m0 59v2m0 433v2m0 10v3m0 2v2m1-521v2m0 10v2m0 31v3m0 2v3m0 458v2m1-489v3m0 29v2m0 449v3m1-490v2m0 480v3m1-502v2m0 2v1m0 2v2m0 51v1m0 437v2m0 15v3m1-503v2m0 4v5m0 23v2m0 455v3m1-485v1m0 30v2m0 4v2m0 270v1m1-339v2m1 20v2m0 353v1m0 137v3m1-508v2m0 10v3m0 29v1m0 4v1m0 7v2m0 246v2m0 193v2m0 2v4m1-508v3m0 299v4m0 181v3m0 12v2m1-512v3m0 9v2m0 43v1m0 10v2m0 440v2m0 5v2m0 4v2m1-529v2m0 4v5m0 1v3m0 59v2m1-66v1m0 348v2m1-356v2m0 18v2m0 3v2m0 29v3m0 110v1m0 336v2m1-514v2m0 19v1m0 6v2m0 23v1m0 73v3m0 378v3m0 14v2m1-515v2m0 15v2m0 476v2m1-511v2m0 5v1m0 2v2m0 5v2m0 322v2m0 172v2m0 8v2m1-527v2m0 19v2m0 483v2m1-497v2m0 2v2m0 3v2m0 8v2m0 472v2m1-490v1m0 40v2m1-31v2m0 32v2m0 12v1m1-68v3m0 10v3m0 32v2m0 4v1m0 438v2m1-497v2m0 2v2m0 10v3m0 6v1m0 38v2m0 105v1m0 232v1m1-405v2m0 6v2m0 7v4m0 38v4m0 4v1m0 245v2m1-313v2m0 15v3m0 27v1m0 12v2m0 293v1m0 2v2m0 47v2m0 71v6m1-490v2m0 2v2m0 11v2m0 42v2m0 430v2m1-495v2m0 4v2m0 4v3m0 106v2m0 265v1m1-392v3m0 5v2m0 5v2m0 12v2m0 28v2m0 114v1m1-169v3m0 2v5m0 2v6m0 35v2m0 4v1m0 57v2m0 215v2m1-343v1m0 59v2m0 358v2m0 52v3m1-466v5m0 45v2m0 10v2m0 329v2m0 8v2m1-415v3m0 9v3m0 446v2m0 2v1m1-463v2m0 8v2m0 260v1m0 37v1m0 76v2m0 44v1m0 19v2m1-461v2m0 52v3m0 7v2m0 1v2m0 5v1m0 333v1m0 7v2m0 11v2m0 4v2m1-431v3m0 6v2m0 64v3m0 266v1m0 15v1m0 60v1m1-372v2m0 8v2m0 7v1m0 259v1m0 55v1m0 38v2m1-409v2m0 34v2m0 2v1m0 293v2m0 71v4m0 3v4m1-439v2m0 62v2m0 10v1m0 337v2m0 4v2m0 18v2m1-444v2m0 17v1m0 317v2m0 42v2m0 1v2m0 10v2m0 29v2m0 7v2m0 6v3m1-435v3m0 2v2m0 44v1m0 15v2m0 253v1m0 11v1m0 53v1m0 14v1m1-416v2m0 10v2m0 2v3m0 39v2m0 6v5m0 240v1m0 43v1m0 2v2m0 5v1m0 3v1m0 16v1m0 14v1m0 11v1m0 7v1m0 20v2m1-433v2m0 11v1m0 6v2m0 31v2m0 16v2m0 208v2m0 5v2m0 16v1m0 1v2m0 79v2m0 23v2m1-370v2m0 13v2m0 4v3m0 219v4m0 30v1m0 6v2m0 16v1m0 19v2m0 3v2m0 4v1m0 17v1m0 10v2m1-351v2m0 241v1m0 1v2m0 10v1m0 5v1m0 10v2m0 2v1m0 17v1m0 10v4m1-374v2m0 8v2m0 71v2m0 38v2m0 178v1m0 16v1m0 5v2m0 14v1m0 35v1m1-365v3m0 4v2m0 29v5m0 7v2m0 2v2m0 53v2m0 11v2m0 132v1m0 8v1m0 13v1m0 14v1m0 4v4m0 20v4m0 10v2m0 7v2m0 11v1m1-375v2m0 10v2m0 62v4m0 194v1m0 6v2m0 4v1m0 7v1m0 19v1m0 19v2m1-339v3m0 68v3m0 7v2m0 224v2m0 3v2m0 13v1m0 4v2m0 2v1m0 1v4m0 1v2m0 10v1m0 21v2m1-373v2m0 57v2m0 21v1m0 226v1m0 1v1m0 1v1m0 13v2m0 2v1m0 32v1m1-345v3m0 23v1m0 11v2m0 230v3m0 7v3m0 1v2m0 20v1m0 11v2m1-75v3m0 5v2m0 9v2m0 3v1m0 10v1m0 1v2m0 6v2m0 4v1m0 8v1m0 3v1m0 2v1m1-322v2m0 53v2m0 52v2m0 39v2m0 103v2m0 12v1m0 14v2m0 35v4m0 10v1m1-333v1m0 52v2m0 5v2m0 103v2m0 72v2m0 14v1m0 2v2m0 1v1m0 21v3m0 5v3"/>
<path stroke="#00c0ff" d="M0 5v4m0 12v2m0 5v2m0 33v2m0 10v2m0 10v1m0 43v2m0 1v2m0 140v1m0 6v2m0 8v1m0 8v1m1-303v3m0 2v2m0 5v1m0 4v2m0 5v1m0 6v3m0 19v2m0 7v1m0 2v2m0 67v1m0 35v2m0 107v2m0 2v1m0 18v1m0 212v3m1-518v6m0 123v2m0 179v2m0 40v1m0 14v2m0 10v2m0 143v3m1-505v2m0 7v2m0 28v3m0 23v1m0 44v2m0 40v1m0 146v2m0 10v1m0 3v2m0 39v2m0 135v3m0 10v2m0 1v2m1-520v1m0 10v2m0 26v3m0 14v2m0 6v2m0 53v1m0 38v1m0 104v2m0 41v1m0 45v2m0 3v1m0 148v2m0 4v2m1-497v1m0 48v1m0 7v1m0 4v2m0 247v1m0 18v2m0 147v3m1-507v1m0 6v2m0 47v2m0 19v4m0 206v2m0 1v2m0 53v1m0 21v1m0 11v1m1-379v3m0 61v3m0 9v2m0 42v2m0 166v1m0 72v1m0 1v2m0 16v2m0 116v2m0 11v1m1-509v4m0 42v3m0 14v2m0 3v1m0 6v2m0 42v1m0 173v2m0 63v2m0 1v1m0 11v1m0 2v1m0 123v2m1-488v2m0 48v1m0 7v2m0 231v1m0 53v1m0 7v1m1-315v2m0 9v2m0 53v2m0 176v1m0 91v1m0 109v4m0 3v3m1-516v6m0 4v2m0 18v1m0 20v2m0 10v2m0 9v3m0 243v2m0 7v2m0 3v1m0 45v2m0 6v2m0 2v2m1-367v2m0 33v2m0 2v2m0 2v2m0 61v1m0 173v2m0 25v1m0 1v2m0 56v2m0 8v2m1-407v3m0 2v2m0 8v1m0 4v3m0 34v1m0 4v2m0 65v2m0 151v2m0 69v2m0 51v1m1-400v2m0 18v2m0 312v1m0 30v1m0 17v1m1-383v2m0 3v1m0 9v2m0 56v2m0 44v1m0 209v2m0 45v2m0 9v2m0 2v1m0 94v2m1-479v3m0 8v2m0 25v2m0 17v2m0 326v1m0 2v2m0 6v2m0 73v1m1-471v3m0 8v2m0 2v2m0 18v4m0 118v1m0 216v2m0 14v5m0 68v2m0 11v3m1-499v3m0 24v3m0 34v3m0 14v3m0 89v2m0 188v2m0 127v3m0 4v2m1-476v2m0 39v2m0 4v2m0 333v1m0 102v3m1-510v2m0 6v2m0 57v3m1-73v2m0 7v1m0 47v1m0 11v1m0 58v1m0 176v2m0 67v1m0 24v1m1-382v2m0 9v1m0 2v2m0 2v1m0 23v2m0 430v2m0 4v2m1-495v3m0 19v2m0 49v2m0 95v2m0 193v1m0 37v2m1-402v3m0 10v4m0 38v2m1-45v2m0 38v2m0 9v2m0 307v1m0 130v3m1-502v3m0 17v1m0 28v2m0 4v2m0 5v1m0 104v2m0 333v3m1-507v1m0 3v2m0 40v2m1-48v3m0 7v2m0 37v2m0 2v3m0 4v2m0 58v2m0 221v2m0 6v1m0 161v2m1-508v3m0 33v2m0 12v2m0 12v2m0 45v1m0 214v1m1-316v2m0 43v1m0 7v2m1-55v2m0 38v2m0 58v2m1-128v3m0 5v2m0 4v2m0 12v2m0 30v5m0 4v2m0 7v1m0 441v3m1-510v3m0 38v2m0 7v2m0 3v2m0 3v2m0 3v2m0 227v1m0 206v3m1-501v4m0 2v2m0 2v2m0 29v2m0 4v5m0 4v2m0 446v2m1-451v2m0 438v2m0 3v3m0 7v2m1-472v1m0 8v5m0 61v2m0 377v3m0 2v2m1-511v3m0 4v2m0 14v4m0 22v2m1-55v3m0 8v3m0 40v3m0 7v1m0 218v1m0 231v2m1-501v3m0 4v2m0 28v2m0 8v2m1-40v3m0 43v2m0 440v8m1-460v1m0 5v3m0 3v1m0 8v2m0 431v3m1-521v5m0 13v3m1 6v2m0 491v2m1-523v2m0 2v3m0 524v5m1-524v4m0 7v2m0 52v3m0 50v2m0 394v3m1-513v3m0 13v1m0 495v3m0 3v2m1-516v3m0 7v1m0 3v1m0 26v2m0 112v2m1-159v4m0 5v3m0 1v2m0 24v4m0 67v2m0 397v1m1-521v5m0 22v2m1-36v2m0 6v2m0 5v2m0 16v2m0 21v2m0 478v3m1-539v3m0 7v3m0 9v2m0 31v2m0 6v2m0 468v3m1-529v3m0 8v2m0 42v3m0 462v2m1-529v5m0 46v3m0 5v1m0 7v2m0 459v1m1-525v2m0 3v1m0 19v4m0 498v3m1-519v2m0 4v1m0 11v3m0 2v2m0 24v2m0 453v2m0 2v3m1-517v2m0 13v3m0 2v3m1-32v2m0 13v3m0 39v2m0 10v2m1-65v1m0 27v2m0 37v2m0 456v3m1-532v2m0 24v2m1-6v1m1-16v1m0 8v2m0 8v1m0 493v3m1-521v2m0 62v2m1-55v2m0 47v2m1-12v2m0 11v4m0 7v2m0 439v2m0 11v2m1-534v2m0 2v2m0 16v3m0 152v2m1-176v2m0 16v2m0 7v2m0 142v1m1-164v2m0 44v7m0 113v2m1-170v5m0 55v2m1-66v2m0 12v2m0 49v3m0 447v2m1-510v2m0 511v2m1-399v3m0 391v3m1-508v2m0 494v3m1-2v3m0 21v3m1-483v2m0 452v5m1-513v5m0 4v2m0 4v2m0 36v2m0 260v1m1-320v3m0 128v2m0 182v2m0 208v4m1-526v4m0 15v3m0 1v3m0 3v2m0 21v3m0 8v2m0 61v2m0 393v2m1-515v3m0 42v2m0 2v2m1-55v2m0 60v1m0 275v1m0 182v3m1-526v2m0 14v2m0 6v1m0 25v1m0 20v1m0 446v2m1-519v2m0 7v2m0 45v2m1-60v5m0 52v2m0 444v3m0 12v3m1-523v3m0 52v2m1-55v3m0 12v2m0 4v2m0 6v2m0 27v3m0 452v2m1-517v5m0 13v1m0 2v2m0 4v2m0 34v2m1-50v3m0 5v2m0 5v3m0 24v2m0 2v3m1-49v2m0 4v2m0 36v1m1 319v2m0 113v4m1-500v1m0 52v2m0 441v2m0 2v2m0 2v1m1-505v2m0 61v3m0 3v2m1-51v2m0 36v2m0 434v2m1-485v1m0 5v3m0 2v2m1-4v2m0 2v1m0 2v2m0 6v1m0 16v2m0 18v1m0 5v1m0 413v4m1-461v2m0 39v2m1-57v2m1 6v1m0 99v2m1-122v3m0 41v2m0 9v1m0 2v2m0 255v2m1-323v2m0 29v1m0 18v2m0 7v1m0 8v2m0 413v2m1-456v3m0 27v1m0 9v2m0 226v1m1-286v1m0 2v2m0 4v3m0 39v2m0 289v2m0 27v1m0 12v1m0 7v2m1-407v2m0 9v3m0 2v2m0 9v1m0 27v3m0 322v2m0 30v1m0 3v2m0 19v2m0 5v2m1-435v2m0 5v3m0 2v3m0 7v1m0 32v2m0 227v1m0 46v1m0 73v1m0 21v3m1-437v2m0 22v3m0 27v2m0 219v2m0 114v2m0 36v2m1-430v5m0 9v2m0 45v1m0 317v2m0 22v2m1-389v2m0 38v3m0 220v1m0 131v2m0 11v1m0 8v2m0 2v1m1-383v3m0 310v2m0 25v1m0 12v2m0 6v1m0 16v2m1-438v2m0 3v3m0 11v2m0 7v2m0 27v2m0 3v2m0 4v2m0 3v2m0 8v1m0 306v2m0 41v2m0 2v1m0 4v1m1-423v2m0 289v1m0 28v2m0 10v2m0 21v2m0 6v1m0 4v1m0 9v1m0 2v2m0 5v1m0 31v2m1-437v2m0 2v3m0 38v3m0 3v2m0 252v1m0 69v2m0 12v2m1-398v1m0 11v4m0 47v2m0 276v1m0 30v1m0 8v1m0 13v2m0 32v2m1-413v3m0 7v2m0 44v2m0 236v1m0 31v2m0 27v1m0 12v4m0 1v2m1-395v2m0 25v2m0 37v2m0 19v1m0 40v2m0 162v1m0 31v2m0 11v1m0 42v1m0 1v1m0 3v1m1-381v2m0 6v2m0 52v1m0 233v2m0 3v1m0 25v1m0 18v1m0 36v1m1-376v4m0 2v3m0 9v2m0 26v1m0 9v2m0 2v2m0 221v2m0 15v2m0 13v2m0 5v2m0 30v2m0 7v2m0 1v2m0 11v2m1-394v3m0 7v3m0 1v2m0 15v3m0 32v3m0 208v1m0 19v2m0 29v2m0 21v1m0 1v2m0 4v2m0 3v1m0 5v2m0 18v1m1-388v4m0 4v3m0 9v1m0 3v2m0 29v2m0 4v1m0 244v1m0 1v1m0 15v3m0 4v2m0 10v1m0 16v1m1-359v3m0 2v3m0 45v3m0 16v2m0 20v2m0 178v1m0 1v1m0 1v1m0 5v3m0 5v1m0 8v1m0 11v1m0 13v2m0 2v1m0 9v1m0 3v4m0 7v1m0 4v2m0 18v2m1-388v2m0 3v2m0 4v2m0 43v2m0 69v2m0 156v2m0 10v1m0 3v2m0 11v1m0 6v1m0 5v3m0 14v1m0 11v2m1-356v2m0 30v1m0 32v1m0 226v1m0 5v2m0 1v1m0 10v2m0 2v2m0 3v3m0 7v4m0 15v1m1-350v1m0 14v3m0 5v4m0 29v2m0 1v2m0 16v1m0 209v1m0 6v1m0 7v1m0 13v2m0 28v1"/>
<path stroke="#00d5ff" d="M0 9v2m0 8v2m0 36v2m0 216v1m0 14v2m0 14v1m0 7v1m0 47v2m0 9v1m1-365v1m0 9v2m0 7v3m0 36v3m0 10v1m0 2v1m0 214v1m0 6v1m0 2v1m0 1v2m0 3v1m0 45v1m0 150v2m1-493v3m0 101v2m0 151v1m0 13v1m0 8v2m0 53v2m0 23v1m0 145v2m1-527v2m0 25v2m0 2v1m0 20v5m0 7v3m0 4v4m0 11v2m0 200v1m0 65v2m0 5v2m0 153v2m0 3v3m1-520v2m0 24v2m0 39v2m0 4v2m0 219v2m0 3v1m0 29v2m0 26v1m0 7v2m0 144v2m0 2v1m1-519v1m0 4v1m0 2v2m0 13v3m0 2v2m0 24v2m0 5v2m0 6v2m0 2v1m0 99v1m0 116v1m0 6v2m0 32v1m0 7v1m0 6v1m0 14v2m0 4v1m0 148v3m1-522v5m0 13v1m0 1v2m0 35v3m0 26v1m0 37v2m0 1v1m0 44v1m1-120v3m0 18v3m0 3v2m0 4v1m0 218v3m0 45v2m0 2v1m0 6v1m1-362v1m0 14v2m0 69v2m0 37v1m0 183v2m0 1v2m0 57v1m0 1v1m1-373v2m0 22v2m0 30v2m0 4v2m0 105v1m0 187v2m0 3v1m0 141v4m1-500v1m0 9v2m0 2v3m0 42v3m0 4v2m0 2v2m0 209v1m0 90v2m1-364v4m0 48v1m0 5v2m0 51v1m0 193v2m0 17v2m0 7v1m0 32v1m0 8v1m0 1v3m0 106v2m1-503v2m0 9v5m0 39v1m0 21v2m0 44v2m0 209v2m0 24v1m0 23v2m0 8v1m0 9v3m1-360v3m0 3v2m0 8v2m0 271v2m0 67v2m0 90v3m1-490v1m0 4v3m0 30v4m0 15v2m0 309v2m0 23v4m0 87v6m1-484v2m0 45v2m0 2v1m0 52v2m0 249v1m0 23v2m0 15v2m0 82v2m1-502v3m0 26v2m0 34v3m0 3v2m0 2v2m0 301v2m0 7v2m0 1v1m0 6v2m1-397v1m0 5v2m0 117v2m0 271v2m0 96v1m0 6v3m1-506v2m0 16v3m0 24v2m0 24v3m0 21v1m0 395v3m0 14v2m1-513v2m0 3v2m0 51v1m0 2v1m0 309v2m0 10v1m0 113v2m1-501v1m0 12v3m0 38v2m0 7v1m0 349v1m0 87v5m1-484v2m0 2v4m0 5v2m0 17v2m0 2v2m0 2v1m0 2v1m0 4v2m0 55v1m0 159v2m0 225v2m1-500v1m0 115v1m1-130v2m0 9v2m0 14v2m0 27v2m0 14v1m0 4v2m0 48v1m0 173v2m1-244v1m0 17v2m0 422v2m1-450v2m0 4v3m0 17v3m0 421v2m1-493v2m0 9v2m0 30v1m0 454v1m0 6v2m1-502v3m0 1v2m0 4v3m0 27v1m0 13v2m0 433v3m0 12v2m1-524v2m0 2v4m0 325v1m0 12v2m0 169v2m1-496v1m0 29v2m0 3v1m0 3v3m0 451v2m0 9v3m1-530v3m0 11v3m0 36v1m0 7v2m1-47v2m0 6v2m0 3v1m0 28v2m0 1v3m0 10v2m1-73v3m0 10v2m0 2v2m0 8v2m1-11v2m0 5v2m0 35v2m0 15v1m0 434v3m0 3v2m0 2v1m1-519v3m0 356v2m0 146v2m0 4v2m1-526v2m0 6v2m0 18v2m0 27v2m0 4v2m0 4v2m1-70v3m0 13v3m0 43v2m0 301v2m1-313v2m0 461v2m1-489v1m0 48v2m0 442v4m1-519v2m0 14v2m0 23v2m0 7v3m1-53v2m0 5v3m0 13v3m0 495v2m1-518v4m0 45v2m0 16v2m0 443v1m1-515v2m0 1v4m0 5v2m0 26v1m0 4v3m1-59v1m0 14v4m0 29v1m0 5v2m1-36v2m0 36v1m0 67v2m1-96v3m0 25v2m1-50v3m1-14v1m0 60v4m1-41v1m0 6v1m0 494v3m1-527v3m0 5v2m0 24v2m0 14v2m2 1v2m0 3v1m0 466v2m1-531v2m0 11v5m0 5v2m0 29v1m0 19v2m1-54v1m0 33v1m1-45v2m0 6v3m0 33v2m0 11v2m1-45v2m0 26v4m0 10v2m1-63v2m1 11v3m0 12v2m0 23v1m0 31v2m0 428v3m0 1v2m0 2v3m1-519v3m0 16v1m0 18v3m0 3v4m0 5v1m0 468v2m1-532v2m0 8v1m0 7v2m0 8v2m0 15v2m0 3v1m0 1v2m0 12v2m0 450v2m1-504v2m0 32v2m0 4v2m1-52v3m0 40v2m0 6v1m0 466v2m1-524v3m0 48v1m0 467v3m1-504v2m0 25v4m0 466v2m0 2v3m1-524v3m0 2v1m0 38v4m0 463v2m1-509v2m0 42v2m0 9v2m0 2v2m0 446v5m1-504v3m0 2v3m0 481v3m1-459v2m1-39v2m0 17v2m0 14v2m0 463v2m0 4v2m1-513v3m0 505v3m1-518v2m0 6v2m0 3v2m0 39v2m0 3v4m0 2v2m0 448v2m0 1v3m1-504v3m0 11v2m0 485v2m1-522v2m0 17v2m0 46v2m0 450v2m1-502v2m1-14v2m0 14v4m0 28v3m0 2v1m0 5v2m0 2v2m0 445v3m0 14v5m1-522v2m0 6v2m0 3v2m1-19v2m0 38v2m0 262v2m0 198v2m0 15v2m1-516v2m0 26v2m0 1v2m0 7v2m0 6v2m0 8v2m0 234v1m1-288v3m0 37v2m1-55v1m0 7v2m0 6v3m0 484v2m0 4v3m1-526v2m0 21v2m0 31v2m0 460v3m1-486v1m1-27v3m0 4v2m0 45v2m0 455v2m1-522v2m0 16v1m0 10v2m0 24v2m0 5v2m0 463v2m1-508v2m0 7v2m0 27v3m0 7v3m1-61v3m0 17v1m0 27v2m0 449v3m0 2v2m0 8v4m0 14v3m2-521v3m0 2v2m0 22v3m0 451v3m1-485v2m0 2v2m0 32v4m0 438v1m0 5v2m0 4v2m0 8v2m1-527v2m0 10v3m0 2v2m0 8v2m0 40v3m1-73v2m0 14v2m0 6v2m0 26v2m0 3v1m0 316v1m1-372v2m0 2v3m0 5v3m0 8v2m1-27v2m0 1v3m1 45v1m0 6v2m0 433v2m0 2v3m1-483v5m0 7v3m0 23v2m0 429v2m1-426v2m0 421v3m0 2v2m1-488v2m1 3v2m0 6v2m0 37v2m0 9v2m1-72v2m0 20v4m0 3v2m0 28v3m0 3v2m0 63v1m1-131v3m0 53v2m0 2v2m0 260v1m0 161v2m1-459v2m0 4v2m0 15v2m0 1v2m0 6v2m0 1v2m0 6v1m0 373v2m1-437v2m0 9v3m0 27v2m0 379v2m0 7v2m0 8v2m1-436v2m0 14v1m0 21v3m0 15v2m1-43v1m0 20v2m0 385v1m1-438v2m0 9v2m0 8v2m0 34v2m0 3v2m0 226v1m0 44v1m0 33v2m0 43v1m0 25v1m1-434v1m0 3v2m0 8v2m0 23v2m0 7v1m0 2v1m1-54v3m0 13v3m0 25v3m0 9v2m0 63v1m0 311v2m1-396v1m0 6v2m0 309v2m0 1v2m0 37v2m0 16v2m0 6v2m1-434v3m0 48v3m0 5v2m0 13v1m0 333v2m0 3v1m0 11v2m0 11v2m1-437v2m0 11v2m0 7v3m0 27v1m0 4v1m0 3v2m0 327v2m0 22v1m0 1v2m0 4v1m1-420v2m0 335v3m1-348v2m0 14v2m0 8v4m0 35v1m0 2v2m0 12v6m0 280v1m0 16v1m0 6v1m0 4v1m1-386v3m0 8v3m0 35v3m0 251v1m0 31v2m0 14v2m1-349v2m0 29v3m0 16v2m0 9v2m0 292v4m0 2v2m0 6v3m1-380v3m0 19v2m0 22v3m0 7v4m0 12v2m0 231v1m0 43v1m0 6v2m0 18v1m0 20v1m1-349v2m0 5v1m0 258v2m0 7v2m0 15v1m0 13v1m0 6v1m1-350v3m0 37v4m0 210v1m0 17v1m0 5v2m0 39v1m0 3v1m0 5v4m0 13v2m0 7v1m0 9v1m0 1v2m1-367v1m0 9v2m0 315v1m0 5v1m0 14v2m0 19v1m1-359v2m0 32v2m0 241v1m0 2v1m0 1v1m0 32v1m0 9v1m1-355v2m0 5v3m0 11v2m0 99v3m0 177v2m0 4v2m0 12v1m1-316v2m0 40v2m0 13v1m0 1v1m0 57v1m0 148v1m0 13v2m0 2v2m0 6v2m0 16v1m0 8v2m0 9v2m0 33v2"/>
<path stroke="#00eaff" d="M0 3v2m0 6v2m0 55v2m0 199v1m0 7v2m0 15v2m0 14v1m0 2v1m0 208v3m0 3v3m1-528v2m0 16v3m0 27v2m0 17v2m0 3v2m0 8v2m0 197v2m0 26v2m0 2v2m0 5v1m0 28v2m0 178v3m1-524v5m0 34v2m0 21v2m0 1v4m0 206v1m0 1v2m0 1v1m0 13v2m0 2v1m0 2v1m0 3v1m0 20v1m0 33v2m0 149v2m1-480v2m0 13v2m0 8v2m0 11v2m0 92v2m0 139v1m0 6v1m0 36v2m0 4v2m0 3v3m0 155v1m1-530v1m0 2v2m0 2v2m0 12v2m0 154v2m0 110v2m0 5v1m0 27v1m0 8v1m0 33v2m0 5v2m1-373v2m0 9v1m0 39v2m0 5v2m0 6v2m0 218v2m0 2v1m0 3v1m0 38v1m0 7v1m0 27v2m0 139v3m1-509v2m0 4v2m0 56v1m0 2v2m0 223v3m0 41v1m0 169v2m1-512v2m0 10v2m0 42v2m0 5v3m0 20v2m0 40v2m0 170v1m1-289v2m0 9v2m0 30v4m0 3v2m0 239v1m0 49v1m0 147v3m0 7v3m1-504v2m0 38v2m0 23v2m0 52v1m0 174v1m0 5v1m0 55v4m0 142v2m0 2v3m1-499v2m0 8v1m0 281v2m0 3v2m0 49v1m0 9v2m0 119v2m0 8v3m1-505v1m0 8v2m0 7v2m0 5v2m0 30v2m0 12v2m0 43v2m0 200v3m0 3v2m0 32v1m0 8v1m0 30v2m0 90v2m1-498v2m0 2v6m0 19v3m0 26v2m0 268v1m0 18v1m0 25v1m0 15v2m0 3v1m0 3v2m1-405v2m0 48v2m0 82v2m0 178v2m0 44v1m0 10v2m0 11v1m0 25v2m0 2v2m0 82v2m1-500v2m0 10v5m0 45v2m0 4v2m0 11v3m0 41v2m0 3v1m1-129v2m0 25v4m0 3v1m0 333v2m0 8v2m0 6v1m0 19v2m0 2v2m1-399v3m0 4v1m0 27v3m0 13v2m0 307v1m0 22v2m0 2v2m0 15v1m0 89v2m1-498v5m0 5v2m0 53v1m0 5v1m1-65v2m0 8v3m0 34v2m0 5v2m0 427v2m1-501v3m0 8v1m0 35v2m0 30v2m0 408v3m1-430v3m0 233v1m0 196v2m1-495v3m0 8v5m0 41v2m1-65v2m0 13v1m0 6v2m0 29v2m0 3v2m0 342v1m0 100v1m1-472v1m0 32v2m0 438v5m1-449v1m0 3v2m0 63v2m1-132v2m0 9v2m1 9v2m0 6v2m0 1v1m0 22v2m0 5v2m1-54v3m0 19v2m0 15v2m0 10v5m0 5v2m0 4v4m1-69v2m0 37v2m0 29v1m1-61v2m0 7v2m0 39v2m1-10v4m0 443v3m0 7v7m1-509v1m0 9v1m0 1v3m0 2v2m0 17v2m0 466v3m0 2v3m1-476v2m0 459v5m1-490v3m0 16v2m0 7v2m0 460v2m1-492v2m0 36v1m0 440v2m1-508v3m0 6v3m0 8v3m0 25v2m0 461v2m1-518v1m0 50v2m0 2v3m1-54v4m0 4v3m0 8v6m0 30v2m0 12v2m0 447v3m1-503v2m0 3v2m0 3v2m0 11v2m0 2v2m0 4v3m0 463v3m0 9v2m1-506v2m0 3v2m0 16v3m0 7v3m0 453v3m1-517v2m0 7v3m0 3v2m0 32v2m1-31v1m0 24v2m0 8v2m0 5v2m0 1v2m0 453v2m0 5v2m1-522v1m0 17v2m0 2v2m0 495v1m0 14v2m1-525v2m0 2v2m0 504v1m1-476v2m0 7v2m1-11v2m1-52v2m0 15v3m0 34v2m0 1v2m1-63v2m0 3v3m0 14v2m0 31v1m0 8v2m1-62v3m0 14v2m1 35v1m1-39v2m0 25v6m1-43v2m0 9v6m0 29v1m1-40v1m0 15v1m0 13v2m0 472v3m0 9v1m0 4v2m1-489v2m0 1v2m0 1v2m1-9v2m0 468v2m0 9v2m1-514v2m0 34v2m0 2v2m0 462v3m0 6v3m1-527v3m0 4v2m1 11v2m0 18v2m0 12v2m1-67v2m0 41v2m0 5v2m0 3v3m0 324v2m0 144v3m1-509v2m0 42v2m0 449v2m0 7v3m0 7v1m0 2v2m1-523v2m0 7v2m1-22v2m0 1v2m0 10v2m0 2v2m0 31v1m0 8v2m0 2v2m0 451v1m0 6v4m1-517v3m0 5v2m0 45v1m1-45v2m0 25v2m0 4v1m0 5v2m0 454v2m1-481v2m0 8v3m0 17v2m0 443v3m0 3v2m1-512v2m0 43v2m0 7v2m0 438v3m0 14v3m1-519v1m0 2v3m0 10v2m0 489v2m1-492v2m0 488v2m0 16v2m1-534v2m0 523v2m0 3v3m2-516v4m0 3v2m0 498v3m1-529v2m1 8v2m0 12v2m0 494v3m1-513v2m0 11v2m0 494v3m0 8v2m1-524v2m0 19v1m0 490v3m1-517v2m0 10v1m0 10v4m0 15v1m0 18v3m0 439v2m0 3v3m1-489v3m0 23v2m0 3v1m0 460v2m1-10v2m0 5v2m0 17v2m1-529v3m0 6v2m0 16v3m0 5v1m0 8v2m0 2v1m0 458v3m0 4v2m1-501v1m1-28v3m0 6v2m0 7v1m0 18v1m0 22v2m0 463v2m1-504v1m0 505v3m1-522v2m0 46v1m0 464v2m1-502v4m0 30v3m0 461v2m1-493v1m0 4v3m0 16v2m0 454v3m0 7v3m0 9v3m1-505v3m0 19v5m0 454v2m0 2v2m0 3v3m1-512v2m0 491v3m0 19v3m1-521v2m0 507v6m1-508v3m0 2v3m0 7v2m0 2v1m0 4v2m0 464v5m1-484v2m0 2v2m0 32v2m1-59v2m0 2v1m0 6v1m0 32v1m0 439v4m1-462v1m0 28v2m0 424v2m1-472v2m0 2v2m0 4v5m0 12v2m0 8v1m1-58v5m0 54v2m0 7v2m0 419v3m1-489v2m0 21v4m0 30v2m1-56v2m0 44v4m1-37v2m0 13v2m0 14v2m1-52v2m0 12v2m0 32v3m0 4v2m0 4v1m1-42v2m0 4v3m0 381v2m0 58v2m1-452v2m0 15v2m0 19v2m0 8v2m0 416v3m1-487v2m0 16v2m0 9v2m0 2v2m0 18v4m0 395v3m0 18v1m1-460v2m0 9v2m0 31v2m1-53v2m0 13v1m0 389v2m0 27v4m1-434v2m0 2v2m0 418v2m1-437v2m1 8v1m0 6v2m0 39v1m0 333v1m0 41v2m1-431v2m0 14v2m0 5v2m0 36v2m0 58v2m0 262v2m0 20v1m1-385v2m0 25v3m0 11v1m0 364v1m0 7v2m1-427v3m0 10v2m0 22v2m0 2v1m0 346v1m0 18v1m0 2v1m0 1v2m0 4v2m1-403v3m0 367v2m0 4v1m0 4v2m0 12v1m0 2v2m1-418v2m0 2v2m0 6v3m0 28v3m0 3v1m0 6v2m0 284v2m0 39v2m0 4v1m1-406v1m0 56v2m0 293v2m0 11v1m0 36v2m1-375v1m0 39v3m0 320v1m0 3v2m1-382v3m0 9v1m0 42v2m0 231v1m1-278v1m0 7v3m0 23v1m0 291v1m0 121v2m1-457v2m0 38v2m0 7v2m0 211v1m0 68v1m0 12v2m0 10v1m1-354v3m0 279v1m0 46v2m0 14v3m1-369v2m0 3v2m0 53v2m0 14v2m0 262v1m0 13v2m0 1v1m0 1v2m0 4v2m1-344v7m0 4v1m0 14v2m0 6v2m0 254v1m0 28v3m0 6v2m0 4v2m0 6v2m0 4v2m1-370v3m0 18v2m0 21v2m0 9v4m0 110v2m0 108v1m0 41v2m0 24v2m0 8v2m0 13v1m1-373v2m0 22v3m0 246v2m0 7v2m0 3v1m0 7v2m0 6v2m0 22v1m0 10v1m0 19v1"/>
<path stroke="#00faf8" d="M0 2v1m0 10v2m0 37v3m0 4v2m0 24v2m0 38v3m0 151v1m0 9v1m0 6v1m0 12v1m0 96v1m0 113v2m1-467v2m0 2v3m0 15v3m0 20v2m0 176v1m0 8v1m0 1v1m0 4v2m0 4v1m0 222v5m1-463v4m0 230v1m0 22v2m0 30v2m1-350v2m0 43v3m0 17v2m0 221v1m0 8v1m0 10v1m0 4v2m0 37v1m0 1v1m0 8v1m0 7v1m0 157v3m1-480v2m0 70v2m0 164v1m0 5v1m0 18v1m0 7v2m0 28v2m0 171v2m1-528v2m0 5v2m0 37v1m0 35v2m0 240v1m0 2v1m0 41v1m1-350v1m0 33v1m0 5v6m0 267v1m0 7v1m0 3v1m0 18v1m1-351v5m0 10v2m0 11v3m0 77v2m0 186v1m0 27v2m0 3v1m0 5v1m0 4v2m0 160v3m1-525v3m0 1v2m0 8v2m0 6v3m0 335v1m1-350v2m0 8v3m0 103v2m0 2v2m0 226v2m0 153v2m1-506v2m0 3v5m0 10v2m0 33v2m0 280v1m0 28v2m1-378v3m0 62v1m0 66v1m0 215v2m0 160v2m1-487v2m0 25v1m0 250v1m0 22v2m0 2v1m0 24v2m0 7v2m0 14v2m0 2v2m1-377v2m0 18v2m0 96v2m0 235v1m0 3v2m0 3v2m0 5v2m0 5v2m0 111v2m0 7v2m1-461v2m0 36v1m0 270v1m0 23v2m0 15v2m0 108v2m1-496v4m0 31v2m0 3v2m0 72v2m0 250v2m0 6v1m0 4v2m0 25v2m0 81v3m1-490v1m0 4v3m0 8v2m0 8v3m0 15v3m0 323v2m0 6v1m0 13v1m0 102v2m1-505v1m1-2v3m0 4v4m0 6v1m0 6v2m0 382v2m1-396v2m0 14v1m0 16v2m0 3v2m1-56v2m0 16v1m0 104v2m1-119v4m0 13v3m0 4v2m0 34v2m0 431v3m1-475v2m0 16v1m0 76v1m0 382v1m1-497v6m0 11v2m0 17v1m0 10v2m0 445v3m1-481v2m0 20v2m0 1v3m1-38v3m0 14v1m0 9v2m0 463v2m1-513v3m0 28v3m0 15v2m0 5v2m0 461v2m1-506v2m0 3v1m0 3v3m0 22v2m0 4v2m0 270v1m1-286v2m0 14v2m1-43v3m0 503v3m1-497v1m0 10v2m0 4v2m1-39v2m0 11v1m0 36v1m0 11v2m0 445v3m0 3v2m1-495v2m0 16v2m0 474v2m1-477v2m1-53v2m0 12v2m0 35v3m1-26v3m0 22v1m0 15v2m0 448v3m1-494v2m0 3v2m1 6v2m0 16v3m0 3v2m1-45v3m0 7v1m0 18v2m1-47v1m0 23v2m0 12v2m0 7v2m0 469v2m0 5v2m1-500v2m0 20v2m0 468v3m1-521v3m0 517v2m1-500v2m0 2v1m0 14v2m0 12v2m1-55v3m0 16v2m0 16v1m0 8v2m0 471v2m1-518v2m0 7v2m0 10v2m0 25v2m1-47v4m0 22v3m0 490v3m1-518v2m0 33v2m1-25v1m0 4v2m0 493v2m1-533v3m0 17v2m0 18v3m0 3v2m0 2v4m0 5v2m1-49v3m0 6v2m0 23v1m0 7v1m0 477v3m1-533v1m0 16v2m0 12v2m0 8v2m0 18v2m1-16v2m0 20v2m1-38v3m0 12v2m0 1v2m0 1v2m1-37v3m0 13v2m1-15v3m0 26v1m0 2v5m1-54v1m0 9v2m1-21v2m0 47v4m0 7v2m0 467v9m1-536v2m0 10v1m0 18v2m0 14v2m0 10v2m1-46v3m0 3v3m0 5v2m0 29v2m0 4v2m0 468v2m0 8v3m1-498v3m0 1v1m0 2v4m1-49v3m0 13v2m0 3v1m0 7v2m0 8v2m0 470v3m0 3v3m0 8v3m1-542v3m0 25v2m0 26v2m1-40v1m0 3v1m0 30v2m0 477v6m1-530v2m0 47v2m0 458v2m0 12v2m1-537v3m0 31v2m0 27v2m1-51v3m0 27v3m0 9v2m0 2v2m0 2v1m0 457v2m0 7v3m1-529v2m0 19v2m0 25v2m0 2v2m1-42v2m0 6v2m0 6v5m0 17v2m0 467v2m1-471v2m0 5v2m1-40v4m0 20v1m0 354v1m0 127v2m1-519v1m0 3v2m1 9v2m0 14v2m0 468v2m0 18v3m1-484v2m1-31v1m0 2v3m0 17v2m0 1v5m0 2v1m1-59v2m0 27v3m0 21v2m0 473v2m1-515v2m0 12v1m0 31v1m0 471v2m1-523v1m0 17v1m0 3v3m0 18v2m0 11v4m1-22v1m0 7v2m0 466v2m1-518v1m0 6v2m0 6v2m0 3v4m1-14v2m0 2v2m0 7v2m0 18v2m0 2v2m0 467v2m1-477v4m1 0v3m0 461v3m0 5v2m1-505v1m0 31v2m0 471v2m1-498v3m0 7v2m0 495v2m1-515v1m0 14v2m1-27v1m0 490v2m1-470v2m0 5v2m0 6v3m0 461v3m0 17v1m1-504v3m0 29v3m0 430v3m0 24v3m1-497v2m0 18v2m0 460v2m0 21v2m1-529v3m0 19v1m0 479v3m0 8v3m1-512v2m0 15v2m0 8v2m0 11v1m0 440v3m1-470v5m0 20v3m0 438v2m1-447v1m0 6v2m0 4v2m0 436v3m1-488v3m0 13v2m0 22v2m0 444v3m1-491v2m0 454v3m0 17v3m1-482v1m0 12v1m0 23v3m0 20v1m0 432v2m1-503v1m0 22v2m0 7v1m1-12v2m0 455v2m1-429v2m0 10v2m0 366v2m0 47v2m0 5v2m1-475v2m0 2v2m0 6v2m0 3v2m0 443v2m1-453v2m0 28v1m0 388v2m0 7v2m0 17v2m0 5v3m1-478v3m0 39v2m0 10v2m0 361v1m0 18v2m0 4v2m1-435v1m0 5v1m0 14v2m0 2v3m0 6v1m0 353v1m0 45v2m0 8v2m1-460v3m0 13v2m0 421v2m1-412v2m0 23v2m0 5v2m0 377v1m1-438v2m0 437v1m1-444v3m0 10v2m0 21v2m0 9v2m0 279v1m0 108v1m1-438v2m0 30v4m0 22v1m0 343v1m0 7v2m1-404v2m0 18v2m0 20v1m0 18v2m0 331v1m0 11v2m0 2v1m1-388v3m0 22v2m0 326v2m0 3v1m0 21v2m0 21v2m0 2v2m1-387v1m0 316v1m0 42v2m0 4v2m0 19v1m1-435v3m0 7v2m0 12v2m0 18v3m0 2v2m0 2v1m1-36v1m0 2v2m0 1v3m0 21v1m0 336v1m1-361v2m0 340v2m0 2v1m0 8v1m0 1v2m0 5v2m0 75v2m1-453v1m0 3v2m0 23v2m0 306v2m0 23v2m1-387v1m0 361v1m0 23v2m1-348v1m0 16v2m0 20v1m0 247v1m0 35v1m0 11v1m1-359v2m0 7v2m0 24v2m0 3v2m0 272v1m0 25v1m0 7v2m0 9v2m1-330v1m0 6v2m0 7v4m0 214v1m0 60v2m0 9v1m0 5v1m0 16v2m1-364v1m0 14v2m0 27v1m0 9v1m0 8v2m0 202v2m0 15v2m0 9v2m0 36v2m0 8v1m0 14v1m1-372v2m0 12v3m0 31v2m0 16v1m0 27v2m0 188v2m0 35v1m0 2v1m0 3v1m0 24v1m0 4v1"/>
<path stroke="#00ffe1" d="M0 15v2m0 22v1m0 15v2m0 228v1m0 15v1m0 3v1m0 219v3m0 8v2m1-466v2m0 17v2m0 33v2m0 147v2m1-251v2m0 3v3m0 93v1m0 175v1m0 56v2m0 11v2m0 160v2m1-523v2m0 18v2m0 95v1m0 151v3m0 3v1m0 1v1m0 1v1m0 1v2m0 11v1m0 50v1m0 179v3m1-542v1m0 18v3m0 6v2m0 30v3m0 5v1m0 2v2m0 222v1m0 8v1m0 6v2m0 10v2m0 32v2m0 155v3m0 5v3m1-506v2m0 21v2m0 9v2m0 244v1m0 2v2m0 23v2m0 2v2m0 184v2m0 3v3m0 2v1m1-512v2m0 7v1m0 12v2m0 264v2m0 29v1m0 6v1m1-287v2m0 19v3m0 50v2m0 168v1m0 218v3m1-497v2m0 25v2m0 260v1m0 48v2m0 1v2m0 150v2m1-490v2m0 14v1m0 3v4m0 2v1m0 5v2m0 65v2m0 232v2m0 147v2m1-507v2m0 43v2m0 277v1m0 33v2m0 19v2m1-376v1m0 2v1m0 10v3m0 5v2m0 24v2m0 277v1m0 23v2m0 3v1m1-332v2m0 11v2m0 1v5m0 292v2m0 5v2m0 7v1m0 1v1m0 13v2m0 16v1m1-396v2m0 34v3m0 8v2m0 345v2m0 3v2m0 101v2m1-466v2m0 2v3m0 9v3m0 309v2m0 8v1m0 11v1m0 8v1m1-382v2m0 366v1m0 2v2m0 16v2m0 99v3m1-455v2m0 345v1m0 4v4m0 85v1m0 4v4m1-476v2m0 15v3m0 16v2m0 2v2m0 4v3m0 324v2m1-396v2m0 8v1m0 29v2m0 453v6m1-504v2m0 2v2m0 4v2m0 10v2m0 9v3m0 10v1m0 261v1m0 185v2m1-472v5m0 10v2m0 2v2m0 2v2m1-56v3m0 19v2m0 7v2m0 8v2m0 3v2m0 454v2m1-486v2m0 2v2m0 30v2m0 449v2m1-474v2m0 18v1m0 5v2m0 9v1m0 443v3m1-508v3m0 2v2m0 16v1m0 476v1m0 2v4m1-501v3m0 25v2m0 469v2m0 2v2m0 2v6m1-524v1m0 3v2m0 5v5m0 28v1m0 3v2m0 461v3m1-485v1m0 12v2m0 470v2m1-500v3m0 9v2m0 491v2m1-468v1m1-57v3m0 6v2m0 3v2m0 35v1m0 1v3m1-13v2m1-42v2m0 2v2m0 10v4m0 11v2m1-4v2m0 488v2m1-515v2m0 31v2m1-37v2m0 7v1m0 11v2m0 17v1m0 12v1m0 468v2m1-477v4m0 465v3m1-512v2m0 27v3m0 469v2m0 3v3m1-462v2m0 460v5m2-472v2m0 469v5m1-484v3m0 481v3m1-526v1m0 11v3m0 24v4m0 4v2m1-60v2m0 9v2m0 8v2m0 33v3m0 471v3m1-508v3m0 22v2m0 481v1m1-486v2m0 479v2m1-483v2m0 1v2m0 488v2m1-530v2m0 9v3m0 1v2m0 2v3m0 11v4m0 2v3m0 1v2m0 474v2m1-500v2m0 11v2m0 486v2m1-511v5m0 497v3m1-509v3m0 3v2m0 15v2m0 489v2m1-509v2m0 19v2m0 483v3m1-514v3m0 30v2m0 5v2m0 463v4m0 1v2m1-524v3m0 9v2m0 4v2m0 30v1m0 469v3m1-501v2m0 28v2m1-52v2m0 28v1m0 28v2m0 454v3m1-471v2m1-19v2m0 491v3m1-502v2m1 488v2m1-523v2m0 13v2m0 6v3m0 4v1m1-5v2m0 6v1m0 8v2m0 483v2m0 2v2m1-515v2m0 4v2m0 11v2m0 1v4m0 470v2m1-492v2m0 4v2m0 475v3m1-492v2m1-5v2m0 3v2m0 9v2m0 3v2m1-36v2m0 24v1m0 9v4m0 9v2m0 468v2m1-503v2m0 16v2m1-16v2m0 14v1m1-31v3m0 10v3m0 2v1m1-40v2m0 18v2m0 505v2m1-481v3m0 9v4m0 464v5m1-529v1m0 53v1m0 462v2m0 13v2m1-507v3m0 27v3m0 467v2m0 2v3m1-501v3m0 2v3m0 3v2m1 10v1m1-41v2m0 29v2m0 483v3m1-514v1m0 3v3m0 2v2m0 9v1m0 484v2m0 2v2m1-484v2m0 15v2m0 463v3m0 9v2m1-530v2m0 35v2m0 2v2m0 470v2m0 3v3m1-522v3m0 5v2m1-14v2m0 3v2m0 29v1m0 474v3m1-501v3m0 3v2m0 17v3m0 480v2m0 2v3m1-519v1m0 28v2m0 476v2m1-508v2m0 27v3m1-5v2m0 467v3m0 10v5m1-476v2m0 8v2m0 449v3m0 9v2m0 7v2m1-526v3m0 6v2m0 2v4m0 11v2m0 13v2m0 450v2m0 17v2m0 3v3m1-493v2m0 2v2m0 476v2m1-507v2m0 8v2m0 13v2m0 446v2m1-449v2m0 4v2m0 441v3m1-465v1m0 13v2m0 453v1m1-455v1m0 6v4m0 434v1m0 6v3m0 3v3m1-477v3m0 9v3m0 462v2m1-507v2m0 490v2m1-480v2m0 12v2m0 8v2m0 437v2m0 7v3m1-466v2m0 5v2m0 15v1m0 430v3m1-457v3m0 1v3m0 444v2m0 4v3m2-4v1m1-430v1m0 389v2m0 9v2m0 4v1m0 3v2m0 5v3m0 5v3m0 49v2m1-520v2m0 8v2m0 3v2m0 411v2m1-403v2m0 404v3m0 11v2m1-448v3m0 24v3m0 405v2m1-452v1m0 22v3m1 16v2m0 11v1m0 289v1m0 59v1m1-356v2m1-39v4m0 382v2m0 3v1m0 31v2m1-410v2m0 397v4m0 9v1m1-395v2m0 14v2m0 274v1m0 59v2m0 17v1m1-388v5m0 15v1m0 11v2m0 353v2m0 10v1m1-381v2m0 324v1m0 18v2m1-383v2m0 26v2m0 4v3m0 14v1m0 5v1m0 294v2m0 31v1m1-350v2m0 335v1m0 2v2m0 6v2m1-371v3m0 334v2m0 1v2m0 11v2m0 2v2m0 71v3m1-443v2m0 332v1m0 16v3m0 1v2m0 11v1m1-375v3m0 312v1m0 62v2m1-398v2m0 46v2m0 293v1m0 30v2m0 6v2m0 2v1m0 2v3m0 13v1m1-392v5m0 321v1m0 23v2m0 1v2m0 2v2m0 11v1m1-353v3m0 18v2m0 2v2m0 253v1m0 25v2m0 6v1m0 5v1m0 8v3m0 5v2m0 1v1m0 4v1m0 16v1m1-381v2m0 42v2m0 12v3m0 213v1m0 36v1m0 2v2m0 10v1m0 3v1m0 2v1m0 15v1"/>
<path stroke="#00ffb4" d="M0 26v2m0 2v2m0 3v2m0 5v3m0 22v1m0 2v2m0 56v1m0 4v1m0 152v1m1-272v2m0 32v2m0 241v2m1-265v2m0 24v4m0 228v1m0 27v1m1-305v3m0 2v2m0 18v2m0 11v2m0 246v1m0 4v1m0 10v1m0 51v2m0 153v3m1-521v2m0 10v3m0 26v2m0 2v2m0 6v2m0 28v2m0 219v2m0 7v2m0 9v1m1-294v2m0 24v3m0 66v4m0 172v1m0 1v1m0 8v2m0 12v1m0 5v2m0 34v1m0 156v3m1-509v3m0 26v2m0 1v3m0 246v1m0 217v3m1-499v2m0 2v2m0 278v2m0 39v1m0 165v2m1-489v3m0 317v5m0 158v3m0 7v2m1-508v2m0 14v3m0 22v3m0 4v2m0 250v2m0 56v2m1-344v2m0 289v1m0 54v2m1-361v1m0 11v2m0 6v2m0 15v2m0 280v1m0 1v1m0 40v2m0 129v3m1-469v2m0 12v2m0 9v2m0 276v1m0 12v2m0 10v4m0 8v2m0 1v2m0 5v1m1-382v2m0 8v2m0 9v4m0 40v2m0 284v1m0 35v2m0 90v2m0 6v2m0 10v4m1-514v5m0 44v2m0 322v2m0 15v1m0 10v2m0 7v2m0 101v3m1-487v3m0 363v2m0 107v3m1-475v1m0 16v2m0 342v1m0 7v1m0 105v2m1-510v2m0 13v2m0 7v2m0 8v3m0 21v2m0 2v2m0 446v3m1-476v2m0 16v1m0 446v2m0 11v2m1-456v2m0 439v5m1-452v2m0 13v1m1-29v1m1-5v2m0 6v3m0 3v1m0 14v2m0 439v1m0 1v4m1-480v3m0 10v2m0 1v2m0 448v2m0 14v3m1-484v2m0 3v2m0 5v2m0 460v2m1-501v2m0 25v3m0 8v2m0 1v2m0 462v2m1-496v2m0 21v3m0 476v5m1-477v2m0 5v1m1-24v3m0 475v3m1 15v2m1-479v1m1-44v2m0 35v5m1-42v2m0 34v2m0 478v2m1-507v2m0 20v1m0 7v1m1-7v1m0 6v2m1-15v5m1-33v2m0 3v2m0 43v1m0 471v6m1-514v2m0 6v1m0 476v2m0 16v5m1-508v2m0 20v2m1-53v1m1 48v4m1 480v4m0 9v2m1-542v3m0 57v2m0 479v2m1-517v3m0 11v2m0 491v2m1-508v2m0 14v4m0 7v2m0 475v3m1-513v1m0 506v2m1-503v2m1-17v2m0 20v5m0 483v3m1-497v3m0 10v1m0 8v1m1-32v2m0 22v3m0 5v2m0 480v3m1-478v1m0 476v3m1-525v1m0 14v2m0 3v2m0 1v2m0 492v2m1-505v3m1-5v2m0 2v3m1-4v2m0 15v2m0 483v1m1-477v2m1-22v1m0 15v4m0 466v3m1-486v2m0 8v2m0 480v2m1-509v1m1-18v2m0 23v2m0 505v2m1-499v2m1-33v3m0 39v2m0 5v1m0 471v2m1-524v3m0 17v1m0 12v1m1-9v2m0 9v2m1 477v3m1-499v7m0 10v2m1-16v1m1-16v2m0 491v2m1 11v3m1-493v2m0 14v2m0 6v2m0 2v1m0 458v6m1-497v4m0 4v2m0 4v2m0 486v4m1-517v2m0 30v6m1-31v2m0 5v3m0 7v2m0 2v4m1-31v2m0 14v4m0 7v1m0 466v2m1-498v2m0 10v4m0 13v2m0 487v5m1-508v3m0 484v2m0 3v2m1-506v3m1 509v3m1-505v2m0 496v2m1-485v4m0 8v2m1 462v2m0 5v3m1-487v1m0 2v1m0 470v2m0 5v2m1-491v1m0 13v1m1 476v3m0 8v3m1-510v2m0 9v2m0 10v1m0 478v3m1-515v2m0 25v2m0 483v4m1-489v2m1-14v2m0 465v1m0 17v3m1-508v2m0 17v2m0 485v2m1-481v3m0 5v2m0 11v2m0 450v3m1-484v1m0 7v3m1-14v2m0 6v1m0 459v3m0 12v2m1-26v3m1-467v2m0 3v1m0 7v5m1 7v2m1-39v2m0 18v3m1 7v1m0 440v2m1-488v2m0 10v1m0 12v2m0 5v1m0 14v2m0 442v3m1-460v5m0 342v1m0 95v3m0 4v3m1-448v2m0 4v4m0 444v2m1-447v1m0 399v2m0 27v2m0 24v2m0 26v3m1-467v2m1-18v1m0 393v2m1-398v1m0 385v2m1-401v3m0 5v2m0 397v2m0 4v1m0 2v2m1-406v2m0 2v1m0 393v2m1-432v3m0 5v2m0 4v2m0 6v3m0 15v2m1-24v3m1-15v2m0 380v2m0 8v2m0 2v2m1 0v1m1-413v2m0 6v2m0 369v2m0 12v2m0 11v1m0 10v2m0 7v2m0 3v2m1-431v2m0 26v2m0 354v2m0 18v1m0 3v2m1-389v1m0 21v2m0 325v1m1-354v2m0 376v2m0 67v2m0 11v3m0 14v2m1-462v2m0 7v3m0 329v2m1-365v2m0 2v2m0 28v2m0 306v2m0 3v2m0 18v2m0 2v3m1-368v2m0 22v1m0 324v2m0 7v2m0 2v2m0 2v2m0 4v1m1-386v2m0 7v2m0 5v2m0 17v2m0 18v2m0 249v2m0 19v1m0 33v2m0 2v1m1-346v2m0 3v2m0 317v1m0 2v1m0 14v1m1-380v1m0 20v3m0 12v2m0 300v1m0 27v1m0 18v2m0 4v1m1-94v2m0 16v2m0 4v1m0 2v1m0 7v5m0 8v2m0 3v2m0 2v1m0 3v2m0 3v1m0 2v1m0 2v1"/>
<path stroke="#00ff8e" d="M0 32v3m0 2v2m0 494v3m0 2v3m1-501v2m0 86v4m0 158v2m0 4v1m0 77v1m0 153v4m1-516v2m0 34v1m0 16v1m0 58v1m0 152v1m0 2v2m0 4v1m0 3v3m0 7v1m1-5v1m0 10v2m0 40v1m1-344v2m0 18v2m0 4v1m0 12v3m0 11v3m0 61v2m0 174v1m0 16v1m0 206v5m1-452v1m0 224v1m1-277v3m0 2v4m0 7v3m0 82v2m0 200v2m0 3v2m0 188v4m1-513v2m0 11v2m0 6v4m0 3v2m0 263v2m0 28v1m1-334v2m0 40v2m0 267v2m0 37v2m1-283v1m0 247v1m0 39v1m0 152v2m1-481v2m0 3v2m0 279v1m0 41v1m0 2v2m0 2v1m1-329v2m0 2v4m0 280v1m0 26v2m0 11v4m0 7v1m0 134v2m1-177v2m0 13v2m0 31v1m1-360v2m0 10v4m0 315v1m0 9v1m0 2v2m0 2v2m0 1v2m0 19v2m0 1v1m0 101v3m1-496v3m0 17v2m0 321v2m0 16v2m0 8v2m0 5v2m0 5v2m0 3v2m0 102v3m1-450v2m0 306v2m0 9v2m0 5v1m0 15v1m1-380v2m1-5v2m0 2v2m0 13v2m0 21v2m1-32v3m0 8v2m0 4v2m0 459v3m1-478v2m0 473v1m1-3v2m0 3v2m1-481v2m0 5v2m0 4v2m1 455v2m0 6v1m1-462v3m1-29v2m0 3v3m0 4v1m1-34v2m0 25v1m0 16v1m0 468v2m3-493v3m0 7v2m0 7v1m0 6v2m1-20v5m0 4v2m1-14v2m0 2v2m0 9v2m0 8v2m0 474v2m1-498v4m0 5v1m0 15v2m1-48v2m0 23v2m0 2v1m0 8v1m0 14v2m0 457v2m1-492v3m0 485v4m1-526v3m0 26v2m0 11v3m0 475v7m0 5v3m1-508v2m0 2v1m0 490v4m1-502v3m0 12v4m0 468v5m0 8v2m1-6v2m1-512v3m0 17v2m0 495v2m1-501v1m0 484v3m0 6v3m0 2v2m1-497v2m0 483v2m1-497v2m0 6v2m0 487v2m1-489v3m0 484v3m1-490v3m0 493v3m1-529v1m0 20v2m0 9v1m1-3v3m0 20v2m0 474v2m1-5v2m1-515v2m0 512v5m1-503v3m1 500v3m1-508v4m1 483v2m1-478v2m0 489v2m1-521v2m0 19v2m0 6v2m1-15v1m0 4v1m1 8v3m1-18v1m0 17v3m1-19v1m0 17v2m1 477v2m1-487v2m1-10v2m0 486v3m0 14v3m1-515v2m0 11v6m1-36v2m0 4v3m1 26v1m1-35v1m0 4v3m0 1v2m0 2v2m0 3v2m0 2v1m1-33v2m0 42v2m0 483v3m1-506v2m0 19v2m0 470v5m1-509v2m0 503v3m1-510v3m0 23v2m0 467v2m0 20v3m0 2v3m1-489v2m0 463v2m1-480v3m0 2v4m1-12v2m0 4v1m0 5v1m0 486v3m1-10v3m0 2v2m1-11v2m1-486v1m0 486v2m1-494v2m0 7v2m0 1v3m0 475v3m0 2v6m1-504v2m0 490v2m0 10v3m1-508v3m0 493v2m1-8v2m1-486v2m0 19v2m1-29v3m0 5v2m0 489v3m1-486v1m1-32v2m0 508v3m0 7v3m1-19v2m0 10v3m1-492v2m0 490v3m0 3v3m1-514v3m0 10v2m1-15v3m0 4v1m0 15v1m0 458v2m0 12v3m0 6v3m0 4v3m1-34v3m1-494v1m0 508v3m1-519v2m0 7v1m0 9v3m0 12v1m0 455v3m0 6v3m1-480v3m0 462v3m1-466v2m0 1v7m0 446v6m1-469v2m0 1v2m0 14v2m0 443v2m1-446v2m0 451v3m1-441v2m1-39v4m0 465v3m1-475v2m0 20v4m0 443v2m1-15v3m0 4v2m1-460v3m0 8v1m0 432v2m1-428v3m0 437v2m1-454v1m0 427v2m0 33v2m0 3v2m0 17v5m1-494v5m1-16v3m0 5v2m0 11v2m0 396v2m0 16v2m1-431v2m0 7v3m0 3v2m0 405v1m0 4v2m1-446v2m0 15v2m0 5v3m0 4v2m0 3v2m0 392v2m0 10v4m1-435v3m0 6v2m0 413v1m1-408v2m1-20v1m0 425v2m0 6v2m1-422v2m0 33v2m1-64v2m0 30v4m0 358v2m0 8v1m0 9v1m0 14v2m1-388v2m0 356v1m0 22v2m1-408v2m0 13v1m0 366v2m0 6v2m1-417v3m0 24v2m0 13v2m0 328v1m0 9v2m0 2v1m0 4v1m0 1v2m1-364v2m0 10v3m0 9v2m0 355v2m0 83v2m1-464v1m0 5v2m0 345v6m0 86v3m1-455v2m0 13v5m0 327v2m0 2v3m0 16v2m0 39v2m1-420v2m0 9v2m0 306v1m0 19v1m1-327v2m0 340v1m0 12v1m1-363v2m0 341v2m0 1v1m0 2v1m1-54v1m0 17v2m0 5v1m0 1v2m0 10v1m1 3v2"/>
<path stroke="#00ff75" d="M0 65v2m0 464v2m1-508v2m0 9v2m0 4v3m0 243v1m0 246v5m1-487v2m0 4v3m0 13v1m0 221v2m0 8v2m0 222v4m0 7v2m1-502v2m0 84v2m0 174v1m0 228v2m1-501v2m0 21v1m0 250v1m0 4v2m0 2v1m1-283v2m0 11v2m0 269v2m0 4v1m0 199v2m1-487v5m0 262v1m0 15v1m1-291v2m0 2v2m0 274v2m0 9v2m1-291v2m0 9v2m0 6v2m0 298v3m0 4v2m0 157v2m0 2v2m1-491v2m0 10v2m1-14v2m0 281v3m0 5v4m0 2v2m0 28v1m0 10v1m0 1v1m1-314v3m0 289v1m0 1v4m0 7v1m0 2v2m0 145v3m1-517v2m0 43v2m0 8v2m0 311v3m0 5v1m0 130v5m1-495v2m0 367v4m0 2v4m1-357v1m0 344v2m0 2v1m1-354v2m0 2v2m0 6v1m0 7v3m0 333v1m0 9v3m1-368v3m0 6v2m1-10v2m0 4v4m0 3v2m0 451v2m1-473v2m0 7v4m0 8v2m2-39v2m0 29v2m0 459v2m2 5v5m1-476v3m0 474v2m1-481v3m0 8v1m1 473v1m1-7v2m1-480v2m0 474v2m0 9v2m1-484v1m0 477v2m1-495v3m0 8v1m0 2v3m1-6v2m1-10v2m1 0v4m0 492v3m1-505v2m0 2v2m0 17v2m0 464v1m1 1v2m1-488v1m0 485v2m1-2v2m0 3v1m1-494v5m0 2v3m0 482v2m0 9v3m1-28v3m0 23v2m1-505v1m1-3v2m0 498v2m0 11v2m1-504v1m1-13v4m0 3v2m0 3v2m0 483v3m1-486v3m1-10v3m0 494v2m1 2v1m1-507v2m0 501v3m0 7v2m1-506v2m0 493v2m0 6v3m1-523v1m2 10v2m0 501v3m1-511v3m0 2v1m1 511v3m1-518v1m0 7v2m1 0v3m0 490v2m1-507v2m0 6v1m0 484v3m0 6v3m1-3v2m1-502v1m1-3v2m0 2v1m0 4v3m0 492v3m1-499v5m0 484v3m0 1v2m0 6v3m1-11v2m1-494v2m1-10v2m0 2v6m0 483v6m1 1v2m0 2v2m0 2v2m1-23v3m1-487v2m1-5v2m0 495v3m1-489v1m0 482v3m1-497v2m0 2v2m0 489v3m1-486v1m0 2v1m0 480v2m2-498v2m0 12v2m1 478v2m1-476v1m0 469v2m0 12v3m1-498v2m0 478v2m1-482v3m1-10v4m0 6v2m0 480v3m1 15v2m1-501v2m0 485v2m1-504v3m0 2v2m0 497v2m1-501v2m0 16v2m1-24v6m4-4v1m1 486v3m1 3v2m0 2v3m1-523v2m1 488v3m1-473v2m0 483v2m2-482v1m0 3v2m0 3v2m0 450v1m2-465v2m0 12v3m0 440v5m0 13v3m2-472v2m0 447v2m1-5v1m1-441v4m1-14v2m0 4v4m0 433v2m1-471v2m0 32v3m0 415v2m0 30v2m1-28v2m1-433v2m0 417v2m1-11v3m1-407v1m0 5v3m0 397v1m1-415v1m0 421v1m2-397v2m0 383v2m1-401v2m0 378v1m0 8v1m1-399v2m0 3v2m0 384v2m0 9v2m1-419v2m0 15v1m0 1v2m0 366v2m0 21v2m0 7v2m1-397v2m0 350v2m0 10v2m1-20v2m0 3v1m0 3v1m0 102v2m1-453v2m0 334v2m0 4v2m0 13v2m0 52v1m0 7v2m0 18v2m0 19v3m1-110v2m0 7v1m0 54v3m0 2v2m0 3v2m0 12v3m1-466v2m0 363v1m0 2v1m0 9v1m0 5v2m1-367v2m0 323v2m1-336v3m0 2v2m0 343v2m0 6v2m0 5v1m1-370v3m0 339v1m0 8v1m0 2v2m1-387v2m0 24v2m0 303v1m0 36v1m0 1v3m0 6v2m1-50v1m0 4v1m0 12v1m0 19v2m0 10v1"/>
<path stroke="#00ff5d" d="M0 50v2m1-7v1m0 17v2m1-31v3m0 9v4m0 250v1m1-171v1m0 174v1m1-261v2m0 19v2m0 61v1m0 179v1m0 8v1m1-282v2m0 278v2m1-312v1m0 24v2m0 291v2m1-283v2m0 12v2m0 255v1m0 30v2m0 177v2m1-490v2m0 3v2m0 273v2m0 207v3m1-480v1m0 268v4m0 6v1m0 28v2m0 165v3m1-490v2m0 7v2m0 2v2m0 2v2m0 268v1m0 31v1m0 2v3m0 162v3m1-489v1m0 302v2m0 1v2m0 4v2m0 20v2m0 5v2m0 134v2m1-478v2m0 3v2m1-6v1m0 3v2m0 330v2m0 15v2m0 6v1m0 122v2m1-505v1m0 11v3m0 16v1m0 467v2m1-485v1m0 9v3m0 3v3m1 447v2m0 10v5m1-478v2m0 467v2m1-471v2m1-8v1m0 12v2m0 462v2m0 1v3m1-476v2m0 461v5m1-461v2m0 449v1m0 10v2m0 10v2m1-1v3m1-484v1m0 468v3m1-468v2m0 470v3m1-476v2m1-12v4m0 3v3m1-11v5m0 488v4m1-8v2m0 4v2m2-4v8m1-502v2m0 10v1m0 484v2m1-498v3m0 8v2m0 476v3m1-480v3m0 489v1m0 3v2m1-524v2m0 19v2m0 490v2m1-481v1m0 467v2m1-487v2m0 483v2m0 8v3m1-502v2m0 15v3m0 484v2m0 3v2m1-511v3m0 2v2m0 495v2m1-508v1m0 496v2m0 9v2m0 3v1m1-503v2m0 2v3m0 490v2m1-499v2m0 496v3m1-498v3m0 483v2m1-495v2m2 6v5m0 2v2m1-15v2m0 5v4m0 495v2m1-4v3m1-502v2m0 489v2m0 5v3m1-506v4m1-1v2m0 489v2m1 15v3m1-512v4m1-3v1m0 4v1m0 489v6m0 3v3m1-13v2m0 6v2m1-507v3m0 5v2m0 3v1m0 487v3m1-508v1m0 10v2m0 500v2m1-510v2m0 2v2m0 496v3m0 2v2m1-512v2m0 511v3m1-13v2m0 8v3m1-506v1m0 490v2m1-499v2m0 500v3m1-508v2m0 9v1m1-5v4m0 16v1m0 465v3m1-497v2m0 1v2m0 497v2m1-484v2m0 474v3m1-497v7m0 478v2m0 10v2m1-501v2m0 2v2m0 9v2m0 487v2m1-499v2m1 3v2m0 478v1m0 7v2m0 3v3m1-509v2m2 4v3m0 499v2m1-512v2m0 6v5m1 482v2m1 12v2m1-503v3m1 0v2m0 5v2m0 473v2m0 9v2m2-503v2m0 4v5m0 484v3m0 8v3m1-9v3m1-491v1m0 483v2m0 2v6m1-508v4m0 3v2m0 4v2m1-15v3m0 8v4m0 496v2m1-499v2m0 478v4m0 9v3m1-507v2m0 4v3m1 1v3m0 2v1m1-16v1m0 2v2m0 5v5m1 460v2m0 8v2m1-482v3m0 464v3m1-477v2m0 6v2m0 3v1m0 452v2m0 5v2m2-475v1m0 3v3m0 464v3m0 5v2m0 2v3m1-483v2m1 457v2m0 3v5m1-467v3m0 466v2m1-16v2m0 4v3m2-13v2m0 3v2m1-10v3m0 12v2m1-470v4m0 3v3m0 416v2m0 8v2m0 20v2m0 4v3m1-50v2m0 13v2m1-8v2m1-431v2m0 423v2m1-10v1m1-416v2m0 419v1m0 3v3m1-413v2m0 403v2m0 2v1m1-419v2m1 3v1m0 403v2m0 14v3m1-431v2m0 2v3m0 392v2m2-404v2m0 6v4m0 371v1m0 102v3m1-483v2m0 2v1m0 481v2m1-492v2m0 2v2m0 425v2m0 9v2m0 5v3m0 20v3m1-471v2m0 3v1m0 347v1m0 18v1m0 55v2m0 23v2m0 6v2m1-455v2m0 343v2m0 14v2m0 33v2m1-414v2m0 8v3m0 4v3m0 338v2m0 9v1m1-11v2m1-370v2m0 24v2m0 334v3m1-350v2m0 4v2m0 344v1m1-37v1m0 1v1m0 11v2m0 11v1"/>
<path stroke="#00ff43" d="M0 40v2m1-8v2m0 2v2m0 506v2m1-511v3m1 266v2m0 7v2m1-280v4m0 269v1m1-271v2m0 4v2m0 259v1m0 2v1m0 10v4m0 1v1m1-274v1m0 254v4m0 1v2m0 6v1m0 5v1m0 1v1m0 6v1m0 187v3m1-476v2m0 282v2m1-297v2m0 284v1m1-285v4m0 276v1m0 32v2m1-309v2m0 285v2m0 9v1m0 16v2m1-317v2m0 310v1m1-338v2m0 7v2m0 7v3m0 325v2m0 144v5m1-463v2m0 459v3m1-485v2m0 360v2m0 122v1m1-9v7m1-479v2m0 3v1m2 472v2m1-485v2m0 6v4m0 4v2m0 466v3m1-486v2m0 475v3m1-9v3m1-473v2m0 2v6m1 477v2m1-476v2m1-17v2m1 2v3m1-1v3m0 480v3m0 6v3m1-502v2m0 9v3m1-4v1m2 487v2m2-491v2m0 489v1m0 2v1m2-503v2m0 9v4m0 484v3m1-502v2m0 2v2m2 0v2m0 494v3m1-505v2m0 1v2m0 3v1m0 491v2m0 2v3m1-505v1m0 507v3m1-516v2m0 8v2m0 497v3m2-511v3m0 5v2m0 496v2m0 3v2m0 4v2m1-517v3m0 502v4m0 2v3m1-515v2m0 507v3m0 3v2m2-508v2m0 6v2m0 492v3m1-10v3m1-507v2m0 6v2m0 499v3m2-7v8m1-503v2m0 495v2m0 3v3m1-507v2m0 504v3m1-514v2m0 3v4m0 491v2m0 2v2m1-502v1m0 513v2m1-520v1m0 5v2m0 493v5m1-8v3m1-492v2m1-12v2m1-3v3m0 9v3m0 483v2m1-497v2m0 498v2m2-505v2m0 491v2m1-488v2m0 488v6m1-491v1m1 492v2m1-497v1m1 498v3m1-509v5m0 490v3m0 10v3m1-508v1m0 488v3m1-500v2m0 501v2m1-14v5m2-491v2m1-3v1m1 6v3m1-10v2m0 2v2m1-6v2m0 498v5m1-3v3m1-502v2m0 4v1m0 492v2m1-497v2m0 488v2m1-491v2m0 487v2m0 6v3m0 4v3m1-515v2m0 493v3m1-493v2m0 473v3m1 7v3m1-489v4m0 489v3m2-493v2m0 2v2m0 480v2m0 7v4m1-505v2m0 481v2m0 8v3m1-18v2m1-480v2m0 466v3m1-459v1m1 453v2m0 3v3m0 8v5m1-488v12m0 464v3m1-473v2m0 451v2m0 9v2m1-470v2m0 458v2m0 3v3m1-469v5m1 2v2m0 447v2m0 2v3m1-8v2m0 2v3m0 5v2m0 12v2m1-481v2m0 447v1m0 41v2m1-498v2m0 8v2m0 407v5m1-5v3m0 10v3m1-434v2m0 425v2m1-433v2m0 11v1m1-2v2m0 418v1m1-431v2m0 3v1m0 3v2m0 404v3m0 11v1m1-422v2m0 407v2m0 2v2m1-423v5m0 4v2m1 395v1m0 14v2m1-418v2m0 5v2m0 360v1m0 22v2m1-26v1m1-372v1m0 10v2m0 357v2m0 1v2m0 66v2m0 11v2m0 11v3m1-473v3m0 367v4m0 4v1m0 4v1m0 52v3m0 11v2m0 17v2m1-100v2m0 40v2m0 8v1m0 8v3m1-423v2m0 352v2m0 74v2m0 9v4m1-456v2m0 5v1m0 5v2m1-14v2m0 358v1m1-352v2m0 1v2m0 339v2m0 1v2m0 3v2m1-351v2m0 332v4m1-349v1m0 13v2m0 279v1m0 17v2m0 43v2"/>
<path stroke="#0f1" d="M0 541v2m1-497v3m1-5v2m0 16v3m1-24v1m0 4v3m0 249v2m0 1v1m2-258v2m0 4v2m0 259v2m0 225v2m1-412v2m0 188v1m0 9v1m0 5v1m1-292v1m0 273v1m0 19v3m0 2v2m0 183v2m0 3v3m1-491v2m0 2v2m0 289v2m1-304v3m1 1v1m0 288v1m0 8v2m0 4v1m0 3v1m0 7v2m0 9v2m0 152v2m1-481v3m0 319v2m1 153v5m0 5v3m2-488v2m0 468v2m0 6v3m1-486v2m0 2v3m2 471v3m3-481v3m0 2v1m1 470v2m2-478v4m0 1v2m1 471v2m0 8v3m1-488v2m1 6v1m0 481v2m1-494v2m1 0v2m2-3v1m1 2v2m1 493v2m1-8v2m1-491v2m0 490v3m3-3v2m1-492v2m1-1v2m0 496v2m1-7v2m1-507v2m0 2v2m0 506v3m1-12v3m1-497v1m1-6v2m0 4v3m1-11v2m1 2v5m2 499v5m1-505v2m2-2v5m1-11v2m0 514v3m2-517v2m1 1v2m1-6v2m2 502v3m1-507v3m3 498v3m1-501v2m0 497v2m1-502v1m0 501v3m1-22v2m0 12v2m2-502v2m0 2v3m0 487v3m1-498v2m0 2v2m1 0v3m0 492v3m1-4v2m0 11v3m1-22v2m0 8v2m1-497v2m1-13v2m1 13v1m1-8v1m0 479v3m0 13v3m2-503v2m0 500v6m1-505v1m0 505v2m2-506v2m0 497v4m1-505v2m1 503v2m1-510v2m0 2v2m0 498v2m1-507v2m0 485v3m0 19v3m1-11v2m0 3v2m0 3v3m2-9v6m1-514v2m0 498v2m1-11v3m1-9v5m1-16v2m0 4v2m1 8v2m1-9v2m0 18v3m1-40v1m0 5v3m1-21v2m0 7v2m1 12v2m1-469v1m0 455v3m0 6v3m1-472v3m0 449v1m0 10v2m1-467v2m0 466v2m0 5v2m1-26v3m0 4v2m1-457v1m0 4v1m1-5v2m1-7v2m0 404v2m0 5v2m0 6v2m0 7v2m1-12v1m1-420v5m1-6v1m0 406v4m1-410v1m0 4v2m0 3v2m1-5v2m0 414v1m2-413v3m0 356v2m0 12v2m0 20v2m1-409v2m0 6v1m1 448v1m0 3v2m0 7v2m0 5v1m1-102v1m0 73v1m0 3v2m0 6v2m0 9v2m1-475v2m0 361v2m0 3v2m0 44v2m0 6v2m0 8v2m0 7v1m0 19v2m0 10v3m1-467v1m0 359v2m0 6v2m0 31v1m0 28v2m1-43v2m0 54v2m1-455v2m0 356v2m0 1v1m0 5v1m1-23v1m1-54v1m0 32v2m0 7v2m0 19v2m1-364v4m0 1v3m0 326v1m0 4v2m0 14v2m0 4v1"/>
<path stroke="#1aff00" d="M0 543v4m1-4v3m1-504v2m0 495v3m0 2v3m1-5v3m1-247v2m0 237v3m1-9v5m1-488v3m0 261v1m1 7v3m0 206v3m1-493v1m0 281v2m0 25v1m0 180v2m1-208v2m0 15v2m0 6v1m0 3v3m0 168v1m1-482v2m0 293v2m0 2v2m0 9v1m0 166v3m2 5v3m4-493v2m3 480v2m1-475v2m1-7v2m2 479v2m0 4v3m1-6v3m3 10v3m1-8v4m1-493v2m0 493v2m1-503v2m0 5v2m0 492v2m2 2v2m1-504v1m2 500v2m2 11v2m1-515v1m0 501v2m1-504v3m0 503v3m0 3v3m3-15v3m0 4v3m1-4v2m1-4v2m0 9v2m1-500v2m3 490v2m1-2v2m1-506v1m2 497v3m4-505v2m0 502v2m0 2v2m1-514v2m0 505v2m0 2v5m0 5v2m1-19v2m0 9v3m1-9v3m1-508v1m0 497v2m2 2v2m1-504v1m0 495v2m0 6v3m2-8v3m1-498v2m3 497v2m1-509v2m1 2v2m1-6v4m0 497v2m3-500v3m1 494v2m0 3v2m2-2v2m2 3v3m1-8v2m1-505v2m0 504v2m3-508v4m1 500v2m1-503v3m1-4v3m1 485v2m1-25v2m0 2v3m1 6v3m1-478v1m0 467v2m1 0v4m1-2v2m1-13v2m0 15v2m1-489v2m0 6v4m0 445v3m1 1v2m0 11v1m1 7v3m2-54v1m0 20v2m0 20v3m0 2v6m0 3v3m1-483v2m0 414v5m1 6v4m0 11v2m1-41v2m0 17v3m1-12v2m1-12v2m0 2v2m0 4v2m1-6v1m0 3v2m0 1v4m1-416v2m0 400v2m3-409v1m0 382v2m0 21v2m0 38v2m1-82v4m0 16v2m1-393v3m0 364v2m0 6v3m0 9v2m0 90v2m1-470v2m0 365v1m0 82v2m0 13v2m1-121v1m0 49v2m0 8v2m0 3v1m0 31v2m1-454v4m0 359v2m0 8v2m0 35v2m0 7v2m0 2v2m0 15v4m0 12v2m1-452v2m0 351v2m0 3v1m0 18v1m0 15v4m0 41v2m0 2v3m1-453v2m0 368v1m0 1v1m1-391v2m0 374v1m1-350v1m0 325v1m0 16v1m0 3v1m1-354v1m0 4v3m0 314v1m0 16v2m0 1v3m0 6v2m0 8v2"/>
<path stroke="#41ff00" d="M0 45v2m1 493v3m3-9v3m1-498v1m0 268v2m0 230v2m1-227v1m0 6v1m0 7v2m2 0v1m1-293v2m0 285v1m0 8v1m0 12v3m0 175v2m1-186v1m0 6v2m0 1v1m0 173v2m1-488v2m0 309v2m0 177v2m3-493v2m0 353v1m1 125v3m2-8v2m5-481v2m0 484v2m0 6v3m2-494v2m0 481v2m5 7v2m2 2v3m1-5v3m1 0v2m0 2v3m1-502v1m1-2v2m1 2v2m0 510v2m3-14v1m1-502v2m0 497v4m0 5v2m3 0v3m1-3v3m1-4v2m3-2v3m1-8v3m1-4v4m1-2v2m5 7v2m3-520v1m1 508v3m1-5v3m1-3v5m1 1v2m1-13v3m1 3v2m1-6v2m1-2v6m1-1v2m2-10v3m1 4v2m1-1v2m2-7v5m0 2v3m1-1v2m2-4v2m1-517v3m0 6v4m0 505v3m1-8v5m2-512v2m0 502v5m6-10v4m1 5v2m2-37v3m0 15v3m1-497v1m0 475v2m2-475v2m1 476v5m0 3v2m0 3v2m2-26v2m1-11v3m0 12v2m3-11v1m0 15v3m0 18v2m1-79v3m0 42v2m2-37v3m1-25v2m0 9v2m1-12v2m0 7v2m2-7v2m1-420v2m0 404v2m0 24v1m1-27v2m0 13v2m0 30v2m0 16v3m1-62v2m0 58v2m1-477v2m0 368v1m0 103v2m1-470v2m0 452v3m0 2v2m0 7v2m0 11v3m1-484v3m0 354v2m0 8v2m0 6v2m0 2v2m0 2v1m0 38v2m0 30v2m0 20v2m1-477v2m0 378v2m0 3v1m0 12v1m0 38v2m0 2v3m0 3v1m0 4v1m0 7v2m1-80v1m0 40v1m0 26v2m1-459v2m0 362v1m0 5v3m1-10v1m0 4v2m1-8v1m1 3v1m1-362v2m0 322v1m0 19v2m0 120v2"/>
<path stroke="#6f0" d="M0 47v3m2-10v2m0 495v2m2-498v2m0 500v3m1-10v2m0 8v3m1-230v2m0 212v3m0 2v3m1-223v2m0 13v2m1 3v1m0 4v2m0 1v2m1-22v1m0 19v2m0 184v3m1-191v1m0 3v1m0 5v2m0 173v3m1-10v2m0 5v2m2-10v3m0 2v2m2-4v2m1-6v5m1-2v3m2 0v3m1-9v2m0 3v2m1-7v4m2 13v2m2-6v2m1-4v2m0 2v2m1 7v3m4-1v2m1-6v1m0 2v2m1 1v2m1-511v3m0 501v2m0 8v2m1-16v3m0 2v3m1-504v2m0 498v2m2 1v6m0 3v2m3-1v2m1-6v6m1-15v3m0 4v2m1-1v3m2-1v6m1-6v5m2-5v2m0 8v3m2-9v3m2-7v2m0 2v3m2-16v3m6 3v2m4 0v3m5-11v3m0 3v2m1-513v2m0 509v3m3-4v2m1-3v3m1-5v3m1 4v3m1-8v2m4-505v2m1 504v2m1-1v2m4-9v2m1-9v3m1-14v3m1-17v2m0 9v4m1-10v2m0 3v2m1 5v2m0 3v5m2-23v3m1-9v3m2-10v2m0 7v2m1-13v3m1 9v2m0 24v3m1-11v4m2-494v3m0 410v1m1 11v6m2-18v1m1-9v2m0 12v2m0 2v2m1-7v4m2-12v1m1-33v2m0 4v2m0 93v1m1-112v1m0 2v1m0 3v2m0 3v3m0 52v2m0 4v2m0 9v3m0 17v3m0 6v2m1-100v1m0 3v1m0 13v2m0 19v2m0 16v3m1-68v1m0 32v2m0 7v2m1-422v2m0 4v2m0 374v2m0 62v3m0 37v2m1-114v2m0 18v5m0 6v3m0 16v2m1 12v2m0 24v2m1-96v4m0 68v3m1 19v2m1-460v2m0 345v1m0 7v2"/>
<path stroke="#83ff00" d="M1 548v2m4-237v2m1 216v2m1-210v1m0 2v4m0 1v2m0 203v2m1-215v3m0 2v2m0 11v2m0 2v1m0 188v3m1-208v1m0 2v1m0 5v2m5 186v4m2 0v2m2-7v5m2-8v3m0 10v2m1-8v3m1-4v3m1 0v1m1-1v1m0 7v3m1 1v3m3-9v3m1-4v3m0 2v2m9 14v3m1-1v2m1-1v6m1-520v2m1 513v2m1-3v2m2-14v3m0 8v2m5-7v1m2-4v2m2-6v5m1-3v4m0 6v3m1-17v2m0 6v2m0 5v2m3-8v3m1-5v3m0 3v3m1-523v2m3 8v2m0 501v3m1-9v3m0 2v2m1-6v3m1-10v3m0 10v3m1-4v3m1-1v2m1-8v3m0 8v3m3-17v6m0 5v2m3-2v3m3-11v2m1-6v2m1 6v5m1 1v4m1-12v2m2-3v3m1-513v2m3 2v2m1 486v3m1-5v5m0 2v3m1-13v2m1 5v3m1-5v3m0 4v2m1-26v2m0 7v2m1-1v2m1-480v2m0 477v2m1-23v1m0 4v2m0 5v4m0 3v2m1-13v3m0 4v3m0 6v2m2-39v2m0 30v2m1-48v2m0 2v3m1-9v2m0 3v1m1-7v2m0 2v1m1-11v1m0 6v2m1-10v2m1 2v2m1-17v4m1 10v2m1-424v1m0 436v2m0 10v5m0 30v2m1-105v2m0 6v1m0 56v3m0 20v3m0 6v2m0 2v3m1-113v3m0 6v2m0 30v1m0 12v2m0 10v2m0 3v2m0 38v3m1-107v1m0 1v1m0 18v2m0 2v2m0 71v2m0 4v2m1-120v2m0 6v1m0 10v1m0 20v2m0 53v2m0 11v3m1-117v1m0 9v1m0 36v2m0 2v2m0 3v2m0 2v2m0 1v2m0 4v2m0 50v3m1-124v2m0 3v2m0 10v1m0 1v1m0 2v2m0 51v4m1-73v5m0 16v2m0 36v2m1-72v2m0 2v4m1-11v2m1-2v2m0 2v1m0 2v2m0 100v2"/>
<path stroke="#a0ff00" d="M3 538v1m0 6v3m1-8v3m2-219v1m1 5v1m0 204v1m1-5v3m1-204v2m0 1v2m0 10v1m1-12v1m2 190v2m1 1v3m0 2v1m2-5v3m1-7v2m1-6v2m0 5v2m4-12v2m2 12v5m0 2v5m2-13v2m1 12v3m1-7v3m1 2v2m2-7v3m1-5v4m0 8v3m1-5v3m3-5v3m0 8v3m1-16v3m1-2v2m3 6v3m1-6v3m2 3v3m0 7v3m3-22v3m1 7v2m1-4v3m1-4v2m0 3v3m1-12v3m0 1v2m1-3v3m1 11v2m1-26v3m0 8v2m0 5v2m1-12v3m0 3v5m1-16v2m0 4v2m1 7v2m2-7v3m1-3v2m0 3v3m1-10v3m1-6v3m2-5v3m0 2v3m1-10v3m2-2v3m0 2v1m0 2v3m1-5v4m1-18v2m3 2v3m1-6v3m0 2v2m0 2v2m1-3v2m1 2v2m1-10v2m0 3v2m1-1v3m2-3v2m1 0v2m1-507v2m4 503v3m2-7v2m5-8v3m2-20v3m1-5v3m1-2v2m1-12v4m0 5v3m1-20v3m0 9v2m0 7v2m1-21v3m1 1v2m0 7v4m0 11v2m2-54v3m0 3v2m0 20v2m0 24v7m1-69v2m0 3v1m1-12v2m0 6v3m4-16v3m1-21v2m0 2v2m0 4v1m0 10v1m0 3v2m0 37v2m0 9v3m1-76v4m0 5v2m0 2v3m0 59v3m0 2v2m1-84v1m0 19v2m0 15v4m0 2v2m0 32v1m1-50v2m0 13v1m0 14v2m0 5v2m0 11v2m1-93v2m0 28v2m0 52v3m1-90v2m0 10v2m0 6v2m0 2v7m1-24v1m0 75v4m0 11v5m1-111v1m0 2v2m0 25v2m0 2v1m0 32v3m0 11v2m1-93v2m0 4v2m0 3v2m0 2v3m0 45v3m0 15v2m0 2v3m1-84v1m0 62v2m1-81v2m0 70v2m0 48v2m1-122v1m0 5v1m0 89v2m1-16v2m0 4v3"/>
<path stroke="#beff00" d="M0 547v3m3 0v3m1-7v2m2-232v2m0 218v2m0 5v3m1-206v1m0 199v3m2-201v3m0 184v3m0 6v2m1-8v4m1-12v5m6 1v2m1 0v3m1-11v2m1 1v2m0 3v3m1-9v3m5 11v2m2-2v2m0 2v2m2-2v5m3 1v2m0 3v3m1-13v3m3 0v3m1 1v3m1-4v3m2 0v2m0 4v2m1-4v3m0 8v3m1-10v2m2-9v2m0 9v5m1-5v3m2-10v2m2-1v2m2-3v2m2-6v3m3-3v3m2 1v3m3-10v5m2-3v2m2-17v3m0 10v2m0 1v2m2-3v2m1-5v2m2 0v3m5-7v3m3 4v2m1-6v2m1 5v3m2-7v3m2-4v2m1-4v2m1-3v3m1-7v3m1-14v2m1-2v6m1-9v2m1 2v3m3-20v2m0 10v3m3-7v2m1-1v3m2-57v4m0 3v4m0 3v1m0 14v3m0 17v3m3-52v2m0 1v2m1 3v1m1-16v2m0 1v1m0 4v2m1-1v2m1-14v2m0 14v1m0 3v1m0 41v9m1-87v2m0 8v1m0 18v2m0 2v3m0 3v6m0 12v2m0 2v2m0 3v2m0 6v3m0 3v2m1-76v2m0 2v2m0 4v2m0 15v2m0 17v2m0 12v2m0 11v3m1-99v2m0 65v3m0 30v6m1-56v1m1-52v2m0 9v1m0 85v2m1-115v2m0 4v2m0 6v1m0 14v2m0 65v2m1-90v2m0 1v1m0 5v2m0 6v1m0 70v3m0 3v2m0 2v2m1-106v4m1-1v4m0 55v1m0 16v2m1-82v2m0 47v2m0 31v1m1-454v1m0 356v2m0 2v1m0 9v1m1 73v3m0 9v2"/>
<path stroke="#df0" d="M2 549v2m3-7v2m0 3v2m1-10v2m2-216v1m0 2v2m0 2v2m4 201v2m1-8v2m1-1v2m1-8v3m0 3v2m1-7v3m1-4v2m1-6v3m0 13v5m1-12v3m2-2v3m0 2v3m3 5v2m1-12v3m0 8v3m8 3v3m0 3v2m1-12v2m1 3v2m1-5v3m0 6v3m1-11v4m0 2v3m0 6v4m4-8v2m4-7v2m0 2v3m0 7v3m1-15v2m1-1v3m1 0v3m0 4v2m1-15v3m0 13v3m1-12v3m6-12v3m0 6v2m1-8v2m0 7v2m3-8v3m1-9v6m1-4v3m1-2v2m1-4v3m2 1v3m1-13v2m1 4v2m0 3v2m5-11v3m1 3v3m1-6v2m2-1v2m6-5v2m6-14v5m1-4v3m2-16v2m3 7v3m1-21v3m0 7v5m1-29v2m0 9v3m1 22v2m1-12v3m1 10v2m1-74v2m0 4v3m0 56v2m1-56v2m0 3v3m2-454v2m0 442v1m1-37v2m1 24v3m1-3v3m0 25v2m0 7v3m1-21v2m0 1v5m0 23v2m1-57v2m0 6v2m0 19v2m0 10v2m0 10v3m0 16v2m1-65v1m0 2v3m0 12v2m0 14v3m0 4v5m1-49v1m0 16v2m0 13v2m0 2v3m0 7v2m1-89v2m0 4v2m0 23v1m0 80v2m1-116v1m0 8v3m0 80v2m1-106v1m0 13v4m0 5v2m0 66v2m0 12v2m1-89v4m0 33v2m0 28v3m0 8v3m0 2v2m1-68v2m0 2v2m0 11v4m0 13v2m1-72v2m0 7v5m0 4v2m0 52v3m0 6v5m1-90v3m0 7v2m0 77v3m1-463v3m0 442v3m0 2v2m0 14v2m0 1v2m1-104v2m0 74v2m0 9v2m0 2v2"/>
<path stroke="#f5fd00" d="M0 550v2m2-5v2m7-212v1m1 198v3m1 0v2m1-8v4m2-7v2m0 2v2m4-6v2m0 3v3m2-9v3m1 8v3m1-9v3m2-5v7m1 1v3m1-6v3m0 2v3m1 5v3m2-10v2m0 2v2m0 5v2m1-4v3m1-12v3m2 0v2m1 2v3m0 2v3m1-8v3m0 8v3m1-11v3m0 6v6m1-5v3m1-4v5m0 3v2m1-2v4m1-5v3m1-4v2m1 5v3m1-8v2m1-10v2m2-3v5m0 3v3m2-11v2m4-2v3m3 1v2m5-3v3m2-4v3m3-11v2m4-2v3m1 3v3m2-11v2m7 3v4m1-8v6m1-4v3m1-5v3m7-11v3m5-14v2m0 4v3m1-29v2m2 27v3m1-15v3m0 5v2m2 5v3m3-67v4m2-17v2m1-2v1m0 11v2m1-9v2m0 25v3m0 14v3m0 14v2m1-52v5m0 8v3m0 6v3m0 9v2m0 17v3m1-65v1m0 7v3m0 14v4m0 11v3m1-63v2m0 2v4m0 6v2m0 33v2m0 19v1m1-44v2m0 10v3m0 3v3m1-80v1m0 4v2m0 32v2m0 5v2m0 2v2m0 61v3m1-92v2m0 4v2m0 69v2m1-92v2m0 87v3m1-98v2m0 2v2m0 8v2m0 53v4m0 5v3m0 19v2m1-85v1m0 3v2m0 2v2m0 10v2m0 23v2m0 4v2m0 3v1m0 4v3m0 9v3m1-99v2m0 40v2m0 24v2m1-6v3m0 14v2m1-107v2m0 7v2m0 7v1m0 62v2m0 11v5m0 6v3m0 5v1m1-101v2m0 74v1m0 8v2m0 4v3m0 4v3"/>
<path stroke="#f9f600" d="M1 553v3m1-2v2m1-8v2m1-2v2m1-8v2m2-6v2m1-207v1m0 2v2m0 199v3m1-205v1m0 199v3m1 1v2m1-5v2m2-4v2m1 0v2m1-1v1m1-6v4m2 10v3m1-13v3m1 0v6m1-10v2m1 0v3m0 5v2m2 2v2m5-6v2m0 2v3m6 3v3m0 6v5m1-13v1m1 3v3m0 7v3m1-6v3m1-13v2m0 20v3m2-24v2m0 21v1m1-19v6m1 3v3m1-11v2m1-2v2m2 2v4m2-6v5m1-14v3m1 0v2m0 3v2m2-7v2m0 2v5m5-9v3m6-4v3m4-4v3m1-3v3m1-6v3m1-2v3m2-2v2m5-2v6m13-25v3m1-7v3m1 6v2m1-1v2m1-16v2m0 3v3m1-1v2m0 3v2m1-22v2m0 4v1m0 5v6m1-16v2m3-24v2m0 12v3m0 8v2m0 7v2m3-58v2m1-6v3m1-4v1m0 2v4m1-1v2m0 6v2m1-15v1m0 5v3m0 17v1m0 8v2m1-58v2m0 16v2m0 5v2m0 16v2m0 36v3m1-72v2m0 8v2m0 24v3m0 16v4m0 7v5m1-64v2m0 3v3m0 4v1m0 1v2m0 48v3m1-101v2m0 9v2m0 2v2m0 24v1m1-47v2m0 95v5m2-96v3m0 27v2m0 62v8m2-102v2m0 27v1m0 2v2m0 5v2m0 5v2m0 5v2m0 19v3m0 19v2m1-68v1m0 5v4m0 3v2m0 21v1m0 4v3m0 2v3m0 7v2m1-122v2m0 81v2m0 7v2m0 9v1m0 3v3m1-110v2m0 2v2m0 4v3m0 59v6"/>
<path stroke="#fdef00" d="M0 555v2m1-7v3m7-11v2m1-4v3m2-10v3m0 2v1m3-1v3m3-6v3m2-9v2m0 3v2m0 6v3m1-8v2m3 5v2m0 6v2m2-16v2m3 2v2m0 4v7m3-1v3m1-10v2m2 9v5m2-15v2m1 23v2m1-15v2m0 13v2m1-16v3m1-7v3m0 12v3m3 0v3m1-19v3m0 4v5m4-5v2m0 6v3m1-6v2m1-6v2m1-7v3m1-1v2m2 3v3m1-17v2m2 8v2m2-2v3m4-8v2m4-3v3m4-3v2m3-5v2m2 0v3m9-5v2m5-13v6m1-10v3m1-13v3m0 6v3m1 2v3m1-9v2m2-13v2m1-4v2m0 3v3m1-8v2m0 7v3m1 5v3m2-49v5m0 5v4m0 2v1m0 15v3m1-46v1m1 2v3m1-9v5m0 2v2m1-24v2m0 9v1m0 5v3m2 8v2m0 7v2m0 10v2m0 9v3m1-60v2m0 4v4m0 22v5m0 7v3m1-47v2m0 60v3m1-63v3m0 32v2m0 28v2m1-106v2m0 1v3m0 14v1m0 6v2m1-29v2m0 6v2m0 9v2m0 6v2m0 24v3m0 43v3m1-99v2m1-16v2m0 2v2m0 107v3m2-91v3m0 8v2m0 4v2m0 2v1m0 4v4m0 28v2m0 17v2m0 3v3m0 2v2m1-53v3m0 18v2m0 25v3m1-117v3m0 72v5m0 10v4m0 11v2m0 4v2m1-119v2m0 63v2m1 37v3"/>
<path stroke="#ffe300" d="M0 552v3m3-2v2m1-5v2m12-14v3m1 5v2m2-3v3m3-8v2m1 4v3m1-2v2m3-2v3m0 3v3m1-1v2m2-8v3m1 8v6m1-14v11m1-3v3m0 2v2m5 5v3m1-11v3m1 10v4m1-15v2m0 2v3m0 5v3m3-10v3m0 3v3m2-2v3m1-16v3m0 4v6m3-16v2m0 5v3m1 0v3m3-12v6m1-2v2m3-6v3m3-5v5m1 0v2m3-8v3m4-2v2m1 1v3m2-12v3m2 3v2m8-2v3m1-6v3m3-7v2m6-13v2m1 3v3m1-5v4m1-9v2m1-8v2m0 2v3m2-12v2m1 3v3m2-19v3m0 25v3m1-56v2m0 5v2m2-15v2m2-6v4m1-5v2m0 2v2m0 2v3m0 20v3m0 5v6m0 3v2m0 5v3m1-23v2m0 22v3m1-45v2m0 39v2m0 3v2m2-106v2m0 20v2m0 2v3m0 11v2m1-40v3m0 2v2m0 6v3m0 8v3m0 70v3m2-106v2m0 88v3m1-8v2m1-64v2m0 41v2m0 10v4m0 3v2m1-86v1m0 28v2m0 48v2m0 8v2m1-109v2m0 2v2m0 46v2m0 11v2m0 3v2m0 6v3m0 13v2m0 14v2m1-58v2m0 2v2m0 2v4m0 37v2m0 2v2m1-16v2"/>
<path stroke="#ffd100" d="M1 558v3m5-15v4m1-2v2m1-10v2m5-6v5m0 4v4m2-15v3m1-1v2m0 8v1m2-4v3m2 4v2m1-9v4m3-5v3m1 4v3m1-4v3m1 5v2m1 4v3m2-10v2m4 10v2m1 2v3m1-6v3m4-5v3m0 12v1m1-18v2m0 7v5m1 0v4m1-18v3m0 11v2m2-6v5m1-7v3m1-12v2m1 7v2m1 2v5m2-14v5m1-6v2m0 2v3m3-11v3m1 3v2m6-10v3m2-1v2m1-7v3m0 3v3m8-7v3m2-5v3m2-2v5m3-3v3m6-7v2m3-6v2m3-9v3m3-20v2m2 12v2m4-50v3m1-5v2m1 46v2m1-47v2m0 30v2m1-57v2m2 20v2m0 2v2m0 7v2m0 3v2m0 19v3m0 5v3m1-8v3m1 4v3m1-6v2m1-84v3m0 26v1m1-41v2m0 87v2m1-1v2m1 0v2m1-9v3m1-8v3m0 3v2m1-104v2m0 10v3m0 3v2m0 24v2m0 33v5m0 10v3m0 7v2m1-104v2m0 28v2m0 2v4m0 49v3m1-109v2m0 3v2m0 52v2m0 42v2m1-43v3m0 44v3m0 2v6"/>
<path stroke="#ffbf00" d="M1 556v2m1-7v3m4-4v3m4-12v2m1-2v3m6-12v3m0 3v5m2-4v3m0 6v2m2-1v5m1-7v3m2 1v4m2-4v2m0 4v2m0 3v2m1-6v3m2-9v2m1 6v4m1-16v3m0 6v3m0 6v3m2-6v2m0 4v3m2 7v3m1-8v4m1 0v4m1-5v5m1-15v3m0 4v2m1-1v2m3 3v2m1-8v3m1 4v1m1-7v3m6-5v2m3-6v2m1-1v2m1-10v3m0 6v3m1-8v2m0 4v2m2-7v3m3-8v2m5-1v2m4-7v7m3-5v2m1 2v2m2-3v2m2-2v2m1-3v2m2-3v2m4-9v3m5-9v3m2-1v3m3-13v2m2-2v3m2 10v3m1-58v3m0 4v3m1-21v2m0 3v5m0 5v3m2-25v3m1 7v2m0 51v2m1-66v2m3 61v2m1-100v2m0 2v6m0 1v1m0 15v2m0 3v1m0 64v6m2-5v2m3-33v5m1-79v2m0 7v1m0 4v3m0 53v3m0 12v3m0 17v2m1-117v2m0 28v2m1-38v2m1-8v2m0 3v2m0 47v3m0 47v4"/>
<path stroke="#ff9500" d="M2 556v3m2-7v3m3-9v2m4-2v3m1-10v2m0 2v2m2 5v2m1-14v6m1-1v3m1 2v3m3-3v2m1-3v2m2 8v2m3-6v2m2 10v3m4 4v3m2-12v4m0 2v3m1-3v2m0 6v2m1-8v3m0 6v2m1-7v3m2-2v3m3-7v3m3 4v2m1 0v1m1-4v4m1-14v2m0 10v2m3-7v4m2-8v3m1-2v3m1 0v2m1-11v2m1 6v3m1-9v2m3-4v2m3-4v2m2-3v3m1-4v3m4-4v3m2-2v3m10-2v4m1-10v3m4-8v3m2-4v2m1-4v3m4-9v3m1-2v3m2-9v2m0 4v3m3 3v3m1-57v2m0 16v5m0 23v3m1-40v3m0 11v3m1 0v3m1-41v1m1 3v2m0 5v3m0 34v2m1-49v2m1 6v1m1 54v2m1-6v3m1-107v2m0 14v2m0 5v1m0 2v2m0 79v3m1-4v2m1-9v3m2 11v2m0 15v2m2-132v1m0 15v5m0 2v1m0 75v3m0 26v3m0 4v2m1-148v2m0 6v2m0 33v1m0 65v2m1-123v1m0 7v4m0 2v1m0 87v5m0 6v5m0 3v2m0 5v3m0 2v3m1-131v2m0 7v2m0 41v2m0 69v5m0 7v2"/>
<path stroke="#ff8600" d="M0 557v2m3-2v2m2-8v3m2-11v3m4-2v2m2-5v2m1 1v6m1-4v2m1-1v3m2 1v5m1-2v2m1-11v3m1 6v3m1-15v3m0 5v3m0 5v3m2-6v3m2-3v2m3-1v3m3 4v2m0 4v3m1 0v6m1-6v3m0 3v3m1-7v3m9 3v2m4-5v3m2-8v6m5-5v2m1-3v3m2-5v2m1-4v3m4-5v3m6-6v3m5-3v3m1-1v2m5-2v3m8-13v2m1-8v3m2-5v2m4 1v2m3-5v3m4-47v2m0 3v6m0 5v6m0 2v2m0 2v3m1-26v3m0 6v2m0 26v2m1-43v1m0 6v2m1-25v2m1 2v3m0 10v5m0 4v2m0 11v5m0 2v9m2 2v5m1 0v1m2-105v2m2 96v2m2-3v2m0 2v2m1-12v3m1-93v2m0 12v2m0 57v2m0 39v3m0 9v2m1-124v1m0 121v2m1-152v1m0 44v3m1-47v1m0 3v1m0 1v1m0 103v11m0 16v2m0 16v2"/>
<path stroke="#ff7600" d="M3 555v2m0 4v3m1-9v3m4-14v6m1-7v3m1-3v3m2 2v4m1-3v3m1 0v3m1-11v2m0 2v2m0 5v2m1-16v2m0 12v3m3-8v4m3-1v5m1-9v3m0 2v3m1 1v5m1-11v3m0 10v2m2-6v6m1-10v2m1 5v2m1-9v3m0 6v5m1 3v6m1-3v2m1-12v2m1 6v3m19-9v2m0 8v2m2-10v2m2-4v2m3-1v3m1-5v2m2-6v2m12-4v3m2-2v3m2-4v3m2-1v2m1-2v2m3-8v3m8-8v2m2-9v3m1-2v5m3-6v3m3-20v2m0 6v5m0 3v2m1-50v5m0 13v2m0 21v2m0 2v3m1-53v3m0 18v3m0 24v2m2-42v2m0 21v2m8 18v3m1-1v2m1-5v2m0 2v2m0 26v2m1-122v2m0 8v2m0 80v3m1-97v2m0 5v2m0 72v5m0 2v5m0 30v2m0 3v2m1-158v1m0 39v2m0 60v2m0 7v3m0 2v2m0 6v2m0 3v5m1-129v1m0 35v2m0 59v2m0 53v1"/>
<path stroke="#ff6400" d="M5 556v3m4-13v2m1-2v3m1 0v2m1-6v3m1-5v2m0 10v3m1-17v3m1 6v3m1-3v3m1-10v3m0 5v2m0 2v5m6-1v2m2-6v5m0 11v2m1-9v5m2-10v3m1-3v2m2 8v2m1 10v1m4-4v2m14 1v1m2-7v2m1-3v3m6-6v4m3-7v2m9-6v3m1-2v3m1-3v2m2 0v3m1-9v3m3 1v3m8-11v3m5-9v2m2 0v2m1-6v1m5 0v3m2-19v3m0 10v3m1-39v2m0 21v2m1-34v2m0 4v3m0 14v2m0 5v2m0 8v3m1-2v2m1-29v2m0 7v2m1 17v2m7-5v2m0 9v3m2-15v2m0 8v3m0 2v2m0 9v6m1-42v2m0 17v5m0 23v2m1-136v1m0 10v1m0 6v2m0 82v3m0 2v2m0 8v3m0 7v3m1-144v2m0 1v2m0 32v2m0 3v2m0 85v3m0 2v3m1-139v1m0 39v2m0 3v2m0 78v3m0 11v2"/>
<path stroke="#ff4d00" d="M0 559v3m1-1v2m2-4v2m1 2v3m1-12v2m1-3v3m1-6v3m2-5v3m3-10v2m0 13v3m1-1v5m1-5v2m2-7v2m1-2v2m1-6v2m2 4v2m0 2v2m3 2v3m2-6v5m1 4v3m1-5v4m2-10v3m1 0v2m0 5v2m1-2v3m1-9v4m0 6v2m1 1v4m21-2v2m4-8v3m4-7v6m1-7v2m3-5v3m1-4v5m13-2v2m6-12v3m3-7v2m6-4v2m2-7v3m5-25v2m0 25v3m1-42v2m0 7v9m0 5v2m1-38v2m0 14v3m0 18v3m1-50v3m0 3v3m0 42v2m1-45v2m0 18v5m0 23v6m3 27v3m2-30v3m1-7v3m1-5v3m1-3v3m2 4v2m0 8v3m0 10v6m1-26v3m1-128v2m0 11v1m0 2v2m0 6v2m0 91v2m0 27v3m1-38v3m0 21v3m0 6v3m1-153v2m0 14v4m0 105v2m0 11v3m0 4v2m0 2v2"/>
<path stroke="#ff3700" d="M0 562v3m1 7v3m1-16v6m1 4v2m8-20v3m2-2v3m2-2v2m0 6v2m1-5v3m1 4v2m2-11v2m1-6v3m0 6v3m4-1v2m1 4v2m1-12v3m2 6v6m1-8v8m0 7v1m1-9v2m0 6v1m1-2v2m1-3v2m19 0v1m1-5v3m2-5v3m2-3v3m5-6v2m0 2v2m3-10v4m1-4v5m11-5v2m1 1v3m1-9v2m3-1v3m0 3v3m3-15v3m9-12v2m2 1v2m2-6v3m2-4v2m3-1v2m1-21v3m0 15v2m1-54v3m0 19v3m0 7v3m0 2v3m0 8v3m2-38v4m0 38v2m1 3v3m4-10v2m2 15v3m1-21v3m1-3v4m0 4v2m0 13v4m0 5v1m1-34v2m0 7v3m1-6v2m0 3v2m0 18v3m1-147v2m0 2v2m0 111v2m0 3v3m0 8v2m1-136v3m0 124v2m0 17v2m1-147v2m0 1v2m0 5v2m0 108v2m0 11v2"/>
<path stroke="#ff1400" d="M0 565v2m1-4v3m0 2v2m1-3v3m0 3v2m2-17v3m2-3v2m1-5v2m1-7v3m2 4v2m2-7v4m0 3v2m2-6v3m0 2v5m1-8v2m0 7v2m2-8v3m1-4v3m2-5v2m1-2v3m1 1v3m1-3v2m0 6v3m1-7v5m1 3v3m1-4v3m1 4v3m1-8v2m1-2v3m1-2v2m19 4v1m3-2v2m1-5v2m4 0v3m1-5v3m1-2v3m4-8v3m2-10v2m1 1v2m2-6v3m2-1v2m1 0v3m3-3v2m4-4v3m4-4v5m2-8v3m4-9v3m2-7v2m1-3v2m2 1v3m2-2v2m1-6v3m5 1v3m3-54v3m0 40v2m1-43v3m0 2v5m0 21v3m0 4v5m1 26v3m1-33v6m0 29v1m1-29v3m0 22v2m1-29v2m1-6v3m0 28v3m3-32v2m1 15v3m0 9v2m1-25v2m0 2v3m0 5v3m2-26v2m0 18v4m0 3v2m1-132v2m0 2v2m0 2v2m0 103v3m0 9v2m1-129v2m0 2v2m0 11v4m0 2v1m1-30v2m0 2v1m0 2v1m0 19v2m0 97v2m0 11v2"/>
<path stroke="#f00" d="M0 571v2m1-7v2m1-3v2m2-6v2m1-4v2m1-5v2m0 4v3m1-12v2m1-2v3m2-7v5m5 5v2m0 2v3m1-5v2m1 0v2m2-7v5m1 5v3m1-8v3m1-2v3m1-1v3m1 3v3m1-8v2m1 9v3m1-10v8m1-3v3m1-2v2m1 0v2m4 0v1m16-4v3m3 0v1m1-4v2m1-3v2m2-2v2m1 1v2m1-1v1m2-12v2m0 2v2m0 2v3m2-10v2m1-7v2m5-2v5m2-4v2m0 3v3m2-5v2m1-6v3m3-3v5m3-1v3m1-4v3m4-11v4m5-10v3m2-5v2m6-5v3m0 2v4m1-5v2m1-3v3m2-1v3m1-11v2m0 31v2m1-7v3m1-85v1m0 32v4m0 46v6m1-80v3m0 40v1m1 29v3m1-28v3m0 10v3m1-13v3m0 11v6m1-23v3m0 28v1m2-6v6m1-31v3m0 21v3m1-23v3m0 11v6m1-13v3m1-5v3m0 9v2m2-11v3m1-129v2m0 2v2m0 126v6m0 3v2m1-117v2m0 111v3"/>
<path stroke="#f00" d="M1 570v2m1 3v3m0 3v1m1-11v2m1-7v3m1-8v3m1-4v2m1 1v2m2-14v3m1 0v3m1-3v3m1 4v6m2-2v3m4-12v3m3 9v5m1-6v2m2 1v2m2 3v3m4-1v2m21 0v2m4-2v3m1-4v2m3-5v3m1-5v5m4-6v3m2-4v3m1-4v3m1-5v2m2 1v3m2-3v3m1-2v2m3-8v2m0 2v3m6-2v3m1-3v2m3-12v5m1-6v2m1 0v2m1-8v3m2 1v2m1-4v3m4-6v3m2-5v2m1-4v3m0 2v3m2 0v2m0 13v7m2-27v2m0 20v2m1-28v2m0 3v3m0 23v1m1-83v5m0 6v2m0 5v3m0 3v3m0 4v8m2 14v5m0 11v5m1-17v3m0 9v3m0 4v3m2-23v3m3 3v6m0 14v1m1-22v3m0 17v2m1-17v2m0 9v5m1-37v2m3-99v5m0 3v1m0 4v2m0 1v1m1-2v1"/>
<path stroke="#f60000" d="M0 567v2m0 4v3m1-1v3m1-8v3m1-9v5m0 4v2m0 3v3m2-17v3m4-13v3m4 6v3m1 2v3m2-8v2m1 2v3m1-8v3m1-2v3m1-2v4m4 7v3m1-2v2m3 1v3m1-3v2m27-1v2m4-2v2m2-6v2m2-3v2m2 0v2m2-9v6m6-5v2m5-5v4m2 3v3m2-11v4m0 2v3m4-14v3m2-6v3m1-4v2m0 4v2m1-12v6m1-5v3m2-3v3m3-5v10m2-4v2m2 10v3m0 7v1m2-31v3m0 2v2m0 20v2m2-86v2m1 58v3m2 9v2m0 3v4m1 0v4m1-26v2m0 17v6m1-23v2m0 20v5m1-8v2m1-22v2m0 2v3m0 9v3m1-15v2m0 15v3m5-126v3"/>
<path stroke="#e30000" d="M0 579v2m1 0v1m1-4v3m2-12v4m3-16v6m1-7v3m3-2v3m2 6v3m3-4v2m5-1v2m1 1v3m1 0v2m0 2v2m1 2v2m1-4v3m35-3v2m1 1v1m1-4v4m1-6v4m2-7v2m1-1v3m2-1v4m2-11v2m0 5v2m2-10v3m1-4v3m2 0v3m4 1v2m1-3v2m5-10v3m3-8v2m5-4v3m1-3v2m6-4v5m2 15v3m2-6v2m1-71v3m0 43v6m0 18v2m2-13v5m0 10v3m1-22v4m0 17v2m1-23v3m0 3v2m1-9v3m0 4v3m0 2v2m1 2v3m1-6v3m1 4v3m1-18v3m5-121v2m1 0v1m0 4v2m0 4v2"/>
<path stroke="#cf0000" d="M0 569v2m0 5v3m0 2v1m1-4v3m2-6v3m0 3v1m1-9v9m1-15v15m1-17v17m1-17v17m1-23v23m1-25v25m1-23v23m1-22v22m1-15v15m1-13v13m1-11v11m1-14v14m1-15v15m1-12v12m1-17v17m1-16v16m1-11v11m1-22v3m0 10v9m1-10v10m1-8v2m0 2v4m1-4v2m1 1v1m1-1v1m37-2v2m1-5v5m1-7v7m1-3v3m1-9v9m1-2v2m1-11v11m1-8v2m0 2v4m1-7v7m1-8v8m1-8v8m1-9v9m1-9v9m1-9v9m1-8v8m1-12v12m1-10v2m0 2v6m1-7v7m1-4v4m1-8v8m1-6v6m1-16v16m1-14v14m1-16v16m1-17v17m1-18v18m1-20v20m1-22v4m0 2v16m1-20v20m1-21v21m1-21v21m1-22v22m1-24v24m1-24v24m1-19v19m1-23v23m1-21v21m1-21v21m1-21v10m1-13v18m0 3v3m1-24v18m1-24v3m0 3v15m0 5v3m1-61v3m0 33v18m1-17v19m0 3v3m1-22v3m0 10v2m2-19v3m0 3v3m0 8v2m1-14v4m0 3v2m1-13v17m1-23v20m1-15v2m0 15v2m7-127v4m0 2v4"/>
</g>
<g transform="translate(167.75 200) scale(8.5 1)" fill="none" stroke-width="1" shape-rendering="crispEdges">
<path stroke="#0069ff" d="M85 310v1"/>
<path stroke="#008dff" d="M93 315v2"/>
<path stroke="#00a7ff" d="M82 310v1m1-1v1m1-1v1"/>
<path stroke="#00c0ff" d="M17 445v3m13-3v3m39-3v3m5-138v1m1-1v1m3-1v1m-10 202v2"/>
<path stroke="#00d5ff" d="M1 445v3m1-3v3m27-3v3m12-3v3m35-3v3m4-138v1m-7 202v2"/>
<path stroke="#00eaff" d="M13 445v3m7-3v3m39-3v3m2-3v3m3-3v3m30-133v2m2 65v3m3-3v3m-23-75v1m3-1v1m2-1v1m-11 202v2"/>
<path stroke="#00faf8" d="M31 445v3m1-3v3m1-3v3m1-3v3m18-3v3m3-3v3m10-3v3m5-3v3m5-3v3m8-3v3m4-3v3m3-3v3m5-66v3m3-3v3m-24 128v2"/>
<path stroke="#00ffe1" d="M4 445v3m6-3v3m1-3v3m5-3v3m2-3v3m4-3v3m3-3v3m1-3v3m1-3v3m10-3v3m3-3v3m2-3v3m8-3v3m6-3v3m10-3v3m7-3v3m1-3v3m12-3v3m11-66v3m5-3v3m-33 128v2m3-2v2"/>
<path stroke="#00ffb4" d="M3 445v3m25-3v3m8-3v3m2-3v3m5-3v3m1-3v3m1-3v3m22-3v3m17-3v3m1-3v3m4-3v3m16-66v3m-28-75v1"/>
<path stroke="#00ff8e" d="M0 445v3m23-3v3m26-3v3m11-3v3m3-3v3m15-3v3m14-3v3m8-66v3m3-3v3"/>
<path stroke="#00ff75" d="M5 445v3m1-3v3m1-3v3m2-3v3m6-3v3m9-3v3m23-3v3m1-3v3m10-3v3m21-3v3m1-3v3m1-3v3m1-3v3m6-3v3m16-66v3m-33 128v2"/>
<path stroke="#00ff5d" d="M12 445v3m7-3v3m27-3v3m5-3v3m17-3v3m4-3v3m5-3v3m24-66v3"/>
<path stroke="#00ff43" d="M8 445v3m6-3v3m21-3v3m19-3v3m17-3v3m20-3v3"/>
<path stroke="#0f1" d="M39 445v3m14-3v3m4-3v3m5-3v3m31-3v3m2-3v3m1-133v2"/>
<path stroke="#41ff00" d="M21 445v3m79-3v3m-5-133v2m2-2v2m1-2v2"/>
<path stroke="#6f0" d="M94 445v3m7-133v2"/>
<path stroke="#a0ff00" d="M96 445v3m1-3v3m1-3v3m1-3v3"/>
<path stroke="#beff00" d="M104 445v3m-4-133v2"/>
<path stroke="#f5fd00" d="M102 445v3"/>
<path stroke="#f9f600" d="M101 445v3m2-3v3m4-3v3"/>
<path stroke="#fdef00" d="M105 445v3m1-3v3m-7-133v2m3-2v2m15-2v2"/>
<path stroke="#ffe300" d="M108 445v3m1-3v3"/>
<path stroke="#ffbf00" d="M103 315v2m3-2v2m12-2v2"/>
<path stroke="#ff9500" d="M105 315v2m9-2v2m1-2v2m4-2v2m1-2v2"/>
<path stroke="#ff6400" d="M116 445v3m-9-133v2"/>
<path stroke="#ff4d00" d="M110 445v3m0-133v2m3-2v2m3-2v2"/>
<path stroke="#ff3700" d="M104 315v2m5-2v2m2-2v2"/>
<path stroke="#ff1400" d="M118 445v3m-10-133v2"/>
<path stroke="#f00" d="M112 445v3m3-3v3"/>
<path stroke="#f60000" d="M111 445v3m2-3v3m4-3v3m3-3v3"/>
<path stroke="#e30000" d="M112 315v2"/>
<path stroke="#cf0000" d="M114 445v3m5-3v3"/>
</g></g>
<g fill="#000" shape-rendering="crispEdges">
<rect x="166" y="186" width="4" height="609"/>
<rect x="1186" y="186" width="4" height="609"/>
<rect x="148" y="197" width="1061" height="3"/>
<rect x="148" y="782" width="1061" height="3"/>
<rect x="251" y="192" width="4" height="5"/>
<rect x="251" y="785" width="4" height="4"/>
<rect x="336" y="192" width="4" height="5"/>
<rect x="336" y="785" width="4" height="4"/>
<rect x="421" y="186" width="4" height="11"/>
<rect x="421" y="785" width="4" height="10"/>
<rect x="506" y="192" width="4" height="5"/>
<rect x="506" y="785" width="4" height="4"/>
<rect x="591" y="192" width="4" height="5"/>
<rect x="591" y="785" width="4" height="4"/>
<rect x="676" y="186" width="4" height="11"/>
<rect x="676" y="785" width="4" height="10"/>
<rect x="761" y="192" width="4" height="5"/>
<rect x="761" y="785" width="4" height="4"/>
<rect x="846" y="192" width="4" height="5"/>
<rect x="846" y="785" width="4" height="4"/>
<rect x="931" y="186" width="4" height="11"/>
<rect x="931" y="785" width="4" height="10"/>
<rect x="1016" y="192" width="4" height="5"/>
<rect x="1016" y="785" width="4" height="4"/>
<rect x="1101" y="192" width="4" height="5"/>
<rect x="1101" y="785" width="4" height="4"/>
<rect x="148" y="281" width="18" height="3"/>
<rect x="1190" y="281" width="19" height="3"/>
<rect x="148" y="364" width="18" height="3"/>
<rect x="1190" y="364" width="19" height="3"/>
<rect x="148" y="448" width="18" height="3"/>
<rect x="1190" y="448" width="19" height="3"/>
<rect x="148" y="531" width="18" height="3"/>
<rect x="1190" y="531" width="19" height="3"/>
<rect x="148" y="615" width="18" height="3"/>
<rect x="1190" y="615" width="19" height="3"/>
<rect x="148" y="698" width="18" height="3"/>
<rect x="1190" y="698" width="19" height="3"/>
</g>
<rect x="1365.5" y="227.5" width="25" height="527" fill="url(#g)" stroke="#000" stroke-width="3" stroke-linejoin="round"/>
<g fill="#000" shape-rendering="crispEdges"><rect x="1364" y="228" width="4" height="526"/><rect x="1388" y="228" width="4" height="526"/>
<rect x="1366" y="292" width="24" height="3"/>
<rect x="1366" y="358" width="24" height="3"/>
<rect x="1366" y="424" width="24" height="3"/>
<rect x="1366" y="489" width="24" height="3"/>
<rect x="1366" y="554" width="24" height="3"/>
<rect x="1366" y="620" width="24" height="3"/>
<rect x="1366" y="687" width="24" height="3"/>
</g>
<text transform="translate(183.5 90) scale(0.945 1.0)" font-style="italic" font-size="49">NYA6 6300 Å</text>
<text transform="translate(184.5 120) scale(1.0 1.01)" font-style="italic" font-size="31.5">2019-02-06 03:00-04:00 UT</text>
<text transform="translate(679 132.4) scale(1.04 1.06)" text-anchor="middle">MLT</text>
<text transform="translate(168.5 168.5) scale(1.0 1.02)" text-anchor="middle">5.3</text>
<text transform="translate(423.5 168.5) scale(1.0 1.02)" text-anchor="middle">5.6</text>
<text transform="translate(678.5 168.5) scale(1.0 1.02)" text-anchor="middle">5.9</text>
<text transform="translate(933.5 168.5) scale(1.0 1.02)" text-anchor="middle">6.1</text>
<text transform="translate(1188.5 168.5) scale(1.0 1.02)" text-anchor="middle">6.4</text>
<text transform="translate(168.5 848) scale(1.0 1.02)" text-anchor="middle">03:00</text>
<text transform="translate(423.5 848) scale(1.0 1.02)" text-anchor="middle">03:15</text>
<text transform="translate(678.5 848) scale(1.0 1.02)" text-anchor="middle">03:30</text>
<text transform="translate(933.5 848) scale(1.0 1.02)" text-anchor="middle">03:45</text>
<text transform="translate(1188.5 848) scale(1.0 1.02)" text-anchor="middle">04:00</text>
<text transform="translate(678.5 895.6) scale(1.0 1.06)" text-anchor="middle">Time UT</text>
<text transform="translate(137.5 223) scale(1.0 1.02)" text-anchor="end">19.3</text>
<text transform="translate(137.5 296) scale(1.0 1.02)" text-anchor="end">41.7</text>
<text transform="translate(137.5 380) scale(1.0 1.02)" text-anchor="end">62.2</text>
<text transform="translate(137.5 463) scale(1.0 1.02)" text-anchor="end">80.9</text>
<text transform="translate(137.5 547) scale(1.0 1.02)" text-anchor="end">80.9</text>
<text transform="translate(137.5 630) scale(1.0 1.02)" text-anchor="end">62.6</text>
<text transform="translate(137.5 714) scale(1.0 1.02)" text-anchor="end">41.9</text>
<text transform="translate(137.5 783) scale(1.0 1.02)" text-anchor="end">19.0</text>
<text transform="translate(1220.5 223) scale(1.0 1.02)">82.8</text>
<text transform="translate(1220.5 296) scale(1.0 1.02)">79.0</text>
<text transform="translate(1220.5 380) scale(1.0 1.02)">77.7</text>
<text transform="translate(1220.5 463) scale(1.0 1.02)">76.9</text>
<text transform="translate(1220.5 547) scale(1.0 1.02)">76.2</text>
<text transform="translate(1220.5 630) scale(1.0 1.02)">75.4</text>
<text transform="translate(1220.5 714) scale(1.0 1.02)">74.1</text>
<text transform="translate(1220.5 783) scale(1.0 1.02)">70.1</text>
<text transform="translate(1402.5 307.4) scale(1.0 1.02)">0.58</text>
<text transform="translate(1402.5 373.2) scale(1.0 1.02)">0.50</text>
<text transform="translate(1402.5 439.3) scale(1.0 1.02)">0.42</text>
<text transform="translate(1402.5 504.6) scale(1.0 1.02)">0.36</text>
<text transform="translate(1402.5 570.2) scale(1.0 1.02)">0.31</text>
<text transform="translate(1402.5 636.3) scale(1.0 1.02)">0.26</text>
<text transform="translate(1402.5 702.4) scale(1.0 1.02)">0.23</text>
<text transform="translate(39 490.5) rotate(-90) scale(1.0 1.06)" text-anchor="middle">Elevation</text>
<text transform="translate(1324 489) rotate(-90) scale(1.0 1.06)" text-anchor="middle">MLAT</text>
<text transform="translate(1506 491) rotate(-90) scale(1.01 1.06)" text-anchor="middle">Brightness [kR]</text>
</svg>
</body></html>
